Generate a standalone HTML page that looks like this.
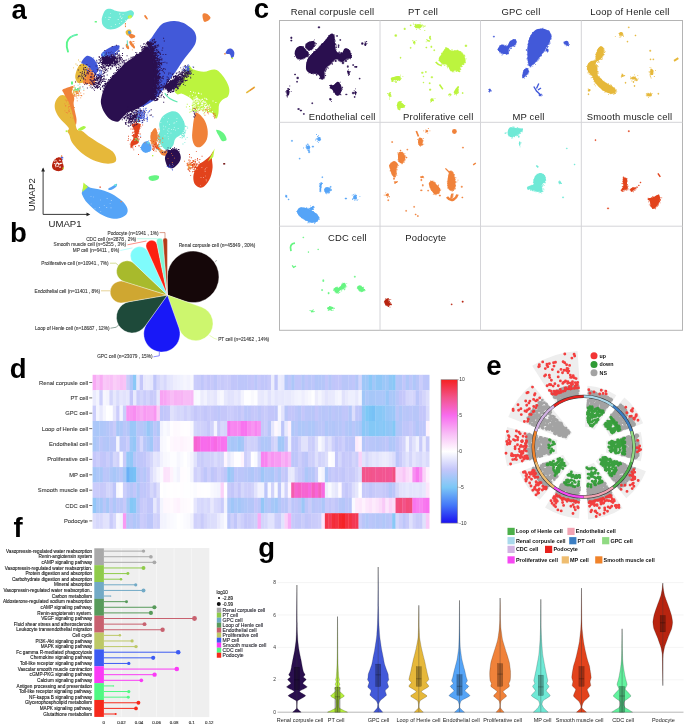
<!DOCTYPE html>
<html><head><meta charset="utf-8"><title>Figure</title>
<style>html,body{margin:0;padding:0;background:#fff}svg{display:block;font-family:"Liberation Sans",Arial,sans-serif}</style></head>
<body><svg width="685" height="728" viewBox="0 0 685 728">
<rect width="685" height="728" fill="#fff"/>
<g id="pa"><path d="M160.4,25.5C162.8,23.0 164.6,22.8 167.0,22.0C169.4,21.2 172.0,20.9 174.7,21.0C177.4,21.1 180.6,21.9 183.0,22.8C185.4,23.7 187.2,25.2 189.0,26.6C190.8,28.0 192.8,29.3 194.0,31.0C195.2,32.7 195.9,34.8 196.2,36.8C196.4,38.8 196.2,41.0 195.5,43.0C194.8,45.0 193.9,46.3 192.0,49.0C190.1,51.7 186.7,55.5 184.0,59.3C181.3,63.0 178.9,67.1 175.8,71.5C172.7,75.9 168.4,81.7 165.5,85.8C162.6,89.9 161.3,93.0 158.4,96.0C155.5,99.0 151.1,102.7 148.0,104.0C144.9,105.3 140.5,109.7 140.0,104.0C139.5,98.3 143.6,80.0 145.0,70.0C146.4,60.0 147.0,49.5 148.2,44.0C149.4,38.5 150.3,39.9 152.3,36.8C154.3,33.7 158.0,28.0 160.4,25.5Z" fill="#4259d9" />
<path d="M101.3,98.0C102.0,94.8 103.0,89.9 105.4,85.8C107.8,81.7 111.8,77.7 115.6,73.6C119.3,69.5 123.8,64.7 127.9,61.3C132.0,57.9 136.9,55.5 140.0,53.0C143.1,50.5 144.6,46.9 146.3,46.5C148.1,46.1 149.3,48.0 150.5,50.5C151.7,53.0 152.8,57.7 153.6,61.3C154.3,64.9 154.9,68.6 155.0,72.0C155.1,75.4 154.7,78.8 154.4,81.8C154.2,84.8 154.0,87.3 153.5,90.0C153.0,92.7 152.8,95.7 151.4,98.0C150.0,100.3 147.2,102.3 145.0,104.0C142.8,105.7 140.8,107.0 138.0,108.4C135.2,109.8 130.6,110.9 127.9,112.5C125.2,114.1 123.7,116.5 122.0,118.0C120.3,119.5 119.6,121.4 117.7,121.7C115.8,122.0 112.7,121.1 110.5,119.6C108.3,118.1 105.9,114.9 104.4,112.5C102.9,110.1 101.8,107.4 101.3,105.0C100.8,102.6 100.6,101.2 101.3,98.0Z" fill="#2a0f4f" />
<path d="M154.2,46.8h1.0v1.0h-1.0zM155.0,69.3h1.0v1.0h-1.0zM148.9,46.8h1.0v1.0h-1.0zM153.0,85.6h1.0v1.0h-1.0zM158.7,52.6h1.0v1.0h-1.0zM149.0,42.5h1.0v1.0h-1.0zM152.7,53.4h1.0v1.0h-1.0zM155.3,66.5h1.0v1.0h-1.0zM152.7,53.5h1.0v1.0h-1.0zM154.6,90.1h1.0v1.0h-1.0zM155.5,100.0h1.0v1.0h-1.0zM157.1,83.1h1.0v1.0h-1.0zM155.5,90.4h1.0v1.0h-1.0zM156.3,93.5h1.0v1.0h-1.0zM147.9,43.3h1.0v1.0h-1.0zM152.4,50.3h1.0v1.0h-1.0zM154.2,62.6h1.0v1.0h-1.0zM155.1,71.2h1.0v1.0h-1.0zM150.6,43.0h1.0v1.0h-1.0zM153.0,63.8h1.0v1.0h-1.0zM155.5,85.9h1.0v1.0h-1.0zM161.5,70.1h1.0v1.0h-1.0zM153.9,56.2h1.0v1.0h-1.0zM158.1,86.7h1.0v1.0h-1.0zM154.7,88.5h1.0v1.0h-1.0zM152.3,42.6h1.0v1.0h-1.0zM155.4,70.4h1.0v1.0h-1.0zM156.3,71.9h1.0v1.0h-1.0zM147.7,43.7h1.0v1.0h-1.0zM156.5,91.6h1.0v1.0h-1.0zM156.3,54.7h1.0v1.0h-1.0zM146.7,42.8h1.0v1.0h-1.0zM151.3,46.8h1.0v1.0h-1.0zM152.3,50.2h1.0v1.0h-1.0zM155.1,82.9h1.0v1.0h-1.0zM147.8,42.9h1.0v1.0h-1.0zM154.2,45.2h1.0v1.0h-1.0zM158.6,76.6h1.0v1.0h-1.0zM153.3,48.8h1.0v1.0h-1.0zM156.0,81.4h1.0v1.0h-1.0zM155.2,88.1h1.0v1.0h-1.0zM155.4,64.1h1.0v1.0h-1.0zM149.2,44.7h1.0v1.0h-1.0zM157.1,58.3h1.0v1.0h-1.0zM154.9,84.5h1.0v1.0h-1.0zM152.5,91.4h1.0v1.0h-1.0zM155.2,73.6h1.0v1.0h-1.0zM155.3,82.3h1.0v1.0h-1.0zM153.6,52.5h1.0v1.0h-1.0zM151.4,46.7h1.0v1.0h-1.0zM157.9,58.6h1.0v1.0h-1.0zM152.4,52.6h1.0v1.0h-1.0zM153.2,60.1h1.0v1.0h-1.0zM152.7,95.1h1.0v1.0h-1.0zM164.8,68.8h1.0v1.0h-1.0zM149.1,46.3h1.0v1.0h-1.0zM155.9,85.2h1.0v1.0h-1.0zM154.0,60.3h1.0v1.0h-1.0zM156.6,98.1h1.0v1.0h-1.0zM149.6,47.8h1.0v1.0h-1.0zM157.6,87.6h1.0v1.0h-1.0zM154.3,86.6h1.0v1.0h-1.0zM149.4,45.8h1.0v1.0h-1.0zM152.8,95.6h1.0v1.0h-1.0zM152.8,89.0h1.0v1.0h-1.0zM154.5,45.7h1.0v1.0h-1.0zM151.9,98.7h1.0v1.0h-1.0zM155.4,54.7h1.0v1.0h-1.0zM162.6,62.1h1.0v1.0h-1.0zM153.6,55.7h1.0v1.0h-1.0zM147.5,44.2h1.0v1.0h-1.0zM155.7,75.9h1.0v1.0h-1.0zM160.5,96.4h1.0v1.0h-1.0zM153.9,53.0h1.0v1.0h-1.0zM156.5,81.7h1.0v1.0h-1.0zM153.3,58.9h1.0v1.0h-1.0zM151.7,98.0h1.0v1.0h-1.0zM152.3,96.1h1.0v1.0h-1.0zM157.5,58.1h1.0v1.0h-1.0zM154.4,59.8h1.0v1.0h-1.0zM151.6,55.5h1.0v1.0h-1.0zM154.6,73.3h1.0v1.0h-1.0zM155.6,57.0h1.0v1.0h-1.0zM152.0,49.6h1.0v1.0h-1.0zM151.6,95.3h1.0v1.0h-1.0zM154.2,89.3h1.0v1.0h-1.0zM152.5,94.5h1.0v1.0h-1.0zM151.4,94.5h1.0v1.0h-1.0zM159.6,87.9h1.0v1.0h-1.0zM154.1,81.3h1.0v1.0h-1.0zM156.5,83.0h1.0v1.0h-1.0zM154.6,97.9h1.0v1.0h-1.0zM153.8,91.1h1.0v1.0h-1.0zM151.6,55.8h1.0v1.0h-1.0zM154.2,74.3h1.0v1.0h-1.0zM150.4,48.1h1.0v1.0h-1.0zM155.8,64.1h1.0v1.0h-1.0zM155.6,71.4h1.0v1.0h-1.0zM157.2,81.6h1.0v1.0h-1.0zM154.1,69.0h1.0v1.0h-1.0zM157.8,95.8h1.0v1.0h-1.0zM147.1,44.5h1.0v1.0h-1.0zM154.2,49.4h1.0v1.0h-1.0zM158.3,82.0h1.0v1.0h-1.0zM156.3,83.6h1.0v1.0h-1.0zM153.1,97.4h1.0v1.0h-1.0zM153.3,53.2h1.0v1.0h-1.0zM156.8,81.2h1.0v1.0h-1.0zM154.5,50.2h1.0v1.0h-1.0zM155.6,89.4h1.0v1.0h-1.0zM151.3,96.2h1.0v1.0h-1.0zM156.3,79.9h1.0v1.0h-1.0zM152.0,97.3h1.0v1.0h-1.0zM151.8,51.0h1.0v1.0h-1.0zM150.9,96.5h1.0v1.0h-1.0zM150.2,48.4h1.0v1.0h-1.0zM146.8,42.1h1.0v1.0h-1.0zM156.5,77.5h1.0v1.0h-1.0zM154.0,57.5h1.0v1.0h-1.0zM154.7,54.5h1.0v1.0h-1.0zM152.0,98.0h1.0v1.0h-1.0zM155.4,86.1h1.0v1.0h-1.0zM153.3,46.2h1.0v1.0h-1.0zM162.8,71.3h1.0v1.0h-1.0zM151.2,48.4h1.0v1.0h-1.0zM155.0,70.2h1.0v1.0h-1.0zM155.0,66.9h1.0v1.0h-1.0zM155.9,86.9h1.0v1.0h-1.0zM154.1,62.9h1.0v1.0h-1.0zM159.8,75.9h1.0v1.0h-1.0zM152.1,98.3h1.0v1.0h-1.0zM164.8,85.4h1.0v1.0h-1.0zM156.0,77.2h1.0v1.0h-1.0zM154.3,63.8h1.0v1.0h-1.0zM158.0,75.0h1.0v1.0h-1.0zM157.1,69.0h1.0v1.0h-1.0zM155.1,77.4h1.0v1.0h-1.0zM155.3,96.0h1.0v1.0h-1.0zM155.3,89.3h1.0v1.0h-1.0zM158.8,82.6h1.0v1.0h-1.0zM154.4,89.9h1.0v1.0h-1.0zM157.2,70.5h1.0v1.0h-1.0zM153.2,79.2h1.0v1.0h-1.0zM154.9,80.9h1.0v1.0h-1.0zM151.8,53.0h1.0v1.0h-1.0zM152.0,44.0h1.0v1.0h-1.0zM157.5,70.9h1.0v1.0h-1.0zM157.9,83.3h1.0v1.0h-1.0zM153.7,54.6h1.0v1.0h-1.0zM153.4,92.4h1.0v1.0h-1.0zM159.1,82.6h1.0v1.0h-1.0zM154.6,77.5h1.0v1.0h-1.0zM153.7,86.7h1.0v1.0h-1.0zM152.5,97.5h1.0v1.0h-1.0zM154.7,76.3h1.0v1.0h-1.0zM152.5,48.3h1.0v1.0h-1.0zM154.6,54.1h1.0v1.0h-1.0zM150.1,47.1h1.0v1.0h-1.0zM150.3,51.7h1.0v1.0h-1.0zM151.1,53.2h1.0v1.0h-1.0zM152.8,98.0h1.0v1.0h-1.0zM152.3,47.1h1.0v1.0h-1.0zM155.1,69.9h1.0v1.0h-1.0zM154.4,89.0h1.0v1.0h-1.0zM154.1,82.3h1.0v1.0h-1.0zM150.6,98.1h1.0v1.0h-1.0zM153.2,59.0h1.0v1.0h-1.0zM158.9,63.6h1.0v1.0h-1.0zM151.9,94.4h1.0v1.0h-1.0zM149.1,44.8h1.0v1.0h-1.0zM158.7,91.5h1.0v1.0h-1.0zM152.8,90.1h1.0v1.0h-1.0zM148.4,46.5h1.0v1.0h-1.0zM158.4,81.1h1.0v1.0h-1.0zM162.9,78.2h1.0v1.0h-1.0zM153.9,42.0h1.0v1.0h-1.0zM156.1,76.4h1.0v1.0h-1.0zM154.6,61.8h1.0v1.0h-1.0zM156.2,64.9h1.0v1.0h-1.0zM157.2,84.1h1.0v1.0h-1.0zM156.4,46.7h1.0v1.0h-1.0zM148.0,44.5h1.0v1.0h-1.0zM164.4,61.7h1.0v1.0h-1.0zM153.5,67.0h1.0v1.0h-1.0zM152.0,92.2h1.0v1.0h-1.0zM153.7,87.7h1.0v1.0h-1.0zM154.9,84.1h1.0v1.0h-1.0zM158.0,89.6h1.0v1.0h-1.0zM153.5,55.1h1.0v1.0h-1.0zM161.3,87.2h1.0v1.0h-1.0zM155.9,79.1h1.0v1.0h-1.0zM155.2,90.2h1.0v1.0h-1.0zM153.8,89.8h1.0v1.0h-1.0zM154.0,71.6h1.0v1.0h-1.0zM151.1,42.3h1.0v1.0h-1.0zM153.2,58.6h1.0v1.0h-1.0zM156.2,70.5h1.0v1.0h-1.0zM154.4,60.1h1.0v1.0h-1.0zM160.8,68.1h1.0v1.0h-1.0zM160.1,90.0h1.0v1.0h-1.0zM150.7,47.9h1.0v1.0h-1.0zM156.4,86.6h1.0v1.0h-1.0zM153.4,96.5h1.0v1.0h-1.0zM152.5,98.4h1.0v1.0h-1.0zM156.0,81.1h1.0v1.0h-1.0zM156.9,64.7h1.0v1.0h-1.0zM155.0,72.8h1.0v1.0h-1.0zM156.0,78.0h1.0v1.0h-1.0zM155.4,91.7h1.0v1.0h-1.0zM148.1,42.4h1.0v1.0h-1.0zM157.2,55.8h1.0v1.0h-1.0zM153.1,92.9h1.0v1.0h-1.0zM155.0,96.3h1.0v1.0h-1.0zM151.1,99.5h1.0v1.0h-1.0zM154.9,86.1h1.0v1.0h-1.0zM155.9,93.3h1.0v1.0h-1.0zM154.1,91.1h1.0v1.0h-1.0zM153.9,81.4h1.0v1.0h-1.0zM155.8,93.4h1.0v1.0h-1.0zM155.9,74.1h1.0v1.0h-1.0zM160.4,91.0h1.0v1.0h-1.0zM152.9,58.7h1.0v1.0h-1.0zM164.0,72.6h1.0v1.0h-1.0zM153.4,99.4h1.0v1.0h-1.0zM160.9,63.5h1.0v1.0h-1.0zM158.4,94.7h1.0v1.0h-1.0zM157.4,68.0h1.0v1.0h-1.0zM154.7,69.0h1.0v1.0h-1.0zM154.6,61.3h1.0v1.0h-1.0zM156.5,54.9h1.0v1.0h-1.0zM150.5,99.0h1.0v1.0h-1.0zM155.2,81.0h1.0v1.0h-1.0zM155.8,82.7h1.0v1.0h-1.0zM149.2,46.7h1.0v1.0h-1.0zM146.9,43.3h1.0v1.0h-1.0zM156.8,63.8h1.0v1.0h-1.0zM167.9,77.6h1.0v1.0h-1.0zM160.5,59.3h1.0v1.0h-1.0zM155.4,72.9h1.0v1.0h-1.0zM152.1,56.4h1.0v1.0h-1.0zM156.2,91.8h1.0v1.0h-1.0zM156.1,63.7h1.0v1.0h-1.0zM152.1,93.5h1.0v1.0h-1.0zM159.5,63.3h1.0v1.0h-1.0zM159.4,64.7h1.0v1.0h-1.0zM159.4,69.1h1.0v1.0h-1.0zM154.4,85.3h1.0v1.0h-1.0zM153.8,98.7h1.0v1.0h-1.0zM153.3,56.4h1.0v1.0h-1.0zM153.2,90.6h1.0v1.0h-1.0zM153.9,65.2h1.0v1.0h-1.0zM162.1,76.4h1.0v1.0h-1.0zM151.3,49.8h1.0v1.0h-1.0zM152.2,56.7h1.0v1.0h-1.0zM155.5,60.7h1.0v1.0h-1.0zM155.9,81.7h1.0v1.0h-1.0zM156.6,80.8h1.0v1.0h-1.0zM154.2,59.1h1.0v1.0h-1.0zM150.9,49.4h1.0v1.0h-1.0zM155.7,81.9h1.0v1.0h-1.0zM153.2,52.0h1.0v1.0h-1.0zM146.2,42.7h1.0v1.0h-1.0zM148.7,45.5h1.0v1.0h-1.0zM155.2,60.3h1.0v1.0h-1.0zM153.1,60.6h1.0v1.0h-1.0zM154.3,80.9h1.0v1.0h-1.0zM149.8,47.2h1.0v1.0h-1.0zM146.8,44.0h1.0v1.0h-1.0zM154.6,78.0h1.0v1.0h-1.0zM155.2,70.8h1.0v1.0h-1.0zM156.1,87.7h1.0v1.0h-1.0zM153.3,91.5h1.0v1.0h-1.0zM155.8,71.5h1.0v1.0h-1.0zM154.2,93.8h1.0v1.0h-1.0zM154.4,70.9h1.0v1.0h-1.0zM154.7,73.1h1.0v1.0h-1.0zM155.3,68.6h1.0v1.0h-1.0zM155.4,79.1h1.0v1.0h-1.0zM156.8,83.4h1.0v1.0h-1.0zM154.3,80.7h1.0v1.0h-1.0zM153.0,91.7h1.0v1.0h-1.0zM158.7,59.6h1.0v1.0h-1.0zM155.1,63.3h1.0v1.0h-1.0zM154.8,55.7h1.0v1.0h-1.0zM153.9,38.8h1.0v1.0h-1.0zM155.7,62.6h1.0v1.0h-1.0zM155.1,86.9h1.0v1.0h-1.0zM156.1,64.6h1.0v1.0h-1.0zM150.1,42.7h1.0v1.0h-1.0zM149.2,47.8h1.0v1.0h-1.0zM162.6,54.0h1.0v1.0h-1.0zM157.7,88.6h1.0v1.0h-1.0zM153.4,54.7h1.0v1.0h-1.0zM159.5,87.3h1.0v1.0h-1.0zM156.2,60.5h1.0v1.0h-1.0zM148.8,44.6h1.0v1.0h-1.0zM154.4,88.5h1.0v1.0h-1.0zM153.8,70.6h1.0v1.0h-1.0zM152.8,50.6h1.0v1.0h-1.0zM163.8,83.2h1.0v1.0h-1.0zM158.2,63.3h1.0v1.0h-1.0zM150.2,46.8h1.0v1.0h-1.0zM154.6,86.9h1.0v1.0h-1.0zM156.8,86.6h1.0v1.0h-1.0zM156.7,72.1h1.0v1.0h-1.0zM151.3,49.5h1.0v1.0h-1.0zM148.7,45.4h1.0v1.0h-1.0zM154.6,88.2h1.0v1.0h-1.0zM160.6,91.1h1.0v1.0h-1.0zM157.7,77.9h1.0v1.0h-1.0zM153.6,62.9h1.0v1.0h-1.0zM154.2,94.6h1.0v1.0h-1.0zM160.6,86.7h1.0v1.0h-1.0zM155.6,75.4h1.0v1.0h-1.0zM154.3,95.7h1.0v1.0h-1.0zM155.9,79.7h1.0v1.0h-1.0zM151.5,47.4h1.0v1.0h-1.0zM155.9,78.4h1.0v1.0h-1.0zM153.7,39.4h1.0v1.0h-1.0zM156.3,64.9h1.0v1.0h-1.0zM154.2,59.2h1.0v1.0h-1.0zM153.7,65.4h1.0v1.0h-1.0zM155.1,51.9h1.0v1.0h-1.0zM159.0,73.2h1.0v1.0h-1.0zM154.7,83.8h1.0v1.0h-1.0zM153.7,61.1h1.0v1.0h-1.0zM150.5,49.2h1.0v1.0h-1.0zM154.0,72.5h1.0v1.0h-1.0zM156.1,74.6h1.0v1.0h-1.0zM154.2,77.3h1.0v1.0h-1.0zM154.6,84.2h1.0v1.0h-1.0zM151.6,48.1h1.0v1.0h-1.0zM153.7,62.3h1.0v1.0h-1.0zM157.8,61.1h1.0v1.0h-1.0zM155.4,61.0h1.0v1.0h-1.0zM152.5,53.4h1.0v1.0h-1.0zM156.6,75.4h1.0v1.0h-1.0zM151.6,43.6h1.0v1.0h-1.0zM153.8,97.5h1.0v1.0h-1.0zM154.8,78.3h1.0v1.0h-1.0zM154.8,45.2h1.0v1.0h-1.0zM160.3,63.1h1.0v1.0h-1.0zM151.8,56.1h1.0v1.0h-1.0zM154.2,85.6h1.0v1.0h-1.0zM154.1,55.4h1.0v1.0h-1.0zM159.3,69.8h1.0v1.0h-1.0zM154.8,65.7h1.0v1.0h-1.0zM151.5,48.0h1.0v1.0h-1.0zM154.8,52.4h1.0v1.0h-1.0zM151.8,93.7h1.0v1.0h-1.0zM155.4,65.3h1.0v1.0h-1.0zM152.4,51.8h1.0v1.0h-1.0zM159.0,60.5h1.0v1.0h-1.0zM152.9,42.9h1.0v1.0h-1.0zM151.2,51.2h1.0v1.0h-1.0zM149.5,43.6h1.0v1.0h-1.0zM166.4,62.5h1.0v1.0h-1.0zM155.5,78.5h1.0v1.0h-1.0zM153.5,95.6h1.0v1.0h-1.0zM155.7,65.8h1.0v1.0h-1.0zM159.0,76.2h1.0v1.0h-1.0zM156.2,87.7h1.0v1.0h-1.0zM155.8,87.5h1.0v1.0h-1.0zM151.9,40.4h1.0v1.0h-1.0zM156.4,72.7h1.0v1.0h-1.0zM158.5,78.4h1.0v1.0h-1.0zM153.3,88.4h1.0v1.0h-1.0zM156.9,52.3h1.0v1.0h-1.0zM154.8,58.1h1.0v1.0h-1.0zM155.0,91.2h1.0v1.0h-1.0zM158.4,78.8h1.0v1.0h-1.0zM156.2,72.8h1.0v1.0h-1.0zM157.4,49.5h1.0v1.0h-1.0zM155.3,56.9h1.0v1.0h-1.0zM153.6,56.5h1.0v1.0h-1.0zM161.6,94.2h1.0v1.0h-1.0zM159.2,57.6h1.0v1.0h-1.0zM154.7,66.5h1.0v1.0h-1.0zM156.1,58.5h1.0v1.0h-1.0zM157.2,75.2h1.0v1.0h-1.0zM151.3,97.6h1.0v1.0h-1.0zM154.5,75.3h1.0v1.0h-1.0zM154.9,41.9h1.0v1.0h-1.0zM154.3,83.2h1.0v1.0h-1.0zM150.6,98.3h1.0v1.0h-1.0zM150.3,41.2h1.0v1.0h-1.0zM149.0,43.3h1.0v1.0h-1.0zM154.6,69.7h1.0v1.0h-1.0zM151.2,52.2h1.0v1.0h-1.0zM152.6,95.5h1.0v1.0h-1.0zM146.7,42.8h1.0v1.0h-1.0zM152.3,96.3h1.0v1.0h-1.0zM149.3,44.9h1.0v1.0h-1.0zM155.1,97.3h1.0v1.0h-1.0zM155.3,69.7h1.0v1.0h-1.0zM153.4,91.3h1.0v1.0h-1.0zM155.2,80.3h1.0v1.0h-1.0zM154.7,76.8h1.0v1.0h-1.0zM149.0,43.7h1.0v1.0h-1.0zM157.1,66.4h1.0v1.0h-1.0zM154.9,77.7h1.0v1.0h-1.0zM157.5,60.8h1.0v1.0h-1.0zM154.7,84.3h1.0v1.0h-1.0zM158.3,75.4h1.0v1.0h-1.0zM149.1,46.3h1.0v1.0h-1.0zM152.7,47.4h1.0v1.0h-1.0zM159.6,52.4h1.0v1.0h-1.0zM154.9,85.7h1.0v1.0h-1.0zM153.3,57.8h1.0v1.0h-1.0zM152.7,92.1h1.0v1.0h-1.0zM156.4,76.4h1.0v1.0h-1.0zM154.5,64.6h1.0v1.0h-1.0zM159.4,84.8h1.0v1.0h-1.0zM154.1,58.4h1.0v1.0h-1.0zM155.6,62.1h1.0v1.0h-1.0zM154.7,58.8h1.0v1.0h-1.0zM155.1,72.9h1.0v1.0h-1.0zM149.5,45.9h1.0v1.0h-1.0zM157.3,84.8h1.0v1.0h-1.0zM154.2,62.8h1.0v1.0h-1.0zM155.0,70.3h1.0v1.0h-1.0zM148.5,45.9h1.0v1.0h-1.0zM153.0,90.6h1.0v1.0h-1.0zM153.0,60.4h1.0v1.0h-1.0zM151.6,52.5h1.0v1.0h-1.0zM152.1,54.4h1.0v1.0h-1.0zM155.5,73.5h1.0v1.0h-1.0zM146.8,42.3h1.0v1.0h-1.0zM151.8,53.7h1.0v1.0h-1.0zM159.1,88.2h1.0v1.0h-1.0zM150.2,50.2h1.0v1.0h-1.0zM155.8,75.0h1.0v1.0h-1.0zM149.9,48.0h1.0v1.0h-1.0zM155.2,97.6h1.0v1.0h-1.0zM153.0,55.5h1.0v1.0h-1.0zM152.0,55.9h1.0v1.0h-1.0zM154.4,92.1h1.0v1.0h-1.0zM154.8,63.9h1.0v1.0h-1.0zM158.1,93.5h1.0v1.0h-1.0zM152.1,43.8h1.0v1.0h-1.0zM158.1,96.0h1.0v1.0h-1.0zM154.5,67.6h1.0v1.0h-1.0zM147.2,43.2h1.0v1.0h-1.0zM155.5,92.8h1.0v1.0h-1.0zM154.7,77.7h1.0v1.0h-1.0zM154.3,54.7h1.0v1.0h-1.0zM153.3,58.5h1.0v1.0h-1.0zM156.1,95.3h1.0v1.0h-1.0zM153.1,51.5h1.0v1.0h-1.0zM152.2,52.0h1.0v1.0h-1.0zM157.2,92.5h1.0v1.0h-1.0zM155.4,80.3h1.0v1.0h-1.0zM147.2,43.0h1.0v1.0h-1.0zM151.9,53.0h1.0v1.0h-1.0zM155.2,64.5h1.0v1.0h-1.0zM153.8,81.7h1.0v1.0h-1.0zM159.1,62.1h1.0v1.0h-1.0zM154.6,58.5h1.0v1.0h-1.0zM153.1,94.2h1.0v1.0h-1.0zM155.6,74.7h1.0v1.0h-1.0zM153.9,66.6h1.0v1.0h-1.0zM150.4,49.1h1.0v1.0h-1.0zM148.2,43.9h1.0v1.0h-1.0zM152.4,91.3h1.0v1.0h-1.0zM155.3,60.0h1.0v1.0h-1.0zM150.3,98.4h1.0v1.0h-1.0zM147.1,44.3h1.0v1.0h-1.0zM149.8,49.6h1.0v1.0h-1.0zM168.5,72.5h1.0v1.0h-1.0zM155.7,74.3h1.0v1.0h-1.0zM150.4,44.1h1.0v1.0h-1.0zM151.4,51.9h1.0v1.0h-1.0zM151.8,55.6h1.0v1.0h-1.0zM155.1,57.7h1.0v1.0h-1.0zM151.7,95.3h1.0v1.0h-1.0zM156.0,73.5h1.0v1.0h-1.0zM153.4,59.7h1.0v1.0h-1.0zM159.2,73.8h1.0v1.0h-1.0zM161.7,92.3h1.0v1.0h-1.0zM155.3,54.8h1.0v1.0h-1.0zM157.7,73.7h1.0v1.0h-1.0zM156.3,73.7h1.0v1.0h-1.0zM157.8,73.8h1.0v1.0h-1.0zM150.7,43.1h1.0v1.0h-1.0zM156.5,81.4h1.0v1.0h-1.0zM154.7,85.5h1.0v1.0h-1.0zM159.8,91.2h1.0v1.0h-1.0zM152.4,50.9h1.0v1.0h-1.0zM152.1,91.7h1.0v1.0h-1.0zM163.2,101.8h1.0v1.0h-1.0zM151.6,99.3h1.0v1.0h-1.0zM154.7,76.9h1.0v1.0h-1.0zM155.9,67.8h1.0v1.0h-1.0zM153.2,96.8h1.0v1.0h-1.0zM150.4,50.2h1.0v1.0h-1.0zM156.0,62.4h1.0v1.0h-1.0zM157.4,66.4h1.0v1.0h-1.0zM150.9,43.7h1.0v1.0h-1.0zM153.5,66.9h1.0v1.0h-1.0zM148.0,43.7h1.0v1.0h-1.0zM159.7,62.9h1.0v1.0h-1.0zM154.7,75.4h1.0v1.0h-1.0zM153.6,87.5h1.0v1.0h-1.0zM154.1,90.7h1.0v1.0h-1.0zM149.4,44.1h1.0v1.0h-1.0zM154.0,70.4h1.0v1.0h-1.0zM155.2,93.5h1.0v1.0h-1.0zM158.2,45.5h1.0v1.0h-1.0zM153.2,88.5h1.0v1.0h-1.0zM149.4,47.5h1.0v1.0h-1.0zM154.3,62.7h1.0v1.0h-1.0zM155.3,69.0h1.0v1.0h-1.0zM155.2,74.6h1.0v1.0h-1.0zM154.9,69.4h1.0v1.0h-1.0zM155.3,71.5h1.0v1.0h-1.0zM156.7,73.1h1.0v1.0h-1.0zM155.5,75.6h1.0v1.0h-1.0zM154.6,72.4h1.0v1.0h-1.0zM155.0,75.0h1.0v1.0h-1.0zM154.7,85.2h1.0v1.0h-1.0zM155.3,61.2h1.0v1.0h-1.0zM158.2,87.4h1.0v1.0h-1.0zM156.4,63.7h1.0v1.0h-1.0zM159.7,63.0h1.0v1.0h-1.0zM158.1,86.9h1.0v1.0h-1.0zM155.3,76.4h1.0v1.0h-1.0zM158.1,66.1h1.0v1.0h-1.0zM152.1,48.8h1.0v1.0h-1.0zM153.5,85.1h1.0v1.0h-1.0zM157.8,78.2h1.0v1.0h-1.0zM151.6,53.1h1.0v1.0h-1.0zM150.9,97.1h1.0v1.0h-1.0zM150.8,48.2h1.0v1.0h-1.0zM152.8,59.5h1.0v1.0h-1.0zM152.4,54.4h1.0v1.0h-1.0zM150.2,45.9h1.0v1.0h-1.0zM153.8,61.7h1.0v1.0h-1.0zM148.8,44.7h1.0v1.0h-1.0zM154.2,82.9h1.0v1.0h-1.0zM153.9,81.4h1.0v1.0h-1.0zM157.6,87.7h1.0v1.0h-1.0zM153.5,63.3h1.0v1.0h-1.0zM156.6,71.1h1.0v1.0h-1.0zM154.4,62.2h1.0v1.0h-1.0zM155.3,62.3h1.0v1.0h-1.0zM151.3,54.7h1.0v1.0h-1.0zM156.7,77.2h1.0v1.0h-1.0zM152.6,88.9h1.0v1.0h-1.0zM158.4,64.3h1.0v1.0h-1.0zM155.4,94.6h1.0v1.0h-1.0zM156.2,67.1h1.0v1.0h-1.0zM157.7,60.6h1.0v1.0h-1.0zM154.1,66.4h1.0v1.0h-1.0zM153.9,57.4h1.0v1.0h-1.0zM163.1,88.3h1.0v1.0h-1.0zM153.9,76.0h1.0v1.0h-1.0zM153.4,96.4h1.0v1.0h-1.0zM153.0,94.5h1.0v1.0h-1.0zM153.2,66.1h1.0v1.0h-1.0zM154.0,62.8h1.0v1.0h-1.0zM151.9,46.9h1.0v1.0h-1.0zM152.1,94.5h1.0v1.0h-1.0zM156.2,74.3h1.0v1.0h-1.0zM154.8,75.5h1.0v1.0h-1.0zM165.3,54.0h1.0v1.0h-1.0zM155.7,68.8h1.0v1.0h-1.0zM155.1,82.1h1.0v1.0h-1.0zM156.7,70.0h1.0v1.0h-1.0zM156.1,64.6h1.0v1.0h-1.0zM155.1,77.8h1.0v1.0h-1.0zM156.3,98.7h1.0v1.0h-1.0zM156.4,90.8h1.0v1.0h-1.0zM163.8,40.6h1.0v1.0h-1.0zM157.3,66.4h1.0v1.0h-1.0zM157.7,44.2h1.0v1.0h-1.0zM154.2,77.2h1.0v1.0h-1.0zM159.9,54.1h1.0v1.0h-1.0zM151.5,46.4h1.0v1.0h-1.0zM160.2,81.7h1.0v1.0h-1.0zM156.2,71.5h1.0v1.0h-1.0zM148.3,45.0h1.0v1.0h-1.0zM156.4,58.0h1.0v1.0h-1.0zM152.2,91.7h1.0v1.0h-1.0zM155.2,74.0h1.0v1.0h-1.0zM156.4,55.0h1.0v1.0h-1.0zM148.9,42.5h1.0v1.0h-1.0zM158.0,66.5h1.0v1.0h-1.0zM149.6,42.5h1.0v1.0h-1.0zM153.2,91.2h1.0v1.0h-1.0zM154.4,100.2h1.0v1.0h-1.0zM158.4,62.0h1.0v1.0h-1.0zM155.0,55.3h1.0v1.0h-1.0zM152.2,46.1h1.0v1.0h-1.0zM147.2,41.3h1.0v1.0h-1.0zM156.1,99.8h1.0v1.0h-1.0zM153.4,62.7h1.0v1.0h-1.0zM152.9,91.0h1.0v1.0h-1.0zM154.7,93.4h1.0v1.0h-1.0zM149.3,46.9h1.0v1.0h-1.0zM155.2,60.8h1.0v1.0h-1.0zM155.2,66.2h1.0v1.0h-1.0zM161.6,78.1h1.0v1.0h-1.0zM154.5,57.3h1.0v1.0h-1.0zM154.1,56.9h1.0v1.0h-1.0zM152.9,46.4h1.0v1.0h-1.0zM160.8,87.1h1.0v1.0h-1.0zM160.2,79.6h1.0v1.0h-1.0zM154.4,84.5h1.0v1.0h-1.0zM150.6,97.2h1.0v1.0h-1.0zM161.9,86.4h1.0v1.0h-1.0zM151.5,54.4h1.0v1.0h-1.0zM151.1,45.2h1.0v1.0h-1.0zM155.3,76.6h1.0v1.0h-1.0zM148.1,44.4h1.0v1.0h-1.0zM159.1,77.3h1.0v1.0h-1.0zM159.4,78.3h1.0v1.0h-1.0zM152.8,98.7h1.0v1.0h-1.0zM154.7,99.9h1.0v1.0h-1.0zM148.3,41.2h1.0v1.0h-1.0zM150.9,49.8h1.0v1.0h-1.0zM150.8,52.6h1.0v1.0h-1.0zM154.6,91.9h1.0v1.0h-1.0zM151.3,53.9h1.0v1.0h-1.0zM154.7,82.3h1.0v1.0h-1.0zM157.9,70.5h1.0v1.0h-1.0zM148.2,45.5h1.0v1.0h-1.0zM154.4,73.3h1.0v1.0h-1.0zM154.6,72.6h1.0v1.0h-1.0zM160.3,77.0h1.0v1.0h-1.0zM152.7,57.8h1.0v1.0h-1.0zM151.0,97.8h1.0v1.0h-1.0zM153.2,58.4h1.0v1.0h-1.0zM156.5,50.7h1.0v1.0h-1.0zM154.0,79.9h1.0v1.0h-1.0zM153.3,53.3h1.0v1.0h-1.0zM147.0,42.4h1.0v1.0h-1.0zM151.6,94.0h1.0v1.0h-1.0zM147.2,42.5h1.0v1.0h-1.0zM153.8,92.2h1.0v1.0h-1.0zM151.7,51.6h1.0v1.0h-1.0zM151.3,53.3h1.0v1.0h-1.0zM152.8,53.2h1.0v1.0h-1.0zM158.9,75.8h1.0v1.0h-1.0zM153.8,81.3h1.0v1.0h-1.0zM152.2,57.3h1.0v1.0h-1.0zM157.3,98.2h1.0v1.0h-1.0zM152.4,51.8h1.0v1.0h-1.0zM150.6,46.2h1.0v1.0h-1.0zM152.2,92.1h1.0v1.0h-1.0zM149.2,43.2h1.0v1.0h-1.0zM155.4,88.6h1.0v1.0h-1.0zM153.5,97.9h1.0v1.0h-1.0zM154.2,60.2h1.0v1.0h-1.0zM155.4,88.9h1.0v1.0h-1.0zM152.6,95.9h1.0v1.0h-1.0zM156.1,63.0h1.0v1.0h-1.0zM158.6,76.4h1.0v1.0h-1.0zM154.4,74.5h1.0v1.0h-1.0zM158.1,77.6h1.0v1.0h-1.0zM159.4,70.1h1.0v1.0h-1.0zM158.0,75.4h1.0v1.0h-1.0zM153.3,49.7h1.0v1.0h-1.0zM155.3,69.3h1.0v1.0h-1.0zM152.6,57.9h1.0v1.0h-1.0zM154.5,79.4h1.0v1.0h-1.0zM155.9,62.1h1.0v1.0h-1.0zM154.5,88.0h1.0v1.0h-1.0zM156.3,73.6h1.0v1.0h-1.0zM146.7,43.4h1.0v1.0h-1.0zM157.6,77.2h1.0v1.0h-1.0zM159.7,53.3h1.0v1.0h-1.0zM153.4,82.5h1.0v1.0h-1.0zM150.8,98.8h1.0v1.0h-1.0zM148.0,41.4h1.0v1.0h-1.0zM153.8,89.7h1.0v1.0h-1.0zM152.3,97.3h1.0v1.0h-1.0zM154.7,82.7h1.0v1.0h-1.0zM159.9,59.2h1.0v1.0h-1.0zM153.4,85.0h1.0v1.0h-1.0zM155.5,70.5h1.0v1.0h-1.0zM153.8,99.6h1.0v1.0h-1.0zM158.7,82.5h1.0v1.0h-1.0zM155.5,61.1h1.0v1.0h-1.0zM151.2,54.1h1.0v1.0h-1.0zM153.1,92.0h1.0v1.0h-1.0zM151.7,55.6h1.0v1.0h-1.0zM151.4,49.7h1.0v1.0h-1.0zM156.8,72.7h1.0v1.0h-1.0zM149.1,43.9h1.0v1.0h-1.0zM154.9,75.3h1.0v1.0h-1.0zM152.9,95.9h1.0v1.0h-1.0zM154.2,66.8h1.0v1.0h-1.0zM155.0,83.7h1.0v1.0h-1.0zM155.3,41.1h1.0v1.0h-1.0zM162.8,75.8h1.0v1.0h-1.0zM153.1,48.2h1.0v1.0h-1.0zM158.4,51.6h1.0v1.0h-1.0zM154.7,94.5h1.0v1.0h-1.0zM152.6,90.7h1.0v1.0h-1.0zM154.0,82.1h1.0v1.0h-1.0zM155.9,48.9h1.0v1.0h-1.0zM159.1,65.1h1.0v1.0h-1.0zM150.7,44.6h1.0v1.0h-1.0zM155.7,73.3h1.0v1.0h-1.0zM147.6,42.7h1.0v1.0h-1.0zM155.5,72.4h1.0v1.0h-1.0zM153.3,56.3h1.0v1.0h-1.0zM154.6,54.8h1.0v1.0h-1.0zM149.6,41.9h1.0v1.0h-1.0zM158.9,86.1h1.0v1.0h-1.0zM155.8,66.1h1.0v1.0h-1.0zM155.7,92.9h1.0v1.0h-1.0zM151.0,43.0h1.0v1.0h-1.0zM155.3,78.4h1.0v1.0h-1.0zM150.8,98.4h1.0v1.0h-1.0zM157.7,76.2h1.0v1.0h-1.0zM153.6,40.9h1.0v1.0h-1.0zM158.8,77.3h1.0v1.0h-1.0zM156.1,83.3h1.0v1.0h-1.0zM157.1,81.3h1.0v1.0h-1.0zM154.0,65.2h1.0v1.0h-1.0zM157.0,99.6h1.0v1.0h-1.0zM155.9,69.6h1.0v1.0h-1.0zM154.6,63.2h1.0v1.0h-1.0zM153.8,83.9h1.0v1.0h-1.0zM152.8,56.9h1.0v1.0h-1.0zM158.5,80.9h1.0v1.0h-1.0zM157.7,67.8h1.0v1.0h-1.0zM153.8,88.6h1.0v1.0h-1.0zM148.7,43.7h1.0v1.0h-1.0zM159.1,91.6h1.0v1.0h-1.0zM152.9,88.6h1.0v1.0h-1.0zM152.9,91.2h1.0v1.0h-1.0zM157.9,70.3h1.0v1.0h-1.0zM159.2,92.5h1.0v1.0h-1.0zM148.7,42.0h1.0v1.0h-1.0zM152.3,91.9h1.0v1.0h-1.0zM158.7,96.8h1.0v1.0h-1.0zM157.1,44.9h1.0v1.0h-1.0zM155.7,86.0h1.0v1.0h-1.0zM156.7,62.2h1.0v1.0h-1.0zM154.3,80.6h1.0v1.0h-1.0zM157.6,52.0h1.0v1.0h-1.0zM154.9,76.6h1.0v1.0h-1.0zM151.8,47.7h1.0v1.0h-1.0zM149.2,48.3h1.0v1.0h-1.0zM151.6,52.4h1.0v1.0h-1.0zM158.7,59.9h1.0v1.0h-1.0zM153.7,48.1h1.0v1.0h-1.0zM152.5,57.1h1.0v1.0h-1.0zM158.1,79.7h1.0v1.0h-1.0zM151.3,50.2h1.0v1.0h-1.0zM155.8,84.8h1.0v1.0h-1.0zM157.2,96.1h1.0v1.0h-1.0zM153.3,39.3h1.0v1.0h-1.0zM158.2,54.9h1.0v1.0h-1.0zM155.0,81.0h1.0v1.0h-1.0zM157.4,98.9h1.0v1.0h-1.0zM153.9,87.2h1.0v1.0h-1.0zM154.5,97.1h1.0v1.0h-1.0zM152.1,44.0h1.0v1.0h-1.0zM154.8,68.4h1.0v1.0h-1.0zM162.2,76.6h1.0v1.0h-1.0zM155.5,85.9h1.0v1.0h-1.0zM154.4,77.5h1.0v1.0h-1.0zM154.6,90.3h1.0v1.0h-1.0zM158.0,64.2h1.0v1.0h-1.0zM154.4,79.8h1.0v1.0h-1.0zM148.1,43.4h1.0v1.0h-1.0zM155.0,79.0h1.0v1.0h-1.0zM153.2,60.1h1.0v1.0h-1.0zM155.9,74.6h1.0v1.0h-1.0zM154.5,87.9h1.0v1.0h-1.0zM161.3,80.5h1.0v1.0h-1.0zM156.3,49.7h1.0v1.0h-1.0zM151.4,97.5h1.0v1.0h-1.0zM153.4,64.8h1.0v1.0h-1.0zM149.7,49.2h1.0v1.0h-1.0zM156.7,66.0h1.0v1.0h-1.0zM148.4,42.9h1.0v1.0h-1.0zM157.5,84.6h1.0v1.0h-1.0zM154.2,87.3h1.0v1.0h-1.0zM161.2,62.6h1.0v1.0h-1.0zM155.7,62.3h1.0v1.0h-1.0zM154.8,59.9h1.0v1.0h-1.0zM154.2,70.4h1.0v1.0h-1.0zM157.9,80.1h1.0v1.0h-1.0zM152.5,98.8h1.0v1.0h-1.0zM154.5,80.3h1.0v1.0h-1.0zM151.6,55.8h1.0v1.0h-1.0zM154.6,81.6h1.0v1.0h-1.0zM151.3,51.3h1.0v1.0h-1.0zM153.4,64.2h1.0v1.0h-1.0zM153.8,63.5h1.0v1.0h-1.0zM151.5,43.8h1.0v1.0h-1.0zM157.3,71.9h1.0v1.0h-1.0zM146.4,43.3h1.0v1.0h-1.0zM156.0,98.4h1.0v1.0h-1.0zM154.8,64.0h1.0v1.0h-1.0zM155.9,66.8h1.0v1.0h-1.0zM153.2,51.6h1.0v1.0h-1.0zM153.1,57.9h1.0v1.0h-1.0zM155.1,77.5h1.0v1.0h-1.0zM156.1,52.6h1.0v1.0h-1.0zM151.5,53.9h1.0v1.0h-1.0zM156.2,78.9h1.0v1.0h-1.0zM155.3,77.5h1.0v1.0h-1.0zM160.7,84.0h1.0v1.0h-1.0zM158.3,64.0h1.0v1.0h-1.0zM156.8,56.2h1.0v1.0h-1.0zM154.8,74.8h1.0v1.0h-1.0zM154.0,86.1h1.0v1.0h-1.0zM152.7,60.2h1.0v1.0h-1.0zM157.9,86.9h1.0v1.0h-1.0zM155.5,62.1h1.0v1.0h-1.0zM154.9,65.9h1.0v1.0h-1.0zM157.1,83.4h1.0v1.0h-1.0zM154.1,82.0h1.0v1.0h-1.0zM154.5,76.8h1.0v1.0h-1.0zM156.3,63.2h1.0v1.0h-1.0zM155.0,60.2h1.0v1.0h-1.0zM160.5,62.3h1.0v1.0h-1.0zM156.8,69.9h1.0v1.0h-1.0zM152.9,97.9h1.0v1.0h-1.0zM152.8,89.9h1.0v1.0h-1.0zM152.3,47.2h1.0v1.0h-1.0zM153.5,88.7h1.0v1.0h-1.0zM154.3,76.4h1.0v1.0h-1.0zM150.5,51.2h1.0v1.0h-1.0zM154.6,81.2h1.0v1.0h-1.0zM153.7,97.0h1.0v1.0h-1.0zM155.6,85.0h1.0v1.0h-1.0zM154.2,71.6h1.0v1.0h-1.0zM155.7,73.0h1.0v1.0h-1.0zM154.8,72.9h1.0v1.0h-1.0zM154.5,62.1h1.0v1.0h-1.0zM170.7,81.4h1.0v1.0h-1.0zM154.9,99.8h1.0v1.0h-1.0zM155.0,68.2h1.0v1.0h-1.0zM154.7,69.1h1.0v1.0h-1.0zM156.8,56.5h1.0v1.0h-1.0zM154.3,65.3h1.0v1.0h-1.0zM148.3,44.9h1.0v1.0h-1.0zM153.4,58.4h1.0v1.0h-1.0zM153.7,60.0h1.0v1.0h-1.0zM161.2,84.6h1.0v1.0h-1.0zM155.2,69.6h1.0v1.0h-1.0zM152.9,95.7h1.0v1.0h-1.0zM153.4,70.6h1.0v1.0h-1.0zM154.5,79.0h1.0v1.0h-1.0zM153.0,90.2h1.0v1.0h-1.0zM150.3,49.5h1.0v1.0h-1.0zM154.6,70.6h1.0v1.0h-1.0zM152.7,62.7h1.0v1.0h-1.0zM151.7,97.2h1.0v1.0h-1.0zM156.4,59.7h1.0v1.0h-1.0zM155.7,87.9h1.0v1.0h-1.0zM152.7,94.0h1.0v1.0h-1.0zM153.8,99.3h1.0v1.0h-1.0zM154.2,71.6h1.0v1.0h-1.0zM151.9,48.1h1.0v1.0h-1.0zM156.6,46.2h1.0v1.0h-1.0zM150.6,98.1h1.0v1.0h-1.0zM149.9,46.1h1.0v1.0h-1.0zM157.6,60.5h1.0v1.0h-1.0zM156.9,87.9h1.0v1.0h-1.0zM160.8,84.6h1.0v1.0h-1.0zM161.4,58.2h1.0v1.0h-1.0zM152.3,51.4h1.0v1.0h-1.0zM155.8,87.1h1.0v1.0h-1.0zM154.4,82.8h1.0v1.0h-1.0zM151.7,99.2h1.0v1.0h-1.0zM155.0,70.2h1.0v1.0h-1.0zM153.2,55.2h1.0v1.0h-1.0zM146.9,41.8h1.0v1.0h-1.0zM152.4,94.4h1.0v1.0h-1.0zM161.4,59.4h1.0v1.0h-1.0zM159.5,73.1h1.0v1.0h-1.0zM152.8,48.0h1.0v1.0h-1.0zM155.0,46.7h1.0v1.0h-1.0zM147.9,43.5h1.0v1.0h-1.0zM154.6,47.8h1.0v1.0h-1.0zM156.8,83.1h1.0v1.0h-1.0zM154.4,65.7h1.0v1.0h-1.0zM163.4,67.9h1.0v1.0h-1.0zM154.3,90.7h1.0v1.0h-1.0zM150.4,98.1h1.0v1.0h-1.0zM157.8,82.0h1.0v1.0h-1.0zM155.9,52.8h1.0v1.0h-1.0zM151.6,53.6h1.0v1.0h-1.0zM153.4,60.7h1.0v1.0h-1.0zM154.4,51.9h1.0v1.0h-1.0zM154.7,82.7h1.0v1.0h-1.0zM151.2,51.3h1.0v1.0h-1.0zM154.0,95.4h1.0v1.0h-1.0zM150.4,44.5h1.0v1.0h-1.0zM153.8,62.2h1.0v1.0h-1.0zM153.0,43.7h1.0v1.0h-1.0zM153.2,61.3h1.0v1.0h-1.0zM155.1,57.9h1.0v1.0h-1.0zM156.3,82.6h1.0v1.0h-1.0zM150.2,44.3h1.0v1.0h-1.0zM153.9,96.1h1.0v1.0h-1.0zM153.5,55.2h1.0v1.0h-1.0zM152.4,96.9h1.0v1.0h-1.0zM154.8,73.9h1.0v1.0h-1.0zM153.6,65.3h1.0v1.0h-1.0zM154.4,71.7h1.0v1.0h-1.0zM153.2,60.9h1.0v1.0h-1.0zM154.6,73.7h1.0v1.0h-1.0zM162.1,69.5h1.0v1.0h-1.0zM148.5,46.8h1.0v1.0h-1.0zM156.6,59.9h1.0v1.0h-1.0zM155.9,64.8h1.0v1.0h-1.0zM153.7,80.0h1.0v1.0h-1.0zM160.3,56.4h1.0v1.0h-1.0zM154.7,63.8h1.0v1.0h-1.0zM157.0,79.2h1.0v1.0h-1.0zM155.3,77.4h1.0v1.0h-1.0zM151.1,97.8h1.0v1.0h-1.0zM155.7,67.7h1.0v1.0h-1.0zM154.7,68.0h1.0v1.0h-1.0zM156.2,83.5h1.0v1.0h-1.0zM163.8,97.3h1.0v1.0h-1.0zM158.1,63.3h1.0v1.0h-1.0zM151.4,94.8h1.0v1.0h-1.0zM152.6,96.0h1.0v1.0h-1.0zM154.0,79.8h1.0v1.0h-1.0zM161.2,64.2h1.0v1.0h-1.0zM154.8,82.1h1.0v1.0h-1.0zM149.9,45.2h1.0v1.0h-1.0zM153.1,52.9h1.0v1.0h-1.0zM152.6,95.2h1.0v1.0h-1.0zM156.1,65.8h1.0v1.0h-1.0zM154.0,62.0h1.0v1.0h-1.0zM159.8,66.6h1.0v1.0h-1.0zM155.0,77.3h1.0v1.0h-1.0zM152.3,95.5h1.0v1.0h-1.0zM158.5,70.5h1.0v1.0h-1.0zM152.6,94.5h1.0v1.0h-1.0zM154.6,89.4h1.0v1.0h-1.0zM151.6,54.6h1.0v1.0h-1.0zM157.5,63.1h1.0v1.0h-1.0zM153.0,56.9h1.0v1.0h-1.0zM154.7,56.4h1.0v1.0h-1.0zM157.2,80.1h1.0v1.0h-1.0zM158.4,70.9h1.0v1.0h-1.0zM155.1,78.7h1.0v1.0h-1.0zM154.5,67.1h1.0v1.0h-1.0zM152.4,96.5h1.0v1.0h-1.0zM157.2,59.6h1.0v1.0h-1.0zM151.6,98.1h1.0v1.0h-1.0zM150.6,50.9h1.0v1.0h-1.0zM155.6,78.6h1.0v1.0h-1.0zM152.7,88.1h1.0v1.0h-1.0zM153.6,63.5h1.0v1.0h-1.0zM155.2,63.5h1.0v1.0h-1.0zM154.3,89.5h1.0v1.0h-1.0zM147.9,42.3h1.0v1.0h-1.0zM149.8,46.7h1.0v1.0h-1.0zM153.1,42.9h1.0v1.0h-1.0zM158.8,89.7h1.0v1.0h-1.0zM155.2,61.8h1.0v1.0h-1.0zM152.5,92.3h1.0v1.0h-1.0zM153.0,59.9h1.0v1.0h-1.0zM153.9,74.7h1.0v1.0h-1.0zM154.8,66.4h1.0v1.0h-1.0zM154.0,68.1h1.0v1.0h-1.0zM147.0,41.6h1.0v1.0h-1.0zM152.8,91.3h1.0v1.0h-1.0zM155.1,46.6h1.0v1.0h-1.0zM157.2,76.7h1.0v1.0h-1.0zM155.2,80.9h1.0v1.0h-1.0zM155.3,79.6h1.0v1.0h-1.0zM155.0,87.0h1.0v1.0h-1.0zM156.8,77.9h1.0v1.0h-1.0zM152.3,49.2h1.0v1.0h-1.0zM154.9,69.0h1.0v1.0h-1.0zM153.9,83.0h1.0v1.0h-1.0zM154.1,80.1h1.0v1.0h-1.0zM148.7,45.7h1.0v1.0h-1.0zM163.1,37.7h1.0v1.0h-1.0zM155.3,78.9h1.0v1.0h-1.0zM154.0,65.0h1.0v1.0h-1.0zM154.5,70.2h1.0v1.0h-1.0zM153.3,48.1h1.0v1.0h-1.0zM151.1,45.1h1.0v1.0h-1.0zM155.0,70.4h1.0v1.0h-1.0zM157.8,79.7h1.0v1.0h-1.0zM162.2,47.5h1.0v1.0h-1.0zM150.4,50.2h1.0v1.0h-1.0zM152.8,95.4h1.0v1.0h-1.0zM154.9,46.2h1.0v1.0h-1.0zM153.6,85.6h1.0v1.0h-1.0zM155.6,44.8h1.0v1.0h-1.0zM155.0,78.3h1.0v1.0h-1.0zM156.9,62.3h1.0v1.0h-1.0zM154.8,47.3h1.0v1.0h-1.0zM152.6,58.1h1.0v1.0h-1.0zM154.5,78.2h1.0v1.0h-1.0zM150.7,97.3h1.0v1.0h-1.0zM154.2,62.3h1.0v1.0h-1.0zM153.1,95.4h1.0v1.0h-1.0zM152.6,47.5h1.0v1.0h-1.0zM154.3,68.9h1.0v1.0h-1.0zM147.6,45.8h1.0v1.0h-1.0zM158.3,66.5h1.0v1.0h-1.0zM156.6,77.2h1.0v1.0h-1.0zM152.5,93.7h1.0v1.0h-1.0zM157.9,84.0h1.0v1.0h-1.0zM157.5,58.6h1.0v1.0h-1.0zM161.6,49.8h1.0v1.0h-1.0zM156.5,57.4h1.0v1.0h-1.0zM163.0,96.3h1.0v1.0h-1.0zM155.2,75.3h1.0v1.0h-1.0zM153.6,92.3h1.0v1.0h-1.0zM157.7,85.2h1.0v1.0h-1.0zM160.7,95.1h1.0v1.0h-1.0zM152.2,55.3h1.0v1.0h-1.0zM166.7,76.5h1.0v1.0h-1.0zM158.4,72.3h1.0v1.0h-1.0zM156.9,82.8h1.0v1.0h-1.0zM152.2,92.0h1.0v1.0h-1.0zM151.2,96.2h1.0v1.0h-1.0zM153.8,56.5h1.0v1.0h-1.0zM159.3,66.9h1.0v1.0h-1.0zM155.3,70.8h1.0v1.0h-1.0zM149.4,47.9h1.0v1.0h-1.0zM153.9,84.0h1.0v1.0h-1.0zM154.7,74.1h1.0v1.0h-1.0zM152.5,58.9h1.0v1.0h-1.0zM153.8,94.2h1.0v1.0h-1.0zM147.8,44.1h1.0v1.0h-1.0zM155.9,68.0h1.0v1.0h-1.0zM147.9,43.3h1.0v1.0h-1.0zM150.3,98.1h1.0v1.0h-1.0zM153.9,83.9h1.0v1.0h-1.0zM150.3,96.8h1.0v1.0h-1.0zM155.9,70.9h1.0v1.0h-1.0zM154.5,86.9h1.0v1.0h-1.0zM151.1,97.8h1.0v1.0h-1.0zM161.2,94.6h1.0v1.0h-1.0zM155.1,61.8h1.0v1.0h-1.0zM155.4,82.1h1.0v1.0h-1.0zM157.5,84.0h1.0v1.0h-1.0zM153.9,62.6h1.0v1.0h-1.0zM158.1,58.5h1.0v1.0h-1.0zM150.9,48.0h1.0v1.0h-1.0zM155.5,65.5h1.0v1.0h-1.0zM154.4,88.1h1.0v1.0h-1.0zM155.9,78.3h1.0v1.0h-1.0zM155.0,53.4h1.0v1.0h-1.0zM150.5,98.9h1.0v1.0h-1.0zM154.5,55.9h1.0v1.0h-1.0zM149.0,45.7h1.0v1.0h-1.0zM147.9,44.1h1.0v1.0h-1.0zM152.7,53.2h1.0v1.0h-1.0zM153.9,59.3h1.0v1.0h-1.0zM151.7,94.6h1.0v1.0h-1.0zM150.4,44.3h1.0v1.0h-1.0zM153.9,69.4h1.0v1.0h-1.0zM155.4,74.7h1.0v1.0h-1.0zM159.1,65.3h1.0v1.0h-1.0zM153.4,84.9h1.0v1.0h-1.0zM154.6,52.5h1.0v1.0h-1.0zM152.6,55.9h1.0v1.0h-1.0zM152.6,93.6h1.0v1.0h-1.0zM148.6,44.7h1.0v1.0h-1.0zM151.8,39.6h1.0v1.0h-1.0zM150.0,49.1h1.0v1.0h-1.0zM152.7,56.9h1.0v1.0h-1.0zM158.0,51.0h1.0v1.0h-1.0zM155.1,80.3h1.0v1.0h-1.0zM154.6,42.5h1.0v1.0h-1.0zM150.0,46.7h1.0v1.0h-1.0zM158.9,58.9h1.0v1.0h-1.0zM153.5,92.8h1.0v1.0h-1.0zM157.6,75.9h1.0v1.0h-1.0zM158.6,73.8h1.0v1.0h-1.0zM155.3,47.2h1.0v1.0h-1.0zM154.4,84.1h1.0v1.0h-1.0zM161.5,77.7h1.0v1.0h-1.0zM151.3,47.4h1.0v1.0h-1.0zM155.0,63.3h1.0v1.0h-1.0zM156.8,67.1h1.0v1.0h-1.0zM156.1,77.5h1.0v1.0h-1.0zM153.2,91.2h1.0v1.0h-1.0zM150.7,97.5h1.0v1.0h-1.0zM153.8,79.4h1.0v1.0h-1.0zM156.3,65.4h1.0v1.0h-1.0zM158.7,64.0h1.0v1.0h-1.0zM156.4,53.8h1.0v1.0h-1.0zM153.6,59.4h1.0v1.0h-1.0zM150.4,49.5h1.0v1.0h-1.0zM153.1,93.2h1.0v1.0h-1.0zM162.9,68.4h1.0v1.0h-1.0zM153.3,66.0h1.0v1.0h-1.0zM157.8,62.1h1.0v1.0h-1.0zM158.6,86.4h1.0v1.0h-1.0zM156.9,89.6h1.0v1.0h-1.0z" fill="#2a0f4f"/>
<path d="M108.4,79.5h0.9v0.9h-0.9zM118.4,67.8h0.9v0.9h-0.9zM135.3,52.1h0.9v0.9h-0.9zM122.2,65.7h0.9v0.9h-0.9zM120.0,69.2h0.9v0.9h-0.9zM117.3,71.3h0.9v0.9h-0.9zM111.0,77.8h0.9v0.9h-0.9zM136.6,54.7h0.9v0.9h-0.9zM140.3,45.5h0.9v0.9h-0.9zM132.3,57.5h0.9v0.9h-0.9zM140.5,52.0h0.9v0.9h-0.9zM111.6,77.5h0.9v0.9h-0.9zM139.2,51.9h0.9v0.9h-0.9zM138.5,53.6h0.9v0.9h-0.9zM141.2,46.9h0.9v0.9h-0.9zM102.9,84.8h0.9v0.9h-0.9zM130.5,56.9h0.9v0.9h-0.9zM118.0,70.6h0.9v0.9h-0.9zM114.6,73.7h0.9v0.9h-0.9zM131.3,57.4h0.9v0.9h-0.9zM144.1,47.3h0.9v0.9h-0.9zM112.3,76.6h0.9v0.9h-0.9zM122.0,66.3h0.9v0.9h-0.9zM135.6,55.5h0.9v0.9h-0.9zM143.0,48.1h0.9v0.9h-0.9zM124.8,63.7h0.9v0.9h-0.9zM144.5,46.0h0.9v0.9h-0.9zM104.6,85.3h0.9v0.9h-0.9zM117.7,71.2h0.9v0.9h-0.9zM135.8,54.5h0.9v0.9h-0.9zM124.7,63.7h0.9v0.9h-0.9zM136.8,54.0h0.9v0.9h-0.9zM122.7,64.8h0.9v0.9h-0.9zM114.2,74.8h0.9v0.9h-0.9zM119.5,69.1h0.9v0.9h-0.9zM114.3,74.1h0.9v0.9h-0.9zM140.4,52.8h0.9v0.9h-0.9zM123.5,65.5h0.9v0.9h-0.9zM106.9,82.8h0.9v0.9h-0.9zM126.6,55.3h0.9v0.9h-0.9zM119.9,68.4h0.9v0.9h-0.9zM132.7,57.8h0.9v0.9h-0.9zM110.1,78.9h0.9v0.9h-0.9zM128.4,58.5h0.9v0.9h-0.9zM108.6,80.9h0.9v0.9h-0.9zM117.3,71.1h0.9v0.9h-0.9zM124.5,62.6h0.9v0.9h-0.9zM114.6,74.3h0.9v0.9h-0.9zM118.3,70.7h0.9v0.9h-0.9zM121.6,67.1h0.9v0.9h-0.9zM119.6,68.6h0.9v0.9h-0.9zM125.4,62.5h0.9v0.9h-0.9zM145.3,44.2h0.9v0.9h-0.9zM123.0,64.5h0.9v0.9h-0.9zM141.6,49.0h0.9v0.9h-0.9zM144.5,46.7h0.9v0.9h-0.9zM120.3,68.6h0.9v0.9h-0.9zM135.1,56.0h0.9v0.9h-0.9zM145.4,45.6h0.9v0.9h-0.9zM130.3,58.4h0.9v0.9h-0.9zM135.1,55.0h0.9v0.9h-0.9zM120.3,66.6h0.9v0.9h-0.9zM146.9,43.3h0.9v0.9h-0.9zM117.0,69.1h0.9v0.9h-0.9zM120.0,66.0h0.9v0.9h-0.9zM135.4,55.0h0.9v0.9h-0.9zM118.3,69.6h0.9v0.9h-0.9zM123.6,65.0h0.9v0.9h-0.9zM124.0,61.6h0.9v0.9h-0.9zM122.6,65.8h0.9v0.9h-0.9zM142.7,46.5h0.9v0.9h-0.9zM113.1,75.0h0.9v0.9h-0.9zM126.2,62.6h0.9v0.9h-0.9zM139.2,53.6h0.9v0.9h-0.9zM126.2,59.5h0.9v0.9h-0.9zM104.7,83.8h0.9v0.9h-0.9zM132.4,56.5h0.9v0.9h-0.9zM125.6,63.3h0.9v0.9h-0.9zM136.0,53.7h0.9v0.9h-0.9zM139.6,53.3h0.9v0.9h-0.9zM132.9,56.3h0.9v0.9h-0.9zM143.8,43.3h0.9v0.9h-0.9zM134.3,56.0h0.9v0.9h-0.9zM145.8,42.7h0.9v0.9h-0.9zM116.8,70.6h0.9v0.9h-0.9zM122.0,66.4h0.9v0.9h-0.9zM105.5,83.0h0.9v0.9h-0.9zM115.4,72.0h0.9v0.9h-0.9zM141.3,47.4h0.9v0.9h-0.9zM131.1,59.2h0.9v0.9h-0.9zM110.2,78.7h0.9v0.9h-0.9zM108.2,79.1h0.9v0.9h-0.9zM129.3,60.3h0.9v0.9h-0.9zM145.8,45.4h0.9v0.9h-0.9zM113.1,73.3h0.9v0.9h-0.9zM142.4,48.9h0.9v0.9h-0.9zM118.1,67.2h0.9v0.9h-0.9zM141.7,50.6h0.9v0.9h-0.9zM127.4,61.3h0.9v0.9h-0.9zM124.1,64.2h0.9v0.9h-0.9zM126.8,61.8h0.9v0.9h-0.9zM109.1,79.4h0.9v0.9h-0.9zM146.2,42.7h0.9v0.9h-0.9zM142.1,46.5h0.9v0.9h-0.9zM107.3,82.4h0.9v0.9h-0.9zM118.1,69.9h0.9v0.9h-0.9zM104.9,84.3h0.9v0.9h-0.9zM143.6,46.2h0.9v0.9h-0.9zM105.5,82.4h0.9v0.9h-0.9zM116.1,69.9h0.9v0.9h-0.9zM103.7,85.4h0.9v0.9h-0.9zM103.7,86.3h0.9v0.9h-0.9zM112.3,75.2h0.9v0.9h-0.9zM142.4,48.2h0.9v0.9h-0.9zM110.0,77.0h0.9v0.9h-0.9zM106.0,83.5h0.9v0.9h-0.9zM144.1,46.1h0.9v0.9h-0.9zM143.1,43.5h0.9v0.9h-0.9zM143.9,47.6h0.9v0.9h-0.9zM118.2,69.6h0.9v0.9h-0.9zM113.7,75.4h0.9v0.9h-0.9zM113.8,72.5h0.9v0.9h-0.9zM143.9,46.0h0.9v0.9h-0.9zM117.8,69.0h0.9v0.9h-0.9zM111.5,76.3h0.9v0.9h-0.9zM112.7,75.1h0.9v0.9h-0.9zM136.4,52.6h0.9v0.9h-0.9zM107.4,81.8h0.9v0.9h-0.9zM112.1,75.5h0.9v0.9h-0.9zM141.2,49.5h0.9v0.9h-0.9zM107.6,80.4h0.9v0.9h-0.9zM139.9,52.4h0.9v0.9h-0.9zM120.8,66.5h0.9v0.9h-0.9zM141.6,49.8h0.9v0.9h-0.9zM125.0,64.1h0.9v0.9h-0.9zM120.5,67.9h0.9v0.9h-0.9zM113.0,75.8h0.9v0.9h-0.9zM141.8,48.7h0.9v0.9h-0.9zM128.5,59.9h0.9v0.9h-0.9zM116.4,71.9h0.9v0.9h-0.9zM104.8,83.0h0.9v0.9h-0.9zM132.7,57.9h0.9v0.9h-0.9zM124.2,64.0h0.9v0.9h-0.9zM120.3,66.4h0.9v0.9h-0.9zM119.7,68.4h0.9v0.9h-0.9zM130.6,56.8h0.9v0.9h-0.9zM119.9,68.1h0.9v0.9h-0.9zM135.8,54.1h0.9v0.9h-0.9zM123.8,65.2h0.9v0.9h-0.9zM142.0,46.2h0.9v0.9h-0.9zM137.6,54.1h0.9v0.9h-0.9zM106.3,83.3h0.9v0.9h-0.9zM123.7,63.1h0.9v0.9h-0.9zM110.1,79.3h0.9v0.9h-0.9zM111.3,78.2h0.9v0.9h-0.9zM115.4,73.2h0.9v0.9h-0.9zM139.4,52.2h0.9v0.9h-0.9zM112.9,76.3h0.9v0.9h-0.9zM117.2,71.0h0.9v0.9h-0.9zM120.8,68.7h0.9v0.9h-0.9z" fill="#2a0f4f"/>
<path d="M188.5,65.9C190.2,64.9 191.0,68.6 193.6,69.6C196.2,70.6 200.3,71.8 203.8,71.8C207.3,71.8 211.8,69.2 214.7,69.6C217.6,70.0 219.4,72.0 221.3,74.0C223.2,76.0 225.1,78.8 226.4,81.3C227.7,83.8 229.1,86.8 229.3,89.3C229.6,91.8 229.0,94.9 227.9,96.6C226.8,98.3 224.3,98.2 222.8,99.5C221.3,100.8 219.8,102.3 219.1,104.6C218.4,106.9 218.9,111.1 218.4,113.4C217.9,115.7 217.2,118.5 216.2,118.5C215.2,118.5 213.9,114.5 212.6,113.4C211.3,112.3 209.7,112.2 208.2,111.9C206.7,111.7 205.3,112.4 203.8,111.9C202.3,111.4 200.9,110.5 199.4,109.0C197.9,107.5 196.7,105.2 195.0,103.2C193.3,101.2 191.4,98.9 189.2,97.3C187.0,95.7 183.8,94.2 181.9,93.7C180.0,93.2 178.7,94.9 177.5,94.4C176.3,93.9 174.6,92.5 174.6,90.8C174.6,89.1 176.0,86.8 177.5,84.2C179.0,81.6 181.6,78.5 183.4,75.4C185.2,72.4 186.8,66.9 188.5,65.9Z" fill="#bcf43e" />
<path d="M198.9,112.2h1.0v1.0h-1.0zM193.9,102.7h1.0v1.0h-1.0zM205.5,108.3h1.0v1.0h-1.0zM202.9,106.0h1.0v1.0h-1.0zM195.9,101.8h1.0v1.0h-1.0zM200.4,104.2h1.0v1.0h-1.0zM193.9,114.1h1.0v1.0h-1.0zM194.1,100.4h1.0v1.0h-1.0zM186.2,108.6h1.0v1.0h-1.0zM205.3,108.3h1.0v1.0h-1.0zM196.2,103.3h1.0v1.0h-1.0zM195.4,104.1h1.0v1.0h-1.0zM195.3,100.6h1.0v1.0h-1.0zM206.9,104.8h1.0v1.0h-1.0zM205.1,101.5h1.0v1.0h-1.0zM196.4,109.3h1.0v1.0h-1.0zM193.8,106.3h1.0v1.0h-1.0zM205.5,114.4h1.0v1.0h-1.0zM212.0,111.3h1.0v1.0h-1.0zM199.2,106.6h1.0v1.0h-1.0zM188.4,99.5h1.0v1.0h-1.0zM195.6,97.9h1.0v1.0h-1.0zM200.1,106.1h1.0v1.0h-1.0zM205.4,107.0h1.0v1.0h-1.0zM192.8,102.3h1.0v1.0h-1.0zM193.3,103.4h1.0v1.0h-1.0zM201.1,109.0h1.0v1.0h-1.0zM198.2,106.9h1.0v1.0h-1.0zM190.7,102.6h1.0v1.0h-1.0zM208.3,106.5h1.0v1.0h-1.0zM202.2,102.9h1.0v1.0h-1.0zM198.1,102.3h1.0v1.0h-1.0zM195.4,106.7h1.0v1.0h-1.0zM190.1,91.0h1.0v1.0h-1.0zM201.9,107.8h1.0v1.0h-1.0zM190.2,100.9h1.0v1.0h-1.0zM202.4,104.2h1.0v1.0h-1.0zM210.7,113.2h1.0v1.0h-1.0zM201.4,110.2h1.0v1.0h-1.0zM197.6,106.9h1.0v1.0h-1.0zM199.9,99.7h1.0v1.0h-1.0zM194.1,105.1h1.0v1.0h-1.0zM210.1,106.8h1.0v1.0h-1.0zM206.6,113.5h1.0v1.0h-1.0zM199.4,108.5h1.0v1.0h-1.0zM191.6,100.8h1.0v1.0h-1.0zM197.0,102.9h1.0v1.0h-1.0zM208.0,110.0h1.0v1.0h-1.0zM193.0,91.7h1.0v1.0h-1.0zM205.8,109.5h1.0v1.0h-1.0zM191.0,102.5h1.0v1.0h-1.0zM199.5,104.1h1.0v1.0h-1.0zM199.8,99.9h1.0v1.0h-1.0zM197.6,102.4h1.0v1.0h-1.0zM204.2,110.4h1.0v1.0h-1.0zM191.9,109.1h1.0v1.0h-1.0zM206.1,108.5h1.0v1.0h-1.0zM203.3,106.0h1.0v1.0h-1.0zM194.6,105.8h1.0v1.0h-1.0zM197.6,105.1h1.0v1.0h-1.0zM192.4,103.2h1.0v1.0h-1.0zM204.2,107.7h1.0v1.0h-1.0zM192.5,114.0h1.0v1.0h-1.0zM200.0,103.7h1.0v1.0h-1.0zM196.7,107.8h1.0v1.0h-1.0zM201.6,102.5h1.0v1.0h-1.0zM207.8,107.2h1.0v1.0h-1.0zM209.1,104.4h1.0v1.0h-1.0zM198.8,99.1h1.0v1.0h-1.0zM202.7,105.7h1.0v1.0h-1.0zM194.8,99.3h1.0v1.0h-1.0zM194.5,108.4h1.0v1.0h-1.0zM196.6,110.9h1.0v1.0h-1.0zM200.8,112.9h1.0v1.0h-1.0zM194.8,92.4h1.0v1.0h-1.0zM196.5,97.2h1.0v1.0h-1.0zM194.7,96.5h1.0v1.0h-1.0zM198.0,92.5h1.0v1.0h-1.0zM208.2,105.4h1.0v1.0h-1.0zM200.6,106.8h1.0v1.0h-1.0zM206.4,99.1h1.0v1.0h-1.0zM198.4,113.8h1.0v1.0h-1.0zM204.2,108.8h1.0v1.0h-1.0zM194.0,112.9h1.0v1.0h-1.0zM201.2,109.8h1.0v1.0h-1.0zM205.5,103.6h1.0v1.0h-1.0zM205.1,104.1h1.0v1.0h-1.0zM201.5,109.3h1.0v1.0h-1.0zM197.2,99.4h1.0v1.0h-1.0zM205.6,109.3h1.0v1.0h-1.0zM191.4,102.7h1.0v1.0h-1.0zM194.1,105.0h1.0v1.0h-1.0zM195.3,107.5h1.0v1.0h-1.0zM204.3,107.4h1.0v1.0h-1.0zM203.9,103.9h1.0v1.0h-1.0zM186.3,101.5h1.0v1.0h-1.0zM199.4,100.9h1.0v1.0h-1.0zM201.9,116.0h1.0v1.0h-1.0zM191.8,108.3h1.0v1.0h-1.0zM204.2,105.2h1.0v1.0h-1.0zM196.9,105.2h1.0v1.0h-1.0zM200.3,103.1h1.0v1.0h-1.0zM198.7,103.7h1.0v1.0h-1.0zM201.1,113.0h1.0v1.0h-1.0zM198.2,105.9h1.0v1.0h-1.0zM200.3,108.7h1.0v1.0h-1.0zM202.6,107.1h1.0v1.0h-1.0zM199.5,108.3h1.0v1.0h-1.0zM194.5,105.1h1.0v1.0h-1.0zM195.8,99.6h1.0v1.0h-1.0zM193.4,97.4h1.0v1.0h-1.0zM198.5,103.7h1.0v1.0h-1.0zM200.9,112.3h1.0v1.0h-1.0zM195.7,102.4h1.0v1.0h-1.0zM206.5,105.9h1.0v1.0h-1.0zM193.5,100.2h1.0v1.0h-1.0zM207.8,106.8h1.0v1.0h-1.0zM201.9,99.0h1.0v1.0h-1.0zM194.7,99.9h1.0v1.0h-1.0zM191.9,94.7h1.0v1.0h-1.0zM197.3,102.8h1.0v1.0h-1.0zM192.2,109.0h1.0v1.0h-1.0zM197.6,107.6h1.0v1.0h-1.0zM199.0,112.9h1.0v1.0h-1.0zM204.3,97.7h1.0v1.0h-1.0zM196.0,95.7h1.0v1.0h-1.0zM196.4,110.7h1.0v1.0h-1.0zM191.0,100.1h1.0v1.0h-1.0zM202.2,105.5h1.0v1.0h-1.0zM206.7,108.7h1.0v1.0h-1.0zM201.3,110.4h1.0v1.0h-1.0zM198.4,93.0h1.0v1.0h-1.0zM204.7,101.9h1.0v1.0h-1.0zM201.3,102.7h1.0v1.0h-1.0zM202.4,105.4h1.0v1.0h-1.0zM198.1,103.1h1.0v1.0h-1.0zM201.2,104.7h1.0v1.0h-1.0zM206.1,102.8h1.0v1.0h-1.0zM195.0,101.7h1.0v1.0h-1.0zM198.8,99.0h1.0v1.0h-1.0zM197.8,100.7h1.0v1.0h-1.0zM200.3,110.8h1.0v1.0h-1.0zM199.5,102.3h1.0v1.0h-1.0zM203.4,100.9h1.0v1.0h-1.0zM200.9,106.3h1.0v1.0h-1.0zM189.3,95.5h1.0v1.0h-1.0zM207.2,113.7h1.0v1.0h-1.0zM197.7,98.9h1.0v1.0h-1.0zM191.9,101.8h1.0v1.0h-1.0zM200.0,105.6h1.0v1.0h-1.0zM196.9,105.3h1.0v1.0h-1.0zM201.3,107.9h1.0v1.0h-1.0zM194.5,98.9h1.0v1.0h-1.0zM198.2,111.8h1.0v1.0h-1.0zM205.4,107.3h1.0v1.0h-1.0zM189.3,106.8h1.0v1.0h-1.0zM205.5,106.2h1.0v1.0h-1.0zM204.1,114.8h1.0v1.0h-1.0zM196.3,102.4h1.0v1.0h-1.0zM201.5,105.5h1.0v1.0h-1.0zM190.7,110.0h1.0v1.0h-1.0zM196.4,98.5h1.0v1.0h-1.0zM193.3,99.5h1.0v1.0h-1.0zM195.5,99.9h1.0v1.0h-1.0zM201.9,101.3h1.0v1.0h-1.0zM203.3,101.7h1.0v1.0h-1.0zM196.5,100.9h1.0v1.0h-1.0zM193.2,110.9h1.0v1.0h-1.0zM212.5,100.5h1.0v1.0h-1.0zM207.9,113.3h1.0v1.0h-1.0zM200.5,100.1h1.0v1.0h-1.0zM209.3,108.7h1.0v1.0h-1.0zM201.9,98.7h1.0v1.0h-1.0zM197.9,93.0h1.0v1.0h-1.0zM195.5,99.9h1.0v1.0h-1.0zM196.2,109.6h1.0v1.0h-1.0zM204.2,112.0h1.0v1.0h-1.0zM195.1,110.3h1.0v1.0h-1.0zM201.7,102.1h1.0v1.0h-1.0zM204.5,106.2h1.0v1.0h-1.0zM203.3,118.2h1.0v1.0h-1.0zM194.5,106.7h1.0v1.0h-1.0zM203.2,111.3h1.0v1.0h-1.0zM204.7,108.1h1.0v1.0h-1.0zM191.9,104.3h1.0v1.0h-1.0zM203.3,100.7h1.0v1.0h-1.0zM200.4,103.2h1.0v1.0h-1.0zM215.4,101.9h1.0v1.0h-1.0zM205.8,110.5h1.0v1.0h-1.0zM203.3,109.8h1.0v1.0h-1.0zM190.0,106.8h1.0v1.0h-1.0zM190.9,107.8h1.0v1.0h-1.0zM200.8,93.6h1.0v1.0h-1.0zM201.3,99.3h1.0v1.0h-1.0zM198.2,107.8h1.0v1.0h-1.0zM189.6,104.4h1.0v1.0h-1.0zM199.9,101.5h1.0v1.0h-1.0zM199.9,112.2h1.0v1.0h-1.0zM203.0,100.6h1.0v1.0h-1.0zM203.9,111.5h1.0v1.0h-1.0zM194.6,99.2h1.0v1.0h-1.0zM196.4,109.4h1.0v1.0h-1.0zM192.0,102.3h1.0v1.0h-1.0zM205.0,118.1h1.0v1.0h-1.0zM191.9,107.6h1.0v1.0h-1.0zM195.2,105.0h1.0v1.0h-1.0zM202.0,110.3h1.0v1.0h-1.0zM202.9,113.4h1.0v1.0h-1.0zM202.9,107.5h1.0v1.0h-1.0zM194.9,101.8h1.0v1.0h-1.0zM205.4,110.3h1.0v1.0h-1.0zM199.1,100.4h1.0v1.0h-1.0zM192.4,103.1h1.0v1.0h-1.0zM192.7,102.6h1.0v1.0h-1.0zM194.7,110.6h1.0v1.0h-1.0zM203.6,101.5h1.0v1.0h-1.0zM200.8,107.4h1.0v1.0h-1.0zM196.3,104.9h1.0v1.0h-1.0zM193.2,111.2h1.0v1.0h-1.0zM201.7,109.4h1.0v1.0h-1.0zM190.8,104.3h1.0v1.0h-1.0zM208.3,108.0h1.0v1.0h-1.0zM197.3,97.9h1.0v1.0h-1.0zM194.7,104.5h1.0v1.0h-1.0zM198.9,100.3h1.0v1.0h-1.0zM206.2,110.7h1.0v1.0h-1.0zM197.3,103.4h1.0v1.0h-1.0zM196.4,104.6h1.0v1.0h-1.0zM205.8,98.3h1.0v1.0h-1.0zM205.2,107.6h1.0v1.0h-1.0z" fill="#ffffff"/>
<path d="M192.4,107.9h0.9v0.9h-0.9zM199.5,106.4h0.9v0.9h-0.9zM196.8,102.3h0.9v0.9h-0.9zM189.5,108.8h0.9v0.9h-0.9zM197.3,107.9h0.9v0.9h-0.9zM193.5,107.9h0.9v0.9h-0.9zM205.7,102.6h0.9v0.9h-0.9zM191.7,105.0h0.9v0.9h-0.9zM203.5,113.3h0.9v0.9h-0.9zM194.2,110.5h0.9v0.9h-0.9zM195.1,105.6h0.9v0.9h-0.9zM192.4,105.6h0.9v0.9h-0.9zM185.9,106.6h0.9v0.9h-0.9zM195.5,100.4h0.9v0.9h-0.9zM196.1,102.8h0.9v0.9h-0.9zM194.5,102.4h0.9v0.9h-0.9zM199.0,100.8h0.9v0.9h-0.9zM192.8,107.3h0.9v0.9h-0.9zM198.9,104.0h0.9v0.9h-0.9zM194.2,108.0h0.9v0.9h-0.9zM203.7,103.9h0.9v0.9h-0.9zM198.1,107.0h0.9v0.9h-0.9zM193.7,110.0h0.9v0.9h-0.9zM200.9,106.0h0.9v0.9h-0.9zM191.9,108.7h0.9v0.9h-0.9zM196.5,109.9h0.9v0.9h-0.9zM186.8,103.8h0.9v0.9h-0.9zM192.3,107.6h0.9v0.9h-0.9zM196.5,105.9h0.9v0.9h-0.9zM199.4,102.7h0.9v0.9h-0.9zM192.5,104.9h0.9v0.9h-0.9zM198.4,99.5h0.9v0.9h-0.9zM200.2,102.7h0.9v0.9h-0.9zM196.9,109.4h0.9v0.9h-0.9zM198.5,109.8h0.9v0.9h-0.9zM195.4,103.3h0.9v0.9h-0.9zM199.9,103.8h0.9v0.9h-0.9zM196.6,102.1h0.9v0.9h-0.9zM202.4,101.7h0.9v0.9h-0.9zM194.0,104.2h0.9v0.9h-0.9zM203.7,108.7h0.9v0.9h-0.9zM193.1,110.2h0.9v0.9h-0.9zM193.7,104.5h0.9v0.9h-0.9zM196.4,104.1h0.9v0.9h-0.9zM196.6,105.0h0.9v0.9h-0.9zM190.6,111.1h0.9v0.9h-0.9zM193.3,104.1h0.9v0.9h-0.9zM200.5,106.9h0.9v0.9h-0.9zM203.1,105.4h0.9v0.9h-0.9zM198.6,109.7h0.9v0.9h-0.9zM198.4,101.4h0.9v0.9h-0.9zM189.1,106.1h0.9v0.9h-0.9zM195.1,107.8h0.9v0.9h-0.9zM193.4,102.5h0.9v0.9h-0.9zM194.9,100.0h0.9v0.9h-0.9zM196.2,102.6h0.9v0.9h-0.9zM196.6,114.9h0.9v0.9h-0.9zM189.4,111.8h0.9v0.9h-0.9zM191.9,110.1h0.9v0.9h-0.9zM191.7,109.6h0.9v0.9h-0.9zM192.6,101.8h0.9v0.9h-0.9zM201.4,107.1h0.9v0.9h-0.9zM200.6,104.2h0.9v0.9h-0.9zM194.5,107.0h0.9v0.9h-0.9zM196.3,106.0h0.9v0.9h-0.9zM196.9,107.4h0.9v0.9h-0.9zM192.4,108.8h0.9v0.9h-0.9zM192.2,108.0h0.9v0.9h-0.9zM191.9,103.6h0.9v0.9h-0.9zM195.3,109.7h0.9v0.9h-0.9z" fill="#bcf43e"/>
<path d="M208.0,113.4h0.9v0.9h-0.9zM210.7,109.8h0.9v0.9h-0.9zM212.7,112.8h0.9v0.9h-0.9zM207.2,111.5h0.9v0.9h-0.9zM204.5,114.8h0.9v0.9h-0.9zM206.9,109.6h0.9v0.9h-0.9zM205.7,109.8h0.9v0.9h-0.9zM205.8,109.6h0.9v0.9h-0.9zM209.0,108.6h0.9v0.9h-0.9zM207.1,112.3h0.9v0.9h-0.9zM207.7,111.9h0.9v0.9h-0.9zM204.9,109.2h0.9v0.9h-0.9zM207.7,106.8h0.9v0.9h-0.9zM204.2,112.2h0.9v0.9h-0.9zM205.7,108.5h0.9v0.9h-0.9zM202.4,110.0h0.9v0.9h-0.9z" fill="#f0823a"/>
<path d="M214.4,113.5h0.9v0.9h-0.9zM214.4,116.4h0.9v0.9h-0.9zM214.7,115.0h0.9v0.9h-0.9zM214.2,117.6h0.9v0.9h-0.9zM212.9,115.7h0.9v0.9h-0.9zM213.1,113.5h0.9v0.9h-0.9z" fill="#e2431c"/>
<path d="M166.0,87.0C166.3,85.5 168.2,83.2 169.5,82.0C170.8,80.8 172.8,79.7 174.0,79.5C175.2,79.3 176.8,79.9 177.0,81.0C177.2,82.1 176.0,84.4 175.0,86.0C174.0,87.6 172.2,89.7 171.0,90.5C169.8,91.3 168.3,91.6 167.5,91.0C166.7,90.4 165.7,88.5 166.0,87.0Z" fill="#2a0f4f" />
<path d="M172.3,84.2h1.0v1.0h-1.0zM168.5,90.5h1.0v1.0h-1.0zM170.3,81.9h1.0v1.0h-1.0zM171.7,85.6h1.0v1.0h-1.0zM175.7,86.2h1.0v1.0h-1.0zM168.2,84.4h1.0v1.0h-1.0zM168.8,86.2h1.0v1.0h-1.0zM167.6,80.9h1.0v1.0h-1.0zM169.8,82.1h1.0v1.0h-1.0zM171.6,86.8h1.0v1.0h-1.0zM168.5,86.3h1.0v1.0h-1.0zM166.3,87.1h1.0v1.0h-1.0zM169.4,88.5h1.0v1.0h-1.0zM164.5,86.3h1.0v1.0h-1.0zM169.6,82.2h1.0v1.0h-1.0zM174.1,83.1h1.0v1.0h-1.0zM172.0,85.6h1.0v1.0h-1.0zM168.6,88.7h1.0v1.0h-1.0zM172.8,81.8h1.0v1.0h-1.0zM166.2,87.3h1.0v1.0h-1.0zM168.3,88.9h1.0v1.0h-1.0zM175.0,86.8h1.0v1.0h-1.0zM167.1,84.5h1.0v1.0h-1.0zM165.0,86.0h1.0v1.0h-1.0zM175.7,81.4h1.0v1.0h-1.0zM168.4,84.4h1.0v1.0h-1.0zM170.2,82.0h1.0v1.0h-1.0zM172.6,87.9h1.0v1.0h-1.0zM169.3,82.3h1.0v1.0h-1.0zM169.2,87.5h1.0v1.0h-1.0zM170.7,86.0h1.0v1.0h-1.0zM173.7,83.9h1.0v1.0h-1.0zM168.8,83.2h1.0v1.0h-1.0zM170.4,85.7h1.0v1.0h-1.0zM172.4,83.5h1.0v1.0h-1.0zM171.9,90.8h1.0v1.0h-1.0zM172.9,90.8h1.0v1.0h-1.0zM169.6,83.7h1.0v1.0h-1.0zM169.7,84.3h1.0v1.0h-1.0zM172.2,81.2h1.0v1.0h-1.0zM166.0,83.1h1.0v1.0h-1.0zM170.7,86.4h1.0v1.0h-1.0zM168.5,83.9h1.0v1.0h-1.0zM168.3,90.0h1.0v1.0h-1.0zM172.3,86.0h1.0v1.0h-1.0zM166.9,85.9h1.0v1.0h-1.0zM170.0,86.1h1.0v1.0h-1.0zM168.9,90.7h1.0v1.0h-1.0zM170.0,83.7h1.0v1.0h-1.0zM167.7,83.9h1.0v1.0h-1.0zM172.6,82.5h1.0v1.0h-1.0zM167.3,85.8h1.0v1.0h-1.0zM170.3,81.6h1.0v1.0h-1.0zM172.8,86.7h1.0v1.0h-1.0zM168.7,85.3h1.0v1.0h-1.0zM177.8,86.4h1.0v1.0h-1.0zM170.3,83.4h1.0v1.0h-1.0zM171.0,86.7h1.0v1.0h-1.0zM173.0,83.2h1.0v1.0h-1.0zM176.6,84.5h1.0v1.0h-1.0zM170.5,85.0h1.0v1.0h-1.0zM171.6,86.3h1.0v1.0h-1.0zM167.0,86.2h1.0v1.0h-1.0zM169.5,85.7h1.0v1.0h-1.0zM169.2,84.7h1.0v1.0h-1.0zM165.8,85.2h1.0v1.0h-1.0zM168.1,83.0h1.0v1.0h-1.0zM174.7,86.2h1.0v1.0h-1.0zM177.0,87.6h1.0v1.0h-1.0zM171.4,83.6h1.0v1.0h-1.0zM164.5,86.9h1.0v1.0h-1.0zM171.1,85.2h1.0v1.0h-1.0zM166.5,84.8h1.0v1.0h-1.0zM171.5,82.6h1.0v1.0h-1.0zM168.2,86.6h1.0v1.0h-1.0zM171.3,86.4h1.0v1.0h-1.0zM172.0,81.1h1.0v1.0h-1.0zM174.0,85.6h1.0v1.0h-1.0zM170.7,86.3h1.0v1.0h-1.0zM170.1,86.3h1.0v1.0h-1.0zM176.9,87.3h1.0v1.0h-1.0zM171.6,79.8h1.0v1.0h-1.0zM169.5,83.5h1.0v1.0h-1.0zM170.6,89.4h1.0v1.0h-1.0zM166.0,83.7h1.0v1.0h-1.0zM169.0,82.5h1.0v1.0h-1.0zM165.8,84.6h1.0v1.0h-1.0zM169.8,87.1h1.0v1.0h-1.0zM164.9,88.6h1.0v1.0h-1.0zM168.9,85.0h1.0v1.0h-1.0zM166.2,83.9h1.0v1.0h-1.0zM166.3,84.0h1.0v1.0h-1.0zM175.8,82.7h1.0v1.0h-1.0zM174.5,79.8h1.0v1.0h-1.0zM170.2,84.6h1.0v1.0h-1.0zM170.1,84.8h1.0v1.0h-1.0zM171.7,84.4h1.0v1.0h-1.0zM170.6,90.5h1.0v1.0h-1.0zM172.7,85.4h1.0v1.0h-1.0zM175.5,86.8h1.0v1.0h-1.0zM170.2,84.9h1.0v1.0h-1.0zM166.9,85.5h1.0v1.0h-1.0zM165.1,85.1h1.0v1.0h-1.0zM168.0,84.0h1.0v1.0h-1.0zM167.4,85.1h1.0v1.0h-1.0zM175.7,89.8h1.0v1.0h-1.0zM171.8,85.9h1.0v1.0h-1.0zM171.2,86.7h1.0v1.0h-1.0zM172.4,81.6h1.0v1.0h-1.0zM170.2,87.7h1.0v1.0h-1.0zM172.2,82.5h1.0v1.0h-1.0zM169.1,88.0h1.0v1.0h-1.0zM169.8,84.1h1.0v1.0h-1.0zM175.5,83.1h1.0v1.0h-1.0zM171.3,88.5h1.0v1.0h-1.0zM172.6,84.0h1.0v1.0h-1.0zM175.4,87.1h1.0v1.0h-1.0zM167.7,85.4h1.0v1.0h-1.0zM171.7,85.6h1.0v1.0h-1.0zM169.2,85.2h1.0v1.0h-1.0zM168.5,88.4h1.0v1.0h-1.0zM171.0,84.9h1.0v1.0h-1.0zM175.0,83.0h1.0v1.0h-1.0zM175.6,83.4h1.0v1.0h-1.0zM168.7,90.9h1.0v1.0h-1.0zM169.6,81.3h1.0v1.0h-1.0zM170.6,82.6h1.0v1.0h-1.0zM173.9,84.5h1.0v1.0h-1.0zM171.6,88.5h1.0v1.0h-1.0zM177.3,88.4h1.0v1.0h-1.0zM174.7,81.6h1.0v1.0h-1.0zM167.3,84.7h1.0v1.0h-1.0zM171.6,87.1h1.0v1.0h-1.0zM169.5,86.2h1.0v1.0h-1.0zM176.8,86.5h1.0v1.0h-1.0zM166.7,86.6h1.0v1.0h-1.0zM167.9,83.7h1.0v1.0h-1.0zM168.1,89.8h1.0v1.0h-1.0zM171.9,83.9h1.0v1.0h-1.0zM168.9,88.4h1.0v1.0h-1.0zM168.1,87.1h1.0v1.0h-1.0zM168.4,82.4h1.0v1.0h-1.0zM170.1,81.7h1.0v1.0h-1.0zM177.8,88.0h1.0v1.0h-1.0zM166.6,82.4h1.0v1.0h-1.0zM172.1,91.3h1.0v1.0h-1.0zM172.5,84.9h1.0v1.0h-1.0zM174.6,83.3h1.0v1.0h-1.0zM170.5,91.0h1.0v1.0h-1.0zM177.3,84.0h1.0v1.0h-1.0zM173.6,83.9h1.0v1.0h-1.0zM167.9,89.9h1.0v1.0h-1.0zM170.0,86.3h1.0v1.0h-1.0zM169.7,85.8h1.0v1.0h-1.0zM164.1,86.6h1.0v1.0h-1.0zM174.1,84.1h1.0v1.0h-1.0zM169.9,85.8h1.0v1.0h-1.0zM170.4,91.8h1.0v1.0h-1.0zM174.4,85.9h1.0v1.0h-1.0zM167.4,88.0h1.0v1.0h-1.0zM170.8,81.8h1.0v1.0h-1.0zM167.8,80.2h1.0v1.0h-1.0zM169.2,82.8h1.0v1.0h-1.0zM174.9,87.3h1.0v1.0h-1.0zM171.9,85.4h1.0v1.0h-1.0zM171.2,85.4h1.0v1.0h-1.0zM169.1,87.9h1.0v1.0h-1.0zM169.2,84.6h1.0v1.0h-1.0zM171.6,82.6h1.0v1.0h-1.0zM176.5,83.5h1.0v1.0h-1.0zM167.0,87.5h1.0v1.0h-1.0zM172.6,85.4h1.0v1.0h-1.0zM173.2,86.5h1.0v1.0h-1.0zM173.7,88.4h1.0v1.0h-1.0zM174.5,85.5h1.0v1.0h-1.0zM172.5,82.6h1.0v1.0h-1.0zM167.7,80.2h1.0v1.0h-1.0zM169.0,81.3h1.0v1.0h-1.0zM173.7,87.4h1.0v1.0h-1.0zM173.1,84.1h1.0v1.0h-1.0zM168.3,84.2h1.0v1.0h-1.0zM171.7,84.5h1.0v1.0h-1.0zM167.7,83.7h1.0v1.0h-1.0zM170.2,82.3h1.0v1.0h-1.0zM166.7,81.0h1.0v1.0h-1.0zM173.7,85.3h1.0v1.0h-1.0zM171.4,80.3h1.0v1.0h-1.0zM165.5,87.2h1.0v1.0h-1.0zM173.8,82.0h1.0v1.0h-1.0zM172.3,87.7h1.0v1.0h-1.0zM171.8,87.0h1.0v1.0h-1.0zM170.0,85.6h1.0v1.0h-1.0zM173.8,83.7h1.0v1.0h-1.0zM174.5,84.6h1.0v1.0h-1.0zM172.9,88.5h1.0v1.0h-1.0zM179.2,81.3h1.0v1.0h-1.0zM171.1,87.5h1.0v1.0h-1.0zM167.4,79.1h1.0v1.0h-1.0zM167.0,88.7h1.0v1.0h-1.0zM174.0,83.9h1.0v1.0h-1.0zM167.0,89.5h1.0v1.0h-1.0zM169.6,88.0h1.0v1.0h-1.0zM168.7,88.0h1.0v1.0h-1.0zM174.5,84.0h1.0v1.0h-1.0zM170.5,86.9h1.0v1.0h-1.0zM170.2,85.1h1.0v1.0h-1.0zM179.2,85.6h1.0v1.0h-1.0zM170.7,90.0h1.0v1.0h-1.0zM175.2,80.3h1.0v1.0h-1.0zM170.6,83.9h1.0v1.0h-1.0zM171.2,82.9h1.0v1.0h-1.0zM171.5,84.6h1.0v1.0h-1.0zM168.2,84.2h1.0v1.0h-1.0zM172.3,86.9h1.0v1.0h-1.0zM170.1,84.4h1.0v1.0h-1.0zM169.7,83.5h1.0v1.0h-1.0zM167.4,91.7h1.0v1.0h-1.0zM175.6,81.0h1.0v1.0h-1.0zM170.8,82.4h1.0v1.0h-1.0zM166.0,85.4h1.0v1.0h-1.0zM173.9,87.7h1.0v1.0h-1.0zM174.8,86.1h1.0v1.0h-1.0zM175.9,78.7h1.0v1.0h-1.0zM171.1,83.2h1.0v1.0h-1.0zM168.9,85.0h1.0v1.0h-1.0zM168.9,89.5h1.0v1.0h-1.0zM175.2,85.3h1.0v1.0h-1.0zM167.1,89.6h1.0v1.0h-1.0zM165.2,86.2h1.0v1.0h-1.0zM174.2,80.3h1.0v1.0h-1.0zM170.0,84.4h1.0v1.0h-1.0zM171.9,85.4h1.0v1.0h-1.0zM168.9,85.7h1.0v1.0h-1.0zM171.4,87.6h1.0v1.0h-1.0zM173.2,85.6h1.0v1.0h-1.0zM173.4,89.7h1.0v1.0h-1.0zM172.0,85.8h1.0v1.0h-1.0zM172.0,83.6h1.0v1.0h-1.0zM172.4,82.5h1.0v1.0h-1.0zM167.0,85.8h1.0v1.0h-1.0zM172.3,81.6h1.0v1.0h-1.0zM174.2,84.2h1.0v1.0h-1.0zM171.1,88.3h1.0v1.0h-1.0zM163.3,89.2h1.0v1.0h-1.0zM168.8,86.5h1.0v1.0h-1.0zM168.7,86.7h1.0v1.0h-1.0zM172.3,85.1h1.0v1.0h-1.0zM169.5,84.7h1.0v1.0h-1.0zM172.7,86.3h1.0v1.0h-1.0zM167.9,91.0h1.0v1.0h-1.0zM173.0,88.0h1.0v1.0h-1.0zM165.2,85.2h1.0v1.0h-1.0zM164.5,84.6h1.0v1.0h-1.0zM170.4,85.9h1.0v1.0h-1.0zM170.9,85.0h1.0v1.0h-1.0zM172.5,82.8h1.0v1.0h-1.0zM167.4,88.0h1.0v1.0h-1.0zM173.8,84.7h1.0v1.0h-1.0zM169.9,92.0h1.0v1.0h-1.0zM176.1,85.6h1.0v1.0h-1.0zM166.8,83.9h1.0v1.0h-1.0zM170.3,82.1h1.0v1.0h-1.0zM173.5,81.8h1.0v1.0h-1.0zM170.9,85.9h1.0v1.0h-1.0zM174.4,84.7h1.0v1.0h-1.0zM169.9,84.6h1.0v1.0h-1.0zM175.7,83.0h1.0v1.0h-1.0zM171.4,84.8h1.0v1.0h-1.0zM162.8,86.8h1.0v1.0h-1.0zM163.5,85.8h1.0v1.0h-1.0zM174.0,87.6h1.0v1.0h-1.0zM168.1,86.4h1.0v1.0h-1.0zM166.4,86.3h1.0v1.0h-1.0zM175.1,85.7h1.0v1.0h-1.0zM171.0,84.1h1.0v1.0h-1.0zM177.2,81.1h1.0v1.0h-1.0zM168.1,84.3h1.0v1.0h-1.0zM175.3,82.5h1.0v1.0h-1.0zM170.2,82.6h1.0v1.0h-1.0zM166.2,84.5h1.0v1.0h-1.0zM174.4,83.1h1.0v1.0h-1.0zM174.4,86.3h1.0v1.0h-1.0zM171.6,86.2h1.0v1.0h-1.0zM169.1,85.6h1.0v1.0h-1.0zM167.6,85.8h1.0v1.0h-1.0zM169.9,83.4h1.0v1.0h-1.0zM171.8,81.4h1.0v1.0h-1.0zM170.2,81.1h1.0v1.0h-1.0zM173.1,85.0h1.0v1.0h-1.0zM171.1,87.9h1.0v1.0h-1.0zM170.8,89.7h1.0v1.0h-1.0zM170.7,84.8h1.0v1.0h-1.0zM173.3,80.5h1.0v1.0h-1.0zM165.4,87.0h1.0v1.0h-1.0zM174.3,82.6h1.0v1.0h-1.0zM167.6,80.8h1.0v1.0h-1.0zM173.2,91.0h1.0v1.0h-1.0zM162.5,85.3h1.0v1.0h-1.0zM164.8,88.0h1.0v1.0h-1.0zM167.5,86.1h1.0v1.0h-1.0zM171.5,80.7h1.0v1.0h-1.0zM167.6,86.6h1.0v1.0h-1.0zM169.0,87.2h1.0v1.0h-1.0zM169.2,89.2h1.0v1.0h-1.0zM176.5,83.9h1.0v1.0h-1.0zM170.6,83.3h1.0v1.0h-1.0zM167.9,83.3h1.0v1.0h-1.0zM170.0,85.3h1.0v1.0h-1.0zM172.7,83.5h1.0v1.0h-1.0zM172.8,76.5h1.0v1.0h-1.0zM170.1,82.7h1.0v1.0h-1.0zM171.9,84.6h1.0v1.0h-1.0zM168.1,80.8h1.0v1.0h-1.0zM172.2,80.3h1.0v1.0h-1.0zM173.4,89.6h1.0v1.0h-1.0zM166.4,86.4h1.0v1.0h-1.0zM176.8,84.0h1.0v1.0h-1.0zM170.9,88.1h1.0v1.0h-1.0zM169.0,83.3h1.0v1.0h-1.0zM166.2,82.3h1.0v1.0h-1.0zM171.4,84.4h1.0v1.0h-1.0zM166.4,79.6h1.0v1.0h-1.0zM171.6,80.8h1.0v1.0h-1.0zM172.0,85.4h1.0v1.0h-1.0zM166.1,86.0h1.0v1.0h-1.0zM170.3,85.1h1.0v1.0h-1.0zM175.7,87.0h1.0v1.0h-1.0zM173.9,83.8h1.0v1.0h-1.0zM172.4,87.3h1.0v1.0h-1.0zM173.9,79.2h1.0v1.0h-1.0zM170.3,86.0h1.0v1.0h-1.0zM171.6,85.3h1.0v1.0h-1.0zM168.6,90.3h1.0v1.0h-1.0zM169.9,86.7h1.0v1.0h-1.0zM172.1,85.5h1.0v1.0h-1.0zM168.8,84.0h1.0v1.0h-1.0zM173.2,80.9h1.0v1.0h-1.0zM167.5,87.2h1.0v1.0h-1.0zM173.1,83.4h1.0v1.0h-1.0zM170.9,85.7h1.0v1.0h-1.0zM173.5,82.7h1.0v1.0h-1.0zM170.3,89.2h1.0v1.0h-1.0zM170.5,82.1h1.0v1.0h-1.0zM167.5,82.7h1.0v1.0h-1.0zM175.8,84.4h1.0v1.0h-1.0zM168.1,80.7h1.0v1.0h-1.0zM173.0,86.2h1.0v1.0h-1.0zM168.5,89.2h1.0v1.0h-1.0zM170.6,84.2h1.0v1.0h-1.0zM173.6,84.4h1.0v1.0h-1.0zM174.3,80.3h1.0v1.0h-1.0zM170.9,86.2h1.0v1.0h-1.0zM171.7,87.7h1.0v1.0h-1.0zM174.5,85.8h1.0v1.0h-1.0zM169.2,86.1h1.0v1.0h-1.0zM172.9,82.8h1.0v1.0h-1.0zM167.1,85.8h1.0v1.0h-1.0zM167.0,94.2h1.0v1.0h-1.0zM168.3,84.6h1.0v1.0h-1.0zM168.1,86.0h1.0v1.0h-1.0zM172.0,87.2h1.0v1.0h-1.0zM170.9,83.5h1.0v1.0h-1.0zM168.6,86.3h1.0v1.0h-1.0zM171.2,83.7h1.0v1.0h-1.0zM168.8,87.1h1.0v1.0h-1.0zM169.2,90.2h1.0v1.0h-1.0zM169.9,84.8h1.0v1.0h-1.0zM175.9,79.6h1.0v1.0h-1.0zM172.7,84.3h1.0v1.0h-1.0zM163.4,87.3h1.0v1.0h-1.0zM171.9,85.3h1.0v1.0h-1.0zM170.4,86.9h1.0v1.0h-1.0zM170.1,87.7h1.0v1.0h-1.0zM169.2,85.5h1.0v1.0h-1.0zM168.3,91.5h1.0v1.0h-1.0zM174.1,87.8h1.0v1.0h-1.0zM170.2,88.9h1.0v1.0h-1.0zM175.6,81.4h1.0v1.0h-1.0zM169.1,84.1h1.0v1.0h-1.0zM169.9,83.3h1.0v1.0h-1.0z" fill="#2a0f4f"/>
<path d="M179.2,76.8h0.9v0.9h-0.9zM177.5,78.3h0.9v0.9h-0.9zM177.3,77.8h0.9v0.9h-0.9zM177.0,78.7h0.9v0.9h-0.9zM174.1,78.7h0.9v0.9h-0.9zM174.0,82.8h0.9v0.9h-0.9zM181.5,81.7h0.9v0.9h-0.9zM177.5,80.1h0.9v0.9h-0.9zM184.6,72.3h0.9v0.9h-0.9zM182.1,76.8h0.9v0.9h-0.9zM175.9,78.8h0.9v0.9h-0.9zM176.0,79.1h0.9v0.9h-0.9zM178.5,79.3h0.9v0.9h-0.9zM168.1,79.5h0.9v0.9h-0.9zM176.6,82.2h0.9v0.9h-0.9zM178.1,80.8h0.9v0.9h-0.9zM178.5,83.7h0.9v0.9h-0.9zM175.0,79.1h0.9v0.9h-0.9zM173.3,85.2h0.9v0.9h-0.9zM185.1,80.2h0.9v0.9h-0.9zM175.3,77.0h0.9v0.9h-0.9zM181.8,72.6h0.9v0.9h-0.9zM182.0,80.5h0.9v0.9h-0.9zM175.0,85.3h0.9v0.9h-0.9zM182.2,78.3h0.9v0.9h-0.9zM183.7,75.9h0.9v0.9h-0.9zM181.1,81.1h0.9v0.9h-0.9zM173.0,76.6h0.9v0.9h-0.9zM176.4,82.0h0.9v0.9h-0.9zM181.4,71.6h0.9v0.9h-0.9zM175.1,86.1h0.9v0.9h-0.9zM179.3,76.4h0.9v0.9h-0.9zM178.1,78.5h0.9v0.9h-0.9zM177.3,80.0h0.9v0.9h-0.9zM171.7,81.5h0.9v0.9h-0.9zM174.5,77.5h0.9v0.9h-0.9zM180.0,77.8h0.9v0.9h-0.9zM181.5,74.5h0.9v0.9h-0.9zM177.6,79.5h0.9v0.9h-0.9zM171.4,82.4h0.9v0.9h-0.9zM180.8,81.2h0.9v0.9h-0.9zM173.5,82.5h0.9v0.9h-0.9zM171.3,80.7h0.9v0.9h-0.9zM182.1,74.4h0.9v0.9h-0.9zM175.1,77.2h0.9v0.9h-0.9zM178.1,84.1h0.9v0.9h-0.9zM179.9,80.2h0.9v0.9h-0.9zM171.2,78.2h0.9v0.9h-0.9zM180.7,79.5h0.9v0.9h-0.9zM180.4,78.2h0.9v0.9h-0.9zM178.8,77.7h0.9v0.9h-0.9zM174.9,75.1h0.9v0.9h-0.9zM179.6,81.2h0.9v0.9h-0.9zM182.4,79.1h0.9v0.9h-0.9zM178.8,79.8h0.9v0.9h-0.9zM176.0,80.3h0.9v0.9h-0.9zM182.4,77.1h0.9v0.9h-0.9zM189.6,72.6h0.9v0.9h-0.9zM173.4,81.2h0.9v0.9h-0.9zM175.2,81.9h0.9v0.9h-0.9zM176.3,79.5h0.9v0.9h-0.9zM173.0,76.0h0.9v0.9h-0.9zM172.9,83.1h0.9v0.9h-0.9zM175.4,75.7h0.9v0.9h-0.9zM180.8,82.8h0.9v0.9h-0.9zM180.1,83.9h0.9v0.9h-0.9zM179.1,82.4h0.9v0.9h-0.9zM173.8,82.4h0.9v0.9h-0.9zM179.3,78.8h0.9v0.9h-0.9zM179.2,76.1h0.9v0.9h-0.9zM182.0,75.0h0.9v0.9h-0.9zM177.0,83.4h0.9v0.9h-0.9zM168.1,73.7h0.9v0.9h-0.9zM179.5,71.9h0.9v0.9h-0.9zM183.0,74.8h0.9v0.9h-0.9zM175.8,80.8h0.9v0.9h-0.9zM178.6,76.4h0.9v0.9h-0.9zM175.6,83.8h0.9v0.9h-0.9zM179.5,79.4h0.9v0.9h-0.9zM175.4,77.2h0.9v0.9h-0.9zM174.1,76.0h0.9v0.9h-0.9zM180.6,76.4h0.9v0.9h-0.9zM181.0,78.7h0.9v0.9h-0.9zM179.5,77.2h0.9v0.9h-0.9zM175.7,76.8h0.9v0.9h-0.9zM176.2,73.3h0.9v0.9h-0.9zM174.1,82.3h0.9v0.9h-0.9zM178.2,80.4h0.9v0.9h-0.9zM180.6,78.4h0.9v0.9h-0.9zM182.9,84.1h0.9v0.9h-0.9zM184.5,75.5h0.9v0.9h-0.9zM188.2,74.5h0.9v0.9h-0.9zM175.5,78.1h0.9v0.9h-0.9zM172.3,79.5h0.9v0.9h-0.9zM177.9,77.2h0.9v0.9h-0.9zM181.0,73.5h0.9v0.9h-0.9zM178.7,77.7h0.9v0.9h-0.9zM181.6,73.4h0.9v0.9h-0.9zM183.1,80.4h0.9v0.9h-0.9zM175.2,77.4h0.9v0.9h-0.9zM175.7,78.3h0.9v0.9h-0.9zM181.2,79.5h0.9v0.9h-0.9zM178.2,76.9h0.9v0.9h-0.9zM180.3,81.3h0.9v0.9h-0.9zM170.1,80.0h0.9v0.9h-0.9zM175.1,79.4h0.9v0.9h-0.9zM178.4,83.7h0.9v0.9h-0.9zM182.3,71.4h0.9v0.9h-0.9zM175.1,80.1h0.9v0.9h-0.9zM178.1,76.8h0.9v0.9h-0.9zM179.1,76.3h0.9v0.9h-0.9zM178.8,79.0h0.9v0.9h-0.9zM176.1,82.0h0.9v0.9h-0.9zM173.2,75.7h0.9v0.9h-0.9zM173.5,86.6h0.9v0.9h-0.9zM180.8,76.5h0.9v0.9h-0.9zM179.1,79.3h0.9v0.9h-0.9zM179.5,81.2h0.9v0.9h-0.9zM180.5,76.7h0.9v0.9h-0.9zM185.9,80.0h0.9v0.9h-0.9zM172.9,80.1h0.9v0.9h-0.9zM177.3,75.7h0.9v0.9h-0.9zM176.2,75.4h0.9v0.9h-0.9zM178.5,78.9h0.9v0.9h-0.9zM177.7,78.6h0.9v0.9h-0.9zM176.7,76.5h0.9v0.9h-0.9zM178.5,78.0h0.9v0.9h-0.9zM185.6,75.2h0.9v0.9h-0.9zM182.6,81.3h0.9v0.9h-0.9zM181.7,80.5h0.9v0.9h-0.9zM181.4,80.6h0.9v0.9h-0.9zM175.1,76.6h0.9v0.9h-0.9zM178.5,76.1h0.9v0.9h-0.9zM173.2,81.6h0.9v0.9h-0.9zM180.7,74.2h0.9v0.9h-0.9zM181.7,76.5h0.9v0.9h-0.9zM180.8,76.9h0.9v0.9h-0.9zM179.3,75.8h0.9v0.9h-0.9zM174.4,86.5h0.9v0.9h-0.9zM176.7,78.3h0.9v0.9h-0.9zM182.2,75.0h0.9v0.9h-0.9zM179.7,72.7h0.9v0.9h-0.9zM179.8,77.4h0.9v0.9h-0.9zM178.7,78.7h0.9v0.9h-0.9zM177.9,79.1h0.9v0.9h-0.9zM177.1,77.8h0.9v0.9h-0.9zM177.1,76.6h0.9v0.9h-0.9zM177.0,80.0h0.9v0.9h-0.9zM178.1,79.0h0.9v0.9h-0.9zM177.0,79.2h0.9v0.9h-0.9zM181.5,78.6h0.9v0.9h-0.9zM181.1,75.4h0.9v0.9h-0.9zM175.0,80.0h0.9v0.9h-0.9zM178.7,78.5h0.9v0.9h-0.9zM168.5,84.9h0.9v0.9h-0.9zM175.3,79.0h0.9v0.9h-0.9zM176.5,87.4h0.9v0.9h-0.9zM183.4,82.4h0.9v0.9h-0.9zM174.9,84.2h0.9v0.9h-0.9zM177.0,79.8h0.9v0.9h-0.9zM184.2,78.7h0.9v0.9h-0.9zM173.0,79.4h0.9v0.9h-0.9zM182.1,72.7h0.9v0.9h-0.9zM174.9,87.1h0.9v0.9h-0.9zM174.0,82.5h0.9v0.9h-0.9zM183.1,79.4h0.9v0.9h-0.9zM178.7,79.8h0.9v0.9h-0.9zM176.7,79.8h0.9v0.9h-0.9zM183.7,70.2h0.9v0.9h-0.9zM176.9,77.7h0.9v0.9h-0.9zM175.2,81.6h0.9v0.9h-0.9zM179.9,73.3h0.9v0.9h-0.9zM179.7,84.6h0.9v0.9h-0.9zM180.6,79.6h0.9v0.9h-0.9zM180.5,77.4h0.9v0.9h-0.9zM177.2,78.2h0.9v0.9h-0.9zM179.7,84.2h0.9v0.9h-0.9zM186.3,77.1h0.9v0.9h-0.9zM182.0,81.9h0.9v0.9h-0.9zM177.4,82.6h0.9v0.9h-0.9zM178.4,82.9h0.9v0.9h-0.9zM175.6,82.3h0.9v0.9h-0.9zM176.4,80.1h0.9v0.9h-0.9zM175.3,79.6h0.9v0.9h-0.9zM175.5,81.9h0.9v0.9h-0.9zM181.2,78.3h0.9v0.9h-0.9zM177.5,79.0h0.9v0.9h-0.9zM184.8,80.7h0.9v0.9h-0.9zM177.5,79.8h0.9v0.9h-0.9zM174.7,76.1h0.9v0.9h-0.9zM177.0,79.2h0.9v0.9h-0.9zM178.7,78.4h0.9v0.9h-0.9zM174.4,78.6h0.9v0.9h-0.9zM178.1,75.0h0.9v0.9h-0.9zM174.3,83.9h0.9v0.9h-0.9zM183.7,77.0h0.9v0.9h-0.9zM179.7,75.5h0.9v0.9h-0.9zM174.9,81.8h0.9v0.9h-0.9zM176.3,83.7h0.9v0.9h-0.9zM172.3,81.2h0.9v0.9h-0.9zM176.4,79.0h0.9v0.9h-0.9zM176.1,75.9h0.9v0.9h-0.9zM185.6,79.9h0.9v0.9h-0.9zM182.1,81.6h0.9v0.9h-0.9zM177.8,84.2h0.9v0.9h-0.9zM176.4,79.0h0.9v0.9h-0.9zM172.9,80.2h0.9v0.9h-0.9zM171.1,85.2h0.9v0.9h-0.9zM183.0,76.1h0.9v0.9h-0.9zM182.1,78.0h0.9v0.9h-0.9zM184.4,79.9h0.9v0.9h-0.9zM177.7,81.9h0.9v0.9h-0.9zM181.9,80.4h0.9v0.9h-0.9zM181.5,81.2h0.9v0.9h-0.9zM176.4,79.9h0.9v0.9h-0.9zM179.6,79.2h0.9v0.9h-0.9zM183.2,76.2h0.9v0.9h-0.9zM173.4,82.2h0.9v0.9h-0.9zM171.4,81.1h0.9v0.9h-0.9zM171.0,76.8h0.9v0.9h-0.9zM173.1,77.6h0.9v0.9h-0.9zM176.3,79.8h0.9v0.9h-0.9zM175.4,80.2h0.9v0.9h-0.9zM175.7,83.5h0.9v0.9h-0.9zM180.8,79.5h0.9v0.9h-0.9zM176.2,73.3h0.9v0.9h-0.9zM176.9,77.6h0.9v0.9h-0.9zM176.6,85.6h0.9v0.9h-0.9zM178.6,74.1h0.9v0.9h-0.9zM181.0,71.8h0.9v0.9h-0.9zM175.7,72.6h0.9v0.9h-0.9zM174.4,85.8h0.9v0.9h-0.9zM182.3,79.6h0.9v0.9h-0.9zM174.0,79.3h0.9v0.9h-0.9zM180.1,82.6h0.9v0.9h-0.9zM174.0,82.2h0.9v0.9h-0.9zM175.9,76.3h0.9v0.9h-0.9zM173.3,83.6h0.9v0.9h-0.9zM179.3,73.4h0.9v0.9h-0.9zM178.2,73.9h0.9v0.9h-0.9zM180.1,76.9h0.9v0.9h-0.9zM180.0,79.0h0.9v0.9h-0.9zM176.8,78.4h0.9v0.9h-0.9zM185.6,75.5h0.9v0.9h-0.9zM176.8,79.5h0.9v0.9h-0.9zM174.6,81.9h0.9v0.9h-0.9zM181.8,76.5h0.9v0.9h-0.9zM179.9,83.3h0.9v0.9h-0.9zM172.7,84.4h0.9v0.9h-0.9zM178.8,83.2h0.9v0.9h-0.9zM178.8,71.1h0.9v0.9h-0.9zM184.7,85.2h0.9v0.9h-0.9zM187.2,75.4h0.9v0.9h-0.9zM176.0,77.6h0.9v0.9h-0.9zM177.6,77.7h0.9v0.9h-0.9zM177.1,77.7h0.9v0.9h-0.9zM177.7,81.0h0.9v0.9h-0.9zM172.6,73.3h0.9v0.9h-0.9zM190.2,76.7h0.9v0.9h-0.9zM180.0,79.9h0.9v0.9h-0.9zM177.0,79.0h0.9v0.9h-0.9zM178.2,85.5h0.9v0.9h-0.9zM177.2,82.2h0.9v0.9h-0.9zM172.5,79.9h0.9v0.9h-0.9zM176.1,76.4h0.9v0.9h-0.9zM175.4,78.1h0.9v0.9h-0.9zM177.8,78.5h0.9v0.9h-0.9zM176.3,80.3h0.9v0.9h-0.9zM184.1,74.8h0.9v0.9h-0.9zM181.2,82.6h0.9v0.9h-0.9zM182.3,74.8h0.9v0.9h-0.9zM170.2,72.7h0.9v0.9h-0.9zM169.2,78.8h0.9v0.9h-0.9zM176.2,86.2h0.9v0.9h-0.9zM168.5,85.3h0.9v0.9h-0.9zM179.9,79.9h0.9v0.9h-0.9zM178.9,84.2h0.9v0.9h-0.9zM173.8,75.8h0.9v0.9h-0.9zM179.6,81.4h0.9v0.9h-0.9zM178.8,84.7h0.9v0.9h-0.9zM182.1,81.0h0.9v0.9h-0.9zM176.6,80.7h0.9v0.9h-0.9zM177.2,81.9h0.9v0.9h-0.9zM180.3,81.2h0.9v0.9h-0.9zM171.9,74.0h0.9v0.9h-0.9zM180.3,76.2h0.9v0.9h-0.9zM177.6,72.3h0.9v0.9h-0.9zM178.0,82.5h0.9v0.9h-0.9zM173.3,77.7h0.9v0.9h-0.9zM174.5,78.1h0.9v0.9h-0.9zM177.0,78.6h0.9v0.9h-0.9zM176.9,80.3h0.9v0.9h-0.9zM182.6,70.9h0.9v0.9h-0.9zM180.2,79.4h0.9v0.9h-0.9zM180.7,79.5h0.9v0.9h-0.9zM175.1,87.0h0.9v0.9h-0.9zM181.9,80.5h0.9v0.9h-0.9zM182.5,75.7h0.9v0.9h-0.9zM176.4,77.4h0.9v0.9h-0.9zM176.6,79.7h0.9v0.9h-0.9z" fill="#2a0f4f"/>
<path d="M187.2,68.9h0.9v0.9h-0.9zM177.0,75.2h0.9v0.9h-0.9zM188.1,70.9h0.9v0.9h-0.9zM179.4,79.3h0.9v0.9h-0.9zM188.1,73.5h0.9v0.9h-0.9zM182.9,75.0h0.9v0.9h-0.9zM184.1,70.8h0.9v0.9h-0.9zM189.1,72.6h0.9v0.9h-0.9zM187.1,65.6h0.9v0.9h-0.9zM185.5,69.9h0.9v0.9h-0.9zM184.6,75.4h0.9v0.9h-0.9zM183.6,70.4h0.9v0.9h-0.9zM187.8,70.5h0.9v0.9h-0.9zM185.9,73.5h0.9v0.9h-0.9zM189.5,70.0h0.9v0.9h-0.9zM190.1,73.8h0.9v0.9h-0.9zM186.9,76.4h0.9v0.9h-0.9zM184.1,73.5h0.9v0.9h-0.9zM184.2,65.9h0.9v0.9h-0.9zM182.1,74.5h0.9v0.9h-0.9zM190.3,77.6h0.9v0.9h-0.9zM186.5,72.1h0.9v0.9h-0.9zM182.9,67.9h0.9v0.9h-0.9zM183.7,72.5h0.9v0.9h-0.9zM187.6,72.5h0.9v0.9h-0.9zM189.0,72.9h0.9v0.9h-0.9zM185.8,72.0h0.9v0.9h-0.9zM179.7,73.8h0.9v0.9h-0.9zM184.6,65.3h0.9v0.9h-0.9zM184.8,70.4h0.9v0.9h-0.9zM191.4,70.4h0.9v0.9h-0.9zM181.2,77.9h0.9v0.9h-0.9zM192.8,73.9h0.9v0.9h-0.9zM186.5,71.5h0.9v0.9h-0.9zM183.3,78.0h0.9v0.9h-0.9zM181.6,73.2h0.9v0.9h-0.9zM187.3,72.5h0.9v0.9h-0.9zM179.9,74.0h0.9v0.9h-0.9zM184.3,71.0h0.9v0.9h-0.9zM185.5,72.3h0.9v0.9h-0.9zM184.9,64.9h0.9v0.9h-0.9zM183.9,69.1h0.9v0.9h-0.9zM189.1,73.6h0.9v0.9h-0.9zM184.5,76.3h0.9v0.9h-0.9zM180.2,67.4h0.9v0.9h-0.9zM185.4,75.6h0.9v0.9h-0.9zM185.1,72.9h0.9v0.9h-0.9zM186.4,76.7h0.9v0.9h-0.9zM187.0,73.1h0.9v0.9h-0.9zM185.3,74.3h0.9v0.9h-0.9zM186.9,74.7h0.9v0.9h-0.9zM186.7,69.4h0.9v0.9h-0.9zM184.7,71.0h0.9v0.9h-0.9zM181.7,74.3h0.9v0.9h-0.9zM183.5,74.7h0.9v0.9h-0.9zM185.6,71.7h0.9v0.9h-0.9zM183.3,72.1h0.9v0.9h-0.9zM189.5,70.4h0.9v0.9h-0.9zM185.6,72.7h0.9v0.9h-0.9zM187.0,73.9h0.9v0.9h-0.9zM190.9,72.5h0.9v0.9h-0.9zM184.7,76.0h0.9v0.9h-0.9zM181.7,69.6h0.9v0.9h-0.9zM184.5,69.7h0.9v0.9h-0.9zM182.4,75.4h0.9v0.9h-0.9zM185.3,73.5h0.9v0.9h-0.9zM188.0,71.4h0.9v0.9h-0.9zM193.2,66.8h0.9v0.9h-0.9zM190.1,70.9h0.9v0.9h-0.9zM183.9,72.7h0.9v0.9h-0.9zM182.1,74.4h0.9v0.9h-0.9zM186.8,70.0h0.9v0.9h-0.9zM187.0,71.0h0.9v0.9h-0.9zM186.2,72.0h0.9v0.9h-0.9zM184.6,69.6h0.9v0.9h-0.9zM183.2,69.4h0.9v0.9h-0.9zM188.3,72.1h0.9v0.9h-0.9zM186.9,79.7h0.9v0.9h-0.9zM187.4,68.1h0.9v0.9h-0.9zM182.0,71.9h0.9v0.9h-0.9zM188.1,68.8h0.9v0.9h-0.9zM178.6,74.2h0.9v0.9h-0.9zM187.0,72.2h0.9v0.9h-0.9zM187.1,70.0h0.9v0.9h-0.9zM179.7,77.8h0.9v0.9h-0.9zM188.7,73.3h0.9v0.9h-0.9zM186.0,75.7h0.9v0.9h-0.9zM187.4,65.7h0.9v0.9h-0.9zM187.5,73.2h0.9v0.9h-0.9zM185.4,72.0h0.9v0.9h-0.9zM189.6,72.6h0.9v0.9h-0.9zM183.2,70.0h0.9v0.9h-0.9zM186.8,73.3h0.9v0.9h-0.9zM189.0,70.9h0.9v0.9h-0.9zM188.8,73.4h0.9v0.9h-0.9zM185.0,74.4h0.9v0.9h-0.9zM179.3,76.6h0.9v0.9h-0.9zM185.8,72.8h0.9v0.9h-0.9zM184.8,70.6h0.9v0.9h-0.9zM183.9,77.4h0.9v0.9h-0.9zM188.2,76.0h0.9v0.9h-0.9zM190.5,73.4h0.9v0.9h-0.9zM185.8,76.7h0.9v0.9h-0.9zM189.4,68.7h0.9v0.9h-0.9zM185.4,75.4h0.9v0.9h-0.9zM185.7,73.6h0.9v0.9h-0.9zM188.2,71.0h0.9v0.9h-0.9zM182.9,72.3h0.9v0.9h-0.9zM181.7,73.9h0.9v0.9h-0.9zM187.5,69.5h0.9v0.9h-0.9z" fill="#2a0f4f"/>
<path d="M185.2,67.3h0.9v0.9h-0.9zM188.2,66.8h0.9v0.9h-0.9zM187.8,67.2h0.9v0.9h-0.9zM187.7,69.5h0.9v0.9h-0.9zM186.2,66.1h0.9v0.9h-0.9zM185.1,66.1h0.9v0.9h-0.9zM187.6,69.5h0.9v0.9h-0.9zM188.7,65.5h0.9v0.9h-0.9zM183.5,69.7h0.9v0.9h-0.9zM185.3,68.7h0.9v0.9h-0.9zM188.1,68.6h0.9v0.9h-0.9zM187.4,68.3h0.9v0.9h-0.9zM187.1,67.9h0.9v0.9h-0.9zM187.7,64.2h0.9v0.9h-0.9zM187.2,70.4h0.9v0.9h-0.9zM186.4,66.9h0.9v0.9h-0.9zM187.2,67.6h0.9v0.9h-0.9zM187.2,65.5h0.9v0.9h-0.9zM186.7,67.1h0.9v0.9h-0.9zM182.3,69.5h0.9v0.9h-0.9zM185.5,70.8h0.9v0.9h-0.9zM187.3,67.4h0.9v0.9h-0.9zM186.3,69.9h0.9v0.9h-0.9zM188.3,70.0h0.9v0.9h-0.9zM187.4,69.4h0.9v0.9h-0.9zM185.0,66.8h0.9v0.9h-0.9zM186.7,69.4h0.9v0.9h-0.9zM182.8,66.6h0.9v0.9h-0.9zM187.8,67.3h0.9v0.9h-0.9zM184.6,67.6h0.9v0.9h-0.9zM192.5,66.4h0.9v0.9h-0.9zM186.4,69.7h0.9v0.9h-0.9zM187.1,69.1h0.9v0.9h-0.9zM189.6,72.8h0.9v0.9h-0.9zM185.7,67.6h0.9v0.9h-0.9zM187.2,69.0h0.9v0.9h-0.9zM186.8,67.3h0.9v0.9h-0.9zM188.1,65.5h0.9v0.9h-0.9zM188.1,69.0h0.9v0.9h-0.9zM188.8,68.1h0.9v0.9h-0.9z" fill="#4259d9"/>
<path d="M164.8,93.2 Q168,99 177.5,102" stroke="#5fe8b0" stroke-width="1.3" fill="none"/>
<path d="M202.5,15.0C202.7,13.6 204.0,13.3 205.0,13.3C206.0,13.3 207.6,14.2 208.5,15.0C209.4,15.8 210.7,17.0 210.5,18.0C210.3,19.0 208.6,20.4 207.5,21.0C206.4,21.6 204.8,22.5 204.0,21.5C203.2,20.5 202.3,16.4 202.5,15.0Z" fill="#f0823a" />
<path d="M144.2,15.6C144.3,15.2 145.0,14.7 145.6,15.2C146.2,15.7 147.6,17.9 147.8,18.6C148.0,19.3 147.3,19.7 146.8,19.5C146.3,19.3 145.4,18.2 145.0,17.6C144.6,17.0 144.1,16.0 144.2,15.6Z" fill="#f0823a" />
<path d="M225.5,53.0C225.7,52.2 227.0,49.7 228.0,49.0C229.0,48.3 230.5,48.3 231.5,48.8C232.5,49.3 233.8,50.7 234.2,52.0C234.6,53.3 234.2,55.5 233.8,56.5C233.4,57.5 232.1,58.3 231.5,58.0C230.9,57.7 230.8,55.2 230.0,54.5C229.2,53.8 227.8,54.2 227.0,54.0C226.2,53.8 225.3,53.8 225.5,53.0Z" fill="#4259d9" />
<rect x="224.3" y="53" width="1.3" height="1.6" fill="#f0823a"/><rect x="231.5" y="57.5" width="1.5" height="1.5" fill="#b9f23e"/>
<path d="M246.3,92.8 L254.8,87" stroke="#e6b83a" stroke-width="1.6"/><path d="M250,90.5 L254,87.6" stroke="#f0823a" stroke-width="1"/>
<path d="M102.3,16.4C102.9,14.7 103.9,11.5 105.3,10.2C106.7,8.9 108.4,8.5 110.4,8.7C112.5,8.9 115.2,10.7 117.6,11.2C120.0,11.7 122.5,12.0 124.7,11.8C126.9,11.6 129.4,10.0 130.9,10.2C132.4,10.4 133.7,11.7 133.9,12.8C134.2,13.9 133.4,15.9 132.4,16.9C131.4,17.9 129.0,18.0 127.8,18.9C126.6,19.8 126.5,20.8 125.3,22.0C124.1,23.2 122.5,24.9 120.7,26.1C118.9,27.3 116.7,28.6 114.5,29.1C112.3,29.6 109.4,29.8 107.4,29.1C105.5,28.4 103.7,26.4 102.8,25.0C101.9,23.6 101.9,21.8 101.8,20.4C101.7,19.0 101.7,18.1 102.3,16.4Z" fill="#6fe9d6" />
<path d="M128.0,16.0C128.3,15.5 129.8,15.2 130.5,15.2C131.2,15.2 131.9,15.5 132.0,16.0C132.1,16.5 131.6,17.8 131.0,18.2C130.4,18.6 129.0,18.8 128.5,18.4C128.0,18.0 127.7,16.5 128.0,16.0Z" fill="#bcf43e" />
<rect x="94.6" y="20.9" width="2.4" height="1.7" rx="0.7" fill="#66f582"/>
<path d="M125.4,23 L125.5,28" stroke="#f0823a" stroke-width="1" stroke-dasharray="1.6 0.9"/>
<path d="M129.6,16.7h0.7v0.7h-0.7zM125.3,20.0h0.7v0.7h-0.7zM121.4,21.2h0.7v0.7h-0.7zM120.4,15.7h0.7v0.7h-0.7zM107.9,19.1h0.7v0.7h-0.7zM119.7,29.6h0.7v0.7h-0.7zM110.3,17.3h0.7v0.7h-0.7zM108.9,19.4h0.7v0.7h-0.7zM115.2,24.0h0.7v0.7h-0.7zM105.3,17.4h0.7v0.7h-0.7zM119.8,16.7h0.7v0.7h-0.7zM108.6,16.8h0.7v0.7h-0.7zM108.9,17.4h0.7v0.7h-0.7zM117.8,19.0h0.7v0.7h-0.7zM122.7,14.1h0.7v0.7h-0.7zM100.8,8.8h0.7v0.7h-0.7zM110.8,26.0h0.7v0.7h-0.7zM110.2,12.9h0.7v0.7h-0.7zM121.0,18.0h0.7v0.7h-0.7zM119.5,13.2h0.7v0.7h-0.7zM121.8,17.6h0.7v0.7h-0.7zM119.0,23.0h0.7v0.7h-0.7zM119.4,13.9h0.7v0.7h-0.7zM114.5,9.7h0.7v0.7h-0.7zM117.8,19.2h0.7v0.7h-0.7z" fill="#ffffff"/>
<path d="M77,34.6 Q68.5,36.2 66.9,42.5 Q66.2,47 68,51.6" stroke="#58f58a" stroke-width="1.9" fill="none" stroke-linecap="round"/><path d="M71,36.8 Q73,35.3 76,34.8" stroke="#6fe9d6" stroke-width="1" fill="none"/>
<path d="M125.6,32.0C125.7,31.1 126.7,30.2 127.5,29.8C128.3,29.4 129.8,29.4 130.5,29.8C131.2,30.2 131.6,31.6 131.5,32.5C131.4,33.4 130.8,34.5 130.0,35.0C129.2,35.5 127.7,35.7 127.0,35.2C126.3,34.7 125.5,32.9 125.6,32.0Z" fill="#e6b83a" />
<path d="M128.0,31.5C128.2,31.0 129.7,31.0 130.2,31.3C130.7,31.6 131.2,33.0 131.0,33.5C130.8,34.0 129.5,34.8 129.0,34.5C128.5,34.2 127.8,32.0 128.0,31.5Z" fill="#4a9ae0" />
<path d="M128.5,35.0C128.8,34.5 129.9,33.7 131.0,33.8C132.1,33.9 134.4,34.9 135.0,35.5C135.6,36.1 135.2,37.1 134.6,37.6C134.0,38.1 132.3,38.5 131.5,38.4C130.7,38.3 130.0,37.6 129.5,37.0C129.0,36.4 128.2,35.5 128.5,35.0Z" fill="#f0823a" />
<path d="M129.5,41.5C129.7,41.0 130.4,40.6 131.0,41.0C131.6,41.4 132.3,43.0 133.0,44.0C133.7,45.0 134.8,46.2 135.0,47.0C135.2,47.8 134.6,48.8 134.0,48.6C133.4,48.4 132.2,46.8 131.5,46.0C130.8,45.2 130.1,44.8 129.8,44.0C129.5,43.2 129.3,42.0 129.5,41.5Z" fill="#f0823a" />
<path d="M125.8,44.5C126.0,43.9 126.9,43.4 127.5,44.0C128.1,44.6 129.1,47.1 129.2,48.0C129.3,48.9 128.5,49.3 128.0,49.2C127.5,49.1 126.6,48.3 126.2,47.5C125.8,46.7 125.6,45.1 125.8,44.5Z" fill="#f0823a" />
<path d="M127.3,40.4 L127.4,46" stroke="#4fd9c0" stroke-width="0.9"/>
<path d="M133.1,44.7h0.8v0.8h-0.8zM132.1,45.5h0.8v0.8h-0.8zM132.5,41.3h0.8v0.8h-0.8zM131.5,41.8h0.8v0.8h-0.8zM131.9,49.4h0.8v0.8h-0.8zM131.8,45.7h0.8v0.8h-0.8zM133.0,40.9h0.8v0.8h-0.8zM130.7,44.5h0.8v0.8h-0.8zM131.3,45.5h0.8v0.8h-0.8zM130.2,42.6h0.8v0.8h-0.8zM132.8,44.2h0.8v0.8h-0.8zM133.6,42.9h0.8v0.8h-0.8zM133.6,40.9h0.8v0.8h-0.8zM128.9,41.8h0.8v0.8h-0.8z" fill="#f0823a"/>
<path d="M101.1,54.3C101.7,52.9 104.4,51.0 106.4,49.6C108.5,48.2 111.3,46.8 113.4,46.1C115.5,45.4 118.3,45.0 119.2,45.5C120.1,46.0 119.6,47.6 118.6,49.0C117.6,50.4 115.2,52.3 113.4,53.7C111.6,55.1 109.3,56.5 107.6,57.2C105.8,57.9 104.0,58.3 102.9,57.8C101.8,57.3 100.5,55.7 101.1,54.3Z" fill="#4259d9" />
<path d="M101.8,57.0C102.3,56.3 103.6,56.1 105.0,56.0C106.4,55.9 108.5,56.7 110.0,56.5C111.5,56.3 113.0,54.8 114.0,55.0C115.0,55.2 116.2,56.8 116.0,58.0C115.8,59.2 114.3,60.9 113.0,62.0C111.7,63.1 109.5,64.3 108.0,64.5C106.5,64.7 105.0,63.8 104.0,63.0C103.0,62.2 102.4,61.0 102.0,60.0C101.6,59.0 101.3,57.7 101.8,57.0Z" fill="#2a0f4f" />
<path d="M105.8,53.5h1.0v1.0h-1.0zM109.6,58.5h1.0v1.0h-1.0zM100.4,70.1h1.0v1.0h-1.0zM109.0,55.8h1.0v1.0h-1.0zM108.8,62.8h1.0v1.0h-1.0zM98.7,59.4h1.0v1.0h-1.0zM110.6,59.4h1.0v1.0h-1.0zM104.1,63.6h1.0v1.0h-1.0zM98.1,62.9h1.0v1.0h-1.0zM108.2,52.3h1.0v1.0h-1.0zM99.9,60.2h1.0v1.0h-1.0zM115.0,53.8h1.0v1.0h-1.0zM117.3,61.7h1.0v1.0h-1.0zM103.2,55.4h1.0v1.0h-1.0zM104.5,59.3h1.0v1.0h-1.0zM108.4,60.8h1.0v1.0h-1.0zM96.0,68.5h1.0v1.0h-1.0zM119.7,55.6h1.0v1.0h-1.0zM112.3,57.1h1.0v1.0h-1.0zM102.2,68.0h1.0v1.0h-1.0zM105.9,59.9h1.0v1.0h-1.0zM112.7,59.5h1.0v1.0h-1.0zM110.4,54.3h1.0v1.0h-1.0zM115.6,54.0h1.0v1.0h-1.0zM110.8,55.7h1.0v1.0h-1.0zM107.1,57.9h1.0v1.0h-1.0zM116.5,59.7h1.0v1.0h-1.0zM115.9,44.7h1.0v1.0h-1.0zM105.0,70.1h1.0v1.0h-1.0zM114.8,57.2h1.0v1.0h-1.0zM103.4,66.1h1.0v1.0h-1.0zM119.4,58.6h1.0v1.0h-1.0zM101.9,58.9h1.0v1.0h-1.0zM112.4,54.0h1.0v1.0h-1.0zM108.5,62.8h1.0v1.0h-1.0zM113.7,56.8h1.0v1.0h-1.0zM105.1,58.1h1.0v1.0h-1.0zM118.4,66.8h1.0v1.0h-1.0zM107.9,65.5h1.0v1.0h-1.0zM118.5,50.0h1.0v1.0h-1.0zM112.6,59.8h1.0v1.0h-1.0zM102.9,64.8h1.0v1.0h-1.0zM112.0,62.2h1.0v1.0h-1.0zM100.6,67.1h1.0v1.0h-1.0zM108.9,65.0h1.0v1.0h-1.0zM116.3,58.9h1.0v1.0h-1.0zM113.5,60.6h1.0v1.0h-1.0zM102.4,69.5h1.0v1.0h-1.0zM106.7,59.0h1.0v1.0h-1.0zM110.1,62.8h1.0v1.0h-1.0zM106.1,57.3h1.0v1.0h-1.0zM100.3,59.3h1.0v1.0h-1.0zM108.9,65.0h1.0v1.0h-1.0zM110.5,55.9h1.0v1.0h-1.0zM112.1,58.3h1.0v1.0h-1.0zM98.9,65.0h1.0v1.0h-1.0zM114.7,58.1h1.0v1.0h-1.0zM105.2,57.4h1.0v1.0h-1.0zM110.5,57.9h1.0v1.0h-1.0zM110.9,55.3h1.0v1.0h-1.0zM110.2,55.3h1.0v1.0h-1.0zM107.9,61.6h1.0v1.0h-1.0zM114.9,63.3h1.0v1.0h-1.0zM110.9,61.8h1.0v1.0h-1.0zM104.9,54.3h1.0v1.0h-1.0zM111.7,63.0h1.0v1.0h-1.0zM105.7,57.7h1.0v1.0h-1.0zM106.0,60.1h1.0v1.0h-1.0zM98.7,55.9h1.0v1.0h-1.0zM109.1,56.7h1.0v1.0h-1.0zM112.2,66.3h1.0v1.0h-1.0zM109.9,58.3h1.0v1.0h-1.0zM112.5,57.9h1.0v1.0h-1.0zM101.5,66.5h1.0v1.0h-1.0zM110.9,56.1h1.0v1.0h-1.0zM113.8,56.0h1.0v1.0h-1.0zM112.6,59.7h1.0v1.0h-1.0zM112.6,57.5h1.0v1.0h-1.0zM105.3,68.3h1.0v1.0h-1.0zM94.5,62.1h1.0v1.0h-1.0zM109.3,57.4h1.0v1.0h-1.0zM100.8,66.2h1.0v1.0h-1.0zM104.3,50.1h1.0v1.0h-1.0zM113.4,58.5h1.0v1.0h-1.0zM108.9,62.0h1.0v1.0h-1.0zM111.3,57.1h1.0v1.0h-1.0zM105.5,62.4h1.0v1.0h-1.0zM119.0,56.6h1.0v1.0h-1.0zM110.6,55.0h1.0v1.0h-1.0zM102.2,65.2h1.0v1.0h-1.0zM104.8,63.8h1.0v1.0h-1.0zM111.0,58.5h1.0v1.0h-1.0zM113.2,53.6h1.0v1.0h-1.0zM107.4,62.0h1.0v1.0h-1.0zM111.8,52.4h1.0v1.0h-1.0zM107.0,64.5h1.0v1.0h-1.0zM96.6,66.8h1.0v1.0h-1.0zM100.1,57.9h1.0v1.0h-1.0zM112.3,60.7h1.0v1.0h-1.0zM108.6,59.4h1.0v1.0h-1.0zM117.7,55.6h1.0v1.0h-1.0zM113.4,55.2h1.0v1.0h-1.0zM105.7,69.1h1.0v1.0h-1.0zM112.8,59.8h1.0v1.0h-1.0zM104.2,56.5h1.0v1.0h-1.0zM98.5,62.7h1.0v1.0h-1.0zM111.6,65.7h1.0v1.0h-1.0zM118.6,59.7h1.0v1.0h-1.0zM114.1,56.4h1.0v1.0h-1.0zM111.2,54.3h1.0v1.0h-1.0zM114.0,61.6h1.0v1.0h-1.0zM111.1,62.7h1.0v1.0h-1.0zM99.5,62.2h1.0v1.0h-1.0zM115.3,60.9h1.0v1.0h-1.0zM103.7,66.8h1.0v1.0h-1.0zM111.7,46.1h1.0v1.0h-1.0zM109.5,58.8h1.0v1.0h-1.0zM108.2,59.3h1.0v1.0h-1.0zM113.5,56.5h1.0v1.0h-1.0zM115.4,58.2h1.0v1.0h-1.0zM106.2,56.6h1.0v1.0h-1.0zM102.0,63.2h1.0v1.0h-1.0zM103.1,67.0h1.0v1.0h-1.0zM109.7,61.5h1.0v1.0h-1.0zM116.9,53.4h1.0v1.0h-1.0zM108.1,66.3h1.0v1.0h-1.0zM117.2,58.1h1.0v1.0h-1.0zM108.4,63.0h1.0v1.0h-1.0zM105.9,62.9h1.0v1.0h-1.0zM109.1,60.4h1.0v1.0h-1.0zM112.0,62.9h1.0v1.0h-1.0zM108.9,64.3h1.0v1.0h-1.0zM101.8,63.9h1.0v1.0h-1.0zM108.8,59.3h1.0v1.0h-1.0zM98.3,68.3h1.0v1.0h-1.0zM101.6,67.1h1.0v1.0h-1.0zM111.7,62.8h1.0v1.0h-1.0zM98.2,69.4h1.0v1.0h-1.0zM100.8,57.3h1.0v1.0h-1.0zM100.9,61.9h1.0v1.0h-1.0zM113.0,58.5h1.0v1.0h-1.0zM107.2,56.6h1.0v1.0h-1.0zM118.0,57.4h1.0v1.0h-1.0zM117.1,58.6h1.0v1.0h-1.0zM121.6,59.3h1.0v1.0h-1.0zM110.1,61.4h1.0v1.0h-1.0zM113.7,60.7h1.0v1.0h-1.0zM110.3,64.6h1.0v1.0h-1.0zM108.0,60.1h1.0v1.0h-1.0zM108.0,56.9h1.0v1.0h-1.0zM116.8,60.6h1.0v1.0h-1.0zM110.3,67.6h1.0v1.0h-1.0zM113.4,55.2h1.0v1.0h-1.0zM101.2,62.4h1.0v1.0h-1.0zM114.3,64.2h1.0v1.0h-1.0zM114.4,62.4h1.0v1.0h-1.0zM122.0,53.1h1.0v1.0h-1.0zM119.9,58.3h1.0v1.0h-1.0zM110.2,68.5h1.0v1.0h-1.0zM111.8,57.4h1.0v1.0h-1.0zM103.9,67.5h1.0v1.0h-1.0zM103.8,69.2h1.0v1.0h-1.0zM106.2,65.6h1.0v1.0h-1.0zM117.4,61.2h1.0v1.0h-1.0zM115.5,62.3h1.0v1.0h-1.0zM112.0,58.6h1.0v1.0h-1.0zM113.2,63.3h1.0v1.0h-1.0zM118.7,57.6h1.0v1.0h-1.0zM114.7,60.9h1.0v1.0h-1.0zM114.5,59.8h1.0v1.0h-1.0zM104.3,67.3h1.0v1.0h-1.0zM106.1,60.0h1.0v1.0h-1.0zM104.3,62.1h1.0v1.0h-1.0zM99.8,61.2h1.0v1.0h-1.0zM106.3,69.3h1.0v1.0h-1.0zM105.1,56.3h1.0v1.0h-1.0zM118.6,59.2h1.0v1.0h-1.0zM98.8,57.0h1.0v1.0h-1.0zM115.1,64.1h1.0v1.0h-1.0zM113.8,55.9h1.0v1.0h-1.0zM110.0,59.4h1.0v1.0h-1.0zM109.8,52.4h1.0v1.0h-1.0zM116.9,52.5h1.0v1.0h-1.0zM116.7,60.1h1.0v1.0h-1.0zM121.9,55.1h1.0v1.0h-1.0zM98.4,62.6h1.0v1.0h-1.0zM104.7,60.1h1.0v1.0h-1.0zM116.2,52.4h1.0v1.0h-1.0zM112.7,58.6h1.0v1.0h-1.0zM118.2,64.3h1.0v1.0h-1.0zM113.9,60.5h1.0v1.0h-1.0zM102.6,57.6h1.0v1.0h-1.0zM108.5,65.8h1.0v1.0h-1.0zM109.9,60.9h1.0v1.0h-1.0zM111.4,63.4h1.0v1.0h-1.0zM110.2,61.8h1.0v1.0h-1.0zM115.2,57.1h1.0v1.0h-1.0zM95.8,66.9h1.0v1.0h-1.0zM118.8,62.6h1.0v1.0h-1.0zM100.3,65.9h1.0v1.0h-1.0zM104.4,56.7h1.0v1.0h-1.0zM101.1,59.8h1.0v1.0h-1.0zM101.6,67.7h1.0v1.0h-1.0zM115.0,53.0h1.0v1.0h-1.0zM106.0,65.0h1.0v1.0h-1.0zM114.0,57.7h1.0v1.0h-1.0zM113.9,59.9h1.0v1.0h-1.0zM120.3,56.9h1.0v1.0h-1.0zM111.1,57.2h1.0v1.0h-1.0zM106.1,58.4h1.0v1.0h-1.0zM107.5,58.4h1.0v1.0h-1.0zM116.3,56.4h1.0v1.0h-1.0zM116.5,57.8h1.0v1.0h-1.0zM108.4,65.0h1.0v1.0h-1.0zM102.6,57.1h1.0v1.0h-1.0zM109.0,63.2h1.0v1.0h-1.0zM109.9,64.7h1.0v1.0h-1.0zM106.9,63.3h1.0v1.0h-1.0zM110.5,55.9h1.0v1.0h-1.0zM108.5,65.6h1.0v1.0h-1.0zM104.6,60.6h1.0v1.0h-1.0zM106.7,60.0h1.0v1.0h-1.0zM95.8,66.6h1.0v1.0h-1.0zM117.6,54.4h1.0v1.0h-1.0zM105.7,65.6h1.0v1.0h-1.0zM101.9,60.9h1.0v1.0h-1.0zM96.2,60.3h1.0v1.0h-1.0zM97.1,67.2h1.0v1.0h-1.0zM107.7,68.0h1.0v1.0h-1.0zM105.0,61.6h1.0v1.0h-1.0zM117.4,50.8h1.0v1.0h-1.0zM106.5,65.5h1.0v1.0h-1.0zM105.6,61.5h1.0v1.0h-1.0zM113.6,53.9h1.0v1.0h-1.0zM107.2,55.0h1.0v1.0h-1.0zM109.8,60.7h1.0v1.0h-1.0zM105.8,59.4h1.0v1.0h-1.0zM104.6,63.1h1.0v1.0h-1.0zM110.4,56.1h1.0v1.0h-1.0zM111.8,61.5h1.0v1.0h-1.0zM104.4,64.7h1.0v1.0h-1.0zM106.1,61.3h1.0v1.0h-1.0zM108.0,60.1h1.0v1.0h-1.0zM98.7,66.9h1.0v1.0h-1.0zM105.8,60.8h1.0v1.0h-1.0zM114.8,57.6h1.0v1.0h-1.0zM109.4,56.5h1.0v1.0h-1.0zM105.4,69.5h1.0v1.0h-1.0zM102.7,65.4h1.0v1.0h-1.0zM103.0,63.2h1.0v1.0h-1.0zM101.3,64.0h1.0v1.0h-1.0zM106.3,60.4h1.0v1.0h-1.0zM107.3,64.9h1.0v1.0h-1.0zM105.2,57.9h1.0v1.0h-1.0zM107.8,61.6h1.0v1.0h-1.0zM116.1,61.4h1.0v1.0h-1.0zM112.6,58.6h1.0v1.0h-1.0zM98.6,59.1h1.0v1.0h-1.0zM113.2,55.9h1.0v1.0h-1.0zM106.3,57.3h1.0v1.0h-1.0zM103.2,62.0h1.0v1.0h-1.0zM116.3,60.5h1.0v1.0h-1.0zM108.6,60.7h1.0v1.0h-1.0zM114.0,64.8h1.0v1.0h-1.0zM116.4,59.1h1.0v1.0h-1.0zM108.0,62.2h1.0v1.0h-1.0zM105.8,59.8h1.0v1.0h-1.0zM116.3,66.7h1.0v1.0h-1.0zM102.6,62.2h1.0v1.0h-1.0zM103.7,63.0h1.0v1.0h-1.0zM111.9,58.9h1.0v1.0h-1.0zM112.0,61.4h1.0v1.0h-1.0zM107.2,70.6h1.0v1.0h-1.0zM111.0,55.4h1.0v1.0h-1.0zM115.9,61.4h1.0v1.0h-1.0zM109.9,63.7h1.0v1.0h-1.0zM111.8,62.6h1.0v1.0h-1.0zM113.4,57.7h1.0v1.0h-1.0zM109.1,60.9h1.0v1.0h-1.0zM106.3,65.2h1.0v1.0h-1.0zM107.2,54.9h1.0v1.0h-1.0zM116.0,69.7h1.0v1.0h-1.0zM101.8,61.5h1.0v1.0h-1.0zM113.5,62.4h1.0v1.0h-1.0zM105.2,60.9h1.0v1.0h-1.0zM113.9,62.9h1.0v1.0h-1.0zM108.0,65.2h1.0v1.0h-1.0zM105.8,54.3h1.0v1.0h-1.0zM115.6,64.7h1.0v1.0h-1.0zM110.9,51.1h1.0v1.0h-1.0zM112.7,64.4h1.0v1.0h-1.0zM112.2,65.5h1.0v1.0h-1.0zM96.5,61.8h1.0v1.0h-1.0zM103.5,59.6h1.0v1.0h-1.0zM111.1,54.3h1.0v1.0h-1.0zM104.9,66.5h1.0v1.0h-1.0zM104.4,54.9h1.0v1.0h-1.0zM111.5,57.5h1.0v1.0h-1.0zM107.3,62.5h1.0v1.0h-1.0zM111.0,58.0h1.0v1.0h-1.0zM101.8,62.5h1.0v1.0h-1.0zM106.4,59.0h1.0v1.0h-1.0zM109.9,61.2h1.0v1.0h-1.0zM108.7,61.5h1.0v1.0h-1.0zM111.8,60.4h1.0v1.0h-1.0zM112.4,52.4h1.0v1.0h-1.0zM105.6,64.3h1.0v1.0h-1.0zM122.6,47.7h1.0v1.0h-1.0zM110.8,57.4h1.0v1.0h-1.0zM113.5,63.2h1.0v1.0h-1.0zM110.1,63.8h1.0v1.0h-1.0zM115.6,58.1h1.0v1.0h-1.0zM111.1,58.6h1.0v1.0h-1.0zM106.0,52.3h1.0v1.0h-1.0zM110.6,56.9h1.0v1.0h-1.0zM108.8,60.0h1.0v1.0h-1.0zM107.7,57.4h1.0v1.0h-1.0zM107.1,58.0h1.0v1.0h-1.0zM105.0,62.6h1.0v1.0h-1.0zM116.3,62.6h1.0v1.0h-1.0zM109.8,63.9h1.0v1.0h-1.0zM118.8,54.8h1.0v1.0h-1.0zM108.0,61.7h1.0v1.0h-1.0zM102.8,61.7h1.0v1.0h-1.0zM111.8,58.7h1.0v1.0h-1.0zM110.8,61.3h1.0v1.0h-1.0zM102.2,58.1h1.0v1.0h-1.0zM105.9,59.8h1.0v1.0h-1.0zM117.0,56.5h1.0v1.0h-1.0zM108.2,61.3h1.0v1.0h-1.0z" fill="#2a0f4f"/>
<path d="M111.9,59.8h0.9v0.9h-0.9zM120.2,62.8h0.9v0.9h-0.9zM106.1,64.9h0.9v0.9h-0.9zM120.1,59.6h0.9v0.9h-0.9zM127.2,62.1h0.9v0.9h-0.9zM113.3,62.5h0.9v0.9h-0.9zM113.7,60.7h0.9v0.9h-0.9zM119.8,58.7h0.9v0.9h-0.9zM121.6,58.6h0.9v0.9h-0.9zM120.5,64.7h0.9v0.9h-0.9zM112.3,63.3h0.9v0.9h-0.9zM121.9,60.9h0.9v0.9h-0.9zM121.6,63.4h0.9v0.9h-0.9zM113.8,62.4h0.9v0.9h-0.9zM114.8,62.1h0.9v0.9h-0.9zM109.9,64.7h0.9v0.9h-0.9zM119.0,53.7h0.9v0.9h-0.9zM115.3,57.8h0.9v0.9h-0.9zM115.9,62.7h0.9v0.9h-0.9zM123.0,60.0h0.9v0.9h-0.9zM116.8,63.8h0.9v0.9h-0.9zM123.3,61.3h0.9v0.9h-0.9zM116.2,59.5h0.9v0.9h-0.9zM118.5,61.1h0.9v0.9h-0.9zM111.7,62.5h0.9v0.9h-0.9zM124.8,59.7h0.9v0.9h-0.9zM119.3,58.2h0.9v0.9h-0.9zM117.2,62.2h0.9v0.9h-0.9zM118.8,65.3h0.9v0.9h-0.9zM111.9,64.9h0.9v0.9h-0.9zM113.2,58.4h0.9v0.9h-0.9zM110.8,65.3h0.9v0.9h-0.9zM113.0,56.8h0.9v0.9h-0.9zM120.6,57.4h0.9v0.9h-0.9zM119.2,60.7h0.9v0.9h-0.9zM118.9,60.8h0.9v0.9h-0.9zM118.3,63.9h0.9v0.9h-0.9zM116.6,61.5h0.9v0.9h-0.9zM114.7,65.5h0.9v0.9h-0.9zM111.7,60.1h0.9v0.9h-0.9zM116.9,60.6h0.9v0.9h-0.9zM114.6,60.1h0.9v0.9h-0.9zM120.1,62.9h0.9v0.9h-0.9zM124.3,60.0h0.9v0.9h-0.9zM116.7,62.5h0.9v0.9h-0.9zM119.1,60.4h0.9v0.9h-0.9zM116.7,62.2h0.9v0.9h-0.9zM121.2,60.6h0.9v0.9h-0.9zM115.1,61.6h0.9v0.9h-0.9zM121.1,57.1h0.9v0.9h-0.9zM117.9,63.8h0.9v0.9h-0.9zM122.0,58.5h0.9v0.9h-0.9zM115.9,67.0h0.9v0.9h-0.9zM114.1,63.2h0.9v0.9h-0.9zM122.5,61.9h0.9v0.9h-0.9zM111.8,61.9h0.9v0.9h-0.9zM110.5,61.5h0.9v0.9h-0.9zM118.9,57.3h0.9v0.9h-0.9zM121.8,61.9h0.9v0.9h-0.9zM116.0,67.6h0.9v0.9h-0.9z" fill="#2a0f4f"/>
<path d="M118.0,51.0h0.9v0.9h-0.9zM114.9,54.7h0.9v0.9h-0.9zM106.5,52.6h0.9v0.9h-0.9zM117.6,48.9h0.9v0.9h-0.9zM117.0,51.4h0.9v0.9h-0.9zM118.6,48.4h0.9v0.9h-0.9zM110.3,54.4h0.9v0.9h-0.9zM115.2,46.7h0.9v0.9h-0.9zM113.3,53.5h0.9v0.9h-0.9zM114.2,51.6h0.9v0.9h-0.9zM114.3,53.1h0.9v0.9h-0.9zM114.0,51.9h0.9v0.9h-0.9zM119.0,50.9h0.9v0.9h-0.9zM111.4,52.6h0.9v0.9h-0.9zM112.3,53.0h0.9v0.9h-0.9zM106.1,51.3h0.9v0.9h-0.9zM112.5,52.8h0.9v0.9h-0.9zM112.6,53.3h0.9v0.9h-0.9zM115.8,51.7h0.9v0.9h-0.9zM114.9,50.6h0.9v0.9h-0.9zM112.7,55.4h0.9v0.9h-0.9zM113.9,47.5h0.9v0.9h-0.9zM111.8,50.1h0.9v0.9h-0.9zM109.8,53.1h0.9v0.9h-0.9zM111.2,50.9h0.9v0.9h-0.9zM117.7,50.5h0.9v0.9h-0.9zM110.2,51.4h0.9v0.9h-0.9zM110.5,51.4h0.9v0.9h-0.9zM113.7,53.3h0.9v0.9h-0.9zM114.1,53.8h0.9v0.9h-0.9zM114.5,55.3h0.9v0.9h-0.9zM117.2,52.5h0.9v0.9h-0.9zM112.5,52.4h0.9v0.9h-0.9zM114.0,50.9h0.9v0.9h-0.9zM107.6,51.6h0.9v0.9h-0.9zM116.0,53.3h0.9v0.9h-0.9zM110.4,57.1h0.9v0.9h-0.9zM112.6,51.5h0.9v0.9h-0.9zM109.6,55.6h0.9v0.9h-0.9zM114.3,53.8h0.9v0.9h-0.9z" fill="#4259d9"/>
<path d="M103.6,53.5h0.9v0.9h-0.9zM106.7,53.8h0.9v0.9h-0.9zM102.8,55.4h0.9v0.9h-0.9zM103.1,53.9h0.9v0.9h-0.9zM102.6,54.0h0.9v0.9h-0.9zM104.2,55.9h0.9v0.9h-0.9zM103.4,55.4h0.9v0.9h-0.9zM102.9,53.9h0.9v0.9h-0.9zM102.6,52.8h0.9v0.9h-0.9zM102.4,53.0h0.9v0.9h-0.9zM103.2,55.2h0.9v0.9h-0.9zM103.4,54.6h0.9v0.9h-0.9zM105.2,54.6h0.9v0.9h-0.9zM103.6,50.9h0.9v0.9h-0.9z" fill="#55a4f7"/>
<path d="M75.4,74.7C75.8,72.5 77.2,68.3 78.4,66.5C79.6,64.7 80.9,63.6 82.4,63.6C84.0,63.6 87.0,64.8 87.7,66.5C88.4,68.2 87.1,71.0 86.5,73.5C85.9,76.0 85.5,80.1 84.2,81.7C82.9,83.3 79.8,83.3 78.4,82.9C77.0,82.5 76.3,80.8 75.8,79.4C75.3,78.0 75.0,76.9 75.4,74.7Z" fill="#e6b83a" />
<path d="M81.3,62.4C81.7,61.0 84.7,56.8 86.5,56.0C88.3,55.2 90.7,56.6 92.4,57.8C94.1,59.0 95.5,61.0 96.5,63.0C97.5,65.0 98.5,68.2 98.2,70.0C97.9,71.8 96.1,73.9 94.7,73.5C93.3,73.1 91.8,69.2 90.0,67.7C88.2,66.2 85.7,65.1 84.2,64.2C82.8,63.3 80.9,63.8 81.3,62.4Z" fill="#4259d9" />
<path d="M86.5,70.0C87.3,68.6 88.8,67.1 90.0,67.7C91.2,68.3 92.6,71.4 93.5,73.5C94.4,75.6 95.2,78.5 95.3,80.5C95.4,82.5 95.2,84.6 94.1,85.2C93.0,85.8 90.8,84.4 88.9,84.0C87.1,83.6 83.6,84.2 83.0,82.9C82.4,81.6 84.8,78.1 85.4,75.9C86.0,73.8 85.7,71.4 86.5,70.0Z" fill="#f0823a" />
<path d="M79.6,61.3h0.9v0.9h-0.9zM89.0,71.4h0.9v0.9h-0.9zM78.1,59.6h0.9v0.9h-0.9zM85.7,75.1h0.9v0.9h-0.9zM83.3,73.2h0.9v0.9h-0.9zM83.3,76.0h0.9v0.9h-0.9zM83.7,69.8h0.9v0.9h-0.9zM79.7,75.6h0.9v0.9h-0.9zM78.7,70.5h0.9v0.9h-0.9zM85.2,64.9h0.9v0.9h-0.9zM85.4,69.1h0.9v0.9h-0.9zM86.5,68.7h0.9v0.9h-0.9zM82.1,66.8h0.9v0.9h-0.9zM79.1,69.9h0.9v0.9h-0.9zM77.7,79.8h0.9v0.9h-0.9zM84.8,75.2h0.9v0.9h-0.9zM86.2,77.4h0.9v0.9h-0.9zM82.8,66.8h0.9v0.9h-0.9zM80.0,72.8h0.9v0.9h-0.9zM83.4,67.9h0.9v0.9h-0.9zM81.9,67.3h0.9v0.9h-0.9zM81.2,71.9h0.9v0.9h-0.9zM80.7,71.7h0.9v0.9h-0.9zM76.8,64.8h0.9v0.9h-0.9zM85.7,72.5h0.9v0.9h-0.9zM79.7,80.1h0.9v0.9h-0.9zM83.3,69.8h0.9v0.9h-0.9zM80.8,75.1h0.9v0.9h-0.9zM84.7,72.8h0.9v0.9h-0.9zM82.7,71.6h0.9v0.9h-0.9zM86.8,71.6h0.9v0.9h-0.9zM77.7,74.1h0.9v0.9h-0.9zM80.9,75.8h0.9v0.9h-0.9zM86.0,78.2h0.9v0.9h-0.9zM87.4,69.7h0.9v0.9h-0.9zM77.8,69.7h0.9v0.9h-0.9zM83.9,69.0h0.9v0.9h-0.9zM80.8,69.7h0.9v0.9h-0.9zM82.9,71.9h0.9v0.9h-0.9zM82.2,71.2h0.9v0.9h-0.9zM73.0,67.4h0.9v0.9h-0.9zM85.1,77.3h0.9v0.9h-0.9zM86.0,71.7h0.9v0.9h-0.9zM79.6,73.1h0.9v0.9h-0.9zM81.2,73.9h0.9v0.9h-0.9zM77.9,75.2h0.9v0.9h-0.9zM81.2,72.5h0.9v0.9h-0.9zM75.5,63.5h0.9v0.9h-0.9zM84.8,67.9h0.9v0.9h-0.9zM83.6,72.1h0.9v0.9h-0.9zM74.9,80.7h0.9v0.9h-0.9zM81.2,68.3h0.9v0.9h-0.9zM79.2,73.8h0.9v0.9h-0.9zM78.8,73.8h0.9v0.9h-0.9zM85.7,75.2h0.9v0.9h-0.9zM81.2,75.7h0.9v0.9h-0.9zM86.4,74.8h0.9v0.9h-0.9zM85.9,76.2h0.9v0.9h-0.9zM81.4,66.3h0.9v0.9h-0.9zM82.4,64.0h0.9v0.9h-0.9z" fill="#e6b83a"/>
<path d="M91.3,64.0h0.9v0.9h-0.9zM95.9,59.7h0.9v0.9h-0.9zM90.4,65.9h0.9v0.9h-0.9zM93.2,57.4h0.9v0.9h-0.9zM87.4,64.4h0.9v0.9h-0.9zM94.0,68.0h0.9v0.9h-0.9zM91.7,69.0h0.9v0.9h-0.9zM92.8,67.5h0.9v0.9h-0.9zM99.3,62.3h0.9v0.9h-0.9zM95.3,73.3h0.9v0.9h-0.9zM91.7,68.4h0.9v0.9h-0.9zM95.0,64.0h0.9v0.9h-0.9zM90.9,67.0h0.9v0.9h-0.9zM89.3,69.3h0.9v0.9h-0.9zM90.0,66.3h0.9v0.9h-0.9zM88.0,66.7h0.9v0.9h-0.9zM89.8,67.8h0.9v0.9h-0.9zM91.7,64.3h0.9v0.9h-0.9zM96.5,62.5h0.9v0.9h-0.9zM93.0,63.3h0.9v0.9h-0.9zM90.6,70.9h0.9v0.9h-0.9zM90.2,64.6h0.9v0.9h-0.9zM91.8,71.2h0.9v0.9h-0.9zM89.3,66.3h0.9v0.9h-0.9zM87.4,64.5h0.9v0.9h-0.9zM89.4,68.1h0.9v0.9h-0.9zM91.1,64.1h0.9v0.9h-0.9zM87.1,70.3h0.9v0.9h-0.9zM91.2,67.0h0.9v0.9h-0.9zM90.8,68.9h0.9v0.9h-0.9zM92.1,68.4h0.9v0.9h-0.9zM88.5,64.0h0.9v0.9h-0.9zM92.5,70.8h0.9v0.9h-0.9zM87.9,69.9h0.9v0.9h-0.9zM88.4,66.1h0.9v0.9h-0.9zM92.9,64.3h0.9v0.9h-0.9zM86.6,67.6h0.9v0.9h-0.9zM91.3,63.8h0.9v0.9h-0.9zM86.7,69.9h0.9v0.9h-0.9zM89.5,65.4h0.9v0.9h-0.9zM86.8,69.6h0.9v0.9h-0.9zM91.2,67.2h0.9v0.9h-0.9zM95.5,67.0h0.9v0.9h-0.9zM87.7,62.0h0.9v0.9h-0.9zM92.0,61.1h0.9v0.9h-0.9zM97.0,65.0h0.9v0.9h-0.9zM89.4,71.2h0.9v0.9h-0.9zM90.8,70.7h0.9v0.9h-0.9zM88.3,64.2h0.9v0.9h-0.9zM97.3,67.4h0.9v0.9h-0.9z" fill="#4259d9"/>
<path d="M94.9,76.9h0.9v0.9h-0.9zM88.8,79.0h0.9v0.9h-0.9zM89.4,75.4h0.9v0.9h-0.9zM92.8,74.0h0.9v0.9h-0.9zM87.7,75.0h0.9v0.9h-0.9zM79.2,81.3h0.9v0.9h-0.9zM89.0,74.5h0.9v0.9h-0.9zM92.3,80.6h0.9v0.9h-0.9zM93.6,76.1h0.9v0.9h-0.9zM89.3,71.7h0.9v0.9h-0.9zM95.7,74.9h0.9v0.9h-0.9zM88.4,78.2h0.9v0.9h-0.9zM88.3,78.4h0.9v0.9h-0.9zM91.8,77.3h0.9v0.9h-0.9zM91.2,84.0h0.9v0.9h-0.9zM89.3,73.9h0.9v0.9h-0.9zM84.3,78.7h0.9v0.9h-0.9zM85.8,72.9h0.9v0.9h-0.9zM88.6,75.9h0.9v0.9h-0.9zM84.9,75.2h0.9v0.9h-0.9zM85.2,83.7h0.9v0.9h-0.9zM87.9,80.2h0.9v0.9h-0.9zM90.2,79.2h0.9v0.9h-0.9zM84.8,76.3h0.9v0.9h-0.9zM91.0,80.7h0.9v0.9h-0.9zM92.3,72.9h0.9v0.9h-0.9zM86.0,78.9h0.9v0.9h-0.9zM84.6,76.5h0.9v0.9h-0.9zM86.4,72.8h0.9v0.9h-0.9zM92.2,77.0h0.9v0.9h-0.9zM90.3,77.5h0.9v0.9h-0.9zM86.2,76.8h0.9v0.9h-0.9zM91.6,81.0h0.9v0.9h-0.9zM86.4,79.7h0.9v0.9h-0.9zM91.8,79.2h0.9v0.9h-0.9zM89.3,79.1h0.9v0.9h-0.9zM87.3,75.7h0.9v0.9h-0.9zM85.7,77.4h0.9v0.9h-0.9zM89.9,77.7h0.9v0.9h-0.9zM95.3,80.1h0.9v0.9h-0.9zM89.6,71.0h0.9v0.9h-0.9zM88.1,73.3h0.9v0.9h-0.9zM85.6,81.3h0.9v0.9h-0.9zM87.0,81.2h0.9v0.9h-0.9zM85.0,82.9h0.9v0.9h-0.9zM93.7,83.1h0.9v0.9h-0.9zM89.5,76.7h0.9v0.9h-0.9zM89.7,78.3h0.9v0.9h-0.9zM95.7,83.3h0.9v0.9h-0.9zM83.3,82.1h0.9v0.9h-0.9zM86.9,76.6h0.9v0.9h-0.9zM86.7,77.6h0.9v0.9h-0.9zM92.5,77.8h0.9v0.9h-0.9zM88.5,78.2h0.9v0.9h-0.9zM89.7,71.8h0.9v0.9h-0.9zM90.4,83.3h0.9v0.9h-0.9zM90.8,75.6h0.9v0.9h-0.9zM88.8,85.0h0.9v0.9h-0.9zM84.2,69.2h0.9v0.9h-0.9zM88.7,76.6h0.9v0.9h-0.9z" fill="#f0823a"/>
<path d="M91.4,77.3h1.0v1.0h-1.0zM100.8,82.5h1.0v1.0h-1.0zM101.3,78.8h1.0v1.0h-1.0zM102.4,79.3h1.0v1.0h-1.0zM102.4,80.8h1.0v1.0h-1.0zM97.3,77.4h1.0v1.0h-1.0zM94.0,79.1h1.0v1.0h-1.0zM100.5,77.6h1.0v1.0h-1.0zM91.3,75.8h1.0v1.0h-1.0zM98.2,82.4h1.0v1.0h-1.0zM103.6,75.7h1.0v1.0h-1.0zM100.0,89.0h1.0v1.0h-1.0zM90.8,73.5h1.0v1.0h-1.0zM97.2,85.0h1.0v1.0h-1.0zM94.5,81.9h1.0v1.0h-1.0zM91.3,80.6h1.0v1.0h-1.0zM96.0,78.1h1.0v1.0h-1.0zM105.4,71.7h1.0v1.0h-1.0zM99.7,76.7h1.0v1.0h-1.0zM96.0,85.5h1.0v1.0h-1.0zM99.8,79.7h1.0v1.0h-1.0zM98.3,81.7h1.0v1.0h-1.0zM93.4,84.8h1.0v1.0h-1.0zM92.4,70.7h1.0v1.0h-1.0zM97.1,79.4h1.0v1.0h-1.0zM96.2,77.5h1.0v1.0h-1.0zM96.3,79.3h1.0v1.0h-1.0zM99.6,78.3h1.0v1.0h-1.0zM99.4,76.5h1.0v1.0h-1.0zM103.3,73.0h1.0v1.0h-1.0zM100.0,84.6h1.0v1.0h-1.0zM98.6,76.9h1.0v1.0h-1.0zM99.6,74.8h1.0v1.0h-1.0zM101.1,74.4h1.0v1.0h-1.0zM96.0,79.7h1.0v1.0h-1.0zM97.2,80.1h1.0v1.0h-1.0zM94.7,83.9h1.0v1.0h-1.0zM96.4,83.0h1.0v1.0h-1.0zM98.2,83.4h1.0v1.0h-1.0zM101.2,76.4h1.0v1.0h-1.0zM98.9,80.7h1.0v1.0h-1.0zM104.0,72.3h1.0v1.0h-1.0zM102.5,73.6h1.0v1.0h-1.0zM98.6,74.9h1.0v1.0h-1.0zM96.8,87.8h1.0v1.0h-1.0zM99.6,84.0h1.0v1.0h-1.0zM97.9,82.6h1.0v1.0h-1.0zM104.2,79.3h1.0v1.0h-1.0zM94.7,87.2h1.0v1.0h-1.0zM97.3,74.1h1.0v1.0h-1.0zM100.2,79.9h1.0v1.0h-1.0zM90.4,84.0h1.0v1.0h-1.0zM99.8,78.8h1.0v1.0h-1.0zM103.2,71.2h1.0v1.0h-1.0zM106.9,81.8h1.0v1.0h-1.0zM96.3,82.7h1.0v1.0h-1.0zM102.9,79.2h1.0v1.0h-1.0zM97.0,74.5h1.0v1.0h-1.0zM94.4,73.8h1.0v1.0h-1.0zM92.7,83.0h1.0v1.0h-1.0zM95.0,74.1h1.0v1.0h-1.0zM105.6,78.7h1.0v1.0h-1.0zM104.3,83.2h1.0v1.0h-1.0zM92.6,84.3h1.0v1.0h-1.0zM100.9,82.1h1.0v1.0h-1.0zM100.9,76.0h1.0v1.0h-1.0zM94.1,75.0h1.0v1.0h-1.0zM93.6,76.0h1.0v1.0h-1.0zM98.1,74.5h1.0v1.0h-1.0zM100.6,77.9h1.0v1.0h-1.0zM94.4,74.7h1.0v1.0h-1.0zM98.8,80.4h1.0v1.0h-1.0zM94.2,83.8h1.0v1.0h-1.0zM93.6,76.0h1.0v1.0h-1.0zM103.7,77.8h1.0v1.0h-1.0zM102.4,80.4h1.0v1.0h-1.0zM91.7,80.4h1.0v1.0h-1.0zM97.0,70.6h1.0v1.0h-1.0zM98.1,81.4h1.0v1.0h-1.0zM91.8,73.5h1.0v1.0h-1.0zM90.9,80.8h1.0v1.0h-1.0zM100.3,80.8h1.0v1.0h-1.0zM98.4,76.5h1.0v1.0h-1.0zM103.7,71.3h1.0v1.0h-1.0zM97.5,74.3h1.0v1.0h-1.0zM95.0,73.2h1.0v1.0h-1.0zM100.0,75.2h1.0v1.0h-1.0zM100.1,78.7h1.0v1.0h-1.0zM95.5,82.1h1.0v1.0h-1.0zM94.5,77.8h1.0v1.0h-1.0zM105.0,84.0h1.0v1.0h-1.0zM98.3,78.4h1.0v1.0h-1.0zM97.3,74.2h1.0v1.0h-1.0zM92.2,81.8h1.0v1.0h-1.0zM97.4,79.8h1.0v1.0h-1.0zM96.0,75.7h1.0v1.0h-1.0zM103.7,81.0h1.0v1.0h-1.0zM89.6,79.0h1.0v1.0h-1.0zM92.7,81.8h1.0v1.0h-1.0zM97.7,76.7h1.0v1.0h-1.0zM96.9,78.2h1.0v1.0h-1.0zM106.7,74.6h1.0v1.0h-1.0zM102.0,80.9h1.0v1.0h-1.0zM100.9,77.1h1.0v1.0h-1.0zM94.2,75.1h1.0v1.0h-1.0zM101.7,76.1h1.0v1.0h-1.0zM97.4,76.7h1.0v1.0h-1.0zM99.0,80.9h1.0v1.0h-1.0zM91.7,82.6h1.0v1.0h-1.0zM96.2,76.5h1.0v1.0h-1.0zM100.5,78.6h1.0v1.0h-1.0zM97.0,87.1h1.0v1.0h-1.0zM99.1,78.6h1.0v1.0h-1.0zM98.0,77.9h1.0v1.0h-1.0zM103.5,75.8h1.0v1.0h-1.0zM96.7,78.8h1.0v1.0h-1.0zM103.5,75.1h1.0v1.0h-1.0zM95.1,80.0h1.0v1.0h-1.0zM98.2,84.3h1.0v1.0h-1.0zM99.9,88.2h1.0v1.0h-1.0zM94.3,72.4h1.0v1.0h-1.0zM102.2,85.3h1.0v1.0h-1.0zM100.4,76.4h1.0v1.0h-1.0zM103.1,87.7h1.0v1.0h-1.0zM92.7,80.2h1.0v1.0h-1.0zM103.5,76.0h1.0v1.0h-1.0zM102.1,79.2h1.0v1.0h-1.0zM104.8,80.9h1.0v1.0h-1.0zM96.7,83.1h1.0v1.0h-1.0zM93.7,79.1h1.0v1.0h-1.0zM107.1,82.7h1.0v1.0h-1.0zM100.6,78.4h1.0v1.0h-1.0zM107.1,82.0h1.0v1.0h-1.0zM93.7,84.0h1.0v1.0h-1.0zM98.7,82.0h1.0v1.0h-1.0zM98.1,75.3h1.0v1.0h-1.0zM90.6,79.5h1.0v1.0h-1.0zM94.9,79.0h1.0v1.0h-1.0zM100.1,75.2h1.0v1.0h-1.0zM97.8,82.9h1.0v1.0h-1.0zM96.9,78.4h1.0v1.0h-1.0zM99.3,82.6h1.0v1.0h-1.0zM100.7,80.3h1.0v1.0h-1.0zM93.9,79.3h1.0v1.0h-1.0zM95.9,75.7h1.0v1.0h-1.0zM94.3,84.0h1.0v1.0h-1.0zM98.9,83.8h1.0v1.0h-1.0zM102.0,85.9h1.0v1.0h-1.0zM93.5,80.1h1.0v1.0h-1.0zM99.6,78.5h1.0v1.0h-1.0zM97.8,78.1h1.0v1.0h-1.0zM99.0,81.1h1.0v1.0h-1.0zM96.2,77.7h1.0v1.0h-1.0zM97.5,77.0h1.0v1.0h-1.0zM93.4,83.2h1.0v1.0h-1.0zM89.4,82.5h1.0v1.0h-1.0zM101.9,76.0h1.0v1.0h-1.0zM93.6,77.7h1.0v1.0h-1.0zM95.6,65.4h1.0v1.0h-1.0zM99.3,76.0h1.0v1.0h-1.0zM100.4,74.7h1.0v1.0h-1.0zM101.4,70.6h1.0v1.0h-1.0zM103.2,78.0h1.0v1.0h-1.0zM100.3,81.3h1.0v1.0h-1.0zM99.3,82.6h1.0v1.0h-1.0zM94.0,75.8h1.0v1.0h-1.0zM95.5,84.4h1.0v1.0h-1.0zM96.8,69.1h1.0v1.0h-1.0zM96.3,78.7h1.0v1.0h-1.0zM96.7,81.6h1.0v1.0h-1.0z" fill="#2a0f4f"/>
<path d="M75.0,81.6h0.9v0.9h-0.9zM79.0,75.5h0.9v0.9h-0.9zM80.5,75.8h0.9v0.9h-0.9zM79.7,64.9h0.9v0.9h-0.9zM85.2,69.4h0.9v0.9h-0.9zM86.8,72.5h0.9v0.9h-0.9zM90.8,76.5h0.9v0.9h-0.9zM90.1,76.2h0.9v0.9h-0.9zM81.9,70.9h0.9v0.9h-0.9zM87.4,71.3h0.9v0.9h-0.9zM82.3,72.9h0.9v0.9h-0.9zM81.3,72.7h0.9v0.9h-0.9zM85.7,69.3h0.9v0.9h-0.9zM86.0,83.5h0.9v0.9h-0.9zM84.8,76.1h0.9v0.9h-0.9zM84.1,83.9h0.9v0.9h-0.9zM87.4,71.5h0.9v0.9h-0.9zM82.1,76.2h0.9v0.9h-0.9zM81.2,74.6h0.9v0.9h-0.9zM83.1,77.7h0.9v0.9h-0.9zM78.3,75.5h0.9v0.9h-0.9zM85.0,82.5h0.9v0.9h-0.9zM86.1,72.7h0.9v0.9h-0.9zM89.0,71.1h0.9v0.9h-0.9zM85.1,67.0h0.9v0.9h-0.9zM78.3,76.2h0.9v0.9h-0.9zM84.1,71.6h0.9v0.9h-0.9zM84.7,67.1h0.9v0.9h-0.9zM85.8,74.7h0.9v0.9h-0.9zM85.0,79.4h0.9v0.9h-0.9zM83.0,68.8h0.9v0.9h-0.9zM84.6,75.6h0.9v0.9h-0.9zM81.9,72.6h0.9v0.9h-0.9zM80.1,79.8h0.9v0.9h-0.9zM83.8,69.5h0.9v0.9h-0.9zM87.7,73.5h0.9v0.9h-0.9zM87.5,72.0h0.9v0.9h-0.9zM87.1,83.3h0.9v0.9h-0.9zM98.0,74.8h0.9v0.9h-0.9zM82.7,74.7h0.9v0.9h-0.9zM89.3,66.3h0.9v0.9h-0.9zM83.3,78.0h0.9v0.9h-0.9zM88.0,69.9h0.9v0.9h-0.9zM83.3,78.9h0.9v0.9h-0.9zM86.9,87.5h0.9v0.9h-0.9zM83.0,64.5h0.9v0.9h-0.9zM85.0,74.8h0.9v0.9h-0.9zM82.8,77.3h0.9v0.9h-0.9zM83.3,67.6h0.9v0.9h-0.9zM89.9,76.8h0.9v0.9h-0.9zM87.8,72.6h0.9v0.9h-0.9zM89.8,79.9h0.9v0.9h-0.9zM77.8,69.5h0.9v0.9h-0.9zM86.4,64.1h0.9v0.9h-0.9zM81.3,77.5h0.9v0.9h-0.9zM84.1,72.6h0.9v0.9h-0.9zM77.6,77.4h0.9v0.9h-0.9zM82.4,86.4h0.9v0.9h-0.9zM83.9,74.1h0.9v0.9h-0.9zM79.8,72.0h0.9v0.9h-0.9z" fill="#2a0f4f"/>
<path d="M94.1,89.9h0.9v0.9h-0.9zM91.4,87.5h0.9v0.9h-0.9zM94.4,82.9h0.9v0.9h-0.9zM102.2,90.6h0.9v0.9h-0.9zM97.0,86.2h0.9v0.9h-0.9zM90.6,85.6h0.9v0.9h-0.9zM97.3,84.6h0.9v0.9h-0.9zM93.3,84.1h0.9v0.9h-0.9zM89.8,86.7h0.9v0.9h-0.9zM98.5,86.0h0.9v0.9h-0.9zM96.0,86.8h0.9v0.9h-0.9zM95.6,83.4h0.9v0.9h-0.9zM93.4,88.5h0.9v0.9h-0.9zM99.7,87.2h0.9v0.9h-0.9zM95.7,85.9h0.9v0.9h-0.9zM95.0,87.0h0.9v0.9h-0.9zM101.7,86.7h0.9v0.9h-0.9zM91.6,87.7h0.9v0.9h-0.9zM99.0,86.1h0.9v0.9h-0.9zM96.4,86.2h0.9v0.9h-0.9zM98.3,82.4h0.9v0.9h-0.9zM93.6,85.8h0.9v0.9h-0.9zM97.1,87.4h0.9v0.9h-0.9zM92.1,86.9h0.9v0.9h-0.9zM98.1,82.6h0.9v0.9h-0.9zM94.3,86.0h0.9v0.9h-0.9zM96.8,85.3h0.9v0.9h-0.9zM95.8,86.8h0.9v0.9h-0.9zM98.0,87.1h0.9v0.9h-0.9zM103.9,85.1h0.9v0.9h-0.9z" fill="#2a0f4f"/>
<path d="M98.8,72.8h0.9v0.9h-0.9zM99.8,68.9h0.9v0.9h-0.9zM99.5,74.1h0.9v0.9h-0.9zM95.3,71.6h0.9v0.9h-0.9zM100.5,71.8h0.9v0.9h-0.9zM100.4,76.0h0.9v0.9h-0.9zM99.8,74.5h0.9v0.9h-0.9zM95.9,72.4h0.9v0.9h-0.9zM99.0,70.0h0.9v0.9h-0.9zM98.8,74.7h0.9v0.9h-0.9zM101.1,70.4h0.9v0.9h-0.9zM98.9,73.2h0.9v0.9h-0.9zM99.3,71.3h0.9v0.9h-0.9zM99.5,70.9h0.9v0.9h-0.9zM97.3,74.4h0.9v0.9h-0.9zM102.0,74.2h0.9v0.9h-0.9zM100.9,72.8h0.9v0.9h-0.9zM99.9,73.4h0.9v0.9h-0.9zM95.7,73.8h0.9v0.9h-0.9zM96.6,74.3h0.9v0.9h-0.9zM97.3,75.5h0.9v0.9h-0.9zM100.9,71.5h0.9v0.9h-0.9zM97.7,75.7h0.9v0.9h-0.9zM97.1,74.7h0.9v0.9h-0.9zM99.9,73.4h0.9v0.9h-0.9z" fill="#4259d9"/>
<path d="M60.2,95.5C58.6,96.5 56.4,99.2 55.5,101.4C54.6,103.6 54.5,106.1 54.9,108.4C55.3,110.7 56.5,113.3 57.8,115.4C59.1,117.5 60.9,119.5 62.5,121.2C64.1,123.0 66.1,124.6 67.2,125.9C68.3,127.2 68.9,127.9 68.9,128.8C69.0,129.7 67.4,130.4 67.5,131.5C67.6,132.6 68.8,133.4 69.5,135.2C70.2,137.0 70.3,139.7 71.9,142.2C73.5,144.7 76.2,147.9 78.9,150.4C81.6,152.9 84.9,155.5 88.2,157.4C91.5,159.3 95.4,161.0 98.7,162.1C102.0,163.2 105.4,163.8 108.1,163.8C110.8,163.8 113.8,163.2 115.1,162.1C116.4,161.0 116.4,159.2 116.0,157.4C115.6,155.7 114.4,153.3 112.7,151.6C111.0,149.8 108.2,148.5 105.7,146.9C103.2,145.3 100.1,143.8 97.6,142.2C95.1,140.6 92.7,139.1 90.5,137.6C88.3,136.1 86.2,134.1 84.7,132.9C83.2,131.7 82.4,131.0 81.2,130.5C80.0,130.0 78.6,130.8 77.7,130.0C76.8,129.2 76.2,127.8 75.9,125.9C75.6,124.1 75.9,121.2 75.6,118.9C75.3,116.6 74.8,114.2 74.2,111.9C73.6,109.6 72.9,107.1 71.9,104.9C70.9,102.8 69.6,100.6 68.4,99.0C67.2,97.4 66.3,96.1 64.9,95.5C63.5,94.9 61.8,94.5 60.2,95.5Z" fill="#e6b83a" />
<path d="M62.5,89.7C63.4,88.9 66.7,87.9 68.4,87.3C70.2,86.7 72.4,85.4 73.0,86.2C73.6,87.0 71.7,90.1 71.9,92.0C72.1,93.9 73.9,95.8 74.2,97.8C74.5,99.8 73.5,101.5 73.6,103.7C73.7,105.9 74.3,108.2 74.8,110.7C75.3,113.2 76.3,116.6 76.5,118.9C76.7,121.2 76.3,124.5 75.9,124.7C75.5,124.9 74.8,122.0 74.2,120.0C73.6,118.0 73.1,115.3 72.4,113.0C71.7,110.7 70.9,108.1 70.1,106.0C69.3,103.9 68.7,102.0 67.8,100.2C66.9,98.5 65.7,96.9 64.9,95.5C64.1,94.1 63.5,93.0 63.1,92.0C62.7,91.0 61.6,90.5 62.5,89.7Z" fill="#f0823a" />
<path d="M71.8,88.9h0.9v0.9h-0.9zM83.4,93.4h0.9v0.9h-0.9zM76.9,90.8h0.9v0.9h-0.9zM74.5,88.8h0.9v0.9h-0.9zM72.9,95.6h0.9v0.9h-0.9zM75.3,81.9h0.9v0.9h-0.9zM77.3,92.5h0.9v0.9h-0.9zM75.6,91.9h0.9v0.9h-0.9zM76.2,93.1h0.9v0.9h-0.9zM79.5,88.1h0.9v0.9h-0.9zM76.9,90.8h0.9v0.9h-0.9zM76.2,91.7h0.9v0.9h-0.9zM76.1,96.4h0.9v0.9h-0.9zM79.3,83.6h0.9v0.9h-0.9zM70.4,91.0h0.9v0.9h-0.9zM74.6,95.6h0.9v0.9h-0.9zM80.3,92.6h0.9v0.9h-0.9zM72.5,94.6h0.9v0.9h-0.9zM77.7,90.2h0.9v0.9h-0.9zM78.2,95.3h0.9v0.9h-0.9zM81.3,95.3h0.9v0.9h-0.9zM76.6,92.6h0.9v0.9h-0.9zM74.7,91.2h0.9v0.9h-0.9zM78.9,89.8h0.9v0.9h-0.9zM74.8,88.6h0.9v0.9h-0.9zM78.3,95.1h0.9v0.9h-0.9zM73.5,90.7h0.9v0.9h-0.9zM76.4,88.9h0.9v0.9h-0.9zM75.5,93.8h0.9v0.9h-0.9zM75.3,91.3h0.9v0.9h-0.9zM74.7,88.2h0.9v0.9h-0.9zM77.0,88.9h0.9v0.9h-0.9zM75.8,94.8h0.9v0.9h-0.9zM76.6,97.7h0.9v0.9h-0.9zM78.1,93.2h0.9v0.9h-0.9zM75.2,89.3h0.9v0.9h-0.9zM78.3,87.8h0.9v0.9h-0.9zM78.1,93.6h0.9v0.9h-0.9zM73.4,92.7h0.9v0.9h-0.9zM78.2,88.8h0.9v0.9h-0.9zM75.8,91.1h0.9v0.9h-0.9zM79.8,94.9h0.9v0.9h-0.9zM75.1,89.0h0.9v0.9h-0.9zM76.8,91.2h0.9v0.9h-0.9zM73.4,91.8h0.9v0.9h-0.9zM78.1,91.5h0.9v0.9h-0.9zM78.4,93.7h0.9v0.9h-0.9zM73.7,84.9h0.9v0.9h-0.9zM73.5,86.3h0.9v0.9h-0.9zM79.1,91.4h0.9v0.9h-0.9zM70.6,88.2h0.9v0.9h-0.9zM79.5,86.8h0.9v0.9h-0.9zM77.1,93.0h0.9v0.9h-0.9zM73.7,95.4h0.9v0.9h-0.9zM69.8,90.6h0.9v0.9h-0.9zM71.5,93.2h0.9v0.9h-0.9zM76.7,90.6h0.9v0.9h-0.9zM71.9,93.5h0.9v0.9h-0.9zM79.1,90.8h0.9v0.9h-0.9zM76.5,89.3h0.9v0.9h-0.9zM74.5,96.2h0.9v0.9h-0.9zM76.4,91.4h0.9v0.9h-0.9zM74.1,94.1h0.9v0.9h-0.9zM70.6,94.5h0.9v0.9h-0.9zM73.7,94.8h0.9v0.9h-0.9zM81.0,95.1h0.9v0.9h-0.9zM76.8,100.4h0.9v0.9h-0.9zM76.0,93.2h0.9v0.9h-0.9zM83.4,90.2h0.9v0.9h-0.9zM80.3,97.4h0.9v0.9h-0.9z" fill="#f0823a"/>
<path d="M70.7,108.0h0.8v0.8h-0.8zM68.9,106.2h0.8v0.8h-0.8zM69.4,105.9h0.8v0.8h-0.8zM68.0,111.5h0.8v0.8h-0.8zM66.2,101.4h0.8v0.8h-0.8zM71.8,105.3h0.8v0.8h-0.8zM70.0,113.2h0.8v0.8h-0.8zM65.0,105.6h0.8v0.8h-0.8zM67.8,103.8h0.8v0.8h-0.8zM67.9,107.3h0.8v0.8h-0.8zM68.2,106.0h0.8v0.8h-0.8zM74.2,107.1h0.8v0.8h-0.8zM72.5,117.8h0.8v0.8h-0.8zM65.3,104.9h0.8v0.8h-0.8zM65.8,112.2h0.8v0.8h-0.8zM69.2,111.3h0.8v0.8h-0.8zM64.5,110.5h0.8v0.8h-0.8zM70.2,103.3h0.8v0.8h-0.8zM68.8,109.0h0.8v0.8h-0.8zM72.9,112.6h0.8v0.8h-0.8zM64.4,103.4h0.8v0.8h-0.8zM70.2,104.5h0.8v0.8h-0.8zM66.7,100.1h0.8v0.8h-0.8zM68.0,110.2h0.8v0.8h-0.8zM68.9,110.6h0.8v0.8h-0.8zM66.6,99.8h0.8v0.8h-0.8zM67.1,112.6h0.8v0.8h-0.8zM66.4,100.3h0.8v0.8h-0.8zM72.3,113.5h0.8v0.8h-0.8zM71.0,107.2h0.8v0.8h-0.8zM64.9,99.6h0.8v0.8h-0.8zM70.2,116.9h0.8v0.8h-0.8zM67.9,107.8h0.8v0.8h-0.8zM66.1,111.9h0.8v0.8h-0.8zM65.5,105.4h0.8v0.8h-0.8z" fill="#f0823a"/>
<path d="M77.0,94.9h0.9v0.9h-0.9zM73.5,90.3h0.9v0.9h-0.9zM76.7,90.4h0.9v0.9h-0.9zM73.6,89.5h0.9v0.9h-0.9zM74.9,91.2h0.9v0.9h-0.9zM73.8,93.7h0.9v0.9h-0.9zM72.9,91.7h0.9v0.9h-0.9zM75.2,89.6h0.9v0.9h-0.9zM71.4,92.5h0.9v0.9h-0.9zM73.2,93.4h0.9v0.9h-0.9zM75.5,91.5h0.9v0.9h-0.9zM73.4,87.0h0.9v0.9h-0.9zM73.5,92.4h0.9v0.9h-0.9zM73.8,90.4h0.9v0.9h-0.9zM77.1,92.2h0.9v0.9h-0.9zM73.8,94.3h0.9v0.9h-0.9zM77.2,90.5h0.9v0.9h-0.9zM72.1,89.4h0.9v0.9h-0.9zM77.9,90.3h0.9v0.9h-0.9zM72.9,90.5h0.9v0.9h-0.9z" fill="#e6b83a"/>
<path d="M76.2,89.5h0.9v0.9h-0.9zM76.3,89.1h0.9v0.9h-0.9zM76.7,88.8h0.9v0.9h-0.9zM77.0,88.1h0.9v0.9h-0.9zM77.6,89.4h0.9v0.9h-0.9zM74.6,89.0h0.9v0.9h-0.9zM76.5,88.9h0.9v0.9h-0.9zM77.8,88.4h0.9v0.9h-0.9zM73.7,90.1h0.9v0.9h-0.9zM75.3,89.6h0.9v0.9h-0.9zM79.0,88.6h0.9v0.9h-0.9zM75.0,87.5h0.9v0.9h-0.9z" fill="#58f58a"/>
<rect x="71" y="81.5" width="2" height="3" fill="#66f582"/>
<path d="M74.5,87.3h0.9v0.9h-0.9zM78.7,87.9h0.9v0.9h-0.9zM78.2,90.3h0.9v0.9h-0.9zM80.0,86.6h0.9v0.9h-0.9zM79.2,88.2h0.9v0.9h-0.9zM80.4,89.4h0.9v0.9h-0.9zM79.0,86.7h0.9v0.9h-0.9zM83.4,88.5h0.9v0.9h-0.9zM77.6,84.8h0.9v0.9h-0.9zM77.2,89.7h0.9v0.9h-0.9z" fill="#6fe9d6"/>
<path d="M78.3,128.8C79.1,128.0 82.2,126.1 83.5,125.9C84.8,125.7 86.1,126.9 85.9,127.6C85.7,128.3 83.6,129.5 82.4,130.0C81.2,130.5 79.6,130.7 78.9,130.5C78.2,130.3 77.5,129.6 78.3,128.8Z" fill="#a8f548" />
<rect x="65.7" y="130.3" width="1.8" height="1.8" fill="#b9f23e"/>
<path d="M52.0,165.6C52.1,163.9 53.3,161.1 54.3,159.7C55.3,158.3 56.6,157.7 57.8,157.4C59.0,157.1 60.6,157.2 61.4,158.0C62.2,158.8 62.1,160.6 62.5,162.1C62.9,163.6 63.7,165.5 63.7,166.8C63.7,168.1 63.5,169.3 62.5,170.0C61.5,170.7 59.5,171.3 58.0,171.2C56.5,171.1 54.5,170.5 53.5,169.6C52.5,168.7 51.9,167.2 52.0,165.6Z" fill="#b8240f" />
<path d="M59.9,163.3h0.9v0.9h-0.9zM59.8,162.9h0.9v0.9h-0.9zM56.7,156.5h0.9v0.9h-0.9zM58.6,163.3h0.9v0.9h-0.9zM55.0,163.4h0.9v0.9h-0.9zM55.4,160.3h0.9v0.9h-0.9zM57.0,162.8h0.9v0.9h-0.9zM56.1,163.5h0.9v0.9h-0.9zM59.8,162.9h0.9v0.9h-0.9zM57.6,162.8h0.9v0.9h-0.9zM59.1,163.7h0.9v0.9h-0.9zM57.7,163.1h0.9v0.9h-0.9zM60.1,166.5h0.9v0.9h-0.9zM62.6,162.8h0.9v0.9h-0.9zM58.3,165.7h0.9v0.9h-0.9zM58.9,159.7h0.9v0.9h-0.9zM53.5,158.4h0.9v0.9h-0.9zM56.2,162.7h0.9v0.9h-0.9zM55.2,165.1h0.9v0.9h-0.9zM56.6,166.2h0.9v0.9h-0.9zM54.9,158.3h0.9v0.9h-0.9zM57.4,165.7h0.9v0.9h-0.9zM58.0,164.4h0.9v0.9h-0.9zM53.9,163.0h0.9v0.9h-0.9zM59.3,166.8h0.9v0.9h-0.9zM56.9,171.0h0.9v0.9h-0.9zM60.6,162.6h0.9v0.9h-0.9zM57.3,162.5h0.9v0.9h-0.9zM55.3,164.8h0.9v0.9h-0.9zM56.7,161.7h0.9v0.9h-0.9zM55.3,166.3h0.9v0.9h-0.9zM56.9,162.8h0.9v0.9h-0.9zM59.7,160.1h0.9v0.9h-0.9zM58.3,163.1h0.9v0.9h-0.9zM55.8,160.4h0.9v0.9h-0.9zM60.2,163.2h0.9v0.9h-0.9zM54.8,164.4h0.9v0.9h-0.9zM58.3,164.2h0.9v0.9h-0.9zM61.0,163.2h0.9v0.9h-0.9zM54.1,160.6h0.9v0.9h-0.9z" fill="#ffffff"/>
<path d="M61.8,157.2h0.9v0.9h-0.9zM62.3,158.4h0.9v0.9h-0.9zM62.1,156.7h0.9v0.9h-0.9zM60.8,156.5h0.9v0.9h-0.9zM62.1,158.9h0.9v0.9h-0.9zM61.3,157.7h0.9v0.9h-0.9zM62.4,156.9h0.9v0.9h-0.9zM61.1,157.0h0.9v0.9h-0.9z" fill="#4259d9"/>
<rect x="61" y="155.3" width="1.2" height="1.5" fill="#f0823a"/><rect x="62.6" y="167.5" width="1.3" height="1.8" fill="#b9f23e"/>
<path d="M124.6,116.7h1.0v1.0h-1.0zM133.3,112.3h1.0v1.0h-1.0zM135.9,116.4h1.0v1.0h-1.0zM130.2,113.9h1.0v1.0h-1.0zM140.6,110.7h1.0v1.0h-1.0zM133.7,115.1h1.0v1.0h-1.0zM136.1,117.8h1.0v1.0h-1.0zM132.2,116.4h1.0v1.0h-1.0zM135.4,110.0h1.0v1.0h-1.0zM129.5,116.4h1.0v1.0h-1.0zM133.1,118.2h1.0v1.0h-1.0zM136.7,119.4h1.0v1.0h-1.0zM132.7,117.4h1.0v1.0h-1.0zM135.7,111.6h1.0v1.0h-1.0zM138.1,125.0h1.0v1.0h-1.0zM129.2,109.7h1.0v1.0h-1.0zM131.2,121.0h1.0v1.0h-1.0zM137.5,107.5h1.0v1.0h-1.0zM128.4,125.7h1.0v1.0h-1.0zM132.1,118.3h1.0v1.0h-1.0zM138.3,116.8h1.0v1.0h-1.0zM133.1,116.0h1.0v1.0h-1.0zM134.8,114.2h1.0v1.0h-1.0zM129.5,116.2h1.0v1.0h-1.0zM138.4,108.1h1.0v1.0h-1.0zM132.7,109.8h1.0v1.0h-1.0zM134.9,119.1h1.0v1.0h-1.0zM132.1,117.6h1.0v1.0h-1.0zM136.1,121.2h1.0v1.0h-1.0zM136.9,116.5h1.0v1.0h-1.0zM129.7,116.3h1.0v1.0h-1.0zM130.4,113.7h1.0v1.0h-1.0zM129.3,120.5h1.0v1.0h-1.0zM125.1,123.1h1.0v1.0h-1.0zM131.5,117.2h1.0v1.0h-1.0zM127.3,116.9h1.0v1.0h-1.0zM132.2,119.5h1.0v1.0h-1.0zM134.0,115.3h1.0v1.0h-1.0zM135.1,116.7h1.0v1.0h-1.0zM131.0,121.7h1.0v1.0h-1.0zM134.7,120.5h1.0v1.0h-1.0zM134.2,114.0h1.0v1.0h-1.0zM123.3,114.5h1.0v1.0h-1.0zM135.7,114.4h1.0v1.0h-1.0zM135.4,124.1h1.0v1.0h-1.0zM141.3,110.2h1.0v1.0h-1.0zM139.6,111.4h1.0v1.0h-1.0zM140.2,115.7h1.0v1.0h-1.0zM132.5,119.4h1.0v1.0h-1.0zM134.7,112.6h1.0v1.0h-1.0zM131.0,110.4h1.0v1.0h-1.0zM142.8,114.8h1.0v1.0h-1.0zM140.7,110.6h1.0v1.0h-1.0zM139.4,116.9h1.0v1.0h-1.0zM134.4,116.3h1.0v1.0h-1.0zM150.9,114.6h1.0v1.0h-1.0zM127.5,114.9h1.0v1.0h-1.0zM140.2,109.6h1.0v1.0h-1.0zM132.5,115.0h1.0v1.0h-1.0zM127.7,125.2h1.0v1.0h-1.0zM131.0,118.6h1.0v1.0h-1.0zM130.0,124.7h1.0v1.0h-1.0zM140.4,114.8h1.0v1.0h-1.0zM138.5,117.9h1.0v1.0h-1.0zM127.0,112.9h1.0v1.0h-1.0zM134.1,115.2h1.0v1.0h-1.0zM135.7,118.5h1.0v1.0h-1.0zM133.1,109.5h1.0v1.0h-1.0zM135.4,117.3h1.0v1.0h-1.0zM133.6,113.4h1.0v1.0h-1.0zM130.3,114.5h1.0v1.0h-1.0zM124.9,122.1h1.0v1.0h-1.0zM127.8,116.5h1.0v1.0h-1.0zM130.2,121.4h1.0v1.0h-1.0zM143.7,119.7h1.0v1.0h-1.0zM129.2,118.1h1.0v1.0h-1.0zM129.4,119.3h1.0v1.0h-1.0zM135.2,115.0h1.0v1.0h-1.0zM134.5,110.6h1.0v1.0h-1.0zM139.5,113.1h1.0v1.0h-1.0zM130.1,113.4h1.0v1.0h-1.0zM128.9,118.0h1.0v1.0h-1.0zM127.2,118.3h1.0v1.0h-1.0zM135.4,114.9h1.0v1.0h-1.0zM140.1,110.6h1.0v1.0h-1.0zM130.6,123.6h1.0v1.0h-1.0zM142.0,120.0h1.0v1.0h-1.0zM128.4,111.8h1.0v1.0h-1.0zM136.8,111.1h1.0v1.0h-1.0zM128.0,120.5h1.0v1.0h-1.0zM143.4,111.7h1.0v1.0h-1.0zM126.5,114.9h1.0v1.0h-1.0zM131.1,111.3h1.0v1.0h-1.0zM130.9,110.4h1.0v1.0h-1.0zM128.1,117.8h1.0v1.0h-1.0zM131.2,113.4h1.0v1.0h-1.0zM138.2,115.2h1.0v1.0h-1.0zM128.0,114.7h1.0v1.0h-1.0zM130.3,121.1h1.0v1.0h-1.0zM140.7,118.1h1.0v1.0h-1.0zM131.0,117.4h1.0v1.0h-1.0zM128.8,118.1h1.0v1.0h-1.0zM138.4,111.8h1.0v1.0h-1.0zM134.9,114.6h1.0v1.0h-1.0zM150.7,109.2h1.0v1.0h-1.0zM131.7,111.7h1.0v1.0h-1.0zM129.6,118.7h1.0v1.0h-1.0zM130.2,115.0h1.0v1.0h-1.0zM130.6,110.1h1.0v1.0h-1.0zM138.6,115.5h1.0v1.0h-1.0zM137.9,119.4h1.0v1.0h-1.0zM138.8,115.2h1.0v1.0h-1.0zM130.3,117.9h1.0v1.0h-1.0zM133.5,114.7h1.0v1.0h-1.0zM142.1,112.4h1.0v1.0h-1.0zM136.7,113.0h1.0v1.0h-1.0zM132.8,112.4h1.0v1.0h-1.0zM133.5,117.4h1.0v1.0h-1.0zM134.1,120.7h1.0v1.0h-1.0zM130.1,116.1h1.0v1.0h-1.0zM127.4,117.4h1.0v1.0h-1.0zM132.0,118.7h1.0v1.0h-1.0zM137.5,116.7h1.0v1.0h-1.0zM130.0,117.0h1.0v1.0h-1.0zM134.3,112.3h1.0v1.0h-1.0zM140.6,117.7h1.0v1.0h-1.0zM136.4,112.3h1.0v1.0h-1.0zM142.8,106.1h1.0v1.0h-1.0zM130.2,118.8h1.0v1.0h-1.0zM136.0,116.9h1.0v1.0h-1.0zM131.2,120.7h1.0v1.0h-1.0zM139.8,112.8h1.0v1.0h-1.0zM131.8,120.0h1.0v1.0h-1.0zM138.8,113.9h1.0v1.0h-1.0zM131.8,114.6h1.0v1.0h-1.0zM128.6,114.0h1.0v1.0h-1.0zM134.9,121.0h1.0v1.0h-1.0zM136.1,113.4h1.0v1.0h-1.0zM130.7,118.7h1.0v1.0h-1.0zM124.0,117.0h1.0v1.0h-1.0zM135.8,110.1h1.0v1.0h-1.0zM132.0,115.1h1.0v1.0h-1.0zM143.9,110.8h1.0v1.0h-1.0zM127.1,113.4h1.0v1.0h-1.0zM126.6,116.3h1.0v1.0h-1.0zM134.4,116.4h1.0v1.0h-1.0zM141.2,116.5h1.0v1.0h-1.0zM126.3,121.8h1.0v1.0h-1.0zM135.6,115.9h1.0v1.0h-1.0zM134.6,117.5h1.0v1.0h-1.0zM130.0,117.6h1.0v1.0h-1.0zM136.5,114.7h1.0v1.0h-1.0zM138.8,119.4h1.0v1.0h-1.0zM128.7,122.1h1.0v1.0h-1.0zM134.6,115.7h1.0v1.0h-1.0zM135.7,114.9h1.0v1.0h-1.0zM133.7,109.0h1.0v1.0h-1.0zM135.9,122.6h1.0v1.0h-1.0zM138.8,118.5h1.0v1.0h-1.0zM149.7,114.7h1.0v1.0h-1.0zM130.5,119.0h1.0v1.0h-1.0zM135.4,119.4h1.0v1.0h-1.0zM134.5,116.1h1.0v1.0h-1.0zM136.4,116.3h1.0v1.0h-1.0zM132.2,115.7h1.0v1.0h-1.0zM137.7,111.1h1.0v1.0h-1.0zM132.3,109.8h1.0v1.0h-1.0zM133.8,116.2h1.0v1.0h-1.0zM137.0,114.8h1.0v1.0h-1.0zM136.6,116.6h1.0v1.0h-1.0zM136.5,118.0h1.0v1.0h-1.0zM137.4,116.7h1.0v1.0h-1.0zM137.9,118.4h1.0v1.0h-1.0zM137.0,116.4h1.0v1.0h-1.0zM124.2,114.2h1.0v1.0h-1.0zM134.6,116.2h1.0v1.0h-1.0zM135.0,115.8h1.0v1.0h-1.0zM142.7,114.7h1.0v1.0h-1.0zM129.7,118.7h1.0v1.0h-1.0zM123.9,117.5h1.0v1.0h-1.0zM135.9,120.4h1.0v1.0h-1.0zM125.7,117.4h1.0v1.0h-1.0zM124.0,118.3h1.0v1.0h-1.0zM132.3,111.0h1.0v1.0h-1.0zM128.6,119.1h1.0v1.0h-1.0zM134.9,112.4h1.0v1.0h-1.0zM131.2,110.9h1.0v1.0h-1.0zM125.9,114.2h1.0v1.0h-1.0zM130.0,116.9h1.0v1.0h-1.0zM133.4,116.3h1.0v1.0h-1.0zM138.1,114.7h1.0v1.0h-1.0zM127.1,117.5h1.0v1.0h-1.0zM129.1,115.3h1.0v1.0h-1.0zM132.9,115.8h1.0v1.0h-1.0zM127.9,106.5h1.0v1.0h-1.0zM134.3,119.9h1.0v1.0h-1.0zM134.1,117.2h1.0v1.0h-1.0zM133.2,118.4h1.0v1.0h-1.0zM130.3,109.1h1.0v1.0h-1.0zM135.3,116.9h1.0v1.0h-1.0zM143.1,119.2h1.0v1.0h-1.0zM140.5,117.3h1.0v1.0h-1.0zM129.5,117.5h1.0v1.0h-1.0zM133.6,111.9h1.0v1.0h-1.0zM122.6,116.9h1.0v1.0h-1.0zM129.7,113.0h1.0v1.0h-1.0zM124.8,115.7h1.0v1.0h-1.0zM135.3,118.8h1.0v1.0h-1.0zM132.9,116.9h1.0v1.0h-1.0zM121.4,113.0h1.0v1.0h-1.0zM140.4,111.6h1.0v1.0h-1.0zM138.7,119.9h1.0v1.0h-1.0zM125.4,116.0h1.0v1.0h-1.0zM126.2,109.4h1.0v1.0h-1.0zM129.5,113.4h1.0v1.0h-1.0zM139.1,112.5h1.0v1.0h-1.0zM137.4,115.2h1.0v1.0h-1.0zM129.1,119.4h1.0v1.0h-1.0zM130.4,117.8h1.0v1.0h-1.0zM122.6,117.5h1.0v1.0h-1.0zM134.1,117.0h1.0v1.0h-1.0zM125.8,119.5h1.0v1.0h-1.0zM129.3,115.9h1.0v1.0h-1.0zM130.8,113.1h1.0v1.0h-1.0zM135.4,116.1h1.0v1.0h-1.0zM125.7,123.7h1.0v1.0h-1.0zM127.1,114.7h1.0v1.0h-1.0zM125.2,123.8h1.0v1.0h-1.0zM136.0,113.8h1.0v1.0h-1.0zM137.0,116.6h1.0v1.0h-1.0zM126.0,112.1h1.0v1.0h-1.0zM136.1,111.5h1.0v1.0h-1.0zM134.3,118.9h1.0v1.0h-1.0zM135.9,121.9h1.0v1.0h-1.0zM130.3,114.4h1.0v1.0h-1.0zM121.8,119.2h1.0v1.0h-1.0zM138.2,117.4h1.0v1.0h-1.0zM130.0,114.0h1.0v1.0h-1.0zM132.8,117.1h1.0v1.0h-1.0zM127.6,116.7h1.0v1.0h-1.0zM130.9,116.0h1.0v1.0h-1.0zM133.1,115.8h1.0v1.0h-1.0zM136.6,109.8h1.0v1.0h-1.0zM133.9,117.5h1.0v1.0h-1.0zM128.3,121.2h1.0v1.0h-1.0zM130.9,118.9h1.0v1.0h-1.0zM136.1,120.3h1.0v1.0h-1.0zM139.3,109.7h1.0v1.0h-1.0zM137.3,113.0h1.0v1.0h-1.0zM137.2,113.9h1.0v1.0h-1.0zM137.7,115.1h1.0v1.0h-1.0zM125.8,120.0h1.0v1.0h-1.0zM124.8,113.5h1.0v1.0h-1.0zM135.6,116.5h1.0v1.0h-1.0zM140.7,113.6h1.0v1.0h-1.0zM137.5,112.8h1.0v1.0h-1.0zM144.1,112.8h1.0v1.0h-1.0zM139.7,114.7h1.0v1.0h-1.0zM140.2,115.3h1.0v1.0h-1.0zM128.1,114.2h1.0v1.0h-1.0z" fill="#2a0f4f"/>
<path d="M142.3,111.9h1.0v1.0h-1.0zM146.8,119.2h1.0v1.0h-1.0zM144.6,118.3h1.0v1.0h-1.0zM140.1,113.1h1.0v1.0h-1.0zM140.9,115.4h1.0v1.0h-1.0zM135.3,120.0h1.0v1.0h-1.0zM142.5,114.2h1.0v1.0h-1.0zM136.5,116.5h1.0v1.0h-1.0zM146.9,117.3h1.0v1.0h-1.0zM137.4,121.0h1.0v1.0h-1.0zM140.9,112.3h1.0v1.0h-1.0zM140.2,117.0h1.0v1.0h-1.0zM137.9,116.6h1.0v1.0h-1.0zM142.4,114.6h1.0v1.0h-1.0zM135.1,118.7h1.0v1.0h-1.0zM144.1,114.3h1.0v1.0h-1.0zM146.4,114.4h1.0v1.0h-1.0zM137.5,123.7h1.0v1.0h-1.0zM145.7,110.1h1.0v1.0h-1.0zM142.2,112.8h1.0v1.0h-1.0zM141.6,122.3h1.0v1.0h-1.0zM147.6,112.3h1.0v1.0h-1.0zM141.0,114.1h1.0v1.0h-1.0zM139.8,120.5h1.0v1.0h-1.0zM136.4,124.3h1.0v1.0h-1.0zM137.3,112.5h1.0v1.0h-1.0zM146.0,118.3h1.0v1.0h-1.0zM146.7,120.8h1.0v1.0h-1.0zM146.7,116.4h1.0v1.0h-1.0zM140.7,111.6h1.0v1.0h-1.0zM138.5,109.6h1.0v1.0h-1.0zM138.4,116.1h1.0v1.0h-1.0zM145.6,107.8h1.0v1.0h-1.0zM140.0,116.7h1.0v1.0h-1.0zM152.4,116.3h1.0v1.0h-1.0zM144.8,108.5h1.0v1.0h-1.0zM142.4,115.4h1.0v1.0h-1.0zM141.5,120.1h1.0v1.0h-1.0zM138.6,124.6h1.0v1.0h-1.0zM144.0,115.6h1.0v1.0h-1.0zM139.2,111.9h1.0v1.0h-1.0zM138.4,114.9h1.0v1.0h-1.0zM138.9,111.6h1.0v1.0h-1.0zM137.7,116.4h1.0v1.0h-1.0zM140.4,113.3h1.0v1.0h-1.0zM139.2,115.5h1.0v1.0h-1.0zM142.9,108.4h1.0v1.0h-1.0zM140.1,113.2h1.0v1.0h-1.0zM143.9,113.6h1.0v1.0h-1.0zM146.9,118.4h1.0v1.0h-1.0zM143.3,113.3h1.0v1.0h-1.0zM143.3,110.1h1.0v1.0h-1.0zM140.0,118.1h1.0v1.0h-1.0zM138.0,120.0h1.0v1.0h-1.0zM143.2,117.7h1.0v1.0h-1.0zM138.9,119.2h1.0v1.0h-1.0zM142.5,110.9h1.0v1.0h-1.0zM137.9,110.4h1.0v1.0h-1.0zM137.8,112.2h1.0v1.0h-1.0zM139.1,118.9h1.0v1.0h-1.0zM138.3,115.0h1.0v1.0h-1.0zM141.1,114.7h1.0v1.0h-1.0zM138.7,111.6h1.0v1.0h-1.0zM136.5,118.1h1.0v1.0h-1.0zM140.9,117.4h1.0v1.0h-1.0zM138.5,113.6h1.0v1.0h-1.0zM143.5,117.8h1.0v1.0h-1.0zM142.3,115.9h1.0v1.0h-1.0zM142.8,110.3h1.0v1.0h-1.0zM143.9,116.6h1.0v1.0h-1.0zM142.5,115.5h1.0v1.0h-1.0zM142.0,112.1h1.0v1.0h-1.0zM134.1,111.7h1.0v1.0h-1.0zM142.4,117.4h1.0v1.0h-1.0zM142.1,114.2h1.0v1.0h-1.0zM139.8,108.3h1.0v1.0h-1.0zM142.3,121.6h1.0v1.0h-1.0zM149.2,110.2h1.0v1.0h-1.0zM141.4,118.2h1.0v1.0h-1.0zM137.5,115.1h1.0v1.0h-1.0zM140.2,110.6h1.0v1.0h-1.0zM130.7,115.5h1.0v1.0h-1.0zM145.0,111.7h1.0v1.0h-1.0zM143.1,116.7h1.0v1.0h-1.0zM138.9,118.0h1.0v1.0h-1.0zM139.4,116.4h1.0v1.0h-1.0zM139.0,119.4h1.0v1.0h-1.0zM141.3,116.9h1.0v1.0h-1.0zM141.2,117.4h1.0v1.0h-1.0zM148.6,111.1h1.0v1.0h-1.0z" fill="#4259d9"/>
<path d="M138.1,114.7h0.9v0.9h-0.9zM136.7,121.2h0.9v0.9h-0.9zM136.4,120.7h0.9v0.9h-0.9zM139.0,118.7h0.9v0.9h-0.9zM136.6,119.8h0.9v0.9h-0.9zM138.2,122.2h0.9v0.9h-0.9zM138.7,118.6h0.9v0.9h-0.9zM139.1,120.5h0.9v0.9h-0.9zM139.0,120.1h0.9v0.9h-0.9zM136.9,117.8h0.9v0.9h-0.9z" fill="#6fe9d6"/>
<path d="M131.6,124.8C131.7,123.6 133.8,123.5 135.2,123.4C136.6,123.3 139.6,123.1 140.3,124.1C141.0,125.1 140.1,127.1 139.6,129.2C139.1,131.3 137.5,134.3 137.4,136.5C137.3,138.7 139.5,140.8 138.9,142.3C138.3,143.8 135.2,144.3 133.8,145.3C132.5,146.3 131.3,148.7 130.8,148.2C130.3,147.7 130.3,144.0 130.8,142.3C131.3,140.6 133.2,139.9 133.8,138.0C134.4,136.1 134.9,132.9 134.5,130.7C134.1,128.5 131.5,126.0 131.6,124.8Z" fill="#e2431c" />
<path d="M135.4,133.5h0.9v0.9h-0.9zM135.9,125.6h0.9v0.9h-0.9zM130.5,128.5h0.9v0.9h-0.9zM132.9,127.2h0.9v0.9h-0.9zM134.6,134.5h0.9v0.9h-0.9zM135.6,123.0h0.9v0.9h-0.9zM137.0,131.6h0.9v0.9h-0.9zM133.2,136.3h0.9v0.9h-0.9zM135.3,135.3h0.9v0.9h-0.9zM132.8,135.1h0.9v0.9h-0.9zM134.2,134.3h0.9v0.9h-0.9zM131.8,135.0h0.9v0.9h-0.9zM132.6,136.0h0.9v0.9h-0.9zM134.7,122.2h0.9v0.9h-0.9zM133.3,144.1h0.9v0.9h-0.9zM137.0,138.2h0.9v0.9h-0.9zM132.5,146.4h0.9v0.9h-0.9zM138.6,138.6h0.9v0.9h-0.9zM134.8,126.4h0.9v0.9h-0.9zM132.0,146.7h0.9v0.9h-0.9zM128.1,135.8h0.9v0.9h-0.9zM134.4,136.3h0.9v0.9h-0.9zM135.3,132.6h0.9v0.9h-0.9zM136.7,129.3h0.9v0.9h-0.9zM140.2,137.1h0.9v0.9h-0.9zM134.5,126.7h0.9v0.9h-0.9zM133.4,137.3h0.9v0.9h-0.9zM133.5,133.9h0.9v0.9h-0.9zM132.4,128.5h0.9v0.9h-0.9zM136.1,133.4h0.9v0.9h-0.9zM133.2,127.6h0.9v0.9h-0.9zM134.5,129.4h0.9v0.9h-0.9zM135.9,137.7h0.9v0.9h-0.9zM136.9,142.6h0.9v0.9h-0.9zM136.6,134.7h0.9v0.9h-0.9zM135.8,133.8h0.9v0.9h-0.9zM135.2,135.9h0.9v0.9h-0.9zM130.3,139.4h0.9v0.9h-0.9zM138.2,129.1h0.9v0.9h-0.9zM134.1,126.1h0.9v0.9h-0.9zM132.6,129.1h0.9v0.9h-0.9zM140.5,126.4h0.9v0.9h-0.9zM136.8,128.8h0.9v0.9h-0.9zM135.7,124.3h0.9v0.9h-0.9zM139.8,124.1h0.9v0.9h-0.9zM137.6,137.6h0.9v0.9h-0.9zM137.2,127.8h0.9v0.9h-0.9zM135.7,138.2h0.9v0.9h-0.9zM136.3,119.6h0.9v0.9h-0.9zM132.4,131.8h0.9v0.9h-0.9zM136.6,129.5h0.9v0.9h-0.9zM138.2,126.7h0.9v0.9h-0.9zM138.5,133.4h0.9v0.9h-0.9zM132.6,120.7h0.9v0.9h-0.9zM138.4,131.3h0.9v0.9h-0.9zM135.5,143.9h0.9v0.9h-0.9zM133.3,149.4h0.9v0.9h-0.9zM136.9,123.1h0.9v0.9h-0.9zM134.3,132.4h0.9v0.9h-0.9zM136.7,132.9h0.9v0.9h-0.9zM138.5,144.9h0.9v0.9h-0.9zM133.7,126.5h0.9v0.9h-0.9zM135.1,129.6h0.9v0.9h-0.9zM138.5,131.4h0.9v0.9h-0.9zM129.7,143.7h0.9v0.9h-0.9zM138.4,139.3h0.9v0.9h-0.9zM132.3,124.6h0.9v0.9h-0.9zM132.9,131.7h0.9v0.9h-0.9zM134.5,141.8h0.9v0.9h-0.9zM135.2,126.0h0.9v0.9h-0.9zM135.1,146.1h0.9v0.9h-0.9zM132.5,147.7h0.9v0.9h-0.9zM131.9,132.7h0.9v0.9h-0.9zM135.0,137.4h0.9v0.9h-0.9zM138.2,136.0h0.9v0.9h-0.9zM137.6,127.9h0.9v0.9h-0.9zM136.1,130.6h0.9v0.9h-0.9zM138.1,132.8h0.9v0.9h-0.9zM133.4,138.5h0.9v0.9h-0.9zM134.4,134.2h0.9v0.9h-0.9zM127.6,140.0h0.9v0.9h-0.9zM136.0,123.4h0.9v0.9h-0.9zM139.1,120.0h0.9v0.9h-0.9zM135.6,121.1h0.9v0.9h-0.9zM138.4,124.2h0.9v0.9h-0.9zM128.1,138.3h0.9v0.9h-0.9zM137.5,130.9h0.9v0.9h-0.9zM136.4,131.2h0.9v0.9h-0.9zM136.0,136.0h0.9v0.9h-0.9zM136.8,134.5h0.9v0.9h-0.9zM135.0,130.9h0.9v0.9h-0.9zM139.3,125.5h0.9v0.9h-0.9zM135.5,135.3h0.9v0.9h-0.9zM131.7,124.7h0.9v0.9h-0.9zM133.1,134.0h0.9v0.9h-0.9zM139.5,127.9h0.9v0.9h-0.9zM133.7,135.1h0.9v0.9h-0.9zM135.2,123.9h0.9v0.9h-0.9zM138.0,154.1h0.9v0.9h-0.9zM133.0,138.8h0.9v0.9h-0.9zM139.8,133.6h0.9v0.9h-0.9zM136.9,135.6h0.9v0.9h-0.9zM142.2,124.5h0.9v0.9h-0.9zM137.3,134.9h0.9v0.9h-0.9zM134.2,131.0h0.9v0.9h-0.9zM133.9,132.4h0.9v0.9h-0.9zM138.6,145.6h0.9v0.9h-0.9zM134.9,130.2h0.9v0.9h-0.9zM137.4,131.8h0.9v0.9h-0.9zM134.4,144.4h0.9v0.9h-0.9z" fill="#e2431c"/>
<path d="M135.8,138.2h0.9v0.9h-0.9zM134.5,140.1h0.9v0.9h-0.9zM135.5,138.9h0.9v0.9h-0.9zM135.0,138.2h0.9v0.9h-0.9zM137.9,140.6h0.9v0.9h-0.9zM137.4,140.0h0.9v0.9h-0.9zM136.8,138.8h0.9v0.9h-0.9zM134.7,138.2h0.9v0.9h-0.9z" fill="#66f582"/>
<path d="M135.1,119.4h0.9v0.9h-0.9zM132.7,125.9h0.9v0.9h-0.9zM133.3,121.9h0.9v0.9h-0.9zM133.9,122.2h0.9v0.9h-0.9zM129.8,122.7h0.9v0.9h-0.9zM132.4,121.2h0.9v0.9h-0.9zM141.9,122.2h0.9v0.9h-0.9zM135.4,124.6h0.9v0.9h-0.9zM129.8,122.2h0.9v0.9h-0.9zM132.0,123.4h0.9v0.9h-0.9zM138.7,121.2h0.9v0.9h-0.9zM135.9,123.9h0.9v0.9h-0.9zM139.1,120.7h0.9v0.9h-0.9zM129.6,122.6h0.9v0.9h-0.9zM136.7,123.5h0.9v0.9h-0.9zM133.6,121.7h0.9v0.9h-0.9zM133.9,123.7h0.9v0.9h-0.9zM133.2,121.4h0.9v0.9h-0.9zM131.7,122.8h0.9v0.9h-0.9zM128.2,122.6h0.9v0.9h-0.9zM133.8,125.3h0.9v0.9h-0.9zM132.0,120.4h0.9v0.9h-0.9zM127.8,122.3h0.9v0.9h-0.9zM137.5,121.0h0.9v0.9h-0.9zM129.4,120.3h0.9v0.9h-0.9z" fill="#2a0f4f"/>
<path d="M141.1,146.7C141.5,145.3 142.8,143.2 144.0,142.3C145.2,141.5 147.2,140.9 148.4,141.6C149.6,142.3 151.0,145.1 151.3,146.7C151.7,148.3 151.5,150.1 150.5,151.1C149.5,152.1 146.8,152.7 145.4,152.6C144.0,152.5 142.5,151.4 141.8,150.4C141.1,149.4 140.7,148.0 141.1,146.7Z" fill="#55a4f7" />
<path d="M152.5,144.2h0.9v0.9h-0.9zM148.7,146.9h0.9v0.9h-0.9zM143.8,144.4h0.9v0.9h-0.9zM147.4,146.9h0.9v0.9h-0.9zM140.1,147.0h0.9v0.9h-0.9zM148.7,147.6h0.9v0.9h-0.9zM140.2,135.8h0.9v0.9h-0.9zM145.3,141.9h0.9v0.9h-0.9zM146.3,150.4h0.9v0.9h-0.9zM150.0,145.6h0.9v0.9h-0.9zM144.8,144.0h0.9v0.9h-0.9zM145.0,147.6h0.9v0.9h-0.9zM143.5,143.3h0.9v0.9h-0.9zM146.6,151.7h0.9v0.9h-0.9zM145.6,147.4h0.9v0.9h-0.9zM147.6,145.0h0.9v0.9h-0.9zM141.9,146.5h0.9v0.9h-0.9zM148.2,143.4h0.9v0.9h-0.9zM144.9,145.5h0.9v0.9h-0.9zM143.1,145.8h0.9v0.9h-0.9zM147.7,146.4h0.9v0.9h-0.9zM144.6,147.7h0.9v0.9h-0.9zM142.7,148.0h0.9v0.9h-0.9zM149.1,147.1h0.9v0.9h-0.9zM145.4,150.1h0.9v0.9h-0.9zM147.7,149.7h0.9v0.9h-0.9zM148.0,141.9h0.9v0.9h-0.9zM149.9,146.6h0.9v0.9h-0.9zM153.7,140.1h0.9v0.9h-0.9zM148.0,140.4h0.9v0.9h-0.9zM140.6,148.7h0.9v0.9h-0.9zM147.5,149.2h0.9v0.9h-0.9zM147.2,141.2h0.9v0.9h-0.9zM148.4,149.0h0.9v0.9h-0.9zM146.6,148.8h0.9v0.9h-0.9zM150.5,144.7h0.9v0.9h-0.9zM145.3,152.0h0.9v0.9h-0.9zM149.1,148.3h0.9v0.9h-0.9zM148.3,145.5h0.9v0.9h-0.9zM142.6,149.2h0.9v0.9h-0.9z" fill="#55a4f7"/>
<path d="M148.4,142.6h0.9v0.9h-0.9zM147.8,142.4h0.9v0.9h-0.9zM147.5,141.9h0.9v0.9h-0.9zM147.3,142.3h0.9v0.9h-0.9zM147.3,142.5h0.9v0.9h-0.9zM147.6,142.5h0.9v0.9h-0.9zM148.7,142.3h0.9v0.9h-0.9zM148.7,142.3h0.9v0.9h-0.9z" fill="#6fe9d6"/>
<path d="M159.3,123.4C159.8,121.0 161.2,118.0 163.0,116.1C164.8,114.1 167.9,112.3 170.3,111.7C172.7,111.1 175.5,111.2 177.6,112.4C179.7,113.6 181.5,116.7 182.7,119.0C183.9,121.3 185.0,123.9 184.9,126.3C184.8,128.7 183.5,131.5 181.9,133.6C180.3,135.7 176.9,136.8 175.4,138.7C173.9,140.6 174.3,143.5 173.2,145.3C172.1,147.1 170.4,149.1 168.8,149.6C167.2,150.1 165.2,149.4 163.7,148.2C162.2,147.0 161.0,144.2 160.0,142.3C159.0,140.4 157.8,138.4 157.8,136.5C157.8,134.6 159.8,132.9 160.0,130.7C160.2,128.5 158.8,125.8 159.3,123.4Z" fill="#6fe9d6" />
<path d="M182.5,124.1h0.9v0.9h-0.9zM183.5,134.1h0.9v0.9h-0.9zM184.2,132.1h0.9v0.9h-0.9zM185.0,126.1h0.9v0.9h-0.9zM183.5,133.4h0.9v0.9h-0.9zM185.3,129.8h0.9v0.9h-0.9zM184.8,125.6h0.9v0.9h-0.9zM184.6,132.5h0.9v0.9h-0.9zM187.2,127.5h0.9v0.9h-0.9zM182.2,131.4h0.9v0.9h-0.9zM183.5,135.0h0.9v0.9h-0.9zM181.5,128.8h0.9v0.9h-0.9zM183.5,127.5h0.9v0.9h-0.9zM183.1,121.0h0.9v0.9h-0.9zM183.2,123.1h0.9v0.9h-0.9zM181.4,134.5h0.9v0.9h-0.9zM181.3,132.2h0.9v0.9h-0.9zM182.5,143.5h0.9v0.9h-0.9zM183.0,131.1h0.9v0.9h-0.9zM181.6,135.1h0.9v0.9h-0.9zM180.6,128.7h0.9v0.9h-0.9zM183.1,136.1h0.9v0.9h-0.9zM183.6,131.7h0.9v0.9h-0.9zM179.6,127.9h0.9v0.9h-0.9zM177.9,134.3h0.9v0.9h-0.9zM180.2,130.2h0.9v0.9h-0.9zM181.8,129.1h0.9v0.9h-0.9zM182.2,133.1h0.9v0.9h-0.9zM178.9,133.9h0.9v0.9h-0.9zM178.8,129.4h0.9v0.9h-0.9zM182.0,127.6h0.9v0.9h-0.9zM182.2,135.1h0.9v0.9h-0.9zM178.2,124.9h0.9v0.9h-0.9zM182.4,128.4h0.9v0.9h-0.9zM182.7,133.1h0.9v0.9h-0.9zM180.9,133.2h0.9v0.9h-0.9zM186.4,125.9h0.9v0.9h-0.9zM180.8,122.5h0.9v0.9h-0.9zM186.7,137.2h0.9v0.9h-0.9zM184.4,142.2h0.9v0.9h-0.9zM184.1,128.7h0.9v0.9h-0.9zM183.7,136.6h0.9v0.9h-0.9zM182.0,136.7h0.9v0.9h-0.9zM183.6,129.7h0.9v0.9h-0.9zM178.0,134.2h0.9v0.9h-0.9zM179.8,133.0h0.9v0.9h-0.9zM176.1,126.8h0.9v0.9h-0.9zM181.1,130.7h0.9v0.9h-0.9zM181.9,129.4h0.9v0.9h-0.9zM183.5,130.7h0.9v0.9h-0.9zM181.6,136.4h0.9v0.9h-0.9zM184.0,135.3h0.9v0.9h-0.9zM179.7,137.1h0.9v0.9h-0.9zM181.6,137.6h0.9v0.9h-0.9zM185.2,138.7h0.9v0.9h-0.9zM181.0,133.5h0.9v0.9h-0.9zM183.8,132.3h0.9v0.9h-0.9zM183.0,133.0h0.9v0.9h-0.9zM185.1,131.4h0.9v0.9h-0.9zM175.9,134.5h0.9v0.9h-0.9z" fill="#6fe9d6"/>
<path d="M175.2,129.7h0.7v0.7h-0.7zM168.5,130.9h0.7v0.7h-0.7zM176.4,121.3h0.7v0.7h-0.7zM167.4,133.0h0.7v0.7h-0.7zM167.5,129.7h0.7v0.7h-0.7zM168.6,128.0h0.7v0.7h-0.7zM170.6,132.7h0.7v0.7h-0.7zM169.1,124.3h0.7v0.7h-0.7zM173.9,127.1h0.7v0.7h-0.7zM171.2,129.1h0.7v0.7h-0.7zM174.5,122.5h0.7v0.7h-0.7zM168.0,138.5h0.7v0.7h-0.7zM163.5,128.8h0.7v0.7h-0.7zM168.0,118.4h0.7v0.7h-0.7zM163.3,117.4h0.7v0.7h-0.7zM163.2,125.7h0.7v0.7h-0.7zM173.4,129.2h0.7v0.7h-0.7zM165.4,126.6h0.7v0.7h-0.7zM177.8,128.3h0.7v0.7h-0.7zM160.5,122.2h0.7v0.7h-0.7zM173.5,122.8h0.7v0.7h-0.7zM167.8,136.4h0.7v0.7h-0.7zM164.6,135.6h0.7v0.7h-0.7zM167.3,121.6h0.7v0.7h-0.7zM176.6,118.0h0.7v0.7h-0.7z" fill="#ffffff"/>
<path d="M158.6,143.9h0.9v0.9h-0.9zM162.3,142.6h0.9v0.9h-0.9zM159.3,134.6h0.9v0.9h-0.9zM159.2,140.3h0.9v0.9h-0.9zM159.9,136.4h0.9v0.9h-0.9zM158.3,143.9h0.9v0.9h-0.9zM162.5,138.1h0.9v0.9h-0.9zM160.9,142.1h0.9v0.9h-0.9zM159.1,135.9h0.9v0.9h-0.9zM157.2,138.5h0.9v0.9h-0.9zM159.6,141.7h0.9v0.9h-0.9zM158.5,142.1h0.9v0.9h-0.9zM156.7,137.1h0.9v0.9h-0.9zM159.0,138.8h0.9v0.9h-0.9zM158.7,144.9h0.9v0.9h-0.9zM160.4,141.5h0.9v0.9h-0.9zM159.2,137.5h0.9v0.9h-0.9zM158.4,141.9h0.9v0.9h-0.9zM157.8,139.6h0.9v0.9h-0.9zM160.0,137.0h0.9v0.9h-0.9zM160.7,137.2h0.9v0.9h-0.9zM160.8,135.1h0.9v0.9h-0.9zM157.4,139.9h0.9v0.9h-0.9zM161.8,138.0h0.9v0.9h-0.9zM159.1,135.3h0.9v0.9h-0.9zM164.5,134.3h0.9v0.9h-0.9zM160.2,133.9h0.9v0.9h-0.9zM158.7,142.0h0.9v0.9h-0.9zM164.3,139.4h0.9v0.9h-0.9zM162.0,136.8h0.9v0.9h-0.9z" fill="#6fe9d6"/>
<path d="M150.5,135.0C151.0,132.7 153.2,129.5 154.2,128.5C155.2,127.5 155.8,127.9 156.4,129.2C157.0,130.5 157.8,134.3 157.8,136.5C157.8,138.7 156.3,140.6 156.4,142.3C156.5,144.0 157.5,145.3 158.6,146.7C159.7,148.0 161.6,149.7 163.0,150.4C164.4,151.1 166.8,150.2 167.3,151.1C167.8,151.9 166.9,154.9 165.9,155.5C164.9,156.1 162.8,155.7 161.5,154.7C160.2,153.7 159.0,151.2 157.8,149.6C156.6,148.0 155.3,146.5 154.2,145.3C153.1,144.1 151.9,144.0 151.3,142.3C150.7,140.6 150.0,137.3 150.5,135.0Z" fill="#f0823a" />
<path d="M157.0,140.6h0.9v0.9h-0.9zM156.2,137.3h0.9v0.9h-0.9zM162.4,138.3h0.9v0.9h-0.9zM159.4,139.9h0.9v0.9h-0.9zM155.5,138.1h0.9v0.9h-0.9zM152.3,134.1h0.9v0.9h-0.9zM154.8,139.7h0.9v0.9h-0.9zM160.0,149.8h0.9v0.9h-0.9zM152.5,133.0h0.9v0.9h-0.9zM162.2,142.2h0.9v0.9h-0.9zM151.1,144.4h0.9v0.9h-0.9zM149.5,144.7h0.9v0.9h-0.9zM150.7,142.6h0.9v0.9h-0.9zM157.4,145.5h0.9v0.9h-0.9zM155.5,140.7h0.9v0.9h-0.9zM153.5,131.9h0.9v0.9h-0.9zM157.3,140.4h0.9v0.9h-0.9zM152.3,134.5h0.9v0.9h-0.9zM155.3,130.1h0.9v0.9h-0.9zM158.7,145.9h0.9v0.9h-0.9zM154.8,138.6h0.9v0.9h-0.9zM157.3,145.1h0.9v0.9h-0.9zM156.4,139.9h0.9v0.9h-0.9zM162.2,137.5h0.9v0.9h-0.9zM158.4,143.2h0.9v0.9h-0.9zM157.9,144.3h0.9v0.9h-0.9zM152.4,146.6h0.9v0.9h-0.9zM157.0,144.9h0.9v0.9h-0.9zM158.2,138.4h0.9v0.9h-0.9zM160.7,146.0h0.9v0.9h-0.9zM158.2,136.3h0.9v0.9h-0.9zM159.7,140.9h0.9v0.9h-0.9zM156.1,137.2h0.9v0.9h-0.9zM155.0,137.4h0.9v0.9h-0.9zM158.5,138.8h0.9v0.9h-0.9zM151.2,141.3h0.9v0.9h-0.9zM149.8,140.1h0.9v0.9h-0.9zM153.2,148.1h0.9v0.9h-0.9zM156.3,132.9h0.9v0.9h-0.9zM156.6,146.4h0.9v0.9h-0.9zM158.3,147.1h0.9v0.9h-0.9zM150.4,140.6h0.9v0.9h-0.9zM156.0,150.7h0.9v0.9h-0.9zM154.9,141.0h0.9v0.9h-0.9zM150.6,132.7h0.9v0.9h-0.9zM152.0,149.0h0.9v0.9h-0.9zM158.2,134.4h0.9v0.9h-0.9zM157.1,137.8h0.9v0.9h-0.9zM154.9,146.0h0.9v0.9h-0.9zM154.3,146.3h0.9v0.9h-0.9zM157.9,139.0h0.9v0.9h-0.9zM158.5,135.7h0.9v0.9h-0.9zM155.0,143.4h0.9v0.9h-0.9zM155.6,147.0h0.9v0.9h-0.9zM144.5,142.3h0.9v0.9h-0.9zM159.2,136.6h0.9v0.9h-0.9zM154.6,150.6h0.9v0.9h-0.9zM158.5,128.7h0.9v0.9h-0.9zM151.3,132.1h0.9v0.9h-0.9zM152.2,144.5h0.9v0.9h-0.9zM154.7,139.0h0.9v0.9h-0.9zM149.8,140.1h0.9v0.9h-0.9zM151.5,137.6h0.9v0.9h-0.9zM158.0,145.7h0.9v0.9h-0.9zM152.9,143.7h0.9v0.9h-0.9zM158.6,140.9h0.9v0.9h-0.9zM159.8,139.6h0.9v0.9h-0.9zM158.9,142.2h0.9v0.9h-0.9zM158.4,143.7h0.9v0.9h-0.9zM160.1,142.7h0.9v0.9h-0.9zM152.6,134.4h0.9v0.9h-0.9zM156.5,132.0h0.9v0.9h-0.9zM155.7,140.2h0.9v0.9h-0.9zM157.6,135.2h0.9v0.9h-0.9zM151.5,143.0h0.9v0.9h-0.9zM155.8,143.3h0.9v0.9h-0.9zM160.2,139.4h0.9v0.9h-0.9zM153.8,139.6h0.9v0.9h-0.9zM156.7,146.5h0.9v0.9h-0.9zM153.1,141.9h0.9v0.9h-0.9z" fill="#f0823a"/>
<path d="M156.3,146.8h0.9v0.9h-0.9zM155.3,145.8h0.9v0.9h-0.9zM153.0,150.1h0.9v0.9h-0.9zM152.3,148.3h0.9v0.9h-0.9zM155.0,145.9h0.9v0.9h-0.9zM157.4,144.6h0.9v0.9h-0.9zM155.4,146.8h0.9v0.9h-0.9zM155.9,143.4h0.9v0.9h-0.9zM153.3,145.8h0.9v0.9h-0.9zM156.3,147.0h0.9v0.9h-0.9zM153.0,141.2h0.9v0.9h-0.9zM155.2,143.8h0.9v0.9h-0.9zM157.1,145.7h0.9v0.9h-0.9zM157.9,146.8h0.9v0.9h-0.9zM155.4,142.7h0.9v0.9h-0.9zM157.3,147.8h0.9v0.9h-0.9zM153.1,146.5h0.9v0.9h-0.9zM153.1,145.2h0.9v0.9h-0.9zM154.3,148.5h0.9v0.9h-0.9zM153.1,145.8h0.9v0.9h-0.9zM151.9,145.6h0.9v0.9h-0.9zM153.3,149.2h0.9v0.9h-0.9zM154.0,145.4h0.9v0.9h-0.9zM155.0,146.0h0.9v0.9h-0.9zM155.8,147.7h0.9v0.9h-0.9zM155.7,141.9h0.9v0.9h-0.9zM157.6,148.8h0.9v0.9h-0.9zM156.1,148.4h0.9v0.9h-0.9zM153.9,147.3h0.9v0.9h-0.9zM153.9,144.0h0.9v0.9h-0.9z" fill="#e2431c"/>
<path d="M159.4,146.3h0.9v0.9h-0.9zM160.8,145.7h0.9v0.9h-0.9zM162.8,150.9h0.9v0.9h-0.9zM160.0,148.3h0.9v0.9h-0.9zM160.9,143.4h0.9v0.9h-0.9zM160.9,143.4h0.9v0.9h-0.9zM158.3,145.8h0.9v0.9h-0.9zM158.9,146.4h0.9v0.9h-0.9zM157.0,149.1h0.9v0.9h-0.9zM159.4,150.1h0.9v0.9h-0.9zM158.9,144.0h0.9v0.9h-0.9zM159.5,144.1h0.9v0.9h-0.9zM159.4,144.1h0.9v0.9h-0.9zM160.9,145.6h0.9v0.9h-0.9z" fill="#6fe9d6"/>
<path d="M165.1,156.9C165.6,154.9 167.2,152.4 168.8,151.1C170.4,149.8 172.9,148.8 174.6,148.9C176.3,149.0 178.0,150.3 179.0,151.8C180.0,153.3 180.9,155.8 180.8,157.7C180.7,159.6 179.6,161.8 178.3,163.5C177.0,165.2 174.9,167.3 173.2,167.9C171.5,168.5 169.3,168.0 168.1,167.2C166.9,166.3 166.4,164.5 165.9,162.8C165.4,161.1 164.6,158.9 165.1,156.9Z" fill="#2a0f4f" />
<path d="M170.8,150.8h0.9v0.9h-0.9zM176.3,149.8h0.9v0.9h-0.9zM176.6,150.2h0.9v0.9h-0.9zM173.0,148.6h0.9v0.9h-0.9zM178.7,150.8h0.9v0.9h-0.9zM167.5,150.1h0.9v0.9h-0.9zM178.5,149.1h0.9v0.9h-0.9zM170.6,152.4h0.9v0.9h-0.9zM171.0,149.1h0.9v0.9h-0.9zM170.8,153.0h0.9v0.9h-0.9zM172.9,151.6h0.9v0.9h-0.9zM171.4,153.6h0.9v0.9h-0.9zM171.9,151.5h0.9v0.9h-0.9zM169.0,151.0h0.9v0.9h-0.9zM172.3,150.2h0.9v0.9h-0.9zM175.6,148.6h0.9v0.9h-0.9zM174.6,153.0h0.9v0.9h-0.9zM174.2,148.2h0.9v0.9h-0.9zM171.9,152.9h0.9v0.9h-0.9zM167.6,149.9h0.9v0.9h-0.9zM165.7,149.5h0.9v0.9h-0.9zM172.8,150.0h0.9v0.9h-0.9zM164.3,151.8h0.9v0.9h-0.9zM167.6,147.4h0.9v0.9h-0.9zM170.1,147.8h0.9v0.9h-0.9zM177.8,149.1h0.9v0.9h-0.9zM175.2,151.9h0.9v0.9h-0.9zM168.2,152.2h0.9v0.9h-0.9zM171.1,150.9h0.9v0.9h-0.9zM167.0,149.6h0.9v0.9h-0.9zM165.8,150.2h0.9v0.9h-0.9zM170.8,151.6h0.9v0.9h-0.9zM173.2,154.8h0.9v0.9h-0.9zM168.9,151.9h0.9v0.9h-0.9zM171.1,151.4h0.9v0.9h-0.9zM170.1,152.1h0.9v0.9h-0.9zM173.2,152.6h0.9v0.9h-0.9zM168.9,154.3h0.9v0.9h-0.9zM167.5,151.7h0.9v0.9h-0.9zM167.6,149.5h0.9v0.9h-0.9zM169.6,150.5h0.9v0.9h-0.9zM168.1,150.0h0.9v0.9h-0.9zM161.9,152.0h0.9v0.9h-0.9zM171.5,150.5h0.9v0.9h-0.9zM167.9,151.0h0.9v0.9h-0.9zM171.8,149.5h0.9v0.9h-0.9zM172.2,148.1h0.9v0.9h-0.9zM168.7,150.6h0.9v0.9h-0.9zM176.6,150.7h0.9v0.9h-0.9zM174.0,152.7h0.9v0.9h-0.9zM173.0,150.5h0.9v0.9h-0.9zM165.0,151.6h0.9v0.9h-0.9zM168.6,152.8h0.9v0.9h-0.9zM169.0,153.0h0.9v0.9h-0.9zM169.0,149.9h0.9v0.9h-0.9zM178.0,154.6h0.9v0.9h-0.9zM174.1,147.2h0.9v0.9h-0.9zM176.2,148.4h0.9v0.9h-0.9zM169.8,152.4h0.9v0.9h-0.9zM170.8,151.7h0.9v0.9h-0.9zM169.8,151.0h0.9v0.9h-0.9zM174.5,151.6h0.9v0.9h-0.9zM168.7,152.0h0.9v0.9h-0.9zM173.9,151.4h0.9v0.9h-0.9zM168.1,151.7h0.9v0.9h-0.9zM166.8,150.9h0.9v0.9h-0.9zM173.1,151.8h0.9v0.9h-0.9zM174.9,152.0h0.9v0.9h-0.9zM171.7,149.7h0.9v0.9h-0.9zM172.1,150.2h0.9v0.9h-0.9z" fill="#2a0f4f"/>
<path d="M171.9,162.1h0.8v0.8h-0.8zM171.0,153.2h0.8v0.8h-0.8zM172.0,163.9h0.8v0.8h-0.8zM167.6,158.3h0.8v0.8h-0.8zM172.3,155.3h0.8v0.8h-0.8zM174.0,157.7h0.8v0.8h-0.8z" fill="#f0823a"/>
<path d="M169.5,165.2h0.8v0.8h-0.8zM169.5,166.0h0.8v0.8h-0.8zM168.9,167.1h0.8v0.8h-0.8zM168.9,164.7h0.8v0.8h-0.8zM172.1,169.6h0.8v0.8h-0.8zM169.2,164.5h0.8v0.8h-0.8zM167.5,166.1h0.8v0.8h-0.8zM173.1,165.0h0.8v0.8h-0.8zM172.0,163.7h0.8v0.8h-0.8zM166.7,165.9h0.8v0.8h-0.8zM170.6,167.0h0.8v0.8h-0.8zM171.7,168.7h0.8v0.8h-0.8zM171.6,166.3h0.8v0.8h-0.8zM169.5,166.9h0.8v0.8h-0.8z" fill="#4259d9"/>
<rect x="152" y="155" width="1.3" height="1.3" fill="#b9f23e"/>
<path d="M196.5,112.4C198.1,112.7 202.0,116.2 203.8,119.0C205.6,121.8 207.0,125.8 207.5,129.2C208.0,132.6 207.9,136.5 206.8,139.4C205.7,142.3 202.9,145.6 200.9,146.7C198.9,147.8 196.6,147.4 195.1,146.0C193.6,144.6 192.6,141.3 192.2,138.0C191.8,134.7 192.6,129.7 192.9,126.3C193.2,122.9 193.7,119.8 194.3,117.5C194.9,115.2 194.9,112.2 196.5,112.4Z" fill="#f0823a" />
<path d="M193.7,117.0h0.8v0.8h-0.8zM194.4,111.7h0.8v0.8h-0.8zM195.5,111.7h0.8v0.8h-0.8zM194.0,116.6h0.8v0.8h-0.8zM195.2,115.2h0.8v0.8h-0.8zM195.6,111.7h0.8v0.8h-0.8zM194.1,114.5h0.8v0.8h-0.8zM193.9,108.4h0.8v0.8h-0.8zM194.4,113.9h0.8v0.8h-0.8zM194.2,113.3h0.8v0.8h-0.8zM193.6,112.8h0.8v0.8h-0.8zM193.1,110.9h0.8v0.8h-0.8zM192.7,110.8h0.8v0.8h-0.8zM195.1,115.4h0.8v0.8h-0.8zM193.8,116.5h0.8v0.8h-0.8zM193.4,116.3h0.8v0.8h-0.8z" fill="#2a0f4f"/>
<path d="M198.8,110.3h0.8v0.8h-0.8zM195.3,109.2h0.8v0.8h-0.8zM195.1,108.3h0.8v0.8h-0.8zM196.3,107.3h0.8v0.8h-0.8zM193.5,108.1h0.8v0.8h-0.8zM196.5,106.8h0.8v0.8h-0.8zM196.6,111.0h0.8v0.8h-0.8zM195.1,109.0h0.8v0.8h-0.8z" fill="#e2431c"/>
<path d="M201.3,107.1h0.9v0.9h-0.9zM197.5,106.8h0.9v0.9h-0.9zM197.1,107.7h0.9v0.9h-0.9zM199.7,108.8h0.9v0.9h-0.9zM201.2,109.2h0.9v0.9h-0.9zM195.5,103.3h0.9v0.9h-0.9zM196.0,107.8h0.9v0.9h-0.9zM197.2,105.2h0.9v0.9h-0.9zM192.5,106.8h0.9v0.9h-0.9zM196.1,110.1h0.9v0.9h-0.9zM197.8,105.0h0.9v0.9h-0.9zM196.0,105.7h0.9v0.9h-0.9zM199.5,109.7h0.9v0.9h-0.9zM202.3,106.1h0.9v0.9h-0.9zM205.0,109.8h0.9v0.9h-0.9zM202.7,107.4h0.9v0.9h-0.9zM199.6,104.1h0.9v0.9h-0.9zM196.6,105.0h0.9v0.9h-0.9zM195.2,111.1h0.9v0.9h-0.9zM200.1,103.5h0.9v0.9h-0.9zM194.3,106.3h0.9v0.9h-0.9zM200.3,107.6h0.9v0.9h-0.9zM197.9,105.3h0.9v0.9h-0.9zM197.4,104.7h0.9v0.9h-0.9zM197.8,111.6h0.9v0.9h-0.9zM199.8,102.0h0.9v0.9h-0.9zM194.9,101.7h0.9v0.9h-0.9zM203.1,106.1h0.9v0.9h-0.9zM199.8,105.6h0.9v0.9h-0.9zM203.8,107.1h0.9v0.9h-0.9zM195.6,104.7h0.9v0.9h-0.9zM195.3,108.3h0.9v0.9h-0.9zM195.1,111.3h0.9v0.9h-0.9zM197.3,108.5h0.9v0.9h-0.9zM200.5,107.7h0.9v0.9h-0.9zM194.8,110.1h0.9v0.9h-0.9zM196.9,107.8h0.9v0.9h-0.9zM200.4,100.2h0.9v0.9h-0.9zM197.6,108.2h0.9v0.9h-0.9zM199.7,107.5h0.9v0.9h-0.9z" fill="#bcf43e"/>
<path d="M213.5,151.0C213.8,151.4 212.1,155.7 211.9,158.4C211.8,161.1 212.8,164.0 212.6,167.2C212.3,170.4 211.7,174.2 210.4,177.4C209.1,180.6 206.4,184.4 204.6,186.1C202.8,187.8 201.2,188.1 199.5,187.6C197.8,187.1 195.3,185.4 194.3,183.2C193.3,181.0 193.0,177.4 193.6,174.5C194.2,171.6 196.2,168.0 198.0,165.7C199.8,163.4 202.6,162.2 204.6,160.6C206.6,159.0 208.5,157.6 210.0,156.0C211.5,154.4 213.2,150.6 213.5,151.0Z" fill="#e2431c" />
<path d="M214.6,148.5 L213.2,157 L208,161.5 Z" fill="#bcf43e"/>
<path d="M196.4,163.2h0.9v0.9h-0.9zM195.9,151.2h0.9v0.9h-0.9zM201.6,155.8h0.9v0.9h-0.9zM194.9,167.1h0.9v0.9h-0.9zM190.9,162.1h0.9v0.9h-0.9zM194.9,160.7h0.9v0.9h-0.9zM192.8,164.1h0.9v0.9h-0.9zM188.0,169.2h0.9v0.9h-0.9zM198.6,168.5h0.9v0.9h-0.9zM203.9,166.4h0.9v0.9h-0.9zM191.2,162.7h0.9v0.9h-0.9zM192.3,166.1h0.9v0.9h-0.9zM188.7,163.5h0.9v0.9h-0.9zM200.3,167.3h0.9v0.9h-0.9zM197.1,158.1h0.9v0.9h-0.9zM189.4,171.1h0.9v0.9h-0.9zM194.6,166.3h0.9v0.9h-0.9zM194.0,163.8h0.9v0.9h-0.9zM197.9,168.6h0.9v0.9h-0.9zM195.4,167.1h0.9v0.9h-0.9zM198.5,169.4h0.9v0.9h-0.9zM190.3,163.8h0.9v0.9h-0.9zM189.3,168.2h0.9v0.9h-0.9zM189.2,166.9h0.9v0.9h-0.9zM199.7,164.4h0.9v0.9h-0.9zM196.2,164.8h0.9v0.9h-0.9zM193.7,163.2h0.9v0.9h-0.9zM198.8,162.4h0.9v0.9h-0.9zM197.8,164.3h0.9v0.9h-0.9zM194.8,159.2h0.9v0.9h-0.9zM191.5,164.9h0.9v0.9h-0.9zM193.7,167.6h0.9v0.9h-0.9zM193.1,161.0h0.9v0.9h-0.9zM195.9,163.7h0.9v0.9h-0.9zM197.2,168.8h0.9v0.9h-0.9zM193.4,169.0h0.9v0.9h-0.9zM201.2,174.4h0.9v0.9h-0.9zM192.1,171.3h0.9v0.9h-0.9zM198.3,167.6h0.9v0.9h-0.9zM192.9,163.2h0.9v0.9h-0.9zM188.6,159.6h0.9v0.9h-0.9zM196.7,163.4h0.9v0.9h-0.9zM194.9,162.2h0.9v0.9h-0.9zM193.7,160.8h0.9v0.9h-0.9zM191.8,168.4h0.9v0.9h-0.9zM200.3,166.3h0.9v0.9h-0.9zM199.5,166.4h0.9v0.9h-0.9zM196.2,167.3h0.9v0.9h-0.9zM197.1,167.5h0.9v0.9h-0.9zM189.2,156.5h0.9v0.9h-0.9zM187.4,165.4h0.9v0.9h-0.9zM199.8,163.4h0.9v0.9h-0.9zM190.1,163.3h0.9v0.9h-0.9zM199.9,163.2h0.9v0.9h-0.9zM194.4,169.9h0.9v0.9h-0.9zM196.9,159.6h0.9v0.9h-0.9zM193.7,166.9h0.9v0.9h-0.9zM197.2,159.5h0.9v0.9h-0.9zM188.5,166.3h0.9v0.9h-0.9zM192.4,161.4h0.9v0.9h-0.9zM188.4,167.5h0.9v0.9h-0.9zM196.6,163.5h0.9v0.9h-0.9zM198.6,161.5h0.9v0.9h-0.9zM201.9,171.7h0.9v0.9h-0.9zM191.7,165.1h0.9v0.9h-0.9zM191.4,167.0h0.9v0.9h-0.9zM194.1,167.0h0.9v0.9h-0.9zM196.2,168.2h0.9v0.9h-0.9zM190.5,168.2h0.9v0.9h-0.9zM201.8,164.6h0.9v0.9h-0.9zM187.7,168.3h0.9v0.9h-0.9zM203.4,162.2h0.9v0.9h-0.9zM195.8,163.9h0.9v0.9h-0.9zM193.4,165.6h0.9v0.9h-0.9zM192.4,164.0h0.9v0.9h-0.9zM194.3,168.5h0.9v0.9h-0.9zM193.9,164.4h0.9v0.9h-0.9zM196.8,163.4h0.9v0.9h-0.9zM193.3,160.2h0.9v0.9h-0.9zM195.8,166.7h0.9v0.9h-0.9zM195.0,161.0h0.9v0.9h-0.9zM197.2,167.7h0.9v0.9h-0.9zM199.4,159.0h0.9v0.9h-0.9zM190.0,160.4h0.9v0.9h-0.9zM192.5,165.2h0.9v0.9h-0.9zM188.9,161.4h0.9v0.9h-0.9zM200.1,163.4h0.9v0.9h-0.9zM186.7,162.9h0.9v0.9h-0.9zM192.1,166.8h0.9v0.9h-0.9zM186.7,165.2h0.9v0.9h-0.9zM190.4,165.0h0.9v0.9h-0.9zM194.4,164.6h0.9v0.9h-0.9zM189.0,154.1h0.9v0.9h-0.9zM192.6,160.1h0.9v0.9h-0.9zM190.9,157.3h0.9v0.9h-0.9zM192.8,171.2h0.9v0.9h-0.9zM189.9,167.6h0.9v0.9h-0.9zM190.2,174.9h0.9v0.9h-0.9zM187.3,164.0h0.9v0.9h-0.9zM195.0,166.0h0.9v0.9h-0.9zM188.8,170.2h0.9v0.9h-0.9zM193.7,163.4h0.9v0.9h-0.9zM199.2,166.5h0.9v0.9h-0.9zM192.1,162.0h0.9v0.9h-0.9zM194.0,171.1h0.9v0.9h-0.9zM187.7,164.2h0.9v0.9h-0.9zM191.9,163.9h0.9v0.9h-0.9zM188.6,169.8h0.9v0.9h-0.9zM191.9,164.5h0.9v0.9h-0.9zM194.7,163.3h0.9v0.9h-0.9z" fill="#e2431c"/>
<path d="M196.7,169.1h0.9v0.9h-0.9zM195.5,165.4h0.9v0.9h-0.9zM193.3,166.4h0.9v0.9h-0.9zM193.1,165.2h0.9v0.9h-0.9zM193.1,160.4h0.9v0.9h-0.9zM187.4,165.2h0.9v0.9h-0.9zM190.0,164.0h0.9v0.9h-0.9zM188.4,164.0h0.9v0.9h-0.9zM189.5,162.6h0.9v0.9h-0.9zM188.5,164.7h0.9v0.9h-0.9zM189.6,162.2h0.9v0.9h-0.9zM187.3,163.6h0.9v0.9h-0.9zM187.4,168.9h0.9v0.9h-0.9zM188.9,164.6h0.9v0.9h-0.9zM188.2,167.3h0.9v0.9h-0.9zM193.6,167.2h0.9v0.9h-0.9zM184.1,160.8h0.9v0.9h-0.9zM189.5,164.1h0.9v0.9h-0.9zM192.7,160.2h0.9v0.9h-0.9zM187.2,163.1h0.9v0.9h-0.9zM189.2,163.8h0.9v0.9h-0.9zM190.0,166.9h0.9v0.9h-0.9zM188.5,159.8h0.9v0.9h-0.9zM188.3,165.3h0.9v0.9h-0.9zM188.4,167.5h0.9v0.9h-0.9zM189.7,169.2h0.9v0.9h-0.9zM193.1,163.1h0.9v0.9h-0.9zM186.7,163.6h0.9v0.9h-0.9zM196.3,165.7h0.9v0.9h-0.9zM192.6,161.4h0.9v0.9h-0.9zM188.4,164.2h0.9v0.9h-0.9zM189.3,164.1h0.9v0.9h-0.9zM192.9,166.2h0.9v0.9h-0.9zM189.5,163.8h0.9v0.9h-0.9zM190.1,162.9h0.9v0.9h-0.9zM190.3,163.6h0.9v0.9h-0.9zM194.6,161.6h0.9v0.9h-0.9zM191.1,163.9h0.9v0.9h-0.9zM187.6,162.3h0.9v0.9h-0.9zM194.4,165.0h0.9v0.9h-0.9z" fill="#f0823a"/>
<path d="M189.4,167.6h0.9v0.9h-0.9zM188.9,165.4h0.9v0.9h-0.9zM188.3,166.2h0.9v0.9h-0.9zM189.5,167.6h0.9v0.9h-0.9zM187.9,167.5h0.9v0.9h-0.9zM190.3,165.3h0.9v0.9h-0.9z" fill="#e6b83a"/>
<path d="M205.3,175.7h0.6v0.6h-0.6zM203.4,177.3h0.6v0.6h-0.6zM201.6,167.1h0.6v0.6h-0.6zM205.8,179.4h0.6v0.6h-0.6zM200.7,177.1h0.6v0.6h-0.6zM206.6,167.5h0.6v0.6h-0.6zM207.3,182.9h0.6v0.6h-0.6zM204.7,169.6h0.6v0.6h-0.6zM204.8,171.3h0.6v0.6h-0.6zM205.0,168.0h0.6v0.6h-0.6zM200.1,185.5h0.6v0.6h-0.6zM205.9,180.6h0.6v0.6h-0.6z" fill="#ffffff"/>
<path d="M216.2,129.9C216.7,129.3 219.9,130.6 221.4,131.4C222.9,132.2 224.2,133.6 225.0,135.0C225.8,136.4 227.0,139.1 226.5,140.1C226.0,141.1 223.3,141.8 222.0,140.9C220.7,140.1 219.4,136.8 218.4,135.0C217.4,133.2 215.7,130.5 216.2,129.9Z" fill="#66f582" />
<path d="M149.1,176.6C149.9,175.9 152.6,175.3 154.2,175.2C155.8,175.1 158.3,175.2 158.9,175.9C159.5,176.6 158.8,178.8 157.8,179.6C156.8,180.4 154.1,181.0 152.7,181.0C151.2,181.0 149.7,180.3 149.1,179.6C148.5,178.9 148.2,177.3 149.1,176.6Z" fill="#66f582" />
<rect x="223.2" y="163" width="2" height="1.6" fill="#7a1f1f"/>
<path d="M82.3,190.9C82.8,189.2 84.0,185.2 85.4,184.7C86.8,184.2 87.8,186.9 90.5,187.8C93.2,188.7 98.1,188.9 101.7,189.9C105.3,190.9 108.6,192.0 112.0,193.9C115.4,195.8 119.7,198.7 122.2,201.1C124.8,203.5 126.6,206.0 127.3,208.2C128.0,210.4 127.8,212.7 126.3,214.4C124.8,216.1 121.2,218.0 118.1,218.5C115.0,219.0 111.3,218.4 107.9,217.4C104.5,216.4 101.1,214.7 97.7,212.3C94.3,209.9 90.0,206.0 87.4,203.1C84.8,200.2 83.2,197.0 82.3,195.0C81.4,193.0 81.8,192.6 82.3,190.9Z" fill="#55a4f7" />
<path d="M82.3,192 L83.5,182.5 L88,187 Z" fill="#bcf43e"/>
<path d="M108.0,189.0C108.2,188.4 110.5,187.4 112.0,186.5C113.5,185.6 116.1,183.6 116.8,183.7C117.5,183.8 117.0,186.0 116.0,187.0C115.0,188.0 112.3,189.6 111.0,189.9C109.7,190.2 107.8,189.6 108.0,189.0Z" fill="#55a4f7" />
<rect x="114.5" y="184" width="2" height="2" fill="#6fe9d6"/><rect x="99.5" y="186.5" width="1.3" height="1.3" fill="#e2431c"/><rect x="120.5" y="201" width="1.3" height="1.3" fill="#f0823a"/>
<path d="M100.4,199.7h0.6v0.6h-0.6zM110.7,207.6h0.6v0.6h-0.6zM99.2,207.1h0.6v0.6h-0.6zM109.8,203.5h0.6v0.6h-0.6zM90.7,196.4h0.6v0.6h-0.6zM103.9,204.9h0.6v0.6h-0.6zM106.5,207.1h0.6v0.6h-0.6zM100.5,211.4h0.6v0.6h-0.6zM93.0,196.7h0.6v0.6h-0.6zM83.1,202.3h0.6v0.6h-0.6zM110.9,200.3h0.6v0.6h-0.6zM106.8,198.3h0.6v0.6h-0.6zM90.8,203.7h0.6v0.6h-0.6zM94.7,208.6h0.6v0.6h-0.6z" fill="#ffffff"/>
<path d="M43.1,168.6V214.4H89" stroke="#222" stroke-width="0.9" fill="none"/><path d="M41.2,171.5L43.1,167.6L45,171.5Z M86.5,212.5L90.3,214.4L86.5,216.3Z" fill="#222"/>
<text x="48.5" y="227.1" font-size="9.6" fill="#222">UMAP1</text>
<text transform="translate(34.6,211.3) rotate(-90)" font-size="9.6" fill="#222">UMAP2</text></g>
<g id="pb"><path d="M167.4,295.1L167.40,276.86A25.75,25.75 0 1 1 184.60,301.15Z" fill="#150709" stroke="#fff" stroke-width="0.35"/>
<path d="M167.4,295.1L201.44,307.07A17.29,17.29 0 1 1 179.40,329.13Z" fill="#cdf66e" stroke="#fff" stroke-width="0.35"/>
<path d="M167.4,295.1L178.96,327.87A18.11,18.11 0 1 1 147.15,323.34Z" fill="#1818f7" stroke="#fff" stroke-width="0.35"/>
<path d="M167.4,295.1L145.00,326.34A15.76,15.76 0 1 1 129.52,301.63Z" fill="#1e4a3a" stroke="#fff" stroke-width="0.35"/>
<path d="M167.4,295.1L122.96,302.76A10.91,10.91 0 1 1 124.38,281.60Z" fill="#cfa731" stroke="#fff" stroke-width="0.35"/>
<path d="M167.4,295.1L123.95,281.47A10.56,10.56 0 1 1 134.38,263.74Z" fill="#a8ba2c" stroke="#fff" stroke-width="0.35"/>
<path d="M167.4,295.1L133.28,262.71A9.34,9.34 0 1 1 148.24,252.13Z" fill="#7ffcfc" stroke="#fff" stroke-width="0.35"/>
<path d="M167.4,295.1L146.49,248.20A5.64,5.64 0 1 1 157.17,244.78Z" fill="#fc2010" stroke="#fff" stroke-width="0.35"/>
<path d="M167.4,295.1L156.64,242.22A3.24,3.24 0 1 1 163.04,241.31Z" fill="#7df6d6" stroke="#fff" stroke-width="0.35"/>
<path d="M167.4,295.1L162.96,240.25A2.22,2.22 0 1 1 167.40,240.07Z" fill="#b43c18" stroke="#fff" stroke-width="0.35"/>
<text x="158.6" y="234.5" font-size="4.75" text-anchor="end" fill="#3c3c3c" stroke="#3c3c3c" stroke-width="0.12">Podocyte (n=1941 , 1%)</text>
<path d="M159.6,232.6L165,232.6L165,238" stroke="#b43c18" stroke-width="0.5" fill="none"/>
<text x="136.2" y="240.6" font-size="4.75" text-anchor="end" fill="#3c3c3c" stroke="#3c3c3c" stroke-width="0.12">CDC cell (n=2878 , 2%)</text>
<path d="M137.2,238.7L156,238.7L160,239.5" stroke="#7df6d6" stroke-width="0.5" fill="none"/>
<text x="126" y="246.3" font-size="4.75" text-anchor="end" fill="#3c3c3c" stroke="#3c3c3c" stroke-width="0.12">Smooth muscle cell (n=5255 , 3%)</text>
<path d="M127.5,244.8L146.5,241" stroke="#fc2010" stroke-width="0.5" fill="none"/>
<text x="119.3" y="252.0" font-size="4.75" text-anchor="end" fill="#3c3c3c" stroke="#3c3c3c" stroke-width="0.12">MP cell (n=9411 , 6%)</text>
<path d="M120.3,250.5L132.5,247.9" stroke="#7ffcfc" stroke-width="0.5" fill="none"/>
<text x="108.7" y="265.09999999999997" font-size="4.75" text-anchor="end" fill="#3c3c3c" stroke="#3c3c3c" stroke-width="0.12">Proliferative cell (n=10941 , 7%)</text>
<path d="M110,263.2L115.8,263.2L118.5,265.5" stroke="#a8ba2c" stroke-width="0.5" fill="none"/>
<text x="100" y="292.7" font-size="4.75" text-anchor="end" fill="#3c3c3c" stroke="#3c3c3c" stroke-width="0.12">Endothelial cell (n=11401 , 8%)</text>
<path d="M101,290.8L110,290.8" stroke="#cfa731" stroke-width="0.5" fill="none"/>
<text x="109.5" y="330.09999999999997" font-size="4.75" text-anchor="end" fill="#3c3c3c" stroke="#3c3c3c" stroke-width="0.12">Loop of Henle cell (n=18687 , 12%)</text>
<path d="M110.5,328.2L116.4,327.2L119.4,324" stroke="#1e4a3a" stroke-width="0.5" fill="none"/>
<text x="152.5" y="358.2" font-size="4.75" text-anchor="end" fill="#3c3c3c" stroke="#3c3c3c" stroke-width="0.12">GPC cell (n=23079 , 15%)</text>
<path d="M153.5,356.8L159.3,355.8L159.3,351.7" stroke="#1818f7" stroke-width="0.5" fill="none"/>
<text x="218.2" y="341.4" font-size="4.75" text-anchor="start" fill="#3c3c3c" stroke="#3c3c3c" stroke-width="0.12">PT cell (n=21462 , 14%)</text>
<path d="M217.2,339.3L214.5,338.5L209.5,335.4" stroke="#cdf66e" stroke-width="0.5" fill="none"/>
<text x="178.7" y="247.0" font-size="4.75" text-anchor="start" fill="#3c3c3c" stroke="#3c3c3c" stroke-width="0.12">Renal corpusle cell (n=45849 , 30%)</text>
<path d="M215.6,261.6L216.4,260.3" stroke="#150709" stroke-width="0.5" fill="none"/></g>
<g id="pc"><rect x="279.5" y="20.5" width="403.0" height="309.8" fill="#fff" stroke="#b4b4b4" stroke-width="1"/>
<path d="M380,20.5V330.3" stroke="#d4d4d8" stroke-width="1"/>
<path d="M480.5,20.5V330.3" stroke="#d4d4d8" stroke-width="1"/>
<path d="M581.3,20.5V330.3" stroke="#d4d4d8" stroke-width="1"/>
<path d="M279.5,122.3H682.5" stroke="#d4d4d8" stroke-width="1"/>
<path d="M279.5,226.2H682.5" stroke="#d4d4d8" stroke-width="1"/>
<text x="332.5" y="14.8" font-size="9.45" letter-spacing="0.21" text-anchor="middle" fill="#1a1a1a">Renal corpusle cell</text>
<text x="423" y="14.8" font-size="9.45" letter-spacing="0.21" text-anchor="middle" fill="#1a1a1a">PT cell</text>
<text x="521" y="14.8" font-size="9.45" letter-spacing="0.21" text-anchor="middle" fill="#1a1a1a">GPC cell</text>
<text x="630" y="14.8" font-size="9.45" letter-spacing="0.21" text-anchor="middle" fill="#1a1a1a">Loop of Henle cell</text>
<text x="375.5" y="120.3" font-size="9.45" letter-spacing="0.21" text-anchor="end" fill="#1a1a1a">Endothelial cell</text>
<text x="473.5" y="120.3" font-size="9.45" letter-spacing="0.21" text-anchor="end" fill="#1a1a1a">Proliferative cell</text>
<text x="528.5" y="120.3" font-size="9.45" letter-spacing="0.21" text-anchor="middle" fill="#1a1a1a">MP cell</text>
<text x="672.3" y="120.3" font-size="9.45" letter-spacing="0.21" text-anchor="end" fill="#1a1a1a">Smooth muscle cell</text>
<text x="366.8" y="241.2" font-size="9.45" letter-spacing="0.21" text-anchor="end" fill="#1a1a1a">CDC cell</text>
<text x="405.3" y="241.2" font-size="9.45" letter-spacing="0.21" text-anchor="start" fill="#1a1a1a">Podocyte</text>
<path d="M306.1,65.1C306.4,62.9 306.8,60.0 308.4,57.5C310.0,55.0 313.5,52.4 316.0,49.9C318.5,47.4 321.2,44.8 323.5,42.3C325.8,39.8 328.0,36.1 329.6,34.7C331.2,33.4 332.5,32.9 333.4,34.2C334.3,35.5 334.4,39.4 334.9,42.3C335.4,45.2 335.2,49.6 336.4,51.4C337.5,53.2 340.4,53.4 341.8,52.9C343.2,52.4 343.5,48.9 344.8,48.4C346.1,47.9 348.3,48.4 349.4,49.9C350.5,51.4 352.1,56.0 351.6,57.5C351.1,59.0 347.9,58.2 346.3,59.0C344.7,59.8 343.5,62.0 341.8,62.0C340.1,62.0 338.2,58.8 336.4,59.0C334.6,59.2 333.0,61.7 331.1,63.5C329.2,65.3 326.2,67.3 325.1,69.6C324.0,71.9 324.9,75.5 324.3,77.2C323.7,78.9 322.3,80.0 321.3,79.5C320.3,79.0 319.9,75.2 318.2,74.2C316.5,73.2 313.3,74.0 311.4,73.4C309.5,72.8 307.7,71.8 306.8,70.4C305.9,69.0 305.8,67.2 306.1,65.1Z" fill="#2a0f4f" /><path d="M327.5,37.3h0.75v0.75h-0.75zM342.5,61.7h0.75v0.75h-0.75zM330.3,34.9h0.75v0.75h-0.75zM321.9,78.7h0.75v0.75h-0.75zM339.9,61.6h0.75v0.75h-0.75zM335.6,58.9h0.75v0.75h-0.75zM333.8,36.8h0.75v0.75h-0.75zM330.5,63.9h0.75v0.75h-0.75zM335.9,51.2h0.75v0.75h-0.75zM319.0,74.8h0.75v0.75h-0.75zM306.7,70.1h0.75v0.75h-0.75zM349.2,51.1h0.75v0.75h-0.75zM347.0,58.7h0.75v0.75h-0.75zM319.0,78.3h0.75v0.75h-0.75zM319.5,77.5h0.75v0.75h-0.75zM330.9,63.2h0.75v0.75h-0.75zM333.7,33.9h0.75v0.75h-0.75zM312.0,53.5h0.75v0.75h-0.75zM334.0,35.8h0.75v0.75h-0.75zM342.9,60.5h0.75v0.75h-0.75zM316.3,75.1h0.75v0.75h-0.75zM333.8,38.3h0.75v0.75h-0.75zM323.9,41.8h0.75v0.75h-0.75zM307.3,59.5h0.75v0.75h-0.75zM315.9,73.9h0.75v0.75h-0.75zM339.0,60.5h0.75v0.75h-0.75zM309.5,72.5h0.75v0.75h-0.75zM328.3,37.1h0.75v0.75h-0.75zM350.7,57.0h0.75v0.75h-0.75zM306.9,62.1h0.75v0.75h-0.75zM341.5,61.5h0.75v0.75h-0.75zM331.9,63.2h0.75v0.75h-0.75zM335.8,61.0h0.75v0.75h-0.75zM345.7,59.3h0.75v0.75h-0.75zM335.6,47.4h0.75v0.75h-0.75zM324.3,70.0h0.75v0.75h-0.75zM334.0,38.2h0.75v0.75h-0.75zM322.9,42.9h0.75v0.75h-0.75zM334.5,39.9h0.75v0.75h-0.75zM320.4,78.1h0.75v0.75h-0.75zM318.1,74.2h0.75v0.75h-0.75zM350.5,53.5h0.75v0.75h-0.75zM322.8,43.1h0.75v0.75h-0.75zM324.5,75.5h0.75v0.75h-0.75zM324.3,73.7h0.75v0.75h-0.75zM339.8,52.4h0.75v0.75h-0.75zM306.2,63.6h0.75v0.75h-0.75zM341.3,52.4h0.75v0.75h-0.75zM327.6,67.1h0.75v0.75h-0.75zM333.4,35.3h0.75v0.75h-0.75zM346.5,58.7h0.75v0.75h-0.75zM315.7,73.7h0.75v0.75h-0.75zM316.3,73.9h0.75v0.75h-0.75zM321.2,44.4h0.75v0.75h-0.75zM338.8,51.2h0.75v0.75h-0.75zM328.3,35.1h0.75v0.75h-0.75zM334.5,44.5h0.75v0.75h-0.75zM321.5,44.2h0.75v0.75h-0.75zM323.1,77.0h0.75v0.75h-0.75zM308.5,58.3h0.75v0.75h-0.75zM340.1,52.5h0.75v0.75h-0.75zM309.0,57.5h0.75v0.75h-0.75zM306.5,69.1h0.75v0.75h-0.75zM333.9,39.6h0.75v0.75h-0.75zM346.8,58.9h0.75v0.75h-0.75zM316.1,49.6h0.75v0.75h-0.75zM311.3,55.0h0.75v0.75h-0.75zM324.8,71.4h0.75v0.75h-0.75zM340.9,53.0h0.75v0.75h-0.75zM339.6,52.3h0.75v0.75h-0.75zM351.2,55.0h0.75v0.75h-0.75zM341.0,52.0h0.75v0.75h-0.75zM316.0,74.5h0.75v0.75h-0.75zM315.5,49.1h0.75v0.75h-0.75zM324.7,72.9h0.75v0.75h-0.75zM314.0,52.0h0.75v0.75h-0.75zM324.8,70.6h0.75v0.75h-0.75zM319.3,74.6h0.75v0.75h-0.75zM315.3,49.3h0.75v0.75h-0.75zM308.4,71.3h0.75v0.75h-0.75zM325.1,69.3h0.75v0.75h-0.75zM327.9,68.1h0.75v0.75h-0.75zM350.2,58.4h0.75v0.75h-0.75zM328.9,35.3h0.75v0.75h-0.75zM335.3,47.2h0.75v0.75h-0.75zM312.1,54.2h0.75v0.75h-0.75zM326.9,66.7h0.75v0.75h-0.75zM335.0,59.7h0.75v0.75h-0.75zM316.6,74.0h0.75v0.75h-0.75zM312.8,73.7h0.75v0.75h-0.75zM323.0,43.6h0.75v0.75h-0.75zM333.8,38.4h0.75v0.75h-0.75zM333.4,36.5h0.75v0.75h-0.75zM347.0,58.6h0.75v0.75h-0.75zM346.3,49.3h0.75v0.75h-0.75zM335.3,40.8h0.75v0.75h-0.75zM345.7,49.0h0.75v0.75h-0.75zM323.4,77.5h0.75v0.75h-0.75zM320.3,76.9h0.75v0.75h-0.75zM344.9,49.3h0.75v0.75h-0.75zM336.0,60.4h0.75v0.75h-0.75zM323.5,43.3h0.75v0.75h-0.75zM319.7,78.4h0.75v0.75h-0.75zM334.1,38.7h0.75v0.75h-0.75zM312.4,53.2h0.75v0.75h-0.75zM348.0,58.7h0.75v0.75h-0.75zM342.1,53.1h0.75v0.75h-0.75zM308.0,71.0h0.75v0.75h-0.75zM332.7,34.7h0.75v0.75h-0.75zM314.7,73.3h0.75v0.75h-0.75zM325.1,70.7h0.75v0.75h-0.75zM337.8,60.6h0.75v0.75h-0.75zM307.1,70.7h0.75v0.75h-0.75zM348.1,49.3h0.75v0.75h-0.75zM349.4,57.4h0.75v0.75h-0.75zM321.6,43.4h0.75v0.75h-0.75zM310.9,73.3h0.75v0.75h-0.75zM345.1,59.3h0.75v0.75h-0.75zM334.4,38.9h0.75v0.75h-0.75zM326.5,67.8h0.75v0.75h-0.75zM331.0,34.6h0.75v0.75h-0.75zM349.3,50.1h0.75v0.75h-0.75zM334.1,41.6h0.75v0.75h-0.75zM335.8,44.8h0.75v0.75h-0.75zM313.8,52.1h0.75v0.75h-0.75zM322.4,43.6h0.75v0.75h-0.75zM324.4,76.7h0.75v0.75h-0.75zM336.1,51.6h0.75v0.75h-0.75zM324.5,41.3h0.75v0.75h-0.75zM325.3,74.9h0.75v0.75h-0.75zM351.0,56.7h0.75v0.75h-0.75zM334.1,60.6h0.75v0.75h-0.75zM345.4,60.1h0.75v0.75h-0.75zM336.7,59.2h0.75v0.75h-0.75zM323.9,42.4h0.75v0.75h-0.75zM338.4,60.1h0.75v0.75h-0.75zM317.1,73.4h0.75v0.75h-0.75zM308.5,57.9h0.75v0.75h-0.75zM351.3,55.7h0.75v0.75h-0.75zM333.2,61.3h0.75v0.75h-0.75zM311.6,73.3h0.75v0.75h-0.75zM325.4,75.3h0.75v0.75h-0.75zM326.3,68.4h0.75v0.75h-0.75zM311.5,55.2h0.75v0.75h-0.75zM332.1,62.4h0.75v0.75h-0.75zM333.9,37.2h0.75v0.75h-0.75zM321.7,43.0h0.75v0.75h-0.75zM335.5,47.3h0.75v0.75h-0.75zM306.5,64.6h0.75v0.75h-0.75zM344.2,50.0h0.75v0.75h-0.75zM337.4,52.0h0.75v0.75h-0.75zM321.0,45.1h0.75v0.75h-0.75zM343.1,51.1h0.75v0.75h-0.75zM338.0,51.9h0.75v0.75h-0.75zM326.0,39.5h0.75v0.75h-0.75zM342.1,61.7h0.75v0.75h-0.75zM329.3,64.7h0.75v0.75h-0.75zM311.0,73.1h0.75v0.75h-0.75zM324.3,76.7h0.75v0.75h-0.75zM335.1,61.3h0.75v0.75h-0.75zM307.8,60.9h0.75v0.75h-0.75zM308.7,57.2h0.75v0.75h-0.75zM306.9,68.4h0.75v0.75h-0.75zM310.0,72.6h0.75v0.75h-0.75zM309.1,72.2h0.75v0.75h-0.75zM315.0,51.3h0.75v0.75h-0.75zM311.4,72.6h0.75v0.75h-0.75zM322.4,78.6h0.75v0.75h-0.75zM338.9,52.0h0.75v0.75h-0.75zM331.4,34.3h0.75v0.75h-0.75zM331.0,63.3h0.75v0.75h-0.75zM330.5,63.2h0.75v0.75h-0.75zM334.9,60.4h0.75v0.75h-0.75zM339.6,60.9h0.75v0.75h-0.75zM316.0,74.4h0.75v0.75h-0.75zM310.8,55.4h0.75v0.75h-0.75zM349.7,58.0h0.75v0.75h-0.75zM328.5,37.2h0.75v0.75h-0.75zM346.9,59.3h0.75v0.75h-0.75zM325.6,39.4h0.75v0.75h-0.75zM344.4,60.4h0.75v0.75h-0.75zM322.1,44.1h0.75v0.75h-0.75zM306.5,61.9h0.75v0.75h-0.75zM312.2,54.5h0.75v0.75h-0.75zM343.1,60.6h0.75v0.75h-0.75zM335.0,43.8h0.75v0.75h-0.75zM322.3,78.6h0.75v0.75h-0.75zM350.9,55.3h0.75v0.75h-0.75zM335.4,43.9h0.75v0.75h-0.75zM328.3,65.6h0.75v0.75h-0.75zM325.9,39.9h0.75v0.75h-0.75zM341.3,53.2h0.75v0.75h-0.75zM311.7,72.7h0.75v0.75h-0.75zM343.6,61.4h0.75v0.75h-0.75zM309.0,72.1h0.75v0.75h-0.75zM325.5,70.4h0.75v0.75h-0.75zM334.4,35.6h0.75v0.75h-0.75zM329.4,64.4h0.75v0.75h-0.75zM307.7,59.5h0.75v0.75h-0.75zM335.3,43.2h0.75v0.75h-0.75zM313.9,52.2h0.75v0.75h-0.75zM318.8,45.7h0.75v0.75h-0.75zM305.9,68.4h0.75v0.75h-0.75zM333.7,38.6h0.75v0.75h-0.75zM335.8,46.0h0.75v0.75h-0.75zM317.6,74.6h0.75v0.75h-0.75zM324.4,75.7h0.75v0.75h-0.75zM350.8,55.0h0.75v0.75h-0.75zM325.5,69.8h0.75v0.75h-0.75zM306.9,68.2h0.75v0.75h-0.75zM341.8,53.1h0.75v0.75h-0.75zM313.0,53.7h0.75v0.75h-0.75zM339.7,52.6h0.75v0.75h-0.75zM342.0,61.6h0.75v0.75h-0.75zM328.9,35.5h0.75v0.75h-0.75zM349.8,50.8h0.75v0.75h-0.75zM320.7,44.7h0.75v0.75h-0.75zM314.5,73.1h0.75v0.75h-0.75zM324.1,76.7h0.75v0.75h-0.75zM320.9,44.1h0.75v0.75h-0.75zM351.0,56.8h0.75v0.75h-0.75zM324.6,74.8h0.75v0.75h-0.75zM333.7,39.4h0.75v0.75h-0.75zM323.5,78.5h0.75v0.75h-0.75zM348.3,58.3h0.75v0.75h-0.75zM332.1,64.0h0.75v0.75h-0.75zM336.3,47.0h0.75v0.75h-0.75zM339.7,60.3h0.75v0.75h-0.75zM336.3,49.5h0.75v0.75h-0.75zM308.2,72.5h0.75v0.75h-0.75zM333.4,35.3h0.75v0.75h-0.75zM311.5,54.9h0.75v0.75h-0.75zM350.8,53.1h0.75v0.75h-0.75zM323.8,77.8h0.75v0.75h-0.75zM310.2,55.8h0.75v0.75h-0.75zM351.0,57.2h0.75v0.75h-0.75zM318.3,48.1h0.75v0.75h-0.75zM335.5,59.9h0.75v0.75h-0.75zM326.0,69.0h0.75v0.75h-0.75zM319.5,75.1h0.75v0.75h-0.75zM335.0,49.8h0.75v0.75h-0.75zM333.3,34.7h0.75v0.75h-0.75zM336.0,44.7h0.75v0.75h-0.75z" fill="#2a0f4f"/>
<path d="M294.7,52.9C294.7,51.1 295.9,48.7 297.0,47.6C298.1,46.5 300.0,45.7 301.5,46.1C303.0,46.5 304.9,48.4 306.1,49.9C307.3,51.4 309.1,53.5 308.5,55.0C307.9,56.5 304.2,58.5 302.3,59.0C300.4,59.5 298.3,59.2 297.0,58.2C295.7,57.2 294.7,54.7 294.7,52.9Z" fill="#2a0f4f" /><path d="M294.2,55.9h0.75v0.75h-0.75zM304.5,48.0h0.75v0.75h-0.75zM302.7,48.2h0.75v0.75h-0.75zM299.7,58.7h0.75v0.75h-0.75zM306.8,51.1h0.75v0.75h-0.75zM307.3,56.5h0.75v0.75h-0.75zM295.1,54.6h0.75v0.75h-0.75zM299.7,47.1h0.75v0.75h-0.75zM297.6,57.6h0.75v0.75h-0.75zM299.2,59.7h0.75v0.75h-0.75zM300.4,58.4h0.75v0.75h-0.75zM297.0,47.9h0.75v0.75h-0.75zM304.7,49.5h0.75v0.75h-0.75zM294.7,53.5h0.75v0.75h-0.75zM303.0,46.1h0.75v0.75h-0.75zM307.6,53.7h0.75v0.75h-0.75zM302.5,46.1h0.75v0.75h-0.75zM309.0,54.3h0.75v0.75h-0.75zM307.0,51.3h0.75v0.75h-0.75zM297.9,58.7h0.75v0.75h-0.75zM306.0,48.6h0.75v0.75h-0.75zM308.1,55.7h0.75v0.75h-0.75zM302.6,58.9h0.75v0.75h-0.75zM305.4,49.4h0.75v0.75h-0.75zM307.0,55.9h0.75v0.75h-0.75zM306.2,56.4h0.75v0.75h-0.75zM301.4,46.8h0.75v0.75h-0.75zM308.7,54.1h0.75v0.75h-0.75zM296.2,56.0h0.75v0.75h-0.75zM296.2,57.4h0.75v0.75h-0.75zM302.4,46.7h0.75v0.75h-0.75zM296.4,49.9h0.75v0.75h-0.75zM298.0,58.4h0.75v0.75h-0.75zM307.5,53.5h0.75v0.75h-0.75zM306.8,51.1h0.75v0.75h-0.75zM296.2,48.9h0.75v0.75h-0.75zM295.8,50.6h0.75v0.75h-0.75zM296.0,57.2h0.75v0.75h-0.75zM307.5,56.5h0.75v0.75h-0.75zM296.8,49.7h0.75v0.75h-0.75zM308.3,54.4h0.75v0.75h-0.75zM307.3,52.0h0.75v0.75h-0.75zM294.7,53.6h0.75v0.75h-0.75zM303.3,47.0h0.75v0.75h-0.75zM305.9,55.9h0.75v0.75h-0.75zM297.0,58.5h0.75v0.75h-0.75zM306.6,51.6h0.75v0.75h-0.75zM299.9,46.3h0.75v0.75h-0.75zM296.3,56.2h0.75v0.75h-0.75zM295.0,51.9h0.75v0.75h-0.75zM297.8,58.2h0.75v0.75h-0.75zM298.4,47.8h0.75v0.75h-0.75zM303.9,48.8h0.75v0.75h-0.75zM307.6,55.0h0.75v0.75h-0.75zM304.4,58.2h0.75v0.75h-0.75zM305.4,49.4h0.75v0.75h-0.75zM306.6,50.8h0.75v0.75h-0.75zM307.5,53.7h0.75v0.75h-0.75zM303.9,57.1h0.75v0.75h-0.75zM305.1,47.1h0.75v0.75h-0.75zM302.5,58.2h0.75v0.75h-0.75zM296.7,48.6h0.75v0.75h-0.75zM308.4,54.8h0.75v0.75h-0.75zM307.4,56.2h0.75v0.75h-0.75zM300.7,59.3h0.75v0.75h-0.75z" fill="#2a0f4f"/>
<path d="M305.3,46.8C304.9,45.5 305.7,44.0 306.8,43.0C307.9,42.0 310.9,41.2 312.2,41.1C313.5,41.0 314.6,41.2 314.8,42.3C315.1,43.4 314.6,46.2 313.7,47.6C312.8,49.0 310.5,50.7 309.1,50.6C307.7,50.5 305.7,48.1 305.3,46.8Z" fill="#2a0f4f" /><path d="M308.3,49.1h0.75v0.75h-0.75zM311.0,49.4h0.75v0.75h-0.75zM310.5,49.2h0.75v0.75h-0.75zM309.5,41.7h0.75v0.75h-0.75zM306.3,44.3h0.75v0.75h-0.75zM307.8,43.1h0.75v0.75h-0.75zM314.0,46.3h0.75v0.75h-0.75zM308.5,42.6h0.75v0.75h-0.75zM315.1,45.0h0.75v0.75h-0.75zM313.6,42.4h0.75v0.75h-0.75zM307.0,47.7h0.75v0.75h-0.75zM314.8,42.4h0.75v0.75h-0.75zM314.0,46.3h0.75v0.75h-0.75zM305.4,46.6h0.75v0.75h-0.75zM306.2,43.9h0.75v0.75h-0.75zM315.5,43.5h0.75v0.75h-0.75zM307.4,43.1h0.75v0.75h-0.75zM313.2,40.8h0.75v0.75h-0.75zM312.2,48.3h0.75v0.75h-0.75zM314.1,45.4h0.75v0.75h-0.75zM307.7,43.2h0.75v0.75h-0.75zM315.5,44.0h0.75v0.75h-0.75zM312.5,41.6h0.75v0.75h-0.75zM307.6,48.9h0.75v0.75h-0.75zM310.9,49.2h0.75v0.75h-0.75zM314.1,45.2h0.75v0.75h-0.75zM306.9,43.0h0.75v0.75h-0.75zM305.7,46.4h0.75v0.75h-0.75zM316.1,43.0h0.75v0.75h-0.75zM311.6,49.0h0.75v0.75h-0.75zM307.5,43.0h0.75v0.75h-0.75zM306.2,46.9h0.75v0.75h-0.75zM309.1,50.1h0.75v0.75h-0.75zM309.2,42.0h0.75v0.75h-0.75zM309.5,42.4h0.75v0.75h-0.75zM313.8,46.0h0.75v0.75h-0.75zM305.8,46.4h0.75v0.75h-0.75zM313.8,45.6h0.75v0.75h-0.75zM312.6,48.3h0.75v0.75h-0.75zM311.6,41.4h0.75v0.75h-0.75zM305.4,43.7h0.75v0.75h-0.75zM314.7,42.3h0.75v0.75h-0.75zM314.2,39.5h0.75v0.75h-0.75zM314.6,43.3h0.75v0.75h-0.75zM306.0,46.5h0.75v0.75h-0.75zM308.0,50.0h0.75v0.75h-0.75z" fill="#2a0f4f"/>
<path d="M334.2,84.8C335.6,83.9 336.7,81.3 338.0,81.8C339.3,82.3 341.4,85.8 341.8,87.8C342.2,89.8 341.1,92.6 340.2,93.9C339.3,95.2 337.5,95.9 336.4,95.4C335.3,94.9 334.5,92.3 333.4,90.9C332.3,89.5 329.5,88.1 329.6,87.1C329.7,86.1 332.8,85.7 334.2,84.8Z" fill="#2a0f4f" /><path d="M341.5,87.9h0.75v0.75h-0.75zM338.8,82.4h0.75v0.75h-0.75zM335.0,83.2h0.75v0.75h-0.75zM333.0,90.0h0.75v0.75h-0.75zM335.5,93.4h0.75v0.75h-0.75zM333.5,85.9h0.75v0.75h-0.75zM331.6,85.8h0.75v0.75h-0.75zM340.9,90.6h0.75v0.75h-0.75zM341.8,87.8h0.75v0.75h-0.75zM340.2,85.7h0.75v0.75h-0.75zM332.8,85.9h0.75v0.75h-0.75zM335.8,83.4h0.75v0.75h-0.75zM340.3,85.8h0.75v0.75h-0.75zM339.5,93.8h0.75v0.75h-0.75zM341.9,88.9h0.75v0.75h-0.75zM332.8,89.8h0.75v0.75h-0.75zM339.8,85.3h0.75v0.75h-0.75zM335.4,93.9h0.75v0.75h-0.75zM339.8,93.8h0.75v0.75h-0.75zM339.1,83.9h0.75v0.75h-0.75zM331.8,86.2h0.75v0.75h-0.75zM333.1,92.3h0.75v0.75h-0.75zM330.3,86.4h0.75v0.75h-0.75zM342.0,86.8h0.75v0.75h-0.75zM338.3,82.3h0.75v0.75h-0.75zM341.8,87.8h0.75v0.75h-0.75zM334.1,84.0h0.75v0.75h-0.75zM334.0,85.7h0.75v0.75h-0.75zM340.4,85.6h0.75v0.75h-0.75zM330.8,86.9h0.75v0.75h-0.75zM337.6,95.0h0.75v0.75h-0.75zM342.3,87.0h0.75v0.75h-0.75zM331.1,88.3h0.75v0.75h-0.75zM339.9,81.8h0.75v0.75h-0.75zM337.1,94.8h0.75v0.75h-0.75zM330.9,87.3h0.75v0.75h-0.75zM339.9,84.3h0.75v0.75h-0.75zM336.9,82.0h0.75v0.75h-0.75zM334.9,93.3h0.75v0.75h-0.75zM336.8,94.8h0.75v0.75h-0.75zM338.9,83.5h0.75v0.75h-0.75zM337.7,94.9h0.75v0.75h-0.75zM339.5,94.4h0.75v0.75h-0.75zM340.2,94.2h0.75v0.75h-0.75zM339.5,93.7h0.75v0.75h-0.75zM341.0,90.1h0.75v0.75h-0.75zM337.4,94.8h0.75v0.75h-0.75zM340.7,94.5h0.75v0.75h-0.75zM337.6,82.2h0.75v0.75h-0.75zM339.9,86.2h0.75v0.75h-0.75zM329.9,87.9h0.75v0.75h-0.75zM340.9,89.9h0.75v0.75h-0.75zM333.2,90.6h0.75v0.75h-0.75zM330.5,87.3h0.75v0.75h-0.75zM337.2,82.7h0.75v0.75h-0.75zM335.1,93.2h0.75v0.75h-0.75zM335.6,83.9h0.75v0.75h-0.75zM333.3,91.3h0.75v0.75h-0.75zM334.4,91.9h0.75v0.75h-0.75zM333.1,85.5h0.75v0.75h-0.75zM329.8,87.5h0.75v0.75h-0.75z" fill="#2a0f4f"/>
<path d="M318.2,26.8h1.5v1.1h-1.5zM290.8,37.0h1.1v1.5h-1.1zM290.8,40.0h1.1v1.1h-1.1zM361.6,42.8h1.5v1.5h-1.5zM339.8,39.5h0.9v0.9h-0.9zM338.2,44.8h0.9v0.9h-0.9zM347.3,65.8h1.0v1.5h-1.0zM352.7,64.6h0.9v0.9h-0.9zM359.2,78.2h0.9v0.9h-0.9zM296.9,77.2h1.5v1.5h-1.5zM296.6,81.3h0.9v0.9h-0.9zM294.6,74.0h0.9v0.9h-0.9zM311.8,102.8h0.9v0.9h-0.9zM297.8,108.6h1.5v0.9h-1.5zM300.1,110.1h1.5v0.9h-1.5zM303.4,113.5h0.9v0.9h-0.9zM345.6,94.2h1.5v0.5h-1.5zM352.4,92.3h1.5v1.5h-1.5zM354.2,96.5h0.9v0.9h-0.9zM336.6,35.5h0.9v0.9h-0.9zM338.1,46.5h0.9v0.9h-0.9zM342.2,62.2h1.5v1.5h-1.5zM345.2,60.5h1.5v1.0h-1.5zM306.8,52.2h1.5v1.5h-1.5z" fill="#2a0f4f" stroke="#2a0f4f" stroke-width="0.6" stroke-linejoin="round"/><ellipse cx="365.3" cy="44.6" rx="1.0" ry="1.5" fill="#2a0f4f"/><path d="M366.3,41.1h0.8v0.8h-0.8zM365.3,44.0h0.8v0.8h-0.8zM365.1,42.4h0.8v0.8h-0.8zM365.7,41.4h0.8v0.8h-0.8zM365.2,44.5h0.8v0.8h-0.8zM366.1,43.5h0.8v0.8h-0.8zM366.6,43.2h0.8v0.8h-0.8zM364.6,41.6h0.8v0.8h-0.8zM364.7,43.6h0.8v0.8h-0.8z" fill="#2a0f4f"/><ellipse cx="348.6" cy="72.7" rx="1.1" ry="2.0" fill="#2a0f4f"/><path d="M347.6,71.4h0.8v0.8h-0.8zM347.3,70.6h0.8v0.8h-0.8zM347.9,73.2h0.8v0.8h-0.8zM347.0,71.3h0.8v0.8h-0.8zM348.0,69.4h0.8v0.8h-0.8zM348.3,73.3h0.8v0.8h-0.8zM349.2,73.8h0.8v0.8h-0.8zM348.7,74.1h0.8v0.8h-0.8zM348.3,75.1h0.8v0.8h-0.8zM348.3,71.4h0.8v0.8h-0.8zM349.4,72.3h0.8v0.8h-0.8zM349.9,71.3h0.8v0.8h-0.8zM347.6,72.1h0.8v0.8h-0.8zM348.6,71.1h0.8v0.8h-0.8z" fill="#2a0f4f"/><ellipse cx="356.2" cy="66.9" rx="1.2" ry="0.8" fill="#2a0f4f"/><path d="M356.3,66.1h0.8v0.8h-0.8zM354.0,66.6h0.8v0.8h-0.8zM355.5,66.1h0.8v0.8h-0.8zM354.4,66.3h0.8v0.8h-0.8zM355.4,66.4h0.8v0.8h-0.8zM355.6,66.9h0.8v0.8h-0.8z" fill="#2a0f4f"/><ellipse cx="287.9" cy="92.4" rx="1.5" ry="3.0" fill="#2a0f4f"/><path d="M287.1,92.4h0.8v0.8h-0.8zM288.3,91.3h0.8v0.8h-0.8zM288.7,88.6h0.8v0.8h-0.8zM287.6,94.6h0.8v0.8h-0.8zM289.1,89.2h0.8v0.8h-0.8zM286.9,95.8h0.8v0.8h-0.8zM289.2,88.9h0.8v0.8h-0.8zM289.0,91.4h0.8v0.8h-0.8zM287.5,90.6h0.8v0.8h-0.8zM286.7,91.4h0.8v0.8h-0.8zM287.1,95.2h0.8v0.8h-0.8zM286.7,96.0h0.8v0.8h-0.8zM286.9,96.8h0.8v0.8h-0.8zM288.3,88.7h0.8v0.8h-0.8zM288.9,89.2h0.8v0.8h-0.8zM285.2,91.5h0.8v0.8h-0.8zM285.9,95.2h0.8v0.8h-0.8zM287.3,92.7h0.8v0.8h-0.8zM287.3,91.8h0.8v0.8h-0.8zM285.9,91.5h0.8v0.8h-0.8zM288.0,88.0h0.8v0.8h-0.8zM286.3,90.0h0.8v0.8h-0.8zM287.2,88.2h0.8v0.8h-0.8zM290.8,90.9h0.8v0.8h-0.8zM287.9,88.9h0.8v0.8h-0.8zM288.0,93.1h0.8v0.8h-0.8zM287.5,89.7h0.8v0.8h-0.8zM289.4,85.6h0.8v0.8h-0.8z" fill="#2a0f4f"/><ellipse cx="330.4" cy="99.2" rx="1.2" ry="1.0" fill="#2a0f4f"/><path d="M329.7,98.7h0.8v0.8h-0.8zM329.9,99.8h0.8v0.8h-0.8zM330.5,99.1h0.8v0.8h-0.8zM330.0,99.8h0.8v0.8h-0.8zM330.5,99.2h0.8v0.8h-0.8zM331.2,101.0h0.8v0.8h-0.8zM329.8,99.8h0.8v0.8h-0.8zM329.6,97.9h0.8v0.8h-0.8z" fill="#2a0f4f"/><ellipse cx="355.4" cy="92.4" rx="1.0" ry="1.5" fill="#2a0f4f"/><path d="M355.2,94.4h0.8v0.8h-0.8zM355.1,88.5h0.8v0.8h-0.8zM355.0,93.8h0.8v0.8h-0.8zM355.1,92.1h0.8v0.8h-0.8zM354.8,92.7h0.8v0.8h-0.8zM355.6,93.4h0.8v0.8h-0.8zM354.6,93.2h0.8v0.8h-0.8zM356.2,92.3h0.8v0.8h-0.8zM353.8,90.3h0.8v0.8h-0.8z" fill="#2a0f4f"/><ellipse cx="331.0" cy="85.5" rx="1.5" ry="0.8" fill="#2a0f4f"/><path d="M330.1,85.1h0.8v0.8h-0.8zM329.1,85.2h0.8v0.8h-0.8zM331.9,85.8h0.8v0.8h-0.8zM330.4,85.6h0.8v0.8h-0.8zM330.2,85.4h0.8v0.8h-0.8zM332.6,85.4h0.8v0.8h-0.8zM330.9,84.7h0.8v0.8h-0.8z" fill="#2a0f4f"/><ellipse cx="314.5" cy="52.0" rx="1.5" ry="0.8" fill="#2a0f4f"/><path d="M313.8,52.7h0.8v0.8h-0.8zM314.2,51.7h0.8v0.8h-0.8zM313.8,51.8h0.8v0.8h-0.8zM313.1,52.2h0.8v0.8h-0.8zM314.1,51.6h0.8v0.8h-0.8zM316.6,51.2h0.8v0.8h-0.8zM314.1,51.7h0.8v0.8h-0.8z" fill="#2a0f4f"/>
<path d="M438.7,59.0C438.7,57.4 440.5,55.6 441.8,53.7C443.1,51.8 444.8,48.1 446.3,47.6C447.8,47.1 448.9,50.1 450.9,50.6C452.9,51.1 456.4,49.8 458.5,50.6C460.6,51.4 462.7,53.3 463.8,55.2C464.9,57.1 465.8,60.1 465.3,62.0C464.8,63.9 461.7,64.9 460.7,66.6C459.7,68.2 460.1,71.3 459.2,71.9C458.3,72.5 456.8,70.5 455.4,70.4C454.0,70.3 452.3,72.0 450.9,71.1C449.5,70.2 448.6,66.4 447.1,65.1C445.6,63.8 443.2,64.5 441.8,63.5C440.4,62.5 438.7,60.6 438.7,59.0Z" fill="#bcf43e" /><path d="M444.7,49.2h0.75v0.75h-0.75zM454.4,51.4h0.75v0.75h-0.75zM463.4,56.2h0.75v0.75h-0.75zM457.0,50.3h0.75v0.75h-0.75zM455.7,50.7h0.75v0.75h-0.75zM460.9,66.4h0.75v0.75h-0.75zM448.8,50.1h0.75v0.75h-0.75zM460.5,51.2h0.75v0.75h-0.75zM459.0,71.4h0.75v0.75h-0.75zM464.8,62.3h0.75v0.75h-0.75zM450.6,70.0h0.75v0.75h-0.75zM464.7,59.7h0.75v0.75h-0.75zM452.2,50.7h0.75v0.75h-0.75zM439.2,59.8h0.75v0.75h-0.75zM464.2,57.9h0.75v0.75h-0.75zM449.4,68.4h0.75v0.75h-0.75zM464.6,60.0h0.75v0.75h-0.75zM454.7,50.4h0.75v0.75h-0.75zM447.2,65.3h0.75v0.75h-0.75zM462.6,64.1h0.75v0.75h-0.75zM439.3,58.8h0.75v0.75h-0.75zM447.6,66.3h0.75v0.75h-0.75zM459.5,69.3h0.75v0.75h-0.75zM439.0,59.2h0.75v0.75h-0.75zM446.8,65.3h0.75v0.75h-0.75zM464.6,55.7h0.75v0.75h-0.75zM447.3,66.4h0.75v0.75h-0.75zM440.0,60.6h0.75v0.75h-0.75zM447.4,48.0h0.75v0.75h-0.75zM462.4,52.9h0.75v0.75h-0.75zM448.1,66.3h0.75v0.75h-0.75zM464.3,55.2h0.75v0.75h-0.75zM441.7,63.9h0.75v0.75h-0.75zM452.6,71.3h0.75v0.75h-0.75zM460.0,68.1h0.75v0.75h-0.75zM459.6,71.1h0.75v0.75h-0.75zM465.8,58.5h0.75v0.75h-0.75zM446.5,65.8h0.75v0.75h-0.75zM447.1,67.5h0.75v0.75h-0.75zM448.7,49.5h0.75v0.75h-0.75zM461.9,65.9h0.75v0.75h-0.75zM443.6,64.4h0.75v0.75h-0.75zM463.8,56.0h0.75v0.75h-0.75zM439.2,60.4h0.75v0.75h-0.75zM448.0,48.0h0.75v0.75h-0.75zM448.8,49.2h0.75v0.75h-0.75zM460.6,65.8h0.75v0.75h-0.75zM439.1,59.6h0.75v0.75h-0.75zM459.4,71.3h0.75v0.75h-0.75zM449.8,69.6h0.75v0.75h-0.75zM459.6,68.4h0.75v0.75h-0.75zM441.1,63.7h0.75v0.75h-0.75zM461.6,53.6h0.75v0.75h-0.75zM452.1,71.5h0.75v0.75h-0.75zM439.1,58.2h0.75v0.75h-0.75zM463.7,54.5h0.75v0.75h-0.75zM449.5,68.0h0.75v0.75h-0.75zM441.2,53.2h0.75v0.75h-0.75zM450.4,70.6h0.75v0.75h-0.75zM460.9,65.6h0.75v0.75h-0.75zM461.4,66.0h0.75v0.75h-0.75zM438.4,60.1h0.75v0.75h-0.75zM450.0,49.9h0.75v0.75h-0.75zM451.7,70.7h0.75v0.75h-0.75zM444.3,65.0h0.75v0.75h-0.75zM463.5,55.0h0.75v0.75h-0.75zM462.5,64.4h0.75v0.75h-0.75zM463.5,57.3h0.75v0.75h-0.75zM464.8,61.5h0.75v0.75h-0.75zM454.3,50.3h0.75v0.75h-0.75zM460.3,68.9h0.75v0.75h-0.75zM446.4,47.6h0.75v0.75h-0.75zM450.5,70.2h0.75v0.75h-0.75zM463.1,64.3h0.75v0.75h-0.75zM463.7,55.4h0.75v0.75h-0.75zM464.5,58.0h0.75v0.75h-0.75zM453.6,71.8h0.75v0.75h-0.75zM441.2,62.0h0.75v0.75h-0.75zM444.5,64.9h0.75v0.75h-0.75zM443.3,51.7h0.75v0.75h-0.75zM442.6,52.7h0.75v0.75h-0.75zM451.1,49.5h0.75v0.75h-0.75zM464.5,59.2h0.75v0.75h-0.75zM442.8,51.3h0.75v0.75h-0.75zM441.7,62.8h0.75v0.75h-0.75zM439.8,56.4h0.75v0.75h-0.75zM460.5,69.1h0.75v0.75h-0.75zM461.4,53.6h0.75v0.75h-0.75zM448.3,49.2h0.75v0.75h-0.75zM463.6,64.1h0.75v0.75h-0.75zM457.1,70.2h0.75v0.75h-0.75zM461.7,52.2h0.75v0.75h-0.75zM464.6,62.7h0.75v0.75h-0.75zM464.6,62.4h0.75v0.75h-0.75zM443.5,64.1h0.75v0.75h-0.75zM456.3,70.8h0.75v0.75h-0.75zM445.1,47.3h0.75v0.75h-0.75zM460.4,66.5h0.75v0.75h-0.75zM439.5,59.7h0.75v0.75h-0.75zM455.6,69.9h0.75v0.75h-0.75zM441.0,52.8h0.75v0.75h-0.75zM464.2,58.9h0.75v0.75h-0.75zM455.6,71.0h0.75v0.75h-0.75zM460.9,52.6h0.75v0.75h-0.75zM453.5,71.2h0.75v0.75h-0.75zM441.7,54.0h0.75v0.75h-0.75zM464.4,59.1h0.75v0.75h-0.75zM441.9,63.8h0.75v0.75h-0.75zM440.7,61.6h0.75v0.75h-0.75zM456.3,70.9h0.75v0.75h-0.75zM460.0,51.2h0.75v0.75h-0.75zM459.8,69.6h0.75v0.75h-0.75zM459.0,70.8h0.75v0.75h-0.75zM448.6,48.9h0.75v0.75h-0.75zM452.2,49.6h0.75v0.75h-0.75zM461.2,65.6h0.75v0.75h-0.75zM448.4,65.5h0.75v0.75h-0.75zM445.0,50.4h0.75v0.75h-0.75zM443.4,53.1h0.75v0.75h-0.75zM451.0,50.9h0.75v0.75h-0.75zM463.4,54.3h0.75v0.75h-0.75zM447.4,65.4h0.75v0.75h-0.75zM456.9,49.8h0.75v0.75h-0.75zM458.4,50.7h0.75v0.75h-0.75zM458.7,51.7h0.75v0.75h-0.75zM444.1,50.0h0.75v0.75h-0.75zM465.2,61.7h0.75v0.75h-0.75z" fill="#bcf43e"/>
<path d="M435.7,62 Q438,65 441.8,65.8" stroke="#bcf43e" stroke-width="1.6" fill="none"/>
<path d="M390.9,78.0C391.4,77.3 393.6,77.1 395.0,76.8C396.4,76.5 398.0,75.8 399.0,76.0C400.0,76.2 400.8,77.2 400.8,78.0C400.8,78.8 400.0,80.2 399.0,80.5C398.0,80.8 396.2,79.9 395.0,80.0C393.8,80.1 392.7,81.3 392.0,81.0C391.3,80.7 390.4,78.7 390.9,78.0Z" fill="#bcf43e" /><path d="M391.8,81.0h0.75v0.75h-0.75zM395.3,76.5h0.75v0.75h-0.75zM399.0,80.2h0.75v0.75h-0.75zM400.2,74.7h0.75v0.75h-0.75zM392.5,77.1h0.75v0.75h-0.75zM394.4,81.1h0.75v0.75h-0.75zM391.7,80.7h0.75v0.75h-0.75zM402.5,76.0h0.75v0.75h-0.75zM395.7,79.5h0.75v0.75h-0.75zM400.2,78.8h0.75v0.75h-0.75zM392.5,80.5h0.75v0.75h-0.75zM399.9,79.4h0.75v0.75h-0.75zM398.6,76.4h0.75v0.75h-0.75zM398.2,76.0h0.75v0.75h-0.75zM393.7,77.3h0.75v0.75h-0.75zM399.2,79.8h0.75v0.75h-0.75zM391.5,80.5h0.75v0.75h-0.75zM399.0,80.3h0.75v0.75h-0.75zM393.7,77.6h0.75v0.75h-0.75zM397.7,76.4h0.75v0.75h-0.75zM391.6,78.0h0.75v0.75h-0.75zM394.5,76.7h0.75v0.75h-0.75zM397.3,76.2h0.75v0.75h-0.75zM396.4,76.6h0.75v0.75h-0.75zM397.3,79.9h0.75v0.75h-0.75zM396.3,77.0h0.75v0.75h-0.75zM391.3,80.9h0.75v0.75h-0.75zM391.0,79.1h0.75v0.75h-0.75zM399.7,79.1h0.75v0.75h-0.75zM396.3,76.1h0.75v0.75h-0.75zM400.5,78.4h0.75v0.75h-0.75zM392.2,81.3h0.75v0.75h-0.75zM394.9,80.0h0.75v0.75h-0.75zM400.8,78.1h0.75v0.75h-0.75zM396.6,76.2h0.75v0.75h-0.75zM393.2,80.7h0.75v0.75h-0.75zM392.8,77.4h0.75v0.75h-0.75zM397.2,80.2h0.75v0.75h-0.75zM399.9,76.6h0.75v0.75h-0.75z" fill="#bcf43e"/>
<path d="M398.0,102.0C398.5,101.2 399.2,101.0 400.0,101.2C400.8,101.5 401.7,102.7 402.5,103.5C403.3,104.3 404.9,105.2 405.0,106.0C405.1,106.8 403.8,107.7 403.0,108.0C402.2,108.3 400.8,107.7 400.0,108.0C399.2,108.3 399.0,110.1 398.5,109.8C398.0,109.5 397.1,107.3 397.0,106.0C396.9,104.7 397.5,102.8 398.0,102.0Z" fill="#bcf43e" /><path d="M403.9,107.0h0.75v0.75h-0.75zM399.1,108.3h0.75v0.75h-0.75zM399.1,101.6h0.75v0.75h-0.75zM403.2,104.0h0.75v0.75h-0.75zM403.4,104.9h0.75v0.75h-0.75zM403.8,105.6h0.75v0.75h-0.75zM399.8,102.1h0.75v0.75h-0.75zM397.8,103.3h0.75v0.75h-0.75zM401.2,101.0h0.75v0.75h-0.75zM399.6,109.5h0.75v0.75h-0.75zM399.4,109.4h0.75v0.75h-0.75zM402.0,103.2h0.75v0.75h-0.75zM396.6,105.0h0.75v0.75h-0.75zM398.6,109.1h0.75v0.75h-0.75zM397.3,104.6h0.75v0.75h-0.75zM399.6,108.1h0.75v0.75h-0.75zM396.9,105.3h0.75v0.75h-0.75zM399.5,108.6h0.75v0.75h-0.75zM398.9,101.8h0.75v0.75h-0.75zM400.0,101.2h0.75v0.75h-0.75zM399.9,108.6h0.75v0.75h-0.75zM397.7,102.0h0.75v0.75h-0.75zM403.9,105.2h0.75v0.75h-0.75zM404.6,104.9h0.75v0.75h-0.75zM397.1,108.4h0.75v0.75h-0.75zM397.1,103.9h0.75v0.75h-0.75zM397.8,103.5h0.75v0.75h-0.75zM397.4,107.2h0.75v0.75h-0.75zM399.0,109.5h0.75v0.75h-0.75zM400.4,101.5h0.75v0.75h-0.75zM397.4,104.7h0.75v0.75h-0.75zM397.9,103.1h0.75v0.75h-0.75zM398.3,108.9h0.75v0.75h-0.75zM399.1,101.9h0.75v0.75h-0.75zM399.8,108.1h0.75v0.75h-0.75zM404.3,105.6h0.75v0.75h-0.75zM400.4,101.9h0.75v0.75h-0.75zM399.3,108.9h0.75v0.75h-0.75zM397.4,104.2h0.75v0.75h-0.75zM398.0,108.3h0.75v0.75h-0.75z" fill="#bcf43e"/>
<path d="M453.9,92.0C454.1,91.2 455.3,89.5 456.0,88.5C456.7,87.5 457.6,86.0 458.0,86.3C458.4,86.5 458.7,88.7 458.5,90.0C458.3,91.3 457.7,93.3 457.0,93.9C456.3,94.5 455.0,93.8 454.5,93.5C454.0,93.2 453.6,92.8 453.9,92.0Z" fill="#bcf43e" /><path d="M457.4,93.1h0.75v0.75h-0.75zM457.8,89.7h0.75v0.75h-0.75zM458.0,92.0h0.75v0.75h-0.75zM454.5,93.0h0.75v0.75h-0.75zM457.5,93.2h0.75v0.75h-0.75zM457.0,88.8h0.75v0.75h-0.75zM456.2,88.3h0.75v0.75h-0.75zM457.9,86.0h0.75v0.75h-0.75zM455.2,92.9h0.75v0.75h-0.75zM458.0,86.5h0.75v0.75h-0.75zM453.8,91.8h0.75v0.75h-0.75zM454.8,91.6h0.75v0.75h-0.75zM455.5,88.8h0.75v0.75h-0.75zM455.2,93.5h0.75v0.75h-0.75zM458.3,86.9h0.75v0.75h-0.75zM458.2,89.5h0.75v0.75h-0.75zM454.8,90.8h0.75v0.75h-0.75zM454.7,92.3h0.75v0.75h-0.75zM457.6,87.3h0.75v0.75h-0.75zM456.1,93.7h0.75v0.75h-0.75zM456.1,94.7h0.75v0.75h-0.75zM454.4,92.8h0.75v0.75h-0.75zM458.1,91.3h0.75v0.75h-0.75zM456.8,92.2h0.75v0.75h-0.75zM454.0,94.0h0.75v0.75h-0.75zM454.5,92.3h0.75v0.75h-0.75zM457.0,92.4h0.75v0.75h-0.75zM456.4,93.0h0.75v0.75h-0.75zM458.1,92.2h0.75v0.75h-0.75zM455.6,93.8h0.75v0.75h-0.75z" fill="#bcf43e"/>
<path d="M439.5,84.5 L442.8,89.2" stroke="#bcf43e" stroke-width="1.5"/>
<path d="M404.0,28.2h1.3v1.3h-1.3zM410.2,24.9h0.9v0.9h-0.9zM394.9,34.8h1.7v1.5h-1.7zM410.2,47.4h0.9v0.9h-0.9zM425.9,47.1h0.9v0.9h-0.9zM430.9,46.0h0.9v1.5h-0.9zM433.8,49.8h0.9v0.9h-0.9zM400.1,57.3h0.9v0.9h-0.9zM465.2,45.0h1.5v1.5h-1.5zM421.6,72.2h1.5v1.1h-1.5zM425.4,71.5h0.9v0.9h-0.9zM423.1,76.1h0.7v0.7h-0.7zM431.1,76.7h1.5v1.1h-1.5zM423.1,82.2h0.7v0.7h-0.7zM429.1,82.8h1.1v0.9h-1.1zM429.5,89.0h1.3v1.3h-1.3zM462.2,92.6h0.9v0.9h-0.9zM395.5,81.5h1.0v1.0h-1.0z" fill="#bcf43e" stroke="#bcf43e" stroke-width="0.6" stroke-linejoin="round"/><ellipse cx="418.2" cy="26.3" rx="3.5" ry="2.0" fill="#bcf43e"/><path d="M420.5,25.1h0.8v0.8h-0.8zM417.1,25.3h0.8v0.8h-0.8zM423.4,25.2h0.8v0.8h-0.8zM416.8,24.2h0.8v0.8h-0.8zM415.5,23.7h0.8v0.8h-0.8zM419.7,25.7h0.8v0.8h-0.8zM424.8,25.6h0.8v0.8h-0.8zM417.5,27.1h0.8v0.8h-0.8zM418.6,27.7h0.8v0.8h-0.8zM417.9,25.1h0.8v0.8h-0.8zM418.3,26.0h0.8v0.8h-0.8zM421.2,25.0h0.8v0.8h-0.8zM419.3,27.6h0.8v0.8h-0.8zM422.7,26.8h0.8v0.8h-0.8zM422.2,24.4h0.8v0.8h-0.8zM417.1,25.9h0.8v0.8h-0.8zM418.3,27.2h0.8v0.8h-0.8zM419.1,24.3h0.8v0.8h-0.8zM418.9,24.4h0.8v0.8h-0.8zM420.4,26.3h0.8v0.8h-0.8zM417.1,24.9h0.8v0.8h-0.8zM423.1,26.4h0.8v0.8h-0.8zM415.7,27.4h0.8v0.8h-0.8zM420.0,24.6h0.8v0.8h-0.8zM413.4,24.2h0.8v0.8h-0.8zM419.8,22.5h0.8v0.8h-0.8zM419.7,29.1h0.8v0.8h-0.8zM420.8,24.5h0.8v0.8h-0.8zM414.7,25.5h0.8v0.8h-0.8zM417.9,24.2h0.8v0.8h-0.8zM415.4,26.5h0.8v0.8h-0.8zM412.9,22.8h0.8v0.8h-0.8zM423.9,26.2h0.8v0.8h-0.8zM414.2,26.0h0.8v0.8h-0.8zM414.7,23.9h0.8v0.8h-0.8zM415.4,24.5h0.8v0.8h-0.8zM415.4,27.3h0.8v0.8h-0.8zM419.4,25.9h0.8v0.8h-0.8zM415.5,25.2h0.8v0.8h-0.8zM418.1,26.8h0.8v0.8h-0.8zM424.4,30.1h0.8v0.8h-0.8zM416.2,29.2h0.8v0.8h-0.8zM422.1,25.5h0.8v0.8h-0.8zM419.0,26.1h0.8v0.8h-0.8z" fill="#bcf43e"/><ellipse cx="414.4" cy="42.3" rx="1.0" ry="1.5" fill="#bcf43e"/><path d="M414.6,43.4h0.8v0.8h-0.8zM414.1,43.6h0.8v0.8h-0.8zM413.1,41.9h0.8v0.8h-0.8zM412.3,40.3h0.8v0.8h-0.8zM413.8,42.0h0.8v0.8h-0.8zM415.7,40.2h0.8v0.8h-0.8zM412.7,40.4h0.8v0.8h-0.8zM412.7,40.6h0.8v0.8h-0.8zM413.2,42.8h0.8v0.8h-0.8z" fill="#bcf43e"/><ellipse cx="428.1" cy="40.8" rx="1.5" ry="0.8" fill="#bcf43e"/><path d="M429.0,40.8h0.8v0.8h-0.8zM428.6,40.6h0.8v0.8h-0.8zM428.7,41.1h0.8v0.8h-0.8zM427.0,39.6h0.8v0.8h-0.8zM425.8,41.4h0.8v0.8h-0.8zM429.4,40.5h0.8v0.8h-0.8zM426.2,39.3h0.8v0.8h-0.8z" fill="#bcf43e"/><ellipse cx="430.0" cy="37.7" rx="0.8" ry="1.5" fill="#bcf43e"/><path d="M429.1,36.4h0.8v0.8h-0.8zM430.1,36.3h0.8v0.8h-0.8zM429.8,38.8h0.8v0.8h-0.8zM429.8,35.8h0.8v0.8h-0.8zM430.3,37.9h0.8v0.8h-0.8zM430.4,39.3h0.8v0.8h-0.8zM429.4,37.4h0.8v0.8h-0.8z" fill="#bcf43e"/><ellipse cx="431.9" cy="99.7" rx="1.5" ry="1.5" fill="#bcf43e"/><path d="M430.9,99.1h0.8v0.8h-0.8zM430.9,100.5h0.8v0.8h-0.8zM433.1,100.4h0.8v0.8h-0.8zM431.1,101.1h0.8v0.8h-0.8zM432.1,99.8h0.8v0.8h-0.8zM432.7,98.6h0.8v0.8h-0.8zM430.3,101.5h0.8v0.8h-0.8zM433.0,99.9h0.8v0.8h-0.8zM434.6,98.2h0.8v0.8h-0.8zM431.7,98.8h0.8v0.8h-0.8zM430.3,99.8h0.8v0.8h-0.8zM432.3,99.3h0.8v0.8h-0.8zM431.2,98.8h0.8v0.8h-0.8zM430.1,101.7h0.8v0.8h-0.8z" fill="#bcf43e"/><ellipse cx="449.7" cy="94.4" rx="1.2" ry="0.8" fill="#bcf43e"/><path d="M449.4,95.7h0.8v0.8h-0.8zM448.0,94.6h0.8v0.8h-0.8zM449.8,93.5h0.8v0.8h-0.8zM450.5,94.0h0.8v0.8h-0.8zM450.8,94.4h0.8v0.8h-0.8zM450.2,95.3h0.8v0.8h-0.8z" fill="#bcf43e"/><ellipse cx="389.8" cy="94.7" rx="1.1" ry="2.0" fill="#bcf43e"/><path d="M387.3,93.1h0.8v0.8h-0.8zM389.4,96.2h0.8v0.8h-0.8zM390.7,96.2h0.8v0.8h-0.8zM387.9,93.3h0.8v0.8h-0.8zM388.5,95.1h0.8v0.8h-0.8zM387.9,93.9h0.8v0.8h-0.8zM389.6,92.0h0.8v0.8h-0.8zM389.2,92.7h0.8v0.8h-0.8zM389.2,98.7h0.8v0.8h-0.8zM389.3,97.5h0.8v0.8h-0.8zM390.1,96.3h0.8v0.8h-0.8zM390.6,94.9h0.8v0.8h-0.8zM390.3,92.3h0.8v0.8h-0.8zM390.3,94.3h0.8v0.8h-0.8z" fill="#bcf43e"/>
<path d="M529.6,37.7C530.6,35.6 532.2,32.4 534.2,30.9C536.2,29.4 539.4,28.6 541.8,28.6C544.2,28.6 547.0,29.6 548.6,30.9C550.2,32.2 551.3,33.8 551.2,36.2C551.1,38.6 549.4,42.3 547.8,45.3C546.2,48.3 543.8,51.6 541.8,54.4C539.8,57.2 537.7,60.0 535.7,62.0C533.7,64.0 530.9,66.3 529.6,66.3C528.3,66.3 528.5,64.5 528.1,62.0C527.7,59.5 527.3,54.4 527.3,51.4C527.3,48.4 527.7,46.1 528.1,43.8C528.5,41.5 528.6,39.9 529.6,37.7Z" fill="#4259d9" /><path d="M527.7,44.1h0.75v0.75h-0.75zM530.3,65.9h0.75v0.75h-0.75zM534.2,32.0h0.75v0.75h-0.75zM541.0,54.7h0.75v0.75h-0.75zM548.0,43.5h0.75v0.75h-0.75zM528.6,43.0h0.75v0.75h-0.75zM550.7,38.8h0.75v0.75h-0.75zM535.0,64.3h0.75v0.75h-0.75zM546.0,49.6h0.75v0.75h-0.75zM538.2,29.7h0.75v0.75h-0.75zM527.7,47.5h0.75v0.75h-0.75zM548.4,30.8h0.75v0.75h-0.75zM541.2,55.4h0.75v0.75h-0.75zM542.0,28.7h0.75v0.75h-0.75zM527.8,45.9h0.75v0.75h-0.75zM544.2,29.7h0.75v0.75h-0.75zM526.8,59.3h0.75v0.75h-0.75zM549.8,42.7h0.75v0.75h-0.75zM532.1,32.0h0.75v0.75h-0.75zM535.7,30.1h0.75v0.75h-0.75zM527.8,46.1h0.75v0.75h-0.75zM550.9,36.4h0.75v0.75h-0.75zM531.7,33.7h0.75v0.75h-0.75zM549.0,40.3h0.75v0.75h-0.75zM550.6,36.0h0.75v0.75h-0.75zM548.8,40.5h0.75v0.75h-0.75zM542.6,29.0h0.75v0.75h-0.75zM534.7,62.1h0.75v0.75h-0.75zM548.7,43.6h0.75v0.75h-0.75zM527.5,60.2h0.75v0.75h-0.75zM538.9,58.0h0.75v0.75h-0.75zM532.8,63.9h0.75v0.75h-0.75zM550.4,37.0h0.75v0.75h-0.75zM543.6,29.3h0.75v0.75h-0.75zM546.0,48.4h0.75v0.75h-0.75zM547.3,30.0h0.75v0.75h-0.75zM531.5,34.5h0.75v0.75h-0.75zM550.9,36.5h0.75v0.75h-0.75zM540.8,54.7h0.75v0.75h-0.75zM528.0,43.6h0.75v0.75h-0.75zM529.1,64.2h0.75v0.75h-0.75zM532.7,63.8h0.75v0.75h-0.75zM527.4,58.3h0.75v0.75h-0.75zM530.5,66.5h0.75v0.75h-0.75zM543.9,29.5h0.75v0.75h-0.75zM527.6,51.2h0.75v0.75h-0.75zM540.5,28.4h0.75v0.75h-0.75zM549.7,38.9h0.75v0.75h-0.75zM549.3,32.2h0.75v0.75h-0.75zM542.1,28.4h0.75v0.75h-0.75zM534.3,63.3h0.75v0.75h-0.75zM527.9,62.1h0.75v0.75h-0.75zM548.9,42.6h0.75v0.75h-0.75zM539.9,55.8h0.75v0.75h-0.75zM528.3,60.1h0.75v0.75h-0.75zM542.6,27.8h0.75v0.75h-0.75zM550.8,35.0h0.75v0.75h-0.75zM528.2,41.2h0.75v0.75h-0.75zM548.8,41.0h0.75v0.75h-0.75zM550.3,37.1h0.75v0.75h-0.75zM543.9,50.3h0.75v0.75h-0.75zM528.8,63.2h0.75v0.75h-0.75zM547.3,45.9h0.75v0.75h-0.75zM527.8,43.9h0.75v0.75h-0.75zM540.3,55.6h0.75v0.75h-0.75zM548.4,44.2h0.75v0.75h-0.75zM528.7,61.4h0.75v0.75h-0.75zM527.5,48.2h0.75v0.75h-0.75zM532.1,32.7h0.75v0.75h-0.75zM527.5,43.7h0.75v0.75h-0.75zM528.6,63.5h0.75v0.75h-0.75zM530.8,65.5h0.75v0.75h-0.75zM532.5,32.7h0.75v0.75h-0.75zM538.4,59.2h0.75v0.75h-0.75zM527.8,57.2h0.75v0.75h-0.75zM529.5,37.8h0.75v0.75h-0.75zM549.0,40.8h0.75v0.75h-0.75zM548.6,31.3h0.75v0.75h-0.75zM541.6,52.8h0.75v0.75h-0.75zM528.4,64.7h0.75v0.75h-0.75zM548.2,30.2h0.75v0.75h-0.75zM528.6,59.3h0.75v0.75h-0.75zM527.8,54.9h0.75v0.75h-0.75zM527.3,56.9h0.75v0.75h-0.75zM528.0,55.1h0.75v0.75h-0.75zM526.6,50.2h0.75v0.75h-0.75zM536.6,29.6h0.75v0.75h-0.75zM531.9,34.3h0.75v0.75h-0.75zM544.7,51.1h0.75v0.75h-0.75zM548.1,30.6h0.75v0.75h-0.75zM550.2,37.9h0.75v0.75h-0.75zM529.6,66.6h0.75v0.75h-0.75zM546.8,49.7h0.75v0.75h-0.75zM543.1,51.9h0.75v0.75h-0.75zM546.7,45.8h0.75v0.75h-0.75zM549.1,33.2h0.75v0.75h-0.75zM529.9,37.7h0.75v0.75h-0.75zM548.3,43.3h0.75v0.75h-0.75zM528.5,60.1h0.75v0.75h-0.75zM542.4,29.3h0.75v0.75h-0.75zM527.7,58.5h0.75v0.75h-0.75zM528.3,44.7h0.75v0.75h-0.75zM537.6,59.9h0.75v0.75h-0.75zM530.2,36.7h0.75v0.75h-0.75zM548.5,30.5h0.75v0.75h-0.75zM529.1,38.5h0.75v0.75h-0.75zM528.4,40.2h0.75v0.75h-0.75zM527.9,53.5h0.75v0.75h-0.75zM536.9,29.4h0.75v0.75h-0.75zM548.5,42.2h0.75v0.75h-0.75zM547.9,45.9h0.75v0.75h-0.75zM527.8,61.8h0.75v0.75h-0.75zM549.5,41.5h0.75v0.75h-0.75zM550.1,38.7h0.75v0.75h-0.75zM529.9,37.3h0.75v0.75h-0.75zM548.9,43.8h0.75v0.75h-0.75zM527.8,57.4h0.75v0.75h-0.75zM530.8,35.8h0.75v0.75h-0.75zM531.0,65.2h0.75v0.75h-0.75zM544.0,29.9h0.75v0.75h-0.75zM549.3,31.5h0.75v0.75h-0.75zM530.8,35.8h0.75v0.75h-0.75zM527.5,61.7h0.75v0.75h-0.75zM527.6,48.4h0.75v0.75h-0.75zM530.8,35.0h0.75v0.75h-0.75zM533.5,62.9h0.75v0.75h-0.75zM530.0,66.4h0.75v0.75h-0.75zM533.0,63.7h0.75v0.75h-0.75zM527.2,64.6h0.75v0.75h-0.75zM528.9,65.2h0.75v0.75h-0.75zM543.6,51.3h0.75v0.75h-0.75zM544.4,49.5h0.75v0.75h-0.75zM549.6,33.4h0.75v0.75h-0.75zM526.6,57.9h0.75v0.75h-0.75zM548.7,42.2h0.75v0.75h-0.75zM528.7,43.0h0.75v0.75h-0.75zM529.5,37.2h0.75v0.75h-0.75zM550.9,36.3h0.75v0.75h-0.75zM547.3,46.3h0.75v0.75h-0.75zM548.3,31.2h0.75v0.75h-0.75zM527.8,46.9h0.75v0.75h-0.75zM532.4,65.8h0.75v0.75h-0.75zM550.8,34.4h0.75v0.75h-0.75zM527.6,44.4h0.75v0.75h-0.75zM536.7,60.8h0.75v0.75h-0.75zM549.8,39.1h0.75v0.75h-0.75zM528.1,47.0h0.75v0.75h-0.75zM526.8,54.1h0.75v0.75h-0.75zM541.0,55.0h0.75v0.75h-0.75zM530.1,35.6h0.75v0.75h-0.75zM535.9,61.1h0.75v0.75h-0.75zM528.5,64.4h0.75v0.75h-0.75zM550.9,37.8h0.75v0.75h-0.75z" fill="#4259d9"/>
<path d="M523.5,70.4C524.3,68.8 526.5,67.8 527.3,68.1C528.1,68.3 528.8,70.5 528.4,71.9C528.0,73.3 526.1,75.4 525.1,76.4C524.1,77.4 522.6,79.0 522.3,78.0C522.0,77.0 522.7,72.1 523.5,70.4Z" fill="#4259d9" /><path d="M527.5,70.5h0.75v0.75h-0.75zM527.3,74.1h0.75v0.75h-0.75zM522.9,71.9h0.75v0.75h-0.75zM523.9,71.8h0.75v0.75h-0.75zM525.6,67.8h0.75v0.75h-0.75zM525.9,74.3h0.75v0.75h-0.75zM525.4,69.6h0.75v0.75h-0.75zM524.2,77.8h0.75v0.75h-0.75zM527.4,71.1h0.75v0.75h-0.75zM528.0,71.4h0.75v0.75h-0.75zM526.0,68.6h0.75v0.75h-0.75zM527.8,68.5h0.75v0.75h-0.75zM527.5,68.3h0.75v0.75h-0.75zM527.7,70.1h0.75v0.75h-0.75zM527.9,72.6h0.75v0.75h-0.75zM528.6,71.4h0.75v0.75h-0.75zM525.2,69.4h0.75v0.75h-0.75zM523.4,70.0h0.75v0.75h-0.75zM522.9,76.2h0.75v0.75h-0.75zM522.0,75.0h0.75v0.75h-0.75zM526.2,75.5h0.75v0.75h-0.75zM525.0,69.5h0.75v0.75h-0.75zM522.8,74.0h0.75v0.75h-0.75zM524.1,69.0h0.75v0.75h-0.75zM526.9,73.2h0.75v0.75h-0.75zM522.8,76.1h0.75v0.75h-0.75zM525.4,69.1h0.75v0.75h-0.75zM524.8,76.3h0.75v0.75h-0.75zM528.2,71.5h0.75v0.75h-0.75zM523.0,77.0h0.75v0.75h-0.75zM523.4,72.7h0.75v0.75h-0.75zM528.0,70.8h0.75v0.75h-0.75zM527.8,70.3h0.75v0.75h-0.75zM526.1,68.8h0.75v0.75h-0.75zM526.1,68.6h0.75v0.75h-0.75zM527.5,68.5h0.75v0.75h-0.75zM526.0,76.3h0.75v0.75h-0.75zM527.7,73.5h0.75v0.75h-0.75zM524.7,76.3h0.75v0.75h-0.75z" fill="#4259d9"/>
<path d="M497.7,49.1C498.1,48.0 500.0,45.1 501.5,44.6C503.0,44.1 505.3,46.7 506.8,46.1C508.3,45.5 509.3,41.9 510.6,40.8C511.9,39.7 513.8,39.0 514.8,39.3C515.8,39.5 516.9,41.2 516.7,42.3C516.5,43.4 515.0,45.1 513.7,46.1C512.4,47.1 510.0,47.1 509.1,48.4C508.2,49.7 509.4,52.8 508.4,53.7C507.4,54.6 504.5,54.1 503.0,53.7C501.5,53.3 500.2,52.2 499.3,51.4C498.4,50.6 497.3,50.2 497.7,49.1Z" fill="#4259d9" /><path d="M501.4,52.5h0.75v0.75h-0.75zM506.9,46.1h0.75v0.75h-0.75zM513.8,46.2h0.75v0.75h-0.75zM507.9,53.5h0.75v0.75h-0.75zM499.3,51.4h0.75v0.75h-0.75zM507.3,53.1h0.75v0.75h-0.75zM509.5,42.3h0.75v0.75h-0.75zM511.7,40.6h0.75v0.75h-0.75zM498.3,49.5h0.75v0.75h-0.75zM509.6,42.6h0.75v0.75h-0.75zM499.6,51.3h0.75v0.75h-0.75zM506.9,53.6h0.75v0.75h-0.75zM508.8,49.6h0.75v0.75h-0.75zM508.6,43.6h0.75v0.75h-0.75zM514.9,39.9h0.75v0.75h-0.75zM500.0,51.1h0.75v0.75h-0.75zM507.8,45.3h0.75v0.75h-0.75zM502.0,44.8h0.75v0.75h-0.75zM497.6,49.2h0.75v0.75h-0.75zM503.5,44.6h0.75v0.75h-0.75zM510.8,41.6h0.75v0.75h-0.75zM508.8,43.1h0.75v0.75h-0.75zM509.2,43.0h0.75v0.75h-0.75zM514.0,40.3h0.75v0.75h-0.75zM509.2,50.1h0.75v0.75h-0.75zM512.7,39.3h0.75v0.75h-0.75zM508.2,53.3h0.75v0.75h-0.75zM511.1,41.2h0.75v0.75h-0.75zM509.5,43.7h0.75v0.75h-0.75zM509.0,42.6h0.75v0.75h-0.75zM506.2,44.7h0.75v0.75h-0.75zM500.8,52.8h0.75v0.75h-0.75zM509.9,42.9h0.75v0.75h-0.75zM509.5,41.5h0.75v0.75h-0.75zM509.0,50.4h0.75v0.75h-0.75zM502.5,54.0h0.75v0.75h-0.75zM514.0,39.9h0.75v0.75h-0.75zM515.2,43.9h0.75v0.75h-0.75zM498.2,49.9h0.75v0.75h-0.75zM514.8,45.4h0.75v0.75h-0.75zM499.6,51.6h0.75v0.75h-0.75zM499.1,51.0h0.75v0.75h-0.75zM507.7,45.4h0.75v0.75h-0.75zM515.6,41.4h0.75v0.75h-0.75zM504.9,45.8h0.75v0.75h-0.75zM499.6,52.6h0.75v0.75h-0.75zM500.6,45.3h0.75v0.75h-0.75zM500.5,45.9h0.75v0.75h-0.75zM512.9,45.7h0.75v0.75h-0.75zM502.5,53.7h0.75v0.75h-0.75zM514.0,45.8h0.75v0.75h-0.75zM515.1,39.6h0.75v0.75h-0.75zM503.5,53.1h0.75v0.75h-0.75zM513.9,39.9h0.75v0.75h-0.75zM514.9,39.2h0.75v0.75h-0.75zM511.0,47.6h0.75v0.75h-0.75zM499.3,45.6h0.75v0.75h-0.75zM510.1,40.8h0.75v0.75h-0.75zM514.9,40.1h0.75v0.75h-0.75zM500.8,53.1h0.75v0.75h-0.75zM502.9,53.2h0.75v0.75h-0.75zM500.9,46.1h0.75v0.75h-0.75zM504.8,45.7h0.75v0.75h-0.75zM509.9,47.8h0.75v0.75h-0.75zM498.3,49.1h0.75v0.75h-0.75zM509.7,48.6h0.75v0.75h-0.75zM509.6,41.6h0.75v0.75h-0.75zM507.1,52.8h0.75v0.75h-0.75zM509.8,47.8h0.75v0.75h-0.75zM501.3,45.3h0.75v0.75h-0.75zM501.6,54.7h0.75v0.75h-0.75zM501.4,52.3h0.75v0.75h-0.75zM500.5,45.7h0.75v0.75h-0.75zM510.2,41.3h0.75v0.75h-0.75zM504.3,46.7h0.75v0.75h-0.75zM505.2,45.1h0.75v0.75h-0.75zM506.1,53.9h0.75v0.75h-0.75zM510.9,48.3h0.75v0.75h-0.75zM513.5,39.3h0.75v0.75h-0.75zM515.5,43.7h0.75v0.75h-0.75zM510.0,47.7h0.75v0.75h-0.75zM508.3,44.6h0.75v0.75h-0.75zM506.6,53.6h0.75v0.75h-0.75zM514.1,45.8h0.75v0.75h-0.75zM514.8,40.8h0.75v0.75h-0.75zM501.0,52.4h0.75v0.75h-0.75z" fill="#4259d9"/>
<path d="M533.8,86.5 L536.5,91 L540.5,94.8 M538.8,83.5 L536.5,88.5 M538,90 L541,88" stroke="#4259d9" stroke-width="1.4" fill="none"/>
<path d="M493.3,36.2h1.1v0.9h-1.1zM526.1,49.6h0.7v0.7h-0.7z" fill="#4259d9" stroke="#4259d9" stroke-width="0.6" stroke-linejoin="round"/><ellipse cx="547.1" cy="49.9" rx="1.5" ry="1.5" fill="#4259d9"/><path d="M547.2,47.1h0.8v0.8h-0.8zM546.1,49.3h0.8v0.8h-0.8zM544.6,49.9h0.8v0.8h-0.8zM544.9,48.4h0.8v0.8h-0.8zM546.7,50.3h0.8v0.8h-0.8zM546.0,50.0h0.8v0.8h-0.8zM547.9,50.8h0.8v0.8h-0.8zM546.4,49.4h0.8v0.8h-0.8zM546.8,49.0h0.8v0.8h-0.8zM546.2,48.5h0.8v0.8h-0.8zM547.1,50.9h0.8v0.8h-0.8zM547.0,51.8h0.8v0.8h-0.8zM546.7,49.2h0.8v0.8h-0.8zM546.5,49.4h0.8v0.8h-0.8z" fill="#4259d9"/><ellipse cx="489.8" cy="90.1" rx="1.0" ry="1.5" fill="#4259d9"/><path d="M488.3,91.3h0.8v0.8h-0.8zM491.1,90.4h0.8v0.8h-0.8zM489.3,91.0h0.8v0.8h-0.8zM488.5,89.1h0.8v0.8h-0.8zM490.3,90.2h0.8v0.8h-0.8zM490.6,90.6h0.8v0.8h-0.8zM489.5,89.3h0.8v0.8h-0.8zM489.6,90.5h0.8v0.8h-0.8zM489.2,91.8h0.8v0.8h-0.8z" fill="#4259d9"/><ellipse cx="540.0" cy="95.0" rx="1.5" ry="1.0" fill="#4259d9"/><path d="M541.1,93.7h0.8v0.8h-0.8zM542.1,94.8h0.8v0.8h-0.8zM539.2,95.4h0.8v0.8h-0.8zM540.3,94.4h0.8v0.8h-0.8zM540.6,95.6h0.8v0.8h-0.8zM540.2,94.9h0.8v0.8h-0.8zM539.7,94.4h0.8v0.8h-0.8zM540.8,94.5h0.8v0.8h-0.8zM539.9,94.6h0.8v0.8h-0.8z" fill="#4259d9"/>
<path d="M563.5,42.5C563.7,41.9 565.6,40.7 566.5,40.8C567.4,40.9 568.5,42.2 568.8,43.0C569.0,43.8 568.5,45.2 568.0,45.5C567.5,45.8 566.2,45.0 565.5,44.5C564.8,44.0 563.3,43.1 563.5,42.5Z" fill="#4259d9" /><path d="M564.2,42.7h0.75v0.75h-0.75zM563.7,42.8h0.75v0.75h-0.75zM564.1,42.9h0.75v0.75h-0.75zM565.5,41.5h0.75v0.75h-0.75zM565.1,41.7h0.75v0.75h-0.75zM567.4,41.3h0.75v0.75h-0.75zM564.9,43.6h0.75v0.75h-0.75zM564.9,41.9h0.75v0.75h-0.75zM568.0,44.5h0.75v0.75h-0.75zM564.6,44.0h0.75v0.75h-0.75zM566.0,44.5h0.75v0.75h-0.75zM566.8,44.7h0.75v0.75h-0.75zM563.7,41.4h0.75v0.75h-0.75zM565.9,45.5h0.75v0.75h-0.75zM568.0,45.4h0.75v0.75h-0.75zM566.4,41.4h0.75v0.75h-0.75zM563.9,42.9h0.75v0.75h-0.75zM567.1,44.8h0.75v0.75h-0.75zM567.9,45.0h0.75v0.75h-0.75zM564.7,44.6h0.75v0.75h-0.75zM567.6,44.9h0.75v0.75h-0.75zM569.2,44.1h0.75v0.75h-0.75zM568.3,45.3h0.75v0.75h-0.75z" fill="#4259d9"/>
<path d="M598.2,48.2C599.0,46.9 600.2,46.2 601.1,46.2C602.0,46.2 603.2,47.0 603.6,48.2C604.0,49.4 603.9,51.6 603.6,53.2C603.3,54.8 602.7,56.5 601.9,57.7C601.1,58.9 599.5,59.9 598.6,60.6C597.7,61.3 597.0,61.3 596.5,62.0C596.0,62.7 595.6,63.7 595.7,64.7C595.9,65.7 597.1,66.8 597.4,68.0C597.7,69.2 597.3,70.8 597.4,72.2C597.5,73.6 597.7,75.3 598.2,76.3C598.8,77.3 599.6,77.4 600.7,78.4C601.8,79.4 603.3,81.0 604.8,82.1C606.3,83.2 608.1,84.0 609.7,84.9C611.3,85.9 613.3,86.8 614.3,87.8C615.3,88.8 616.0,90.1 615.9,91.1C615.8,92.1 615.1,93.2 613.9,93.6C612.7,93.9 610.8,93.8 608.9,93.2C607.0,92.6 604.2,91.2 602.3,89.9C600.4,88.6 598.8,87.0 597.4,85.4C596.0,83.8 594.9,81.9 594.1,80.4C593.3,78.9 593.3,77.6 592.4,76.3C591.5,75.0 589.6,74.0 588.7,72.6C587.8,71.2 587.2,69.5 587.1,68.0C587.0,66.5 587.2,65.1 587.9,63.9C588.6,62.7 590.0,61.6 591.2,61.0C592.4,60.4 594.5,61.4 595.3,60.2C596.1,59.0 595.6,56.0 596.1,54.0C596.6,52.0 597.4,49.5 598.2,48.2Z" fill="#e6b83a" /><path d="M587.9,71.1h0.75v0.75h-0.75zM615.7,92.1h0.75v0.75h-0.75zM596.1,64.9h0.75v0.75h-0.75zM595.7,57.5h0.75v0.75h-0.75zM597.0,71.3h0.75v0.75h-0.75zM591.6,76.9h0.75v0.75h-0.75zM597.9,75.8h0.75v0.75h-0.75zM604.8,51.3h0.75v0.75h-0.75zM587.7,72.8h0.75v0.75h-0.75zM601.8,58.4h0.75v0.75h-0.75zM599.9,47.4h0.75v0.75h-0.75zM594.9,85.5h0.75v0.75h-0.75zM603.8,90.3h0.75v0.75h-0.75zM587.8,64.8h0.75v0.75h-0.75zM596.0,63.9h0.75v0.75h-0.75zM614.4,92.8h0.75v0.75h-0.75zM597.8,66.2h0.75v0.75h-0.75zM592.9,79.3h0.75v0.75h-0.75zM593.6,77.8h0.75v0.75h-0.75zM604.1,49.7h0.75v0.75h-0.75zM602.8,53.6h0.75v0.75h-0.75zM595.6,53.4h0.75v0.75h-0.75zM596.0,56.2h0.75v0.75h-0.75zM605.5,82.6h0.75v0.75h-0.75zM600.5,47.3h0.75v0.75h-0.75zM597.1,71.0h0.75v0.75h-0.75zM588.3,64.3h0.75v0.75h-0.75zM597.9,48.5h0.75v0.75h-0.75zM595.0,54.2h0.75v0.75h-0.75zM586.9,67.8h0.75v0.75h-0.75zM599.9,47.4h0.75v0.75h-0.75zM613.8,86.9h0.75v0.75h-0.75zM604.0,52.3h0.75v0.75h-0.75zM587.0,67.2h0.75v0.75h-0.75zM593.5,80.8h0.75v0.75h-0.75zM594.4,80.5h0.75v0.75h-0.75zM596.8,53.3h0.75v0.75h-0.75zM590.2,73.4h0.75v0.75h-0.75zM612.9,93.7h0.75v0.75h-0.75zM616.4,91.0h0.75v0.75h-0.75zM597.2,49.5h0.75v0.75h-0.75zM594.6,59.9h0.75v0.75h-0.75zM602.5,81.2h0.75v0.75h-0.75zM609.9,93.1h0.75v0.75h-0.75zM599.2,76.3h0.75v0.75h-0.75zM603.8,51.9h0.75v0.75h-0.75zM597.7,49.1h0.75v0.75h-0.75zM615.3,92.8h0.75v0.75h-0.75zM599.5,77.5h0.75v0.75h-0.75zM601.6,56.1h0.75v0.75h-0.75zM593.4,78.1h0.75v0.75h-0.75zM601.3,79.3h0.75v0.75h-0.75zM596.1,65.9h0.75v0.75h-0.75zM601.1,88.5h0.75v0.75h-0.75zM587.7,72.1h0.75v0.75h-0.75zM598.0,50.7h0.75v0.75h-0.75zM592.4,76.9h0.75v0.75h-0.75zM615.8,89.2h0.75v0.75h-0.75zM603.8,54.1h0.75v0.75h-0.75zM599.9,78.2h0.75v0.75h-0.75zM615.4,90.6h0.75v0.75h-0.75zM596.2,55.7h0.75v0.75h-0.75zM591.7,77.2h0.75v0.75h-0.75zM597.4,66.8h0.75v0.75h-0.75zM603.1,53.6h0.75v0.75h-0.75zM593.0,77.3h0.75v0.75h-0.75zM598.3,60.4h0.75v0.75h-0.75zM601.6,58.9h0.75v0.75h-0.75zM601.3,88.2h0.75v0.75h-0.75zM600.0,46.3h0.75v0.75h-0.75zM595.9,65.0h0.75v0.75h-0.75zM596.8,52.7h0.75v0.75h-0.75zM610.1,84.4h0.75v0.75h-0.75zM603.3,90.3h0.75v0.75h-0.75zM596.0,55.3h0.75v0.75h-0.75zM595.9,67.0h0.75v0.75h-0.75zM605.0,82.9h0.75v0.75h-0.75zM597.4,73.0h0.75v0.75h-0.75zM601.2,78.8h0.75v0.75h-0.75zM603.1,51.5h0.75v0.75h-0.75zM598.3,48.5h0.75v0.75h-0.75zM612.9,93.8h0.75v0.75h-0.75zM604.0,51.8h0.75v0.75h-0.75zM611.4,93.2h0.75v0.75h-0.75zM592.9,77.1h0.75v0.75h-0.75zM600.6,78.9h0.75v0.75h-0.75zM598.0,77.5h0.75v0.75h-0.75zM588.5,63.9h0.75v0.75h-0.75zM603.0,53.7h0.75v0.75h-0.75zM598.2,48.1h0.75v0.75h-0.75zM597.7,72.0h0.75v0.75h-0.75zM596.8,84.1h0.75v0.75h-0.75zM596.9,83.7h0.75v0.75h-0.75zM603.4,81.7h0.75v0.75h-0.75zM610.1,86.0h0.75v0.75h-0.75zM598.7,62.0h0.75v0.75h-0.75zM612.0,86.9h0.75v0.75h-0.75zM596.7,66.2h0.75v0.75h-0.75zM597.7,50.0h0.75v0.75h-0.75zM603.5,54.6h0.75v0.75h-0.75zM602.3,47.4h0.75v0.75h-0.75zM586.1,66.2h0.75v0.75h-0.75zM594.7,59.8h0.75v0.75h-0.75zM611.3,85.7h0.75v0.75h-0.75zM602.0,47.0h0.75v0.75h-0.75zM592.3,75.7h0.75v0.75h-0.75zM600.1,58.8h0.75v0.75h-0.75zM595.7,55.1h0.75v0.75h-0.75zM592.7,76.1h0.75v0.75h-0.75zM610.1,85.7h0.75v0.75h-0.75zM601.2,46.4h0.75v0.75h-0.75zM589.4,63.2h0.75v0.75h-0.75zM592.3,75.5h0.75v0.75h-0.75zM592.9,76.9h0.75v0.75h-0.75zM587.0,69.2h0.75v0.75h-0.75zM597.3,49.7h0.75v0.75h-0.75zM588.0,63.8h0.75v0.75h-0.75zM596.8,49.9h0.75v0.75h-0.75zM593.4,60.6h0.75v0.75h-0.75zM588.5,63.7h0.75v0.75h-0.75zM590.7,77.5h0.75v0.75h-0.75zM595.7,82.0h0.75v0.75h-0.75zM603.1,48.5h0.75v0.75h-0.75zM587.1,67.9h0.75v0.75h-0.75zM597.2,64.9h0.75v0.75h-0.75zM593.1,77.4h0.75v0.75h-0.75zM603.7,48.5h0.75v0.75h-0.75zM594.7,82.8h0.75v0.75h-0.75zM594.5,81.1h0.75v0.75h-0.75zM588.0,64.3h0.75v0.75h-0.75zM599.4,77.7h0.75v0.75h-0.75zM608.1,83.1h0.75v0.75h-0.75zM600.1,78.5h0.75v0.75h-0.75zM602.2,57.4h0.75v0.75h-0.75zM613.4,93.7h0.75v0.75h-0.75zM593.9,84.0h0.75v0.75h-0.75zM601.5,47.1h0.75v0.75h-0.75zM614.5,88.6h0.75v0.75h-0.75zM596.2,54.4h0.75v0.75h-0.75zM591.0,74.5h0.75v0.75h-0.75zM593.0,78.8h0.75v0.75h-0.75zM586.8,68.8h0.75v0.75h-0.75zM599.2,48.0h0.75v0.75h-0.75zM598.3,61.4h0.75v0.75h-0.75zM603.5,50.5h0.75v0.75h-0.75zM590.8,74.3h0.75v0.75h-0.75zM595.7,58.0h0.75v0.75h-0.75zM598.0,85.4h0.75v0.75h-0.75zM608.2,94.2h0.75v0.75h-0.75zM602.8,48.3h0.75v0.75h-0.75zM594.0,79.4h0.75v0.75h-0.75zM610.5,93.6h0.75v0.75h-0.75zM588.3,63.6h0.75v0.75h-0.75zM596.2,64.0h0.75v0.75h-0.75zM593.9,59.7h0.75v0.75h-0.75zM602.8,55.4h0.75v0.75h-0.75zM608.4,84.2h0.75v0.75h-0.75zM612.0,86.4h0.75v0.75h-0.75zM614.9,93.3h0.75v0.75h-0.75zM596.0,59.0h0.75v0.75h-0.75zM596.5,65.2h0.75v0.75h-0.75zM597.8,73.2h0.75v0.75h-0.75zM590.9,75.1h0.75v0.75h-0.75zM594.1,80.0h0.75v0.75h-0.75zM596.8,51.9h0.75v0.75h-0.75zM599.3,76.7h0.75v0.75h-0.75zM602.2,89.8h0.75v0.75h-0.75zM604.6,51.4h0.75v0.75h-0.75zM603.0,54.5h0.75v0.75h-0.75zM613.9,92.4h0.75v0.75h-0.75zM595.7,82.8h0.75v0.75h-0.75zM598.5,61.2h0.75v0.75h-0.75zM596.4,65.9h0.75v0.75h-0.75zM614.2,93.4h0.75v0.75h-0.75zM598.9,86.4h0.75v0.75h-0.75zM595.3,56.3h0.75v0.75h-0.75zM590.3,61.7h0.75v0.75h-0.75zM590.3,62.2h0.75v0.75h-0.75zM597.8,76.4h0.75v0.75h-0.75zM587.5,65.4h0.75v0.75h-0.75zM610.9,84.8h0.75v0.75h-0.75zM597.0,61.9h0.75v0.75h-0.75zM594.8,80.8h0.75v0.75h-0.75zM595.4,57.8h0.75v0.75h-0.75zM603.7,80.8h0.75v0.75h-0.75zM604.6,90.6h0.75v0.75h-0.75zM611.1,85.1h0.75v0.75h-0.75zM604.6,91.9h0.75v0.75h-0.75zM590.3,74.4h0.75v0.75h-0.75zM615.9,90.0h0.75v0.75h-0.75zM605.1,91.3h0.75v0.75h-0.75zM594.2,80.1h0.75v0.75h-0.75zM600.8,58.9h0.75v0.75h-0.75zM596.0,52.6h0.75v0.75h-0.75zM599.3,47.5h0.75v0.75h-0.75zM596.9,52.7h0.75v0.75h-0.75zM595.8,56.9h0.75v0.75h-0.75zM604.2,90.3h0.75v0.75h-0.75zM588.9,73.9h0.75v0.75h-0.75zM594.2,81.4h0.75v0.75h-0.75zM597.8,71.3h0.75v0.75h-0.75zM597.0,51.6h0.75v0.75h-0.75zM606.5,83.0h0.75v0.75h-0.75zM602.5,47.5h0.75v0.75h-0.75zM615.2,90.0h0.75v0.75h-0.75zM597.3,72.0h0.75v0.75h-0.75zM595.4,82.4h0.75v0.75h-0.75z" fill="#e6b83a"/>
<path d="M628.3,26.9h0.9v0.9h-0.9zM635.0,35.0h0.9v0.9h-0.9zM627.0,41.2h0.9v0.9h-0.9zM649.7,50.2h1.1v1.1h-1.1zM650.1,58.9h0.9v0.9h-0.9zM652.9,58.9h0.9v0.9h-0.9zM635.8,79.2h1.5v1.5h-1.5zM625.1,82.3h0.9v0.9h-0.9zM634.0,85.5h0.9v0.9h-0.9zM657.9,93.3h0.9v0.9h-0.9zM588.0,93.8h0.9v0.9h-0.9zM650.6,74.2h0.7v0.7h-0.7zM633.0,81.5h0.9v0.9h-0.9z" fill="#e6b83a" stroke="#e6b83a" stroke-width="0.6" stroke-linejoin="round"/><ellipse cx="621.0" cy="33.9" rx="2.0" ry="1.8" fill="#e6b83a"/><path d="M621.5,35.2h0.8v0.8h-0.8zM623.0,36.0h0.8v0.8h-0.8zM621.3,34.0h0.8v0.8h-0.8zM620.6,36.0h0.8v0.8h-0.8zM622.9,34.8h0.8v0.8h-0.8zM622.7,35.0h0.8v0.8h-0.8zM620.0,31.9h0.8v0.8h-0.8zM621.8,34.9h0.8v0.8h-0.8zM619.4,35.0h0.8v0.8h-0.8zM614.9,36.2h0.8v0.8h-0.8zM619.3,33.2h0.8v0.8h-0.8zM620.4,34.2h0.8v0.8h-0.8zM620.3,36.8h0.8v0.8h-0.8zM619.6,35.2h0.8v0.8h-0.8zM622.4,33.6h0.8v0.8h-0.8zM620.4,33.8h0.8v0.8h-0.8zM618.5,33.3h0.8v0.8h-0.8zM618.9,36.7h0.8v0.8h-0.8zM620.9,33.3h0.8v0.8h-0.8zM621.1,32.2h0.8v0.8h-0.8zM621.8,32.7h0.8v0.8h-0.8zM620.3,33.3h0.8v0.8h-0.8z" fill="#e6b83a"/><ellipse cx="651.7" cy="71.9" rx="1.5" ry="3.0" fill="#e6b83a"/><path d="M650.9,73.5h0.8v0.8h-0.8zM652.4,74.2h0.8v0.8h-0.8zM649.4,74.5h0.8v0.8h-0.8zM649.6,67.3h0.8v0.8h-0.8zM648.6,71.5h0.8v0.8h-0.8zM650.4,71.1h0.8v0.8h-0.8zM653.4,72.7h0.8v0.8h-0.8zM649.9,75.6h0.8v0.8h-0.8zM652.4,71.8h0.8v0.8h-0.8zM650.0,76.5h0.8v0.8h-0.8zM651.9,71.7h0.8v0.8h-0.8zM650.2,73.2h0.8v0.8h-0.8zM650.7,77.6h0.8v0.8h-0.8zM655.2,70.2h0.8v0.8h-0.8zM651.3,73.9h0.8v0.8h-0.8zM650.7,67.7h0.8v0.8h-0.8zM650.8,70.7h0.8v0.8h-0.8zM652.0,74.1h0.8v0.8h-0.8zM650.1,69.4h0.8v0.8h-0.8zM653.2,70.6h0.8v0.8h-0.8zM649.5,72.5h0.8v0.8h-0.8zM651.3,69.4h0.8v0.8h-0.8zM650.9,69.1h0.8v0.8h-0.8zM651.5,70.4h0.8v0.8h-0.8zM652.1,70.4h0.8v0.8h-0.8zM653.9,76.1h0.8v0.8h-0.8zM649.4,71.5h0.8v0.8h-0.8zM651.3,73.3h0.8v0.8h-0.8z" fill="#e6b83a"/><ellipse cx="622.5" cy="75.5" rx="1.2" ry="1.2" fill="#e6b83a"/><path d="M620.8,76.4h0.8v0.8h-0.8zM622.2,75.4h0.8v0.8h-0.8zM622.2,74.3h0.8v0.8h-0.8zM621.7,73.6h0.8v0.8h-0.8zM623.9,75.5h0.8v0.8h-0.8zM621.2,76.6h0.8v0.8h-0.8zM624.3,75.1h0.8v0.8h-0.8zM623.2,75.6h0.8v0.8h-0.8zM621.9,76.2h0.8v0.8h-0.8zM621.6,75.7h0.8v0.8h-0.8z" fill="#e6b83a"/><ellipse cx="633.5" cy="78.1" rx="2.5" ry="1.5" fill="#e6b83a"/><path d="M635.2,77.9h0.8v0.8h-0.8zM631.5,80.6h0.8v0.8h-0.8zM634.5,80.1h0.8v0.8h-0.8zM630.6,78.1h0.8v0.8h-0.8zM634.0,78.0h0.8v0.8h-0.8zM635.0,76.5h0.8v0.8h-0.8zM635.1,78.7h0.8v0.8h-0.8zM630.0,76.6h0.8v0.8h-0.8zM635.3,77.7h0.8v0.8h-0.8zM635.8,77.9h0.8v0.8h-0.8zM633.7,77.4h0.8v0.8h-0.8zM634.5,78.8h0.8v0.8h-0.8zM637.8,78.4h0.8v0.8h-0.8zM635.8,78.2h0.8v0.8h-0.8zM632.1,77.2h0.8v0.8h-0.8zM634.3,78.1h0.8v0.8h-0.8zM635.0,78.9h0.8v0.8h-0.8zM635.4,78.6h0.8v0.8h-0.8zM632.7,78.4h0.8v0.8h-0.8zM631.8,78.4h0.8v0.8h-0.8zM634.1,74.5h0.8v0.8h-0.8zM637.4,75.3h0.8v0.8h-0.8zM630.0,78.5h0.8v0.8h-0.8zM633.5,76.7h0.8v0.8h-0.8z" fill="#e6b83a"/><ellipse cx="649.5" cy="94.9" rx="2.5" ry="1.5" fill="#e6b83a"/><path d="M645.9,93.2h0.8v0.8h-0.8zM648.2,96.9h0.8v0.8h-0.8zM651.6,93.1h0.8v0.8h-0.8zM647.4,94.7h0.8v0.8h-0.8zM650.2,92.6h0.8v0.8h-0.8zM646.4,93.7h0.8v0.8h-0.8zM650.6,94.1h0.8v0.8h-0.8zM649.5,93.6h0.8v0.8h-0.8zM647.6,92.8h0.8v0.8h-0.8zM649.9,94.9h0.8v0.8h-0.8zM647.6,93.7h0.8v0.8h-0.8zM646.9,93.4h0.8v0.8h-0.8zM648.6,95.2h0.8v0.8h-0.8zM648.7,95.2h0.8v0.8h-0.8zM650.4,93.3h0.8v0.8h-0.8zM645.8,94.8h0.8v0.8h-0.8zM647.5,93.4h0.8v0.8h-0.8zM646.6,95.6h0.8v0.8h-0.8zM650.0,94.0h0.8v0.8h-0.8zM648.3,93.2h0.8v0.8h-0.8zM648.2,95.2h0.8v0.8h-0.8zM647.0,94.1h0.8v0.8h-0.8zM646.7,94.6h0.8v0.8h-0.8zM647.9,93.3h0.8v0.8h-0.8z" fill="#e6b83a"/><ellipse cx="589.2" cy="90.3" rx="1.2" ry="1.0" fill="#e6b83a"/><path d="M587.8,90.2h0.8v0.8h-0.8zM588.8,89.5h0.8v0.8h-0.8zM588.5,89.7h0.8v0.8h-0.8zM587.8,88.6h0.8v0.8h-0.8zM588.9,88.9h0.8v0.8h-0.8zM587.9,90.7h0.8v0.8h-0.8zM588.8,90.8h0.8v0.8h-0.8zM589.7,89.6h0.8v0.8h-0.8z" fill="#e6b83a"/>
<path d="M674,60.8 L678.3,58.2" stroke="#e6b83a" stroke-width="2"/>
<path d="M297.0,211.1C297.4,209.8 298.9,207.7 300.8,207.3C302.7,206.9 306.1,207.9 308.4,208.8C310.7,209.7 313.0,211.2 314.8,212.6C316.6,214.0 318.7,215.7 319.0,217.2C319.3,218.7 318.2,220.9 316.7,221.7C315.2,222.5 312.2,222.5 309.9,222.0C307.6,221.5 304.9,219.9 303.0,218.7C301.1,217.5 299.5,216.2 298.5,214.9C297.5,213.6 296.6,212.4 297.0,211.1Z" fill="#55a4f7" /><path d="M309.8,209.4h0.75v0.75h-0.75zM308.8,222.5h0.75v0.75h-0.75zM305.7,208.1h0.75v0.75h-0.75zM300.8,207.4h0.75v0.75h-0.75zM314.8,213.0h0.75v0.75h-0.75zM306.2,207.0h0.75v0.75h-0.75zM298.2,214.5h0.75v0.75h-0.75zM316.1,214.9h0.75v0.75h-0.75zM301.4,217.2h0.75v0.75h-0.75zM317.2,216.0h0.75v0.75h-0.75zM315.0,222.2h0.75v0.75h-0.75zM298.3,214.0h0.75v0.75h-0.75zM309.3,221.6h0.75v0.75h-0.75zM316.8,221.0h0.75v0.75h-0.75zM314.2,221.7h0.75v0.75h-0.75zM311.7,222.3h0.75v0.75h-0.75zM303.7,219.3h0.75v0.75h-0.75zM316.8,214.7h0.75v0.75h-0.75zM296.1,211.0h0.75v0.75h-0.75zM298.8,208.7h0.75v0.75h-0.75zM311.1,209.8h0.75v0.75h-0.75zM298.6,209.6h0.75v0.75h-0.75zM299.2,209.2h0.75v0.75h-0.75zM318.8,219.0h0.75v0.75h-0.75zM312.3,221.9h0.75v0.75h-0.75zM301.0,217.1h0.75v0.75h-0.75zM299.6,215.4h0.75v0.75h-0.75zM298.8,208.9h0.75v0.75h-0.75zM313.2,211.1h0.75v0.75h-0.75zM305.7,208.5h0.75v0.75h-0.75zM307.6,207.8h0.75v0.75h-0.75zM312.9,222.1h0.75v0.75h-0.75zM301.2,208.1h0.75v0.75h-0.75zM304.8,219.5h0.75v0.75h-0.75zM305.4,220.0h0.75v0.75h-0.75zM319.2,218.5h0.75v0.75h-0.75zM311.9,211.0h0.75v0.75h-0.75zM313.1,211.9h0.75v0.75h-0.75zM308.2,221.1h0.75v0.75h-0.75zM311.2,222.1h0.75v0.75h-0.75zM301.2,216.7h0.75v0.75h-0.75zM317.9,216.6h0.75v0.75h-0.75zM305.2,208.7h0.75v0.75h-0.75zM306.9,220.3h0.75v0.75h-0.75zM312.5,211.6h0.75v0.75h-0.75zM310.2,210.3h0.75v0.75h-0.75zM299.4,208.8h0.75v0.75h-0.75zM307.8,208.3h0.75v0.75h-0.75zM301.0,217.1h0.75v0.75h-0.75zM303.6,207.6h0.75v0.75h-0.75zM314.2,212.6h0.75v0.75h-0.75zM318.8,217.1h0.75v0.75h-0.75zM297.7,209.7h0.75v0.75h-0.75zM316.2,213.7h0.75v0.75h-0.75zM316.9,219.8h0.75v0.75h-0.75zM311.8,210.9h0.75v0.75h-0.75zM312.9,211.8h0.75v0.75h-0.75zM297.6,213.1h0.75v0.75h-0.75zM308.1,221.4h0.75v0.75h-0.75zM297.8,213.1h0.75v0.75h-0.75zM316.2,214.2h0.75v0.75h-0.75zM308.9,221.2h0.75v0.75h-0.75zM311.0,221.8h0.75v0.75h-0.75zM298.9,209.5h0.75v0.75h-0.75zM305.8,220.3h0.75v0.75h-0.75zM301.8,218.1h0.75v0.75h-0.75zM315.9,221.3h0.75v0.75h-0.75zM310.5,210.6h0.75v0.75h-0.75zM305.9,209.2h0.75v0.75h-0.75zM317.6,218.9h0.75v0.75h-0.75zM298.0,208.8h0.75v0.75h-0.75zM313.0,221.6h0.75v0.75h-0.75zM304.7,208.5h0.75v0.75h-0.75zM299.7,215.7h0.75v0.75h-0.75zM311.9,211.5h0.75v0.75h-0.75zM307.4,222.6h0.75v0.75h-0.75zM314.3,223.3h0.75v0.75h-0.75zM316.0,213.8h0.75v0.75h-0.75zM315.6,213.2h0.75v0.75h-0.75zM306.4,208.1h0.75v0.75h-0.75zM304.6,208.1h0.75v0.75h-0.75zM310.0,222.1h0.75v0.75h-0.75zM317.9,217.1h0.75v0.75h-0.75zM299.9,208.6h0.75v0.75h-0.75zM298.8,209.6h0.75v0.75h-0.75zM316.6,214.6h0.75v0.75h-0.75zM317.0,214.5h0.75v0.75h-0.75zM314.5,222.4h0.75v0.75h-0.75zM308.4,222.1h0.75v0.75h-0.75zM311.1,221.9h0.75v0.75h-0.75z" fill="#55a4f7"/>
<path d="M309.1,208.5C309.2,208.0 310.7,207.4 311.5,207.0C312.3,206.6 313.4,205.4 313.7,205.8C314.0,206.2 313.6,208.9 313.2,209.6C312.8,210.3 311.7,210.2 311.0,210.0C310.3,209.8 309.0,209.0 309.1,208.5Z" fill="#55a4f7" /><path d="M310.7,208.4h0.75v0.75h-0.75zM310.3,208.8h0.75v0.75h-0.75zM310.3,210.1h0.75v0.75h-0.75zM312.5,206.4h0.75v0.75h-0.75zM311.2,209.2h0.75v0.75h-0.75zM312.9,209.0h0.75v0.75h-0.75zM311.1,207.6h0.75v0.75h-0.75zM314.0,206.7h0.75v0.75h-0.75zM312.6,206.1h0.75v0.75h-0.75zM313.3,208.9h0.75v0.75h-0.75zM312.6,207.5h0.75v0.75h-0.75zM312.2,206.3h0.75v0.75h-0.75zM311.0,209.6h0.75v0.75h-0.75zM309.7,208.7h0.75v0.75h-0.75zM313.1,206.3h0.75v0.75h-0.75zM309.8,208.7h0.75v0.75h-0.75zM310.3,207.8h0.75v0.75h-0.75zM310.3,205.5h0.75v0.75h-0.75zM312.6,206.8h0.75v0.75h-0.75zM309.2,208.5h0.75v0.75h-0.75zM313.6,207.1h0.75v0.75h-0.75zM311.1,207.0h0.75v0.75h-0.75z" fill="#55a4f7"/>
<path d="M324.5,188.5C324.9,187.8 326.1,187.0 327.0,187.0C327.9,187.0 329.6,187.8 330.0,188.5C330.4,189.2 330.0,190.8 329.5,191.5C329.0,192.2 327.8,193.0 327.0,193.0C326.2,193.0 324.9,192.2 324.5,191.5C324.1,190.8 324.1,189.2 324.5,188.5Z" fill="#55a4f7" /><path d="M327.9,192.7h0.75v0.75h-0.75zM329.4,187.3h0.75v0.75h-0.75zM329.8,190.2h0.75v0.75h-0.75zM325.6,189.9h0.75v0.75h-0.75zM329.0,191.8h0.75v0.75h-0.75zM325.8,188.2h0.75v0.75h-0.75zM326.6,192.7h0.75v0.75h-0.75zM324.8,190.9h0.75v0.75h-0.75zM329.3,190.1h0.75v0.75h-0.75zM325.3,187.7h0.75v0.75h-0.75zM326.1,192.6h0.75v0.75h-0.75zM329.1,188.2h0.75v0.75h-0.75zM329.5,191.0h0.75v0.75h-0.75zM327.8,192.3h0.75v0.75h-0.75zM329.5,190.4h0.75v0.75h-0.75zM328.6,192.4h0.75v0.75h-0.75zM326.4,193.4h0.75v0.75h-0.75zM325.0,192.7h0.75v0.75h-0.75zM330.4,188.6h0.75v0.75h-0.75zM329.1,192.4h0.75v0.75h-0.75zM329.6,188.3h0.75v0.75h-0.75zM326.2,192.6h0.75v0.75h-0.75zM326.1,188.4h0.75v0.75h-0.75zM324.0,189.0h0.75v0.75h-0.75zM325.0,192.1h0.75v0.75h-0.75zM324.5,190.8h0.75v0.75h-0.75zM330.3,189.5h0.75v0.75h-0.75zM328.7,192.1h0.75v0.75h-0.75zM327.7,187.1h0.75v0.75h-0.75z" fill="#55a4f7"/>
<path d="M291.4,140.4h1.1v0.9h-1.1zM312.1,146.2h1.5v0.9h-1.5zM308.6,151.2h1.1v1.5h-1.1zM299.2,158.2h0.9v0.9h-0.9zM321.9,176.8h0.8v0.8h-0.8zM330.2,186.4h0.9v0.9h-0.9zM288.2,199.0h0.8v0.8h-0.8zM345.1,198.1h1.5v0.9h-1.5zM330.5,189.5h1.0v1.0h-1.0z" fill="#55a4f7" stroke="#55a4f7" stroke-width="0.6" stroke-linejoin="round"/><ellipse cx="319.0" cy="139.0" rx="1.8" ry="2.0" fill="#55a4f7"/><path d="M319.7,139.8h0.8v0.8h-0.8zM318.6,138.5h0.8v0.8h-0.8zM318.1,141.9h0.8v0.8h-0.8zM318.7,140.4h0.8v0.8h-0.8zM319.7,139.6h0.8v0.8h-0.8zM316.2,134.1h0.8v0.8h-0.8zM319.5,137.3h0.8v0.8h-0.8zM317.2,136.2h0.8v0.8h-0.8zM316.4,139.2h0.8v0.8h-0.8zM316.9,140.9h0.8v0.8h-0.8zM320.3,139.0h0.8v0.8h-0.8zM315.2,139.6h0.8v0.8h-0.8zM317.5,135.9h0.8v0.8h-0.8zM317.5,138.1h0.8v0.8h-0.8zM317.6,138.7h0.8v0.8h-0.8zM318.5,136.9h0.8v0.8h-0.8zM315.9,137.9h0.8v0.8h-0.8zM317.9,139.4h0.8v0.8h-0.8zM318.9,140.5h0.8v0.8h-0.8zM318.2,135.3h0.8v0.8h-0.8zM317.3,135.9h0.8v0.8h-0.8zM318.5,139.3h0.8v0.8h-0.8z" fill="#55a4f7"/><ellipse cx="308.1" cy="147.8" rx="2.0" ry="2.0" fill="#55a4f7"/><path d="M309.2,149.6h0.8v0.8h-0.8zM306.4,145.1h0.8v0.8h-0.8zM308.5,150.1h0.8v0.8h-0.8zM303.1,147.6h0.8v0.8h-0.8zM307.7,150.0h0.8v0.8h-0.8zM306.0,146.2h0.8v0.8h-0.8zM308.1,145.3h0.8v0.8h-0.8zM309.0,146.1h0.8v0.8h-0.8zM308.0,147.4h0.8v0.8h-0.8zM306.7,147.5h0.8v0.8h-0.8zM306.9,146.3h0.8v0.8h-0.8zM309.0,145.8h0.8v0.8h-0.8zM308.9,146.1h0.8v0.8h-0.8zM306.8,146.2h0.8v0.8h-0.8zM309.4,147.1h0.8v0.8h-0.8zM307.4,143.5h0.8v0.8h-0.8zM307.8,144.2h0.8v0.8h-0.8zM308.6,145.6h0.8v0.8h-0.8zM305.4,146.7h0.8v0.8h-0.8zM307.5,150.3h0.8v0.8h-0.8zM307.5,147.3h0.8v0.8h-0.8zM308.6,146.2h0.8v0.8h-0.8zM307.6,144.2h0.8v0.8h-0.8zM305.7,144.8h0.8v0.8h-0.8zM306.8,144.5h0.8v0.8h-0.8z" fill="#55a4f7"/><ellipse cx="320.5" cy="187.6" rx="0.8" ry="4.0" fill="#55a4f7"/><path d="M319.5,189.0h0.8v0.8h-0.8zM319.5,188.5h0.8v0.8h-0.8zM319.4,185.4h0.8v0.8h-0.8zM319.3,186.3h0.8v0.8h-0.8zM320.8,186.0h0.8v0.8h-0.8zM320.6,183.4h0.8v0.8h-0.8zM320.6,190.7h0.8v0.8h-0.8zM320.2,187.8h0.8v0.8h-0.8zM318.9,184.4h0.8v0.8h-0.8zM320.8,187.3h0.8v0.8h-0.8zM319.0,183.0h0.8v0.8h-0.8zM319.2,190.4h0.8v0.8h-0.8zM320.0,191.5h0.8v0.8h-0.8zM321.9,183.0h0.8v0.8h-0.8zM319.6,191.3h0.8v0.8h-0.8zM320.2,189.2h0.8v0.8h-0.8zM319.9,186.0h0.8v0.8h-0.8zM320.7,182.7h0.8v0.8h-0.8zM320.4,183.8h0.8v0.8h-0.8zM320.4,186.0h0.8v0.8h-0.8z" fill="#55a4f7"/><ellipse cx="321.3" cy="184.0" rx="0.7" ry="1.5" fill="#55a4f7"/><path d="M320.7,184.4h0.8v0.8h-0.8zM320.4,182.5h0.8v0.8h-0.8zM322.2,183.2h0.8v0.8h-0.8zM320.5,184.6h0.8v0.8h-0.8zM321.4,182.5h0.8v0.8h-0.8zM321.2,182.5h0.8v0.8h-0.8z" fill="#55a4f7"/><ellipse cx="286.3" cy="196.4" rx="0.8" ry="1.2" fill="#55a4f7"/><path d="M285.9,195.8h0.8v0.8h-0.8zM286.4,195.2h0.8v0.8h-0.8zM285.5,194.8h0.8v0.8h-0.8zM286.6,196.8h0.8v0.8h-0.8zM285.3,195.0h0.8v0.8h-0.8zM285.2,196.3h0.8v0.8h-0.8z" fill="#55a4f7"/><ellipse cx="355.0" cy="197.4" rx="1.8" ry="2.2" fill="#55a4f7"/><path d="M352.3,199.3h0.8v0.8h-0.8zM354.8,195.2h0.8v0.8h-0.8zM356.2,195.2h0.8v0.8h-0.8zM357.5,199.0h0.8v0.8h-0.8zM359.5,196.0h0.8v0.8h-0.8zM354.0,196.5h0.8v0.8h-0.8zM354.4,199.9h0.8v0.8h-0.8zM353.5,196.0h0.8v0.8h-0.8zM355.6,197.1h0.8v0.8h-0.8zM354.5,193.7h0.8v0.8h-0.8zM355.0,197.0h0.8v0.8h-0.8zM353.8,195.0h0.8v0.8h-0.8zM356.2,198.0h0.8v0.8h-0.8zM354.8,197.2h0.8v0.8h-0.8zM353.0,194.3h0.8v0.8h-0.8zM355.7,195.5h0.8v0.8h-0.8zM355.7,199.5h0.8v0.8h-0.8zM356.8,200.0h0.8v0.8h-0.8zM355.7,195.0h0.8v0.8h-0.8zM351.8,194.8h0.8v0.8h-0.8zM354.1,196.8h0.8v0.8h-0.8zM355.0,198.1h0.8v0.8h-0.8zM352.8,198.1h0.8v0.8h-0.8zM355.4,194.4h0.8v0.8h-0.8zM352.2,198.6h0.8v0.8h-0.8z" fill="#55a4f7"/>
<path d="M449.4,170.9C450.1,170.5 452.1,170.8 453.1,172.4C454.1,174.0 455.1,178.0 455.4,180.7C455.7,183.3 455.4,186.7 454.7,188.3C453.9,190.0 452.0,190.7 450.9,190.6C449.8,190.5 448.4,189.2 447.8,187.6C447.2,185.9 447.4,182.8 447.5,180.7C447.6,178.5 448.3,176.3 448.6,174.7C448.9,173.1 448.6,171.3 449.4,170.9Z" fill="#f0823a" /><path d="M447.6,184.9h0.75v0.75h-0.75zM453.4,189.4h0.75v0.75h-0.75zM455.2,184.8h0.75v0.75h-0.75zM453.8,189.1h0.75v0.75h-0.75zM454.2,188.0h0.75v0.75h-0.75zM457.6,179.8h0.75v0.75h-0.75zM449.6,189.7h0.75v0.75h-0.75zM452.7,190.1h0.75v0.75h-0.75zM453.2,172.4h0.75v0.75h-0.75zM453.7,174.4h0.75v0.75h-0.75zM455.3,185.4h0.75v0.75h-0.75zM454.9,187.5h0.75v0.75h-0.75zM451.7,172.4h0.75v0.75h-0.75zM455.3,181.4h0.75v0.75h-0.75zM447.9,183.4h0.75v0.75h-0.75zM447.3,187.8h0.75v0.75h-0.75zM454.4,177.2h0.75v0.75h-0.75zM449.1,175.3h0.75v0.75h-0.75zM451.6,172.1h0.75v0.75h-0.75zM447.9,180.1h0.75v0.75h-0.75zM454.3,188.1h0.75v0.75h-0.75zM447.8,178.4h0.75v0.75h-0.75zM454.9,179.0h0.75v0.75h-0.75zM455.6,177.5h0.75v0.75h-0.75zM448.6,188.5h0.75v0.75h-0.75zM453.3,189.1h0.75v0.75h-0.75zM448.0,184.3h0.75v0.75h-0.75zM448.0,176.3h0.75v0.75h-0.75zM455.5,181.9h0.75v0.75h-0.75zM449.8,189.0h0.75v0.75h-0.75zM447.2,184.9h0.75v0.75h-0.75zM450.0,189.5h0.75v0.75h-0.75zM454.4,188.0h0.75v0.75h-0.75zM452.4,190.1h0.75v0.75h-0.75zM447.9,177.2h0.75v0.75h-0.75zM453.1,189.4h0.75v0.75h-0.75zM447.5,181.4h0.75v0.75h-0.75zM447.5,183.0h0.75v0.75h-0.75zM446.8,181.4h0.75v0.75h-0.75zM455.1,181.3h0.75v0.75h-0.75zM447.9,174.9h0.75v0.75h-0.75zM455.1,177.6h0.75v0.75h-0.75zM454.5,188.4h0.75v0.75h-0.75zM448.3,174.5h0.75v0.75h-0.75zM450.8,190.1h0.75v0.75h-0.75zM451.6,171.9h0.75v0.75h-0.75zM451.9,189.9h0.75v0.75h-0.75zM454.3,186.4h0.75v0.75h-0.75zM453.6,175.3h0.75v0.75h-0.75zM451.8,191.3h0.75v0.75h-0.75zM454.9,184.7h0.75v0.75h-0.75zM453.1,190.3h0.75v0.75h-0.75zM454.8,181.8h0.75v0.75h-0.75zM456.5,181.5h0.75v0.75h-0.75zM448.8,188.7h0.75v0.75h-0.75zM454.2,188.0h0.75v0.75h-0.75zM448.7,176.0h0.75v0.75h-0.75zM453.3,174.5h0.75v0.75h-0.75zM454.0,174.1h0.75v0.75h-0.75zM448.7,187.4h0.75v0.75h-0.75zM447.8,180.0h0.75v0.75h-0.75zM455.1,185.9h0.75v0.75h-0.75zM450.8,190.3h0.75v0.75h-0.75zM455.1,188.6h0.75v0.75h-0.75zM447.7,186.9h0.75v0.75h-0.75zM448.3,177.0h0.75v0.75h-0.75zM448.8,177.9h0.75v0.75h-0.75zM452.1,189.9h0.75v0.75h-0.75zM447.3,183.3h0.75v0.75h-0.75zM454.2,187.6h0.75v0.75h-0.75zM450.8,170.5h0.75v0.75h-0.75zM455.2,181.9h0.75v0.75h-0.75zM451.9,170.9h0.75v0.75h-0.75z" fill="#f0823a"/>
<path d="M445.4,168.4 L449.5,172.5" stroke="#f0823a" stroke-width="1.3"/>
<path d="M447,197 Q450,201 453.5,199.5 Q456.5,198 457.5,194.5" stroke="#f0823a" stroke-width="2.6" fill="none"/>
<path d="M451.0,194.5C451.3,193.8 452.2,192.9 452.5,193.5C452.8,194.1 452.8,197.2 452.5,198.0C452.2,198.8 450.8,198.6 450.5,198.0C450.2,197.4 450.7,195.2 451.0,194.5Z" fill="#f0823a" /><path d="M450.3,197.4h0.75v0.75h-0.75zM450.8,196.6h0.75v0.75h-0.75zM451.7,194.5h0.75v0.75h-0.75zM453.0,193.7h0.75v0.75h-0.75zM452.2,196.8h0.75v0.75h-0.75zM450.7,197.5h0.75v0.75h-0.75zM450.4,198.6h0.75v0.75h-0.75zM452.1,194.0h0.75v0.75h-0.75zM451.5,194.6h0.75v0.75h-0.75zM452.7,193.4h0.75v0.75h-0.75zM452.8,195.6h0.75v0.75h-0.75zM451.9,194.5h0.75v0.75h-0.75zM452.1,198.8h0.75v0.75h-0.75zM452.3,195.0h0.75v0.75h-0.75zM450.9,195.2h0.75v0.75h-0.75zM451.1,195.9h0.75v0.75h-0.75zM452.4,193.9h0.75v0.75h-0.75zM452.4,196.2h0.75v0.75h-0.75z" fill="#f0823a"/>
<path d="M428.9,183.8C429.0,182.3 430.6,180.6 431.9,180.7C433.2,180.8 435.1,183.1 436.5,184.5C437.9,185.9 439.8,187.7 440.2,189.1C440.6,190.5 439.6,192.0 438.7,192.9C437.8,193.8 436.2,194.9 434.9,194.4C433.6,193.9 432.1,191.6 431.1,189.8C430.1,188.0 428.8,185.3 428.9,183.8Z" fill="#f0823a" /><path d="M440.4,189.4h0.75v0.75h-0.75zM434.2,181.9h0.75v0.75h-0.75zM429.6,185.6h0.75v0.75h-0.75zM437.9,187.2h0.75v0.75h-0.75zM429.5,183.8h0.75v0.75h-0.75zM429.8,185.3h0.75v0.75h-0.75zM429.9,186.4h0.75v0.75h-0.75zM439.3,191.8h0.75v0.75h-0.75zM429.3,182.6h0.75v0.75h-0.75zM435.5,194.2h0.75v0.75h-0.75zM439.4,190.6h0.75v0.75h-0.75zM436.6,185.5h0.75v0.75h-0.75zM438.3,184.6h0.75v0.75h-0.75zM431.7,189.9h0.75v0.75h-0.75zM438.0,186.4h0.75v0.75h-0.75zM439.3,191.6h0.75v0.75h-0.75zM433.2,191.2h0.75v0.75h-0.75zM438.7,192.2h0.75v0.75h-0.75zM437.6,193.0h0.75v0.75h-0.75zM429.6,186.9h0.75v0.75h-0.75zM430.5,186.3h0.75v0.75h-0.75zM430.9,182.0h0.75v0.75h-0.75zM437.6,193.5h0.75v0.75h-0.75zM435.6,194.6h0.75v0.75h-0.75zM432.9,194.0h0.75v0.75h-0.75zM431.5,181.8h0.75v0.75h-0.75zM433.6,182.7h0.75v0.75h-0.75zM434.2,193.7h0.75v0.75h-0.75zM438.2,185.2h0.75v0.75h-0.75zM437.7,193.2h0.75v0.75h-0.75zM436.8,185.8h0.75v0.75h-0.75zM439.4,187.9h0.75v0.75h-0.75zM430.1,187.6h0.75v0.75h-0.75zM434.5,192.9h0.75v0.75h-0.75zM433.3,192.6h0.75v0.75h-0.75zM438.5,193.1h0.75v0.75h-0.75zM430.2,182.7h0.75v0.75h-0.75zM430.2,180.6h0.75v0.75h-0.75zM429.5,183.5h0.75v0.75h-0.75zM430.7,188.0h0.75v0.75h-0.75zM432.0,180.7h0.75v0.75h-0.75zM430.5,189.0h0.75v0.75h-0.75zM433.9,181.7h0.75v0.75h-0.75zM435.2,183.2h0.75v0.75h-0.75zM430.4,186.8h0.75v0.75h-0.75zM439.9,189.9h0.75v0.75h-0.75zM428.7,183.6h0.75v0.75h-0.75zM433.4,180.8h0.75v0.75h-0.75zM430.3,183.1h0.75v0.75h-0.75zM434.9,182.2h0.75v0.75h-0.75zM431.0,189.9h0.75v0.75h-0.75zM438.0,186.7h0.75v0.75h-0.75zM435.1,183.8h0.75v0.75h-0.75zM438.6,192.6h0.75v0.75h-0.75zM435.4,183.7h0.75v0.75h-0.75zM429.6,186.7h0.75v0.75h-0.75zM438.6,192.7h0.75v0.75h-0.75zM430.5,181.7h0.75v0.75h-0.75z" fill="#f0823a"/>
<path d="M398.5,152.6C399.2,151.2 401.9,151.7 403.0,152.6C404.1,153.5 405.4,156.2 405.3,158.0C405.2,159.8 403.4,162.8 402.3,163.3C401.2,163.8 399.1,162.8 398.5,161.0C397.9,159.2 397.8,154.0 398.5,152.6Z" fill="#f0823a" /><path d="M404.3,156.2h0.75v0.75h-0.75zM404.4,156.5h0.75v0.75h-0.75zM402.5,162.1h0.75v0.75h-0.75zM397.9,155.6h0.75v0.75h-0.75zM404.3,160.5h0.75v0.75h-0.75zM401.6,163.6h0.75v0.75h-0.75zM398.2,159.5h0.75v0.75h-0.75zM398.9,154.4h0.75v0.75h-0.75zM399.7,161.6h0.75v0.75h-0.75zM397.5,159.6h0.75v0.75h-0.75zM398.8,160.6h0.75v0.75h-0.75zM398.6,158.7h0.75v0.75h-0.75zM403.4,155.2h0.75v0.75h-0.75zM398.2,154.5h0.75v0.75h-0.75zM401.0,152.9h0.75v0.75h-0.75zM404.4,159.4h0.75v0.75h-0.75zM403.5,162.0h0.75v0.75h-0.75zM401.3,152.9h0.75v0.75h-0.75zM405.1,159.6h0.75v0.75h-0.75zM398.7,161.1h0.75v0.75h-0.75zM402.2,163.1h0.75v0.75h-0.75zM404.5,153.2h0.75v0.75h-0.75zM404.4,155.7h0.75v0.75h-0.75zM404.3,156.2h0.75v0.75h-0.75zM398.9,159.5h0.75v0.75h-0.75zM404.5,157.2h0.75v0.75h-0.75zM402.4,152.5h0.75v0.75h-0.75zM398.2,161.3h0.75v0.75h-0.75zM398.7,158.6h0.75v0.75h-0.75zM398.2,156.7h0.75v0.75h-0.75zM399.4,153.1h0.75v0.75h-0.75zM398.4,154.2h0.75v0.75h-0.75zM397.9,153.9h0.75v0.75h-0.75zM401.1,162.2h0.75v0.75h-0.75zM398.3,158.2h0.75v0.75h-0.75zM397.2,152.6h0.75v0.75h-0.75zM401.0,152.7h0.75v0.75h-0.75zM404.0,157.0h0.75v0.75h-0.75zM403.9,161.8h0.75v0.75h-0.75zM397.6,153.8h0.75v0.75h-0.75zM405.1,155.6h0.75v0.75h-0.75zM404.8,156.6h0.75v0.75h-0.75zM398.7,158.4h0.75v0.75h-0.75zM401.2,162.6h0.75v0.75h-0.75zM399.1,156.6h0.75v0.75h-0.75zM401.8,151.8h0.75v0.75h-0.75z" fill="#f0823a"/>
<path d="M389.4,164.8C390.0,163.4 392.5,161.1 393.9,161.0C395.3,160.9 397.3,162.5 397.7,164.0C398.1,165.5 396.6,167.9 396.2,170.1C395.8,172.2 396.1,176.0 395.5,176.9C394.9,177.8 393.3,176.7 392.4,175.4C391.5,174.1 390.6,171.1 390.1,169.3C389.6,167.5 388.8,166.2 389.4,164.8Z" fill="#f0823a" /><path d="M397.4,164.1h0.75v0.75h-0.75zM390.0,170.1h0.75v0.75h-0.75zM390.9,172.4h0.75v0.75h-0.75zM389.9,164.4h0.75v0.75h-0.75zM394.3,176.3h0.75v0.75h-0.75zM391.7,174.0h0.75v0.75h-0.75zM389.8,166.3h0.75v0.75h-0.75zM389.9,165.0h0.75v0.75h-0.75zM389.8,167.7h0.75v0.75h-0.75zM396.3,168.8h0.75v0.75h-0.75zM390.5,170.7h0.75v0.75h-0.75zM396.4,169.1h0.75v0.75h-0.75zM396.0,173.1h0.75v0.75h-0.75zM389.6,166.3h0.75v0.75h-0.75zM391.2,162.9h0.75v0.75h-0.75zM390.4,162.8h0.75v0.75h-0.75zM389.7,170.6h0.75v0.75h-0.75zM389.9,165.5h0.75v0.75h-0.75zM392.3,174.5h0.75v0.75h-0.75zM391.7,162.7h0.75v0.75h-0.75zM397.0,164.8h0.75v0.75h-0.75zM393.1,175.8h0.75v0.75h-0.75zM395.5,174.6h0.75v0.75h-0.75zM394.6,162.2h0.75v0.75h-0.75zM398.1,165.0h0.75v0.75h-0.75zM394.8,176.5h0.75v0.75h-0.75zM392.3,163.2h0.75v0.75h-0.75zM396.3,173.7h0.75v0.75h-0.75zM395.8,173.7h0.75v0.75h-0.75zM396.5,166.6h0.75v0.75h-0.75zM389.8,165.8h0.75v0.75h-0.75zM395.3,162.7h0.75v0.75h-0.75zM394.7,162.0h0.75v0.75h-0.75zM391.2,163.2h0.75v0.75h-0.75zM397.4,166.7h0.75v0.75h-0.75zM389.1,164.9h0.75v0.75h-0.75zM395.9,173.1h0.75v0.75h-0.75zM394.9,176.1h0.75v0.75h-0.75zM396.3,169.3h0.75v0.75h-0.75zM389.8,166.8h0.75v0.75h-0.75zM391.9,174.6h0.75v0.75h-0.75zM390.9,163.7h0.75v0.75h-0.75zM393.2,161.9h0.75v0.75h-0.75zM393.9,162.1h0.75v0.75h-0.75zM391.9,162.6h0.75v0.75h-0.75zM390.8,169.4h0.75v0.75h-0.75zM396.7,169.4h0.75v0.75h-0.75zM391.6,173.0h0.75v0.75h-0.75zM389.7,165.9h0.75v0.75h-0.75zM396.0,172.0h0.75v0.75h-0.75zM394.3,175.8h0.75v0.75h-0.75zM396.5,174.9h0.75v0.75h-0.75zM397.0,163.8h0.75v0.75h-0.75zM394.7,176.5h0.75v0.75h-0.75zM393.6,162.2h0.75v0.75h-0.75zM396.3,170.1h0.75v0.75h-0.75zM396.0,171.1h0.75v0.75h-0.75zM391.9,173.4h0.75v0.75h-0.75zM395.4,172.6h0.75v0.75h-0.75zM393.7,175.9h0.75v0.75h-0.75zM396.6,168.8h0.75v0.75h-0.75z" fill="#f0823a"/>
<path d="M418.4,139.0C418.7,138.0 419.3,137.4 420.0,137.5C420.7,137.6 422.2,138.4 422.6,139.5C423.0,140.6 422.9,142.9 422.5,144.0C422.1,145.1 420.7,145.9 420.0,145.8C419.3,145.7 418.5,144.6 418.2,143.5C417.9,142.4 418.1,140.0 418.4,139.0Z" fill="#f0823a" /><path d="M420.9,144.7h0.75v0.75h-0.75zM421.1,145.0h0.75v0.75h-0.75zM422.5,140.0h0.75v0.75h-0.75zM422.1,143.9h0.75v0.75h-0.75zM418.6,139.9h0.75v0.75h-0.75zM422.3,140.3h0.75v0.75h-0.75zM422.5,140.0h0.75v0.75h-0.75zM420.8,144.7h0.75v0.75h-0.75zM417.0,139.2h0.75v0.75h-0.75zM419.5,138.1h0.75v0.75h-0.75zM419.3,144.6h0.75v0.75h-0.75zM421.2,138.9h0.75v0.75h-0.75zM421.6,138.1h0.75v0.75h-0.75zM420.8,138.8h0.75v0.75h-0.75zM419.4,144.9h0.75v0.75h-0.75zM419.9,145.8h0.75v0.75h-0.75zM422.5,141.2h0.75v0.75h-0.75zM418.4,142.3h0.75v0.75h-0.75zM421.9,144.3h0.75v0.75h-0.75zM418.5,139.7h0.75v0.75h-0.75zM418.0,141.7h0.75v0.75h-0.75zM419.4,138.2h0.75v0.75h-0.75zM422.4,143.9h0.75v0.75h-0.75zM422.7,140.1h0.75v0.75h-0.75zM419.3,145.1h0.75v0.75h-0.75zM422.1,144.7h0.75v0.75h-0.75zM418.4,144.1h0.75v0.75h-0.75zM420.2,145.8h0.75v0.75h-0.75zM419.2,144.4h0.75v0.75h-0.75zM423.4,143.7h0.75v0.75h-0.75zM420.5,144.7h0.75v0.75h-0.75zM423.2,137.9h0.75v0.75h-0.75z" fill="#f0823a"/>
<path d="M416.3,131 L418.5,136.5" stroke="#f0823a" stroke-width="1.7"/>
<path d="M462.4,147.2h1.1v0.9h-1.1zM391.7,141.6h0.9v0.9h-0.9zM406.9,149.2h0.9v0.9h-0.9zM400.0,150.2h1.0v0.7h-1.0zM406.1,157.1h0.9v0.9h-0.9zM393.5,177.8h1.0v1.5h-1.0zM387.8,199.8h0.9v0.9h-0.9zM405.7,210.4h0.9v0.9h-0.9zM413.7,206.4h0.9v0.9h-0.9zM415.2,214.0h0.9v0.9h-0.9zM417.4,215.6h0.9v0.9h-0.9zM420.9,179.2h0.9v1.5h-0.9zM422.4,184.6h0.8v1.5h-0.8zM420.6,189.9h1.5v0.8h-1.5zM427.7,190.2h0.9v0.9h-0.9zM439.3,195.0h1.1v1.1h-1.1zM461.2,186.2h1.1v1.1h-1.1zM461.9,197.0h0.9v0.9h-0.9z" fill="#f0823a" stroke="#f0823a" stroke-width="0.6" stroke-linejoin="round"/><ellipse cx="426.9" cy="131.1" rx="1.2" ry="1.2" fill="#f0823a"/><path d="M425.6,130.6h0.8v0.8h-0.8zM427.9,128.1h0.8v0.8h-0.8zM425.5,129.4h0.8v0.8h-0.8zM425.7,131.1h0.8v0.8h-0.8zM429.5,130.5h0.8v0.8h-0.8zM427.4,132.8h0.8v0.8h-0.8zM427.4,130.6h0.8v0.8h-0.8zM425.5,132.1h0.8v0.8h-0.8zM425.8,130.5h0.8v0.8h-0.8zM423.3,130.4h0.8v0.8h-0.8z" fill="#f0823a"/><ellipse cx="395.9" cy="182.2" rx="1.5" ry="0.9" fill="#f0823a"/><path d="M394.8,182.4h0.8v0.8h-0.8zM394.6,182.5h0.8v0.8h-0.8zM393.9,181.3h0.8v0.8h-0.8zM397.2,181.2h0.8v0.8h-0.8zM394.8,183.2h0.8v0.8h-0.8zM394.1,182.7h0.8v0.8h-0.8zM394.6,181.9h0.8v0.8h-0.8zM396.5,181.4h0.8v0.8h-0.8z" fill="#f0823a"/><ellipse cx="387.4" cy="195.1" rx="1.5" ry="1.3" fill="#f0823a"/><path d="M383.8,194.8h0.8v0.8h-0.8zM388.8,196.1h0.8v0.8h-0.8zM385.4,192.5h0.8v0.8h-0.8zM387.7,194.3h0.8v0.8h-0.8zM389.0,196.5h0.8v0.8h-0.8zM385.2,194.7h0.8v0.8h-0.8zM386.0,194.3h0.8v0.8h-0.8zM387.0,193.5h0.8v0.8h-0.8zM387.0,197.2h0.8v0.8h-0.8zM387.8,193.6h0.8v0.8h-0.8zM387.7,195.8h0.8v0.8h-0.8zM387.5,193.4h0.8v0.8h-0.8z" fill="#f0823a"/><ellipse cx="422.0" cy="177.2" rx="2.0" ry="0.7" fill="#f0823a"/><path d="M422.1,175.8h0.8v0.8h-0.8zM420.9,177.0h0.8v0.8h-0.8zM421.9,176.1h0.8v0.8h-0.8zM421.7,177.3h0.8v0.8h-0.8zM420.4,176.3h0.8v0.8h-0.8zM421.3,176.3h0.8v0.8h-0.8zM423.4,177.5h0.8v0.8h-0.8zM422.8,176.1h0.8v0.8h-0.8z" fill="#f0823a"/>
<circle cx="454.4" cy="131.5" r="2.4" fill="#f0823a"/><path d="M473.2,164.8 L475.8,163" stroke="#f0823a" stroke-width="1.5"/>
<path d="M507.6,132.1C507.9,130.8 508.5,128.3 509.9,127.6C511.3,126.9 513.9,127.7 516.0,127.9C518.1,128.1 521.9,128.2 522.8,128.8C523.7,129.5 522.3,130.7 521.3,131.8C520.3,132.9 518.4,134.3 516.7,135.2C515.1,136.1 512.8,137.0 511.4,137.0C510.0,137.0 509.0,136.0 508.4,135.2C507.8,134.4 507.4,133.4 507.6,132.1Z" fill="#6fe9d6" /><path d="M511.0,137.8h0.75v0.75h-0.75zM509.6,128.6h0.75v0.75h-0.75zM518.2,128.4h0.75v0.75h-0.75zM514.4,128.1h0.75v0.75h-0.75zM510.0,127.8h0.75v0.75h-0.75zM516.1,135.6h0.75v0.75h-0.75zM508.1,135.5h0.75v0.75h-0.75zM513.6,126.6h0.75v0.75h-0.75zM514.2,136.1h0.75v0.75h-0.75zM510.7,128.0h0.75v0.75h-0.75zM518.5,127.8h0.75v0.75h-0.75zM517.7,134.3h0.75v0.75h-0.75zM516.6,134.4h0.75v0.75h-0.75zM517.0,135.2h0.75v0.75h-0.75zM511.9,137.0h0.75v0.75h-0.75zM513.5,128.0h0.75v0.75h-0.75zM521.2,129.5h0.75v0.75h-0.75zM508.6,129.6h0.75v0.75h-0.75zM512.8,128.2h0.75v0.75h-0.75zM512.4,137.7h0.75v0.75h-0.75zM519.3,132.7h0.75v0.75h-0.75zM521.6,130.0h0.75v0.75h-0.75zM519.0,133.4h0.75v0.75h-0.75zM521.0,130.7h0.75v0.75h-0.75zM513.0,126.7h0.75v0.75h-0.75zM521.8,128.2h0.75v0.75h-0.75zM520.5,131.5h0.75v0.75h-0.75zM508.0,131.7h0.75v0.75h-0.75zM516.5,134.8h0.75v0.75h-0.75zM508.2,130.9h0.75v0.75h-0.75zM521.7,130.8h0.75v0.75h-0.75zM521.9,131.4h0.75v0.75h-0.75zM518.2,133.8h0.75v0.75h-0.75zM513.5,135.7h0.75v0.75h-0.75zM517.4,128.2h0.75v0.75h-0.75zM521.8,130.2h0.75v0.75h-0.75zM509.8,127.8h0.75v0.75h-0.75zM517.2,135.2h0.75v0.75h-0.75zM514.4,136.4h0.75v0.75h-0.75zM508.4,134.5h0.75v0.75h-0.75zM517.1,127.1h0.75v0.75h-0.75zM509.6,129.0h0.75v0.75h-0.75zM508.8,130.0h0.75v0.75h-0.75zM519.6,128.9h0.75v0.75h-0.75zM507.8,133.9h0.75v0.75h-0.75zM510.8,127.5h0.75v0.75h-0.75zM520.3,132.9h0.75v0.75h-0.75zM513.7,135.9h0.75v0.75h-0.75zM519.5,132.8h0.75v0.75h-0.75zM512.8,127.9h0.75v0.75h-0.75zM509.7,128.9h0.75v0.75h-0.75zM514.4,128.9h0.75v0.75h-0.75zM516.7,127.6h0.75v0.75h-0.75zM509.4,135.4h0.75v0.75h-0.75zM518.5,133.5h0.75v0.75h-0.75zM513.7,127.4h0.75v0.75h-0.75zM512.4,126.5h0.75v0.75h-0.75zM510.8,136.5h0.75v0.75h-0.75zM521.6,131.1h0.75v0.75h-0.75zM506.2,132.6h0.75v0.75h-0.75zM509.2,135.6h0.75v0.75h-0.75zM511.3,127.7h0.75v0.75h-0.75zM517.3,135.3h0.75v0.75h-0.75z" fill="#6fe9d6"/>
<path d="M533.4,180.7C533.8,179.2 534.6,176.7 535.7,175.4C536.8,174.1 538.7,173.1 540.2,173.1C541.7,173.1 543.9,174.1 544.8,175.4C545.7,176.7 546.1,179.0 545.6,180.7C545.1,182.3 542.3,183.5 541.8,185.3C541.3,187.1 543.3,190.4 542.5,191.4C541.7,192.4 539.1,191.7 537.2,191.4C535.3,191.1 532.8,190.3 531.1,189.8C529.4,189.3 527.3,188.9 526.9,188.3C526.5,187.7 527.8,186.6 528.9,186.0C530.0,185.4 532.6,185.4 533.4,184.5C534.1,183.6 533.0,182.2 533.4,180.7Z" fill="#6fe9d6" /><path d="M543.6,175.1h0.75v0.75h-0.75zM541.4,192.7h0.75v0.75h-0.75zM527.0,188.2h0.75v0.75h-0.75zM533.9,184.4h0.75v0.75h-0.75zM535.3,176.0h0.75v0.75h-0.75zM536.9,191.3h0.75v0.75h-0.75zM535.3,177.7h0.75v0.75h-0.75zM533.6,182.1h0.75v0.75h-0.75zM531.7,189.9h0.75v0.75h-0.75zM545.0,176.9h0.75v0.75h-0.75zM533.7,181.4h0.75v0.75h-0.75zM534.5,178.6h0.75v0.75h-0.75zM544.8,179.0h0.75v0.75h-0.75zM543.2,174.2h0.75v0.75h-0.75zM536.2,175.7h0.75v0.75h-0.75zM531.9,190.2h0.75v0.75h-0.75zM540.5,192.3h0.75v0.75h-0.75zM542.4,191.2h0.75v0.75h-0.75zM543.8,185.1h0.75v0.75h-0.75zM542.6,190.9h0.75v0.75h-0.75zM538.7,174.4h0.75v0.75h-0.75zM542.2,191.1h0.75v0.75h-0.75zM534.2,179.2h0.75v0.75h-0.75zM537.1,191.3h0.75v0.75h-0.75zM534.3,179.2h0.75v0.75h-0.75zM541.9,185.4h0.75v0.75h-0.75zM534.7,176.2h0.75v0.75h-0.75zM544.1,182.5h0.75v0.75h-0.75zM541.4,186.6h0.75v0.75h-0.75zM535.1,176.0h0.75v0.75h-0.75zM544.5,175.8h0.75v0.75h-0.75zM541.6,188.3h0.75v0.75h-0.75zM529.9,186.3h0.75v0.75h-0.75zM528.4,188.7h0.75v0.75h-0.75zM533.4,179.6h0.75v0.75h-0.75zM541.9,186.6h0.75v0.75h-0.75zM536.7,175.7h0.75v0.75h-0.75zM538.4,174.2h0.75v0.75h-0.75zM540.9,173.2h0.75v0.75h-0.75zM541.6,188.3h0.75v0.75h-0.75zM535.3,176.1h0.75v0.75h-0.75zM545.1,179.6h0.75v0.75h-0.75zM539.6,173.5h0.75v0.75h-0.75zM530.8,186.1h0.75v0.75h-0.75zM545.4,180.1h0.75v0.75h-0.75zM545.1,179.8h0.75v0.75h-0.75zM534.7,177.6h0.75v0.75h-0.75zM543.1,184.1h0.75v0.75h-0.75zM539.1,173.2h0.75v0.75h-0.75zM543.3,188.4h0.75v0.75h-0.75zM545.1,182.5h0.75v0.75h-0.75zM527.9,188.2h0.75v0.75h-0.75zM535.6,191.4h0.75v0.75h-0.75zM544.5,181.6h0.75v0.75h-0.75zM527.4,188.7h0.75v0.75h-0.75zM532.7,190.8h0.75v0.75h-0.75zM536.7,173.7h0.75v0.75h-0.75zM530.6,185.6h0.75v0.75h-0.75zM533.7,179.1h0.75v0.75h-0.75zM534.5,191.2h0.75v0.75h-0.75zM527.2,186.7h0.75v0.75h-0.75zM539.7,173.8h0.75v0.75h-0.75zM535.5,175.4h0.75v0.75h-0.75zM543.6,189.5h0.75v0.75h-0.75zM538.2,174.3h0.75v0.75h-0.75zM542.5,185.6h0.75v0.75h-0.75zM538.6,192.4h0.75v0.75h-0.75zM527.9,189.3h0.75v0.75h-0.75zM531.5,184.8h0.75v0.75h-0.75zM539.5,191.9h0.75v0.75h-0.75zM537.0,174.6h0.75v0.75h-0.75zM545.3,179.2h0.75v0.75h-0.75zM541.2,186.1h0.75v0.75h-0.75zM531.6,189.6h0.75v0.75h-0.75zM532.5,190.3h0.75v0.75h-0.75zM544.6,178.8h0.75v0.75h-0.75zM534.6,191.0h0.75v0.75h-0.75zM536.7,190.9h0.75v0.75h-0.75zM534.1,178.8h0.75v0.75h-0.75zM543.5,175.3h0.75v0.75h-0.75zM531.6,190.2h0.75v0.75h-0.75zM538.3,191.3h0.75v0.75h-0.75zM533.8,184.6h0.75v0.75h-0.75zM541.8,185.4h0.75v0.75h-0.75zM543.8,182.3h0.75v0.75h-0.75zM533.8,180.0h0.75v0.75h-0.75zM544.1,175.4h0.75v0.75h-0.75zM532.9,182.0h0.75v0.75h-0.75zM536.3,190.8h0.75v0.75h-0.75zM530.0,190.3h0.75v0.75h-0.75zM530.0,188.9h0.75v0.75h-0.75zM542.6,173.7h0.75v0.75h-0.75zM527.3,188.7h0.75v0.75h-0.75zM542.2,184.6h0.75v0.75h-0.75zM544.7,182.3h0.75v0.75h-0.75zM539.8,192.1h0.75v0.75h-0.75zM527.8,188.8h0.75v0.75h-0.75z" fill="#6fe9d6"/>
<path d="M504.9,132.8h0.7v0.7h-0.7zM518.3,135.8h0.9v1.5h-0.9zM566.4,148.0h0.8v0.8h-0.8zM574.2,164.1h0.8v0.8h-0.8zM562.5,196.9h1.1v0.9h-1.1z" fill="#6fe9d6" stroke="#6fe9d6" stroke-width="0.6" stroke-linejoin="round"/><ellipse cx="519.7" cy="143.5" rx="0.8" ry="2.2" fill="#6fe9d6"/><path d="M518.9,143.0h0.8v0.8h-0.8zM519.0,144.2h0.8v0.8h-0.8zM519.6,142.3h0.8v0.8h-0.8zM519.3,144.8h0.8v0.8h-0.8zM519.5,142.5h0.8v0.8h-0.8zM519.4,142.6h0.8v0.8h-0.8zM519.1,141.9h0.8v0.8h-0.8zM519.1,142.7h0.8v0.8h-0.8zM519.7,146.4h0.8v0.8h-0.8zM520.8,142.5h0.8v0.8h-0.8z" fill="#6fe9d6"/><ellipse cx="560.0" cy="182.5" rx="1.2" ry="1.2" fill="#6fe9d6"/><path d="M560.6,183.1h0.8v0.8h-0.8zM559.5,183.2h0.8v0.8h-0.8zM561.2,183.0h0.8v0.8h-0.8zM558.9,181.7h0.8v0.8h-0.8zM559.1,183.4h0.8v0.8h-0.8zM558.3,182.5h0.8v0.8h-0.8zM559.3,180.6h0.8v0.8h-0.8zM558.4,181.3h0.8v0.8h-0.8zM559.4,181.9h0.8v0.8h-0.8z" fill="#6fe9d6"/>
<path d="M536.3,165.5 L538.3,167.3" stroke="#6fe9d6" stroke-width="1.6"/>
<path d="M647.5,198.9C648.0,198.2 651.2,198.0 653.0,197.3C654.8,196.6 657.2,194.4 658.4,194.7C659.6,195.0 660.1,197.2 660.0,198.9C659.9,200.6 658.7,203.5 657.7,205.1C656.7,206.7 655.0,208.6 653.8,208.7C652.6,208.8 651.2,207.2 650.6,205.9C650.0,204.7 650.4,202.4 649.9,201.2C649.4,200.0 647.0,199.6 647.5,198.9Z" fill="#e2431c" /><path d="M658.6,194.7h0.75v0.75h-0.75zM656.9,206.0h0.75v0.75h-0.75zM651.6,206.6h0.75v0.75h-0.75zM652.3,208.2h0.75v0.75h-0.75zM660.1,200.2h0.75v0.75h-0.75zM660.1,198.8h0.75v0.75h-0.75zM649.8,202.7h0.75v0.75h-0.75zM650.1,202.1h0.75v0.75h-0.75zM658.0,194.6h0.75v0.75h-0.75zM648.9,204.6h0.75v0.75h-0.75zM652.2,197.6h0.75v0.75h-0.75zM652.0,207.4h0.75v0.75h-0.75zM650.7,206.2h0.75v0.75h-0.75zM652.2,208.0h0.75v0.75h-0.75zM652.4,197.4h0.75v0.75h-0.75zM658.3,195.5h0.75v0.75h-0.75zM649.1,198.5h0.75v0.75h-0.75zM660.4,196.9h0.75v0.75h-0.75zM651.0,204.9h0.75v0.75h-0.75zM658.8,196.5h0.75v0.75h-0.75zM656.9,195.0h0.75v0.75h-0.75zM654.5,207.7h0.75v0.75h-0.75zM659.7,202.5h0.75v0.75h-0.75zM658.9,199.8h0.75v0.75h-0.75zM659.4,200.8h0.75v0.75h-0.75zM653.3,197.2h0.75v0.75h-0.75zM652.0,196.0h0.75v0.75h-0.75zM661.4,197.4h0.75v0.75h-0.75zM657.7,203.4h0.75v0.75h-0.75zM658.4,194.7h0.75v0.75h-0.75zM659.3,200.4h0.75v0.75h-0.75zM648.4,199.6h0.75v0.75h-0.75zM659.2,197.3h0.75v0.75h-0.75zM651.2,197.0h0.75v0.75h-0.75zM655.5,207.3h0.75v0.75h-0.75zM654.9,196.2h0.75v0.75h-0.75zM657.0,195.7h0.75v0.75h-0.75zM655.3,208.5h0.75v0.75h-0.75zM657.9,204.6h0.75v0.75h-0.75zM649.6,201.3h0.75v0.75h-0.75zM658.3,203.5h0.75v0.75h-0.75zM658.5,195.1h0.75v0.75h-0.75zM656.4,205.4h0.75v0.75h-0.75zM650.5,206.2h0.75v0.75h-0.75zM647.7,197.7h0.75v0.75h-0.75zM659.0,200.9h0.75v0.75h-0.75zM653.2,196.4h0.75v0.75h-0.75zM650.7,205.0h0.75v0.75h-0.75zM647.9,198.0h0.75v0.75h-0.75zM653.4,208.1h0.75v0.75h-0.75zM656.8,195.5h0.75v0.75h-0.75zM653.2,197.9h0.75v0.75h-0.75zM654.7,208.1h0.75v0.75h-0.75zM657.4,205.1h0.75v0.75h-0.75zM648.6,199.3h0.75v0.75h-0.75zM659.1,201.6h0.75v0.75h-0.75zM650.2,205.3h0.75v0.75h-0.75zM659.3,198.1h0.75v0.75h-0.75zM659.7,199.1h0.75v0.75h-0.75zM648.5,198.6h0.75v0.75h-0.75zM659.9,199.3h0.75v0.75h-0.75zM649.3,198.2h0.75v0.75h-0.75zM657.7,204.9h0.75v0.75h-0.75zM648.1,201.4h0.75v0.75h-0.75z" fill="#e2431c"/>
<path d="M623.0,178.5C623.6,177.2 626.1,177.1 626.8,178.3C627.5,179.6 626.9,184.2 627.0,186.0C627.1,187.8 628.0,188.3 627.5,189.0C627.0,189.7 625.0,189.7 624.0,190.0C623.0,190.3 621.9,191.2 621.5,191.0C621.1,190.8 621.5,189.3 621.8,188.5C622.1,187.7 623.1,187.7 623.3,186.0C623.5,184.3 622.4,179.8 623.0,178.5Z" fill="#e2431c" /><path d="M626.9,189.6h0.75v0.75h-0.75zM623.4,178.8h0.75v0.75h-0.75zM626.3,181.3h0.75v0.75h-0.75zM626.2,180.9h0.75v0.75h-0.75zM623.3,190.8h0.75v0.75h-0.75zM623.6,178.9h0.75v0.75h-0.75zM622.2,182.7h0.75v0.75h-0.75zM627.2,187.3h0.75v0.75h-0.75zM621.9,190.0h0.75v0.75h-0.75zM623.7,186.6h0.75v0.75h-0.75zM623.3,180.8h0.75v0.75h-0.75zM626.2,189.8h0.75v0.75h-0.75zM626.4,179.0h0.75v0.75h-0.75zM621.7,190.9h0.75v0.75h-0.75zM623.1,178.9h0.75v0.75h-0.75zM622.0,189.7h0.75v0.75h-0.75zM621.9,186.0h0.75v0.75h-0.75zM626.1,180.5h0.75v0.75h-0.75zM626.8,180.8h0.75v0.75h-0.75zM622.3,181.1h0.75v0.75h-0.75zM623.7,190.3h0.75v0.75h-0.75zM621.3,190.4h0.75v0.75h-0.75zM625.3,178.2h0.75v0.75h-0.75zM623.3,178.9h0.75v0.75h-0.75zM626.4,181.3h0.75v0.75h-0.75zM627.0,186.6h0.75v0.75h-0.75zM626.5,186.1h0.75v0.75h-0.75zM625.0,178.4h0.75v0.75h-0.75zM623.4,182.7h0.75v0.75h-0.75zM624.0,179.6h0.75v0.75h-0.75zM626.7,185.8h0.75v0.75h-0.75zM627.0,184.0h0.75v0.75h-0.75zM620.9,188.9h0.75v0.75h-0.75zM623.8,190.6h0.75v0.75h-0.75zM623.0,185.7h0.75v0.75h-0.75zM621.1,189.9h0.75v0.75h-0.75zM627.6,188.2h0.75v0.75h-0.75zM627.1,186.6h0.75v0.75h-0.75zM622.7,183.4h0.75v0.75h-0.75zM627.8,185.8h0.75v0.75h-0.75zM625.6,189.6h0.75v0.75h-0.75zM622.9,180.0h0.75v0.75h-0.75zM626.8,184.8h0.75v0.75h-0.75zM626.4,179.6h0.75v0.75h-0.75zM626.7,177.9h0.75v0.75h-0.75zM622.5,188.1h0.75v0.75h-0.75zM622.6,178.8h0.75v0.75h-0.75zM627.5,188.4h0.75v0.75h-0.75zM622.4,190.9h0.75v0.75h-0.75zM624.7,189.5h0.75v0.75h-0.75zM621.5,182.9h0.75v0.75h-0.75zM620.7,190.0h0.75v0.75h-0.75zM622.6,186.3h0.75v0.75h-0.75zM626.5,180.2h0.75v0.75h-0.75z" fill="#e2431c"/>
<path d="M630.3,189.0C630.7,188.4 632.1,187.7 633.0,187.5C633.9,187.3 635.6,187.4 635.8,187.8C636.0,188.2 634.6,189.4 634.0,190.0C633.4,190.6 632.5,191.1 632.0,191.3C631.5,191.5 631.1,191.4 630.8,191.0C630.5,190.6 629.9,189.6 630.3,189.0Z" fill="#e2431c" /><path d="M631.8,191.1h0.75v0.75h-0.75zM630.7,189.9h0.75v0.75h-0.75zM630.3,189.8h0.75v0.75h-0.75zM635.3,188.3h0.75v0.75h-0.75zM634.4,187.4h0.75v0.75h-0.75zM630.9,188.6h0.75v0.75h-0.75zM633.2,187.1h0.75v0.75h-0.75zM635.9,188.4h0.75v0.75h-0.75zM630.8,191.1h0.75v0.75h-0.75zM631.0,189.4h0.75v0.75h-0.75zM631.1,190.9h0.75v0.75h-0.75zM634.7,188.9h0.75v0.75h-0.75zM635.7,188.5h0.75v0.75h-0.75zM634.6,189.9h0.75v0.75h-0.75zM630.3,188.9h0.75v0.75h-0.75zM632.2,187.2h0.75v0.75h-0.75zM633.2,191.6h0.75v0.75h-0.75zM634.3,188.7h0.75v0.75h-0.75zM628.7,189.5h0.75v0.75h-0.75zM634.8,188.2h0.75v0.75h-0.75zM632.7,190.5h0.75v0.75h-0.75zM635.1,187.2h0.75v0.75h-0.75zM634.3,190.1h0.75v0.75h-0.75z" fill="#e2431c"/>
<path d="M657.9,173.3 L660.3,176.8" stroke="#e2431c" stroke-width="1.5"/>
<path d="M636.6,186.8h0.8v0.8h-0.8zM638.5,185.0h0.7v0.7h-0.7zM640.1,182.1h0.8v0.8h-0.8zM628.3,130.7h1.0v1.0h-1.0zM595.0,139.7h0.9v0.9h-0.9zM607.4,207.9h1.3v0.9h-1.3zM623.1,176.9h0.9v0.9h-0.9z" fill="#e2431c" stroke="#e2431c" stroke-width="0.6" stroke-linejoin="round"/>
<path d="M295,243.2 Q290.8,243.5 290.5,247.5 L291,251.2" stroke="#66f582" stroke-width="1.7" fill="none"/>
<path d="M292.2,265.3 L293.6,267.3 L296,266" stroke="#66f582" stroke-width="1.3" fill="none"/>
<path d="M334.0,289.0C334.2,288.2 335.2,287.2 336.0,287.0C336.8,286.8 338.0,288.5 339.0,288.0C340.0,287.5 341.1,284.9 342.0,284.0C342.9,283.1 343.9,282.4 344.5,282.7C345.1,283.0 346.1,284.9 345.9,286.0C345.7,287.1 344.5,288.2 343.5,289.0C342.5,289.8 341.0,289.8 340.0,290.5C339.0,291.2 338.3,292.9 337.5,293.1C336.7,293.4 335.6,292.7 335.0,292.0C334.4,291.3 333.8,289.8 334.0,289.0Z" fill="#66f582" /><path d="M337.9,292.5h0.75v0.75h-0.75zM344.1,289.4h0.75v0.75h-0.75zM339.2,286.7h0.75v0.75h-0.75zM344.8,286.9h0.75v0.75h-0.75zM334.1,288.0h0.75v0.75h-0.75zM337.5,287.1h0.75v0.75h-0.75zM345.3,284.8h0.75v0.75h-0.75zM336.7,286.4h0.75v0.75h-0.75zM333.4,289.5h0.75v0.75h-0.75zM343.4,288.4h0.75v0.75h-0.75zM338.2,291.5h0.75v0.75h-0.75zM337.5,287.7h0.75v0.75h-0.75zM336.2,287.4h0.75v0.75h-0.75zM339.0,292.0h0.75v0.75h-0.75zM335.1,291.2h0.75v0.75h-0.75zM333.0,289.7h0.75v0.75h-0.75zM346.4,286.6h0.75v0.75h-0.75zM340.9,290.6h0.75v0.75h-0.75zM345.5,284.9h0.75v0.75h-0.75zM334.2,288.9h0.75v0.75h-0.75zM340.3,286.6h0.75v0.75h-0.75zM333.5,288.5h0.75v0.75h-0.75zM337.7,288.2h0.75v0.75h-0.75zM336.5,287.4h0.75v0.75h-0.75zM340.0,286.4h0.75v0.75h-0.75zM335.8,292.7h0.75v0.75h-0.75zM346.4,283.2h0.75v0.75h-0.75zM337.3,292.7h0.75v0.75h-0.75zM342.0,282.8h0.75v0.75h-0.75zM345.4,286.2h0.75v0.75h-0.75zM344.7,283.4h0.75v0.75h-0.75zM341.4,290.6h0.75v0.75h-0.75zM343.3,284.2h0.75v0.75h-0.75zM334.4,289.2h0.75v0.75h-0.75zM338.6,288.2h0.75v0.75h-0.75zM341.6,285.2h0.75v0.75h-0.75zM339.5,291.7h0.75v0.75h-0.75zM344.8,287.8h0.75v0.75h-0.75zM343.5,288.7h0.75v0.75h-0.75zM343.7,288.1h0.75v0.75h-0.75zM338.8,287.5h0.75v0.75h-0.75zM338.0,292.9h0.75v0.75h-0.75zM341.0,283.8h0.75v0.75h-0.75zM342.7,284.0h0.75v0.75h-0.75zM339.0,287.8h0.75v0.75h-0.75zM343.4,288.5h0.75v0.75h-0.75zM335.0,289.7h0.75v0.75h-0.75zM334.6,291.5h0.75v0.75h-0.75zM344.5,288.9h0.75v0.75h-0.75zM334.2,288.9h0.75v0.75h-0.75zM338.6,288.6h0.75v0.75h-0.75zM333.1,290.0h0.75v0.75h-0.75zM345.3,285.2h0.75v0.75h-0.75zM339.3,287.3h0.75v0.75h-0.75zM343.3,283.0h0.75v0.75h-0.75z" fill="#66f582"/>
<path d="M357.2,287.0C357.3,286.2 358.6,285.6 359.5,285.6C360.4,285.6 361.7,286.3 362.5,287.0C363.3,287.7 364.5,289.2 364.4,290.0C364.3,290.8 362.9,291.8 362.0,291.9C361.1,292.0 359.8,291.3 359.0,290.5C358.2,289.7 357.1,287.8 357.2,287.0Z" fill="#66f582" /><path d="M364.4,289.6h0.75v0.75h-0.75zM361.7,287.0h0.75v0.75h-0.75zM359.5,290.8h0.75v0.75h-0.75zM364.0,290.5h0.75v0.75h-0.75zM364.7,290.3h0.75v0.75h-0.75zM362.9,290.4h0.75v0.75h-0.75zM359.1,290.5h0.75v0.75h-0.75zM364.3,289.0h0.75v0.75h-0.75zM360.6,285.5h0.75v0.75h-0.75zM357.7,287.0h0.75v0.75h-0.75zM360.8,286.0h0.75v0.75h-0.75zM357.4,288.3h0.75v0.75h-0.75zM363.0,286.8h0.75v0.75h-0.75zM356.8,287.7h0.75v0.75h-0.75zM363.4,287.5h0.75v0.75h-0.75zM362.4,290.6h0.75v0.75h-0.75zM360.6,285.7h0.75v0.75h-0.75zM363.0,289.0h0.75v0.75h-0.75zM359.4,285.4h0.75v0.75h-0.75zM358.8,286.1h0.75v0.75h-0.75zM360.8,291.6h0.75v0.75h-0.75zM357.3,286.9h0.75v0.75h-0.75zM359.6,290.3h0.75v0.75h-0.75zM363.8,289.0h0.75v0.75h-0.75zM358.3,286.5h0.75v0.75h-0.75zM358.4,289.7h0.75v0.75h-0.75zM362.5,287.0h0.75v0.75h-0.75zM359.6,286.3h0.75v0.75h-0.75zM363.8,289.2h0.75v0.75h-0.75zM357.5,288.4h0.75v0.75h-0.75zM358.3,286.9h0.75v0.75h-0.75z" fill="#66f582"/>
<path d="M327.1,308.0C327.4,307.4 329.0,306.6 330.0,306.5C331.0,306.4 332.9,306.9 333.1,307.5C333.4,308.1 332.3,309.4 331.5,309.8C330.7,310.2 329.2,310.1 328.5,309.8C327.8,309.5 326.9,308.6 327.1,308.0Z" fill="#66f582" /><path d="M332.6,307.8h0.75v0.75h-0.75zM331.8,307.6h0.75v0.75h-0.75zM327.0,307.7h0.75v0.75h-0.75zM334.0,308.3h0.75v0.75h-0.75zM329.0,306.3h0.75v0.75h-0.75zM331.0,310.1h0.75v0.75h-0.75zM328.7,310.0h0.75v0.75h-0.75zM331.8,306.9h0.75v0.75h-0.75zM331.6,310.1h0.75v0.75h-0.75zM328.4,309.8h0.75v0.75h-0.75zM329.4,306.0h0.75v0.75h-0.75zM333.6,307.5h0.75v0.75h-0.75zM332.5,307.7h0.75v0.75h-0.75zM332.7,310.1h0.75v0.75h-0.75zM327.8,310.1h0.75v0.75h-0.75zM329.9,306.3h0.75v0.75h-0.75zM332.5,307.6h0.75v0.75h-0.75zM331.5,307.3h0.75v0.75h-0.75zM333.1,308.5h0.75v0.75h-0.75zM328.2,307.6h0.75v0.75h-0.75zM328.1,307.4h0.75v0.75h-0.75zM330.2,309.8h0.75v0.75h-0.75zM328.6,307.9h0.75v0.75h-0.75z" fill="#66f582"/>
<path d="M302.9,237.0h0.8v0.8h-0.8zM308.0,251.7h0.7v0.7h-0.7zM317.8,249.0h0.7v0.7h-0.7zM354.3,276.2h1.0v1.0h-1.0zM322.8,279.8h1.0v1.7h-1.0zM321.6,289.6h1.0v1.0h-1.0zM328.1,292.4h1.0v1.5h-1.0z" fill="#66f582" stroke="#66f582" stroke-width="0.6" stroke-linejoin="round"/><ellipse cx="312.2" cy="311.3" rx="1.5" ry="1.0" fill="#66f582"/><path d="M313.1,311.5h0.8v0.8h-0.8zM309.5,310.0h0.8v0.8h-0.8zM311.4,311.8h0.8v0.8h-0.8zM312.4,311.0h0.8v0.8h-0.8zM312.8,309.2h0.8v0.8h-0.8zM314.1,311.2h0.8v0.8h-0.8zM312.1,310.7h0.8v0.8h-0.8zM312.3,310.5h0.8v0.8h-0.8zM309.9,310.2h0.8v0.8h-0.8z" fill="#66f582"/>
<path d="M384.5,301.0C384.8,300.0 386.2,299.0 387.0,298.6C387.8,298.2 388.8,298.0 389.0,298.4C389.2,298.8 388.2,300.2 388.5,301.0C388.8,301.8 390.1,302.6 390.5,303.2C390.9,303.8 391.6,304.4 391.2,304.8C390.8,305.2 389.0,305.9 388.0,305.9C387.0,305.9 385.9,305.6 385.3,304.8C384.7,304.0 384.2,302.0 384.5,301.0Z" fill="#b8240f" /><path d="M384.9,299.6h0.75v0.75h-0.75zM385.4,303.6h0.75v0.75h-0.75zM385.1,303.2h0.75v0.75h-0.75zM388.2,300.4h0.75v0.75h-0.75zM387.8,306.0h0.75v0.75h-0.75zM388.6,305.5h0.75v0.75h-0.75zM388.2,306.3h0.75v0.75h-0.75zM390.3,302.0h0.75v0.75h-0.75zM384.1,301.2h0.75v0.75h-0.75zM385.9,304.6h0.75v0.75h-0.75zM389.1,298.9h0.75v0.75h-0.75zM385.7,304.4h0.75v0.75h-0.75zM387.7,305.8h0.75v0.75h-0.75zM389.1,299.0h0.75v0.75h-0.75zM390.7,303.7h0.75v0.75h-0.75zM388.9,301.2h0.75v0.75h-0.75zM390.8,304.5h0.75v0.75h-0.75zM385.6,305.0h0.75v0.75h-0.75zM390.4,299.0h0.75v0.75h-0.75zM385.6,300.1h0.75v0.75h-0.75zM389.2,301.1h0.75v0.75h-0.75zM383.9,301.7h0.75v0.75h-0.75zM385.5,302.8h0.75v0.75h-0.75zM391.2,303.8h0.75v0.75h-0.75zM384.6,300.7h0.75v0.75h-0.75zM388.2,305.6h0.75v0.75h-0.75zM385.3,301.4h0.75v0.75h-0.75zM389.6,306.8h0.75v0.75h-0.75zM384.2,301.4h0.75v0.75h-0.75zM385.2,303.4h0.75v0.75h-0.75zM385.4,297.9h0.75v0.75h-0.75zM389.1,300.8h0.75v0.75h-0.75zM386.8,305.4h0.75v0.75h-0.75zM384.9,303.1h0.75v0.75h-0.75zM388.9,300.5h0.75v0.75h-0.75zM390.9,304.6h0.75v0.75h-0.75z" fill="#b8240f"/>
<path d="M451.2,303.9h0.9v0.9h-0.9zM462.1,301.1h1.1v1.1h-1.1z" fill="#b8240f" stroke="#b8240f" stroke-width="0.6" stroke-linejoin="round"/></g>
<g id="pd"><defs><filter id="hb" x="-2%" y="-2%" width="104%" height="104%"><feGaussianBlur stdDeviation="0.55 0.4"/></filter></defs><g filter="url(#hb)">
<rect x="92.60" y="374.80" width="3.67" height="15.58" fill="#f8aaf4"/>
<rect x="95.97" y="374.80" width="3.67" height="15.58" fill="#f8c0f7"/>
<rect x="99.33" y="374.80" width="3.67" height="15.58" fill="#f8adf4"/>
<rect x="102.70" y="374.80" width="3.67" height="15.58" fill="#f9c8f8"/>
<rect x="106.06" y="374.80" width="3.67" height="15.58" fill="#f9c3f7"/>
<rect x="109.43" y="374.80" width="3.67" height="15.58" fill="#f8c0f7"/>
<rect x="112.80" y="374.80" width="3.67" height="15.58" fill="#facef8"/>
<rect x="116.16" y="374.80" width="3.67" height="15.58" fill="#f9c7f8"/>
<rect x="119.53" y="374.80" width="3.67" height="15.58" fill="#f8bff6"/>
<rect x="122.89" y="374.80" width="3.67" height="15.58" fill="#f9c4f7"/>
<rect x="126.26" y="374.80" width="3.67" height="15.58" fill="#cacbfa"/>
<rect x="129.63" y="374.80" width="3.67" height="15.58" fill="#afc7f9"/>
<rect x="132.99" y="374.80" width="3.67" height="15.58" fill="#8ac8f7"/>
<rect x="136.36" y="374.80" width="3.67" height="15.58" fill="#e6e7fd"/>
<rect x="139.72" y="374.80" width="3.67" height="15.58" fill="#c5c7fa"/>
<rect x="143.09" y="374.80" width="3.67" height="15.58" fill="#e8e8fd"/>
<rect x="146.46" y="374.80" width="3.67" height="15.58" fill="#eaebfd"/>
<rect x="149.82" y="374.80" width="3.67" height="15.58" fill="#e6e7fd"/>
<rect x="153.19" y="374.80" width="3.67" height="15.58" fill="#c0c6fa"/>
<rect x="156.55" y="374.80" width="3.67" height="15.58" fill="#d6d7fc"/>
<rect x="159.92" y="374.80" width="3.67" height="15.58" fill="#dfe0fc"/>
<rect x="163.29" y="374.80" width="3.67" height="15.58" fill="#d7d8fc"/>
<rect x="166.65" y="374.80" width="3.67" height="15.58" fill="#e4e5fd"/>
<rect x="170.02" y="374.80" width="3.67" height="15.58" fill="#e6e7fd"/>
<rect x="173.38" y="374.80" width="3.67" height="15.58" fill="#ededfd"/>
<rect x="176.75" y="374.80" width="3.67" height="15.58" fill="#eff0fe"/>
<rect x="180.12" y="374.80" width="3.67" height="15.58" fill="#f1f2fe"/>
<rect x="183.48" y="374.80" width="3.67" height="15.58" fill="#f5f5fe"/>
<rect x="186.85" y="374.80" width="3.67" height="15.58" fill="#f2f2fe"/>
<rect x="190.21" y="374.80" width="3.67" height="15.58" fill="#f7f7fe"/>
<rect x="193.58" y="374.80" width="3.67" height="15.58" fill="#cbcdfb"/>
<rect x="196.95" y="374.80" width="3.67" height="15.58" fill="#c9cbfa"/>
<rect x="200.31" y="374.80" width="3.67" height="15.58" fill="#c0c6fa"/>
<rect x="203.68" y="374.80" width="3.67" height="15.58" fill="#cbccfb"/>
<rect x="207.04" y="374.80" width="3.67" height="15.58" fill="#c4c6fa"/>
<rect x="210.41" y="374.80" width="3.67" height="15.58" fill="#c7c9fa"/>
<rect x="213.78" y="374.80" width="3.67" height="15.58" fill="#bfc6fa"/>
<rect x="217.14" y="374.80" width="3.67" height="15.58" fill="#caccfb"/>
<rect x="220.51" y="374.80" width="3.67" height="15.58" fill="#c7c9fa"/>
<rect x="223.87" y="374.80" width="3.67" height="15.58" fill="#cbccfb"/>
<rect x="227.24" y="374.80" width="3.67" height="15.58" fill="#cacbfa"/>
<rect x="230.61" y="374.80" width="3.67" height="15.58" fill="#c1c6fa"/>
<rect x="233.97" y="374.80" width="3.67" height="15.58" fill="#c2c6fa"/>
<rect x="237.34" y="374.80" width="3.67" height="15.58" fill="#bec6fa"/>
<rect x="240.70" y="374.80" width="3.67" height="15.58" fill="#bec6fa"/>
<rect x="244.07" y="374.80" width="3.67" height="15.58" fill="#bdc6fa"/>
<rect x="247.44" y="374.80" width="3.67" height="15.58" fill="#c1c6fa"/>
<rect x="250.80" y="374.80" width="3.67" height="15.58" fill="#c5c7fa"/>
<rect x="254.17" y="374.80" width="3.67" height="15.58" fill="#bbc6fa"/>
<rect x="257.53" y="374.80" width="3.67" height="15.58" fill="#c7c9fa"/>
<rect x="260.90" y="374.80" width="3.67" height="15.58" fill="#c1c6fa"/>
<rect x="264.27" y="374.80" width="3.67" height="15.58" fill="#c1c6fa"/>
<rect x="267.63" y="374.80" width="3.67" height="15.58" fill="#c8cafa"/>
<rect x="271.00" y="374.80" width="3.67" height="15.58" fill="#ecedfd"/>
<rect x="274.36" y="374.80" width="3.67" height="15.58" fill="#c1c6fa"/>
<rect x="277.73" y="374.80" width="3.67" height="15.58" fill="#ecedfd"/>
<rect x="281.10" y="374.80" width="3.67" height="15.58" fill="#e8e9fd"/>
<rect x="284.46" y="374.80" width="3.67" height="15.58" fill="#b4c6f9"/>
<rect x="287.83" y="374.80" width="3.67" height="15.58" fill="#bec6fa"/>
<rect x="291.19" y="374.80" width="3.67" height="15.58" fill="#adc7f9"/>
<rect x="294.56" y="374.80" width="3.67" height="15.58" fill="#c0c6fa"/>
<rect x="297.93" y="374.80" width="3.67" height="15.58" fill="#c1c6fa"/>
<rect x="301.29" y="374.80" width="3.67" height="15.58" fill="#b3c6f9"/>
<rect x="304.66" y="374.80" width="3.67" height="15.58" fill="#c0c6fa"/>
<rect x="308.02" y="374.80" width="3.67" height="15.58" fill="#b9c6f9"/>
<rect x="311.39" y="374.80" width="3.67" height="15.58" fill="#bdc6fa"/>
<rect x="314.76" y="374.80" width="3.67" height="15.58" fill="#b3c6f9"/>
<rect x="318.12" y="374.80" width="3.67" height="15.58" fill="#b4c6f9"/>
<rect x="321.49" y="374.80" width="3.67" height="15.58" fill="#b6c6f9"/>
<rect x="324.85" y="374.80" width="3.67" height="15.58" fill="#c3c6fa"/>
<rect x="328.22" y="374.80" width="3.67" height="15.58" fill="#b6c6f9"/>
<rect x="331.59" y="374.80" width="3.67" height="15.58" fill="#c0c6fa"/>
<rect x="334.95" y="374.80" width="3.67" height="15.58" fill="#c3c6fa"/>
<rect x="338.32" y="374.80" width="3.67" height="15.58" fill="#c3c6fa"/>
<rect x="341.68" y="374.80" width="7.03" height="15.58" fill="#b9c6f9"/>
<rect x="348.42" y="374.80" width="3.67" height="15.58" fill="#bcc6fa"/>
<rect x="351.78" y="374.80" width="3.67" height="15.58" fill="#c0c6fa"/>
<rect x="355.15" y="374.80" width="3.67" height="15.58" fill="#b4c6f9"/>
<rect x="358.51" y="374.80" width="3.67" height="15.58" fill="#d3d5fb"/>
<rect x="361.88" y="374.80" width="3.67" height="15.58" fill="#9ec7f8"/>
<rect x="365.25" y="374.80" width="3.67" height="15.58" fill="#9fc7f8"/>
<rect x="368.61" y="374.80" width="3.67" height="15.58" fill="#8bc8f7"/>
<rect x="371.98" y="374.80" width="3.67" height="15.58" fill="#a1c7f8"/>
<rect x="375.34" y="374.80" width="3.67" height="15.58" fill="#92c7f7"/>
<rect x="378.71" y="374.80" width="3.67" height="15.58" fill="#90c7f7"/>
<rect x="382.08" y="374.80" width="3.67" height="15.58" fill="#9bc7f8"/>
<rect x="385.44" y="374.80" width="3.67" height="15.58" fill="#a0c7f8"/>
<rect x="388.81" y="374.80" width="3.67" height="15.58" fill="#90c7f7"/>
<rect x="392.17" y="374.80" width="3.67" height="15.58" fill="#89c8f7"/>
<rect x="395.54" y="374.80" width="3.67" height="15.58" fill="#b6c6f9"/>
<rect x="398.91" y="374.80" width="3.67" height="15.58" fill="#b2c6f9"/>
<rect x="402.27" y="374.80" width="3.67" height="15.58" fill="#c1c6fa"/>
<rect x="405.64" y="374.80" width="3.67" height="15.58" fill="#b0c7f9"/>
<rect x="409.00" y="374.80" width="3.67" height="15.58" fill="#bdc6fa"/>
<rect x="412.37" y="374.80" width="3.67" height="15.58" fill="#b0c7f9"/>
<rect x="415.74" y="374.80" width="3.67" height="15.58" fill="#b9c6f9"/>
<rect x="419.10" y="374.80" width="3.67" height="15.58" fill="#cbcdfb"/>
<rect x="422.47" y="374.80" width="3.67" height="15.58" fill="#bec6fa"/>
<rect x="425.83" y="374.80" width="3.67" height="15.58" fill="#bcc6fa"/>
<rect x="92.60" y="390.18" width="3.67" height="15.58" fill="#eaeafd"/>
<rect x="95.97" y="390.18" width="3.67" height="15.58" fill="#f3f4fe"/>
<rect x="99.33" y="390.18" width="3.67" height="15.58" fill="#ced0fb"/>
<rect x="102.70" y="390.18" width="3.67" height="15.58" fill="#f7f7fe"/>
<rect x="106.06" y="390.18" width="3.67" height="15.58" fill="#f4f4fe"/>
<rect x="109.43" y="390.18" width="3.67" height="15.58" fill="#d5d6fb"/>
<rect x="112.80" y="390.18" width="3.67" height="15.58" fill="#e7e8fd"/>
<rect x="116.16" y="390.18" width="3.67" height="15.58" fill="#dadcfc"/>
<rect x="119.53" y="390.18" width="3.67" height="15.58" fill="#e6e6fd"/>
<rect x="122.89" y="390.18" width="3.67" height="15.58" fill="#e2e2fc"/>
<rect x="126.26" y="390.18" width="3.67" height="15.58" fill="#e6e6fd"/>
<rect x="129.63" y="390.18" width="3.67" height="15.58" fill="#c4c6fa"/>
<rect x="132.99" y="390.18" width="3.67" height="15.58" fill="#e9eafd"/>
<rect x="136.36" y="390.18" width="3.67" height="15.58" fill="#cbccfb"/>
<rect x="139.72" y="390.18" width="3.67" height="15.58" fill="#d3d5fb"/>
<rect x="143.09" y="390.18" width="3.67" height="15.58" fill="#caccfb"/>
<rect x="146.46" y="390.18" width="3.67" height="15.58" fill="#d2d3fb"/>
<rect x="149.82" y="390.18" width="3.67" height="15.58" fill="#c8cafa"/>
<rect x="153.19" y="390.18" width="3.67" height="15.58" fill="#caccfb"/>
<rect x="156.55" y="390.18" width="3.67" height="15.58" fill="#e7e8fd"/>
<rect x="159.92" y="390.18" width="3.67" height="15.58" fill="#f8a3f3"/>
<rect x="163.29" y="390.18" width="3.67" height="15.58" fill="#f8a5f4"/>
<rect x="166.65" y="390.18" width="3.67" height="15.58" fill="#f8b0f5"/>
<rect x="170.02" y="390.18" width="3.67" height="15.58" fill="#f8bdf6"/>
<rect x="173.38" y="390.18" width="3.67" height="15.58" fill="#f8b2f5"/>
<rect x="176.75" y="390.18" width="3.67" height="15.58" fill="#f8b5f5"/>
<rect x="180.12" y="390.18" width="3.67" height="15.58" fill="#f8b3f5"/>
<rect x="183.48" y="390.18" width="3.67" height="15.58" fill="#f8bdf6"/>
<rect x="186.85" y="390.18" width="3.67" height="15.58" fill="#f8bcf6"/>
<rect x="190.21" y="390.18" width="3.67" height="15.58" fill="#f8b8f6"/>
<rect x="193.58" y="390.18" width="3.67" height="15.58" fill="#f8f8fe"/>
<rect x="196.95" y="390.18" width="3.67" height="15.58" fill="#f9faff"/>
<rect x="200.31" y="390.18" width="3.67" height="15.58" fill="#ececfd"/>
<rect x="203.68" y="390.18" width="3.67" height="15.58" fill="#f2f2fe"/>
<rect x="207.04" y="390.18" width="3.67" height="15.58" fill="#e7e8fd"/>
<rect x="210.41" y="390.18" width="3.67" height="15.58" fill="#eaeafd"/>
<rect x="213.78" y="390.18" width="3.67" height="15.58" fill="#e5e5fd"/>
<rect x="217.14" y="390.18" width="3.67" height="15.58" fill="#f4f4fe"/>
<rect x="220.51" y="390.18" width="3.67" height="15.58" fill="#f8f8fe"/>
<rect x="223.87" y="390.18" width="3.67" height="15.58" fill="#e7e8fd"/>
<rect x="227.24" y="390.18" width="3.67" height="15.58" fill="#e1e2fc"/>
<rect x="230.61" y="390.18" width="3.67" height="15.58" fill="#e2e3fd"/>
<rect x="233.97" y="390.18" width="3.67" height="15.58" fill="#e9e9fd"/>
<rect x="237.34" y="390.18" width="3.67" height="15.58" fill="#e4e5fd"/>
<rect x="240.70" y="390.18" width="3.67" height="15.58" fill="#f3f3fe"/>
<rect x="244.07" y="390.18" width="7.03" height="15.58" fill="#fefeff"/>
<rect x="250.80" y="390.18" width="3.67" height="15.58" fill="#f9f9fe"/>
<rect x="254.17" y="390.18" width="3.67" height="15.58" fill="#fdfdff"/>
<rect x="257.53" y="390.18" width="3.67" height="15.58" fill="#e9e9fd"/>
<rect x="260.90" y="390.18" width="3.67" height="15.58" fill="#e7e8fd"/>
<rect x="264.27" y="390.18" width="3.67" height="15.58" fill="#edeefd"/>
<rect x="267.63" y="390.18" width="3.67" height="15.58" fill="#e2e3fd"/>
<rect x="271.00" y="390.18" width="3.67" height="15.58" fill="#ecedfd"/>
<rect x="274.36" y="390.18" width="3.67" height="15.58" fill="#e4e5fd"/>
<rect x="277.73" y="390.18" width="3.67" height="15.58" fill="#e8e9fd"/>
<rect x="281.10" y="390.18" width="3.67" height="15.58" fill="#e6e7fd"/>
<rect x="284.46" y="390.18" width="3.67" height="15.58" fill="#e9eafd"/>
<rect x="287.83" y="390.18" width="3.67" height="15.58" fill="#e8e9fd"/>
<rect x="291.19" y="390.18" width="3.67" height="15.58" fill="#ecedfd"/>
<rect x="294.56" y="390.18" width="3.67" height="15.58" fill="#f1f2fe"/>
<rect x="297.93" y="390.18" width="3.67" height="15.58" fill="#f3f4fe"/>
<rect x="301.29" y="390.18" width="3.67" height="15.58" fill="#eeeefe"/>
<rect x="304.66" y="390.18" width="3.67" height="15.58" fill="#f4f4fe"/>
<rect x="308.02" y="390.18" width="3.67" height="15.58" fill="#f8f8fe"/>
<rect x="311.39" y="390.18" width="3.67" height="15.58" fill="#fefeff"/>
<rect x="314.76" y="390.18" width="3.67" height="15.58" fill="#ededfd"/>
<rect x="318.12" y="390.18" width="3.67" height="15.58" fill="#f4f5fe"/>
<rect x="321.49" y="390.18" width="3.67" height="15.58" fill="#ebecfd"/>
<rect x="324.85" y="390.18" width="3.67" height="15.58" fill="#e3e4fd"/>
<rect x="328.22" y="390.18" width="3.67" height="15.58" fill="#e8e9fd"/>
<rect x="331.59" y="390.18" width="3.67" height="15.58" fill="#e9eafd"/>
<rect x="334.95" y="390.18" width="3.67" height="15.58" fill="#f2f3fe"/>
<rect x="338.32" y="390.18" width="3.67" height="15.58" fill="#f5f5fe"/>
<rect x="341.68" y="390.18" width="3.67" height="15.58" fill="#e1e2fc"/>
<rect x="345.05" y="390.18" width="3.67" height="15.58" fill="#e8e9fd"/>
<rect x="348.42" y="390.18" width="3.67" height="15.58" fill="#eeeffe"/>
<rect x="351.78" y="390.18" width="3.67" height="15.58" fill="#eeeffe"/>
<rect x="355.15" y="390.18" width="3.67" height="15.58" fill="#e7e8fd"/>
<rect x="358.51" y="390.18" width="3.67" height="15.58" fill="#f3f4fe"/>
<rect x="361.88" y="390.18" width="3.67" height="15.58" fill="#a1c7f8"/>
<rect x="365.25" y="390.18" width="3.67" height="15.58" fill="#adc7f9"/>
<rect x="368.61" y="390.18" width="3.67" height="15.58" fill="#a6c7f8"/>
<rect x="371.98" y="390.18" width="3.67" height="15.58" fill="#a7c7f8"/>
<rect x="375.34" y="390.18" width="3.67" height="15.58" fill="#aac7f9"/>
<rect x="378.71" y="390.18" width="3.67" height="15.58" fill="#abc7f9"/>
<rect x="382.08" y="390.18" width="3.67" height="15.58" fill="#abc7f9"/>
<rect x="385.44" y="390.18" width="3.67" height="15.58" fill="#99c7f8"/>
<rect x="388.81" y="390.18" width="3.67" height="15.58" fill="#acc7f9"/>
<rect x="392.17" y="390.18" width="3.67" height="15.58" fill="#a9c7f8"/>
<rect x="395.54" y="390.18" width="3.67" height="15.58" fill="#b8c6f9"/>
<rect x="398.91" y="390.18" width="3.67" height="15.58" fill="#c3c6fa"/>
<rect x="402.27" y="390.18" width="3.67" height="15.58" fill="#c6c8fa"/>
<rect x="405.64" y="390.18" width="3.67" height="15.58" fill="#d4d5fb"/>
<rect x="409.00" y="390.18" width="3.67" height="15.58" fill="#d6d8fc"/>
<rect x="412.37" y="390.18" width="3.67" height="15.58" fill="#d3d4fb"/>
<rect x="415.74" y="390.18" width="3.67" height="15.58" fill="#bcc6fa"/>
<rect x="419.10" y="390.18" width="3.67" height="15.58" fill="#cbcdfb"/>
<rect x="422.47" y="390.18" width="3.67" height="15.58" fill="#d4d5fb"/>
<rect x="425.83" y="390.18" width="3.67" height="15.58" fill="#dedffc"/>
<rect x="92.60" y="405.56" width="3.67" height="15.58" fill="#cccefb"/>
<rect x="95.97" y="405.56" width="3.67" height="15.58" fill="#f4f4fe"/>
<rect x="99.33" y="405.56" width="3.67" height="15.58" fill="#e8e9fd"/>
<rect x="102.70" y="405.56" width="3.67" height="15.58" fill="#f6f6fe"/>
<rect x="106.06" y="405.56" width="3.67" height="15.58" fill="#ffffff"/>
<rect x="109.43" y="405.56" width="3.67" height="15.58" fill="#fefeff"/>
<rect x="112.80" y="405.56" width="3.67" height="15.58" fill="#e6e6fd"/>
<rect x="116.16" y="405.56" width="3.67" height="15.58" fill="#cbccfb"/>
<rect x="119.53" y="405.56" width="3.67" height="15.58" fill="#f2f3fe"/>
<rect x="122.89" y="405.56" width="3.67" height="15.58" fill="#cbcdfb"/>
<rect x="126.26" y="405.56" width="3.67" height="15.58" fill="#f892f2"/>
<rect x="129.63" y="405.56" width="3.67" height="15.58" fill="#f895f2"/>
<rect x="132.99" y="405.56" width="3.67" height="15.58" fill="#f88df1"/>
<rect x="136.36" y="405.56" width="3.67" height="15.58" fill="#f89ef3"/>
<rect x="139.72" y="405.56" width="3.67" height="15.58" fill="#f8aaf4"/>
<rect x="143.09" y="405.56" width="3.67" height="15.58" fill="#f89af3"/>
<rect x="146.46" y="405.56" width="3.67" height="15.58" fill="#f8a1f3"/>
<rect x="149.82" y="405.56" width="3.67" height="15.58" fill="#f8a4f4"/>
<rect x="153.19" y="405.56" width="3.67" height="15.58" fill="#f896f2"/>
<rect x="156.55" y="405.56" width="3.67" height="15.58" fill="#facbf8"/>
<rect x="159.92" y="405.56" width="3.67" height="15.58" fill="#c0c6fa"/>
<rect x="163.29" y="405.56" width="3.67" height="15.58" fill="#c3c6fa"/>
<rect x="166.65" y="405.56" width="3.67" height="15.58" fill="#c6c8fa"/>
<rect x="170.02" y="405.56" width="3.67" height="15.58" fill="#e0e1fc"/>
<rect x="173.38" y="405.56" width="3.67" height="15.58" fill="#dadbfc"/>
<rect x="176.75" y="405.56" width="3.67" height="15.58" fill="#d5d6fb"/>
<rect x="180.12" y="405.56" width="3.67" height="15.58" fill="#d6d8fc"/>
<rect x="183.48" y="405.56" width="3.67" height="15.58" fill="#cfd0fb"/>
<rect x="186.85" y="405.56" width="3.67" height="15.58" fill="#d5d7fb"/>
<rect x="190.21" y="405.56" width="3.67" height="15.58" fill="#cdcffb"/>
<rect x="193.58" y="405.56" width="3.67" height="15.58" fill="#c5c7fa"/>
<rect x="196.95" y="405.56" width="3.67" height="15.58" fill="#caccfb"/>
<rect x="200.31" y="405.56" width="3.67" height="15.58" fill="#c8cafa"/>
<rect x="203.68" y="405.56" width="3.67" height="15.58" fill="#c3c6fa"/>
<rect x="207.04" y="405.56" width="3.67" height="15.58" fill="#c8cafa"/>
<rect x="210.41" y="405.56" width="3.67" height="15.58" fill="#c6c8fa"/>
<rect x="213.78" y="405.56" width="3.67" height="15.58" fill="#c2c6fa"/>
<rect x="217.14" y="405.56" width="3.67" height="15.58" fill="#bec6fa"/>
<rect x="220.51" y="405.56" width="3.67" height="15.58" fill="#c5c7fa"/>
<rect x="223.87" y="405.56" width="3.67" height="15.58" fill="#c5c7fa"/>
<rect x="227.24" y="405.56" width="3.67" height="15.58" fill="#caccfb"/>
<rect x="230.61" y="405.56" width="3.67" height="15.58" fill="#cbccfb"/>
<rect x="233.97" y="405.56" width="3.67" height="15.58" fill="#c6c8fa"/>
<rect x="237.34" y="405.56" width="3.67" height="15.58" fill="#c1c6fa"/>
<rect x="240.70" y="405.56" width="3.67" height="15.58" fill="#cacbfa"/>
<rect x="244.07" y="405.56" width="3.67" height="15.58" fill="#bbc6fa"/>
<rect x="247.44" y="405.56" width="3.67" height="15.58" fill="#bdc6fa"/>
<rect x="250.80" y="405.56" width="3.67" height="15.58" fill="#c5c7fa"/>
<rect x="254.17" y="405.56" width="3.67" height="15.58" fill="#c6c8fa"/>
<rect x="257.53" y="405.56" width="3.67" height="15.58" fill="#bec6fa"/>
<rect x="260.90" y="405.56" width="3.67" height="15.58" fill="#c6c8fa"/>
<rect x="264.27" y="405.56" width="3.67" height="15.58" fill="#c9cbfa"/>
<rect x="267.63" y="405.56" width="3.67" height="15.58" fill="#c2c6fa"/>
<rect x="271.00" y="405.56" width="3.67" height="15.58" fill="#c3c6fa"/>
<rect x="274.36" y="405.56" width="3.67" height="15.58" fill="#bfc6fa"/>
<rect x="277.73" y="405.56" width="3.67" height="15.58" fill="#f7f7fe"/>
<rect x="281.10" y="405.56" width="3.67" height="15.58" fill="#e2e3fd"/>
<rect x="284.46" y="405.56" width="3.67" height="15.58" fill="#b9c6f9"/>
<rect x="287.83" y="405.56" width="3.67" height="15.58" fill="#c3c6fa"/>
<rect x="291.19" y="405.56" width="3.67" height="15.58" fill="#c3c6fa"/>
<rect x="294.56" y="405.56" width="3.67" height="15.58" fill="#bdc6fa"/>
<rect x="297.93" y="405.56" width="3.67" height="15.58" fill="#b7c6f9"/>
<rect x="301.29" y="405.56" width="3.67" height="15.58" fill="#c4c6fa"/>
<rect x="304.66" y="405.56" width="3.67" height="15.58" fill="#bbc6fa"/>
<rect x="308.02" y="405.56" width="3.67" height="15.58" fill="#bac6f9"/>
<rect x="311.39" y="405.56" width="3.67" height="15.58" fill="#b8c6f9"/>
<rect x="314.76" y="405.56" width="3.67" height="15.58" fill="#c4c6fa"/>
<rect x="318.12" y="405.56" width="3.67" height="15.58" fill="#bbc6fa"/>
<rect x="321.49" y="405.56" width="3.67" height="15.58" fill="#b8c6f9"/>
<rect x="324.85" y="405.56" width="3.67" height="15.58" fill="#bbc6fa"/>
<rect x="328.22" y="405.56" width="3.67" height="15.58" fill="#b5c6f9"/>
<rect x="331.59" y="405.56" width="3.67" height="15.58" fill="#bdc6fa"/>
<rect x="334.95" y="405.56" width="3.67" height="15.58" fill="#bac6f9"/>
<rect x="338.32" y="405.56" width="3.67" height="15.58" fill="#b8c6f9"/>
<rect x="341.68" y="405.56" width="3.67" height="15.58" fill="#c0c6fa"/>
<rect x="345.05" y="405.56" width="3.67" height="15.58" fill="#c1c6fa"/>
<rect x="348.42" y="405.56" width="3.67" height="15.58" fill="#b3c6f9"/>
<rect x="351.78" y="405.56" width="3.67" height="15.58" fill="#dcddfc"/>
<rect x="355.15" y="405.56" width="3.67" height="15.58" fill="#c0c6fa"/>
<rect x="358.51" y="405.56" width="3.67" height="15.58" fill="#bdc6fa"/>
<rect x="361.88" y="405.56" width="3.67" height="15.58" fill="#8fc7f7"/>
<rect x="365.25" y="405.56" width="3.67" height="15.58" fill="#7dc8f6"/>
<rect x="368.61" y="405.56" width="3.67" height="15.58" fill="#79c4f6"/>
<rect x="371.98" y="405.56" width="3.67" height="15.58" fill="#77c1f6"/>
<rect x="375.34" y="405.56" width="3.67" height="15.58" fill="#8ac8f7"/>
<rect x="378.71" y="405.56" width="3.67" height="15.58" fill="#87c8f7"/>
<rect x="382.08" y="405.56" width="3.67" height="15.58" fill="#8cc8f7"/>
<rect x="385.44" y="405.56" width="3.67" height="15.58" fill="#98c7f8"/>
<rect x="388.81" y="405.56" width="3.67" height="15.58" fill="#9bc7f8"/>
<rect x="392.17" y="405.56" width="3.67" height="15.58" fill="#9bc7f8"/>
<rect x="395.54" y="405.56" width="3.67" height="15.58" fill="#bac6f9"/>
<rect x="398.91" y="405.56" width="3.67" height="15.58" fill="#afc7f9"/>
<rect x="402.27" y="405.56" width="3.67" height="15.58" fill="#bac6f9"/>
<rect x="405.64" y="405.56" width="3.67" height="15.58" fill="#b8c6f9"/>
<rect x="409.00" y="405.56" width="3.67" height="15.58" fill="#bcc6fa"/>
<rect x="412.37" y="405.56" width="3.67" height="15.58" fill="#b8c6f9"/>
<rect x="415.74" y="405.56" width="3.67" height="15.58" fill="#b8c6f9"/>
<rect x="419.10" y="405.56" width="3.67" height="15.58" fill="#c4c6fa"/>
<rect x="422.47" y="405.56" width="3.67" height="15.58" fill="#c3c6fa"/>
<rect x="425.83" y="405.56" width="3.67" height="15.58" fill="#dadbfc"/>
<rect x="92.60" y="420.94" width="3.67" height="15.58" fill="#acc7f9"/>
<rect x="95.97" y="420.94" width="3.67" height="15.58" fill="#a9c7f8"/>
<rect x="99.33" y="420.94" width="3.67" height="15.58" fill="#aec7f9"/>
<rect x="102.70" y="420.94" width="3.67" height="15.58" fill="#b1c7f9"/>
<rect x="106.06" y="420.94" width="3.67" height="15.58" fill="#b5c6f9"/>
<rect x="109.43" y="420.94" width="3.67" height="15.58" fill="#bdc6fa"/>
<rect x="112.80" y="420.94" width="3.67" height="15.58" fill="#c9cbfa"/>
<rect x="116.16" y="420.94" width="3.67" height="15.58" fill="#a8c7f8"/>
<rect x="119.53" y="420.94" width="3.67" height="15.58" fill="#adc7f9"/>
<rect x="122.89" y="420.94" width="3.67" height="15.58" fill="#bac6f9"/>
<rect x="126.26" y="420.94" width="3.67" height="15.58" fill="#b4c6f9"/>
<rect x="129.63" y="420.94" width="3.67" height="15.58" fill="#9ac7f8"/>
<rect x="132.99" y="420.94" width="3.67" height="15.58" fill="#9cc7f8"/>
<rect x="136.36" y="420.94" width="3.67" height="15.58" fill="#b8c6f9"/>
<rect x="139.72" y="420.94" width="3.67" height="15.58" fill="#b5c6f9"/>
<rect x="143.09" y="420.94" width="3.67" height="15.58" fill="#aec7f9"/>
<rect x="146.46" y="420.94" width="3.67" height="15.58" fill="#97c7f7"/>
<rect x="149.82" y="420.94" width="3.67" height="15.58" fill="#a5c7f8"/>
<rect x="153.19" y="420.94" width="3.67" height="15.58" fill="#bcc6fa"/>
<rect x="156.55" y="420.94" width="3.67" height="15.58" fill="#b0c7f9"/>
<rect x="159.92" y="420.94" width="3.67" height="15.58" fill="#f2f3fe"/>
<rect x="163.29" y="420.94" width="3.67" height="15.58" fill="#f9faff"/>
<rect x="166.65" y="420.94" width="3.67" height="15.58" fill="#f6f6fe"/>
<rect x="170.02" y="420.94" width="3.67" height="15.58" fill="#fffdff"/>
<rect x="173.38" y="420.94" width="3.67" height="15.58" fill="#fef9fe"/>
<rect x="176.75" y="420.94" width="3.67" height="15.58" fill="#fefafe"/>
<rect x="180.12" y="420.94" width="3.67" height="15.58" fill="#fffdff"/>
<rect x="183.48" y="420.94" width="3.67" height="15.58" fill="#fffeff"/>
<rect x="186.85" y="420.94" width="3.67" height="15.58" fill="#fffdff"/>
<rect x="190.21" y="420.94" width="3.67" height="15.58" fill="#f9f9fe"/>
<rect x="193.58" y="420.94" width="3.67" height="15.58" fill="#d4d6fb"/>
<rect x="196.95" y="420.94" width="3.67" height="15.58" fill="#d1d2fb"/>
<rect x="200.31" y="420.94" width="3.67" height="15.58" fill="#d0d1fb"/>
<rect x="203.68" y="420.94" width="3.67" height="15.58" fill="#cdcffb"/>
<rect x="207.04" y="420.94" width="3.67" height="15.58" fill="#c6c8fa"/>
<rect x="210.41" y="420.94" width="3.67" height="15.58" fill="#d1d3fb"/>
<rect x="213.78" y="420.94" width="3.67" height="15.58" fill="#f5f5fe"/>
<rect x="217.14" y="420.94" width="3.67" height="15.58" fill="#cacbfa"/>
<rect x="220.51" y="420.94" width="3.67" height="15.58" fill="#d8d9fc"/>
<rect x="223.87" y="420.94" width="3.67" height="15.58" fill="#d4d6fb"/>
<rect x="227.24" y="420.94" width="3.67" height="15.58" fill="#f876ef"/>
<rect x="230.61" y="420.94" width="3.67" height="15.58" fill="#f889f1"/>
<rect x="233.97" y="420.94" width="3.67" height="15.58" fill="#f885f0"/>
<rect x="237.34" y="420.94" width="3.67" height="15.58" fill="#f888f1"/>
<rect x="240.70" y="420.94" width="3.67" height="15.58" fill="#f873ef"/>
<rect x="244.07" y="420.94" width="3.67" height="15.58" fill="#f872ef"/>
<rect x="247.44" y="420.94" width="3.67" height="15.58" fill="#f888f1"/>
<rect x="250.80" y="420.94" width="3.67" height="15.58" fill="#f895f2"/>
<rect x="254.17" y="420.94" width="3.67" height="15.58" fill="#f885f1"/>
<rect x="257.53" y="420.94" width="3.67" height="15.58" fill="#f891f2"/>
<rect x="260.90" y="420.94" width="3.67" height="15.58" fill="#c6c8fa"/>
<rect x="264.27" y="420.94" width="3.67" height="15.58" fill="#caccfb"/>
<rect x="267.63" y="420.94" width="3.67" height="15.58" fill="#b9c6f9"/>
<rect x="271.00" y="420.94" width="3.67" height="15.58" fill="#e6e7fd"/>
<rect x="274.36" y="420.94" width="3.67" height="15.58" fill="#fef8fe"/>
<rect x="277.73" y="420.94" width="3.67" height="15.58" fill="#f5f5fe"/>
<rect x="281.10" y="420.94" width="3.67" height="15.58" fill="#bec6fa"/>
<rect x="284.46" y="420.94" width="3.67" height="15.58" fill="#e8e9fd"/>
<rect x="287.83" y="420.94" width="3.67" height="15.58" fill="#fef2fd"/>
<rect x="291.19" y="420.94" width="3.67" height="15.58" fill="#b0c7f9"/>
<rect x="294.56" y="420.94" width="3.67" height="15.58" fill="#b8c6f9"/>
<rect x="297.93" y="420.94" width="3.67" height="15.58" fill="#aec7f9"/>
<rect x="301.29" y="420.94" width="3.67" height="15.58" fill="#afc7f9"/>
<rect x="304.66" y="420.94" width="3.67" height="15.58" fill="#b4c6f9"/>
<rect x="308.02" y="420.94" width="3.67" height="15.58" fill="#aec7f9"/>
<rect x="311.39" y="420.94" width="3.67" height="15.58" fill="#aec7f9"/>
<rect x="314.76" y="420.94" width="3.67" height="15.58" fill="#b7c6f9"/>
<rect x="318.12" y="420.94" width="3.67" height="15.58" fill="#bac6f9"/>
<rect x="321.49" y="420.94" width="3.67" height="15.58" fill="#bcc6fa"/>
<rect x="324.85" y="420.94" width="3.67" height="15.58" fill="#afc7f9"/>
<rect x="328.22" y="420.94" width="3.67" height="15.58" fill="#b4c6f9"/>
<rect x="331.59" y="420.94" width="3.67" height="15.58" fill="#b2c6f9"/>
<rect x="334.95" y="420.94" width="3.67" height="15.58" fill="#b7c6f9"/>
<rect x="338.32" y="420.94" width="3.67" height="15.58" fill="#b5c6f9"/>
<rect x="341.68" y="420.94" width="3.67" height="15.58" fill="#bdc6fa"/>
<rect x="345.05" y="420.94" width="3.67" height="15.58" fill="#b3c6f9"/>
<rect x="348.42" y="420.94" width="3.67" height="15.58" fill="#aec7f9"/>
<rect x="351.78" y="420.94" width="3.67" height="15.58" fill="#b9c6f9"/>
<rect x="355.15" y="420.94" width="3.67" height="15.58" fill="#b0c7f9"/>
<rect x="358.51" y="420.94" width="3.67" height="15.58" fill="#aac7f9"/>
<rect x="361.88" y="420.94" width="3.67" height="15.58" fill="#8ac8f7"/>
<rect x="365.25" y="420.94" width="3.67" height="15.58" fill="#92c7f7"/>
<rect x="368.61" y="420.94" width="3.67" height="15.58" fill="#83c8f6"/>
<rect x="371.98" y="420.94" width="3.67" height="15.58" fill="#84c8f6"/>
<rect x="375.34" y="420.94" width="3.67" height="15.58" fill="#86c8f7"/>
<rect x="378.71" y="420.94" width="3.67" height="15.58" fill="#8bc8f7"/>
<rect x="382.08" y="420.94" width="3.67" height="15.58" fill="#86c8f7"/>
<rect x="385.44" y="420.94" width="3.67" height="15.58" fill="#8fc7f7"/>
<rect x="388.81" y="420.94" width="3.67" height="15.58" fill="#93c7f7"/>
<rect x="392.17" y="420.94" width="3.67" height="15.58" fill="#84c8f6"/>
<rect x="395.54" y="420.94" width="3.67" height="15.58" fill="#b1c7f9"/>
<rect x="398.91" y="420.94" width="3.67" height="15.58" fill="#b3c6f9"/>
<rect x="402.27" y="420.94" width="3.67" height="15.58" fill="#bfc6fa"/>
<rect x="405.64" y="420.94" width="3.67" height="15.58" fill="#bfc6fa"/>
<rect x="409.00" y="420.94" width="3.67" height="15.58" fill="#c7c9fa"/>
<rect x="412.37" y="420.94" width="3.67" height="15.58" fill="#bec6fa"/>
<rect x="415.74" y="420.94" width="3.67" height="15.58" fill="#b4c6f9"/>
<rect x="419.10" y="420.94" width="3.67" height="15.58" fill="#bec6fa"/>
<rect x="422.47" y="420.94" width="3.67" height="15.58" fill="#bdc6fa"/>
<rect x="425.83" y="420.94" width="3.67" height="15.58" fill="#fef3fd"/>
<rect x="92.60" y="436.32" width="3.67" height="15.58" fill="#a9c7f8"/>
<rect x="95.97" y="436.32" width="3.67" height="15.58" fill="#b1c7f9"/>
<rect x="99.33" y="436.32" width="3.67" height="15.58" fill="#bcc6fa"/>
<rect x="102.70" y="436.32" width="3.67" height="15.58" fill="#b5c6f9"/>
<rect x="106.06" y="436.32" width="3.67" height="15.58" fill="#b2c6f9"/>
<rect x="109.43" y="436.32" width="3.67" height="15.58" fill="#bbc6f9"/>
<rect x="112.80" y="436.32" width="3.67" height="15.58" fill="#bcc6fa"/>
<rect x="116.16" y="436.32" width="3.67" height="15.58" fill="#f4f5fe"/>
<rect x="119.53" y="436.32" width="3.67" height="15.58" fill="#bcc6fa"/>
<rect x="122.89" y="436.32" width="3.67" height="15.58" fill="#bec6fa"/>
<rect x="126.26" y="436.32" width="3.67" height="15.58" fill="#caccfb"/>
<rect x="129.63" y="436.32" width="3.67" height="15.58" fill="#9cc7f8"/>
<rect x="132.99" y="436.32" width="3.67" height="15.58" fill="#94c7f7"/>
<rect x="136.36" y="436.32" width="3.67" height="15.58" fill="#bdc6fa"/>
<rect x="139.72" y="436.32" width="3.67" height="15.58" fill="#d6d8fc"/>
<rect x="143.09" y="436.32" width="3.67" height="15.58" fill="#b8c6f9"/>
<rect x="146.46" y="436.32" width="3.67" height="15.58" fill="#adc7f9"/>
<rect x="149.82" y="436.32" width="3.67" height="15.58" fill="#a1c7f8"/>
<rect x="153.19" y="436.32" width="3.67" height="15.58" fill="#c6c8fa"/>
<rect x="156.55" y="436.32" width="3.67" height="15.58" fill="#c1c6fa"/>
<rect x="159.92" y="436.32" width="3.67" height="15.58" fill="#f7f7fe"/>
<rect x="163.29" y="436.32" width="3.67" height="15.58" fill="#fafaff"/>
<rect x="166.65" y="436.32" width="3.67" height="15.58" fill="#fffeff"/>
<rect x="170.02" y="436.32" width="3.67" height="15.58" fill="#fef8fe"/>
<rect x="173.38" y="436.32" width="3.67" height="15.58" fill="#fef5fe"/>
<rect x="176.75" y="436.32" width="3.67" height="15.58" fill="#fef6fe"/>
<rect x="180.12" y="436.32" width="3.67" height="15.58" fill="#fef3fd"/>
<rect x="183.48" y="436.32" width="3.67" height="15.58" fill="#fef6fe"/>
<rect x="186.85" y="436.32" width="3.67" height="15.58" fill="#fef8fe"/>
<rect x="190.21" y="436.32" width="3.67" height="15.58" fill="#fefafe"/>
<rect x="193.58" y="436.32" width="3.67" height="15.58" fill="#f665d2"/>
<rect x="196.95" y="436.32" width="3.67" height="15.58" fill="#f767da"/>
<rect x="200.31" y="436.32" width="3.67" height="15.58" fill="#f86bec"/>
<rect x="203.68" y="436.32" width="3.67" height="15.58" fill="#f86cec"/>
<rect x="207.04" y="436.32" width="3.67" height="15.58" fill="#f86be9"/>
<rect x="210.41" y="436.32" width="3.67" height="15.58" fill="#f86eee"/>
<rect x="213.78" y="436.32" width="3.67" height="15.58" fill="#f76ae4"/>
<rect x="217.14" y="436.32" width="3.67" height="15.58" fill="#f875ef"/>
<rect x="220.51" y="436.32" width="3.67" height="15.58" fill="#f872ef"/>
<rect x="223.87" y="436.32" width="3.67" height="15.58" fill="#f875ef"/>
<rect x="227.24" y="436.32" width="3.67" height="15.58" fill="#aec7f9"/>
<rect x="230.61" y="436.32" width="3.67" height="15.58" fill="#a7c7f8"/>
<rect x="233.97" y="436.32" width="3.67" height="15.58" fill="#acc7f9"/>
<rect x="237.34" y="436.32" width="3.67" height="15.58" fill="#9fc7f8"/>
<rect x="240.70" y="436.32" width="3.67" height="15.58" fill="#a7c7f8"/>
<rect x="244.07" y="436.32" width="3.67" height="15.58" fill="#c9cbfa"/>
<rect x="247.44" y="436.32" width="3.67" height="15.58" fill="#d1d3fb"/>
<rect x="250.80" y="436.32" width="3.67" height="15.58" fill="#cfd0fb"/>
<rect x="254.17" y="436.32" width="3.67" height="15.58" fill="#cfd1fb"/>
<rect x="257.53" y="436.32" width="3.67" height="15.58" fill="#bdc6fa"/>
<rect x="260.90" y="436.32" width="3.67" height="15.58" fill="#b0c7f9"/>
<rect x="264.27" y="436.32" width="3.67" height="15.58" fill="#b0c7f9"/>
<rect x="267.63" y="436.32" width="3.67" height="15.58" fill="#b3c6f9"/>
<rect x="271.00" y="436.32" width="3.67" height="15.58" fill="#ced0fb"/>
<rect x="274.36" y="436.32" width="3.67" height="15.58" fill="#d5d7fb"/>
<rect x="277.73" y="436.32" width="3.67" height="15.58" fill="#a1c7f8"/>
<rect x="281.10" y="436.32" width="3.67" height="15.58" fill="#a3c7f8"/>
<rect x="284.46" y="436.32" width="3.67" height="15.58" fill="#c0c6fa"/>
<rect x="287.83" y="436.32" width="3.67" height="15.58" fill="#f2f2fe"/>
<rect x="291.19" y="436.32" width="3.67" height="15.58" fill="#c0c6fa"/>
<rect x="294.56" y="436.32" width="3.67" height="15.58" fill="#bfc6fa"/>
<rect x="297.93" y="436.32" width="3.67" height="15.58" fill="#d0d1fb"/>
<rect x="301.29" y="436.32" width="3.67" height="15.58" fill="#e1e2fc"/>
<rect x="304.66" y="436.32" width="3.67" height="15.58" fill="#e2e2fc"/>
<rect x="308.02" y="436.32" width="3.67" height="15.58" fill="#ced0fb"/>
<rect x="311.39" y="436.32" width="3.67" height="15.58" fill="#caccfb"/>
<rect x="314.76" y="436.32" width="3.67" height="15.58" fill="#dedffc"/>
<rect x="318.12" y="436.32" width="3.67" height="15.58" fill="#f9f9fe"/>
<rect x="321.49" y="436.32" width="3.67" height="15.58" fill="#ecedfd"/>
<rect x="324.85" y="436.32" width="3.67" height="15.58" fill="#d6d8fc"/>
<rect x="328.22" y="436.32" width="3.67" height="15.58" fill="#e1e2fc"/>
<rect x="331.59" y="436.32" width="3.67" height="15.58" fill="#cdcffb"/>
<rect x="334.95" y="436.32" width="3.67" height="15.58" fill="#c0c6fa"/>
<rect x="338.32" y="436.32" width="3.67" height="15.58" fill="#c6c8fa"/>
<rect x="341.68" y="436.32" width="3.67" height="15.58" fill="#ced0fb"/>
<rect x="345.05" y="436.32" width="3.67" height="15.58" fill="#bec6fa"/>
<rect x="348.42" y="436.32" width="3.67" height="15.58" fill="#bfc6fa"/>
<rect x="351.78" y="436.32" width="3.67" height="15.58" fill="#bcc6fa"/>
<rect x="355.15" y="436.32" width="3.67" height="15.58" fill="#fdebfc"/>
<rect x="358.51" y="436.32" width="3.67" height="15.58" fill="#fef4fd"/>
<rect x="361.88" y="436.32" width="3.67" height="15.58" fill="#b4c6f9"/>
<rect x="365.25" y="436.32" width="3.67" height="15.58" fill="#bec6fa"/>
<rect x="368.61" y="436.32" width="3.67" height="15.58" fill="#b9c6f9"/>
<rect x="371.98" y="436.32" width="3.67" height="15.58" fill="#b8c6f9"/>
<rect x="375.34" y="436.32" width="3.67" height="15.58" fill="#b5c6f9"/>
<rect x="378.71" y="436.32" width="3.67" height="15.58" fill="#b8c6f9"/>
<rect x="382.08" y="436.32" width="3.67" height="15.58" fill="#bac6f9"/>
<rect x="385.44" y="436.32" width="3.67" height="15.58" fill="#bfc6fa"/>
<rect x="388.81" y="436.32" width="3.67" height="15.58" fill="#b0c7f9"/>
<rect x="392.17" y="436.32" width="3.67" height="15.58" fill="#b1c7f9"/>
<rect x="395.54" y="436.32" width="3.67" height="15.58" fill="#bec6fa"/>
<rect x="398.91" y="436.32" width="3.67" height="15.58" fill="#caccfb"/>
<rect x="402.27" y="436.32" width="3.67" height="15.58" fill="#d2d3fb"/>
<rect x="405.64" y="436.32" width="3.67" height="15.58" fill="#f3f3fe"/>
<rect x="409.00" y="436.32" width="3.67" height="15.58" fill="#d2d3fb"/>
<rect x="412.37" y="436.32" width="3.67" height="15.58" fill="#e1e2fc"/>
<rect x="415.74" y="436.32" width="3.67" height="15.58" fill="#f1f2fe"/>
<rect x="419.10" y="436.32" width="3.67" height="15.58" fill="#c8cafa"/>
<rect x="422.47" y="436.32" width="3.67" height="15.58" fill="#ececfd"/>
<rect x="425.83" y="436.32" width="3.67" height="15.58" fill="#c9cbfa"/>
<rect x="92.60" y="451.70" width="3.67" height="15.58" fill="#c5c7fa"/>
<rect x="95.97" y="451.70" width="3.67" height="15.58" fill="#cbcdfb"/>
<rect x="99.33" y="451.70" width="3.67" height="15.58" fill="#c4c6fa"/>
<rect x="102.70" y="451.70" width="3.67" height="15.58" fill="#c1c6fa"/>
<rect x="106.06" y="451.70" width="3.67" height="15.58" fill="#caccfb"/>
<rect x="109.43" y="451.70" width="3.67" height="15.58" fill="#bdc6fa"/>
<rect x="112.80" y="451.70" width="3.67" height="15.58" fill="#d5d7fb"/>
<rect x="116.16" y="451.70" width="3.67" height="15.58" fill="#d0d1fb"/>
<rect x="119.53" y="451.70" width="3.67" height="15.58" fill="#fafaff"/>
<rect x="122.89" y="451.70" width="3.67" height="15.58" fill="#c9cbfa"/>
<rect x="126.26" y="451.70" width="3.67" height="15.58" fill="#94c7f7"/>
<rect x="129.63" y="451.70" width="3.67" height="15.58" fill="#91c7f7"/>
<rect x="132.99" y="451.70" width="3.67" height="15.58" fill="#b4c6f9"/>
<rect x="136.36" y="451.70" width="3.67" height="15.58" fill="#bdc6fa"/>
<rect x="139.72" y="451.70" width="3.67" height="15.58" fill="#c0c6fa"/>
<rect x="143.09" y="451.70" width="3.67" height="15.58" fill="#c2c6fa"/>
<rect x="146.46" y="451.70" width="3.67" height="15.58" fill="#cdcffb"/>
<rect x="149.82" y="451.70" width="3.67" height="15.58" fill="#d5d7fb"/>
<rect x="153.19" y="451.70" width="3.67" height="15.58" fill="#e6e6fd"/>
<rect x="156.55" y="451.70" width="3.67" height="15.58" fill="#e2e3fd"/>
<rect x="159.92" y="451.70" width="3.67" height="15.58" fill="#f2f2fe"/>
<rect x="163.29" y="451.70" width="3.67" height="15.58" fill="#f8f8fe"/>
<rect x="166.65" y="451.70" width="3.67" height="15.58" fill="#fafaff"/>
<rect x="170.02" y="451.70" width="3.67" height="15.58" fill="#fdfdff"/>
<rect x="173.38" y="451.70" width="3.67" height="15.58" fill="#fdfdff"/>
<rect x="176.75" y="451.70" width="3.67" height="15.58" fill="#f7f7fe"/>
<rect x="180.12" y="451.70" width="3.67" height="15.58" fill="#fbfbff"/>
<rect x="183.48" y="451.70" width="3.67" height="15.58" fill="#ffffff"/>
<rect x="186.85" y="451.70" width="3.67" height="15.58" fill="#fafaff"/>
<rect x="190.21" y="451.70" width="3.67" height="15.58" fill="#f4f4fe"/>
<rect x="193.58" y="451.70" width="3.67" height="15.58" fill="#e1e2fc"/>
<rect x="196.95" y="451.70" width="3.67" height="15.58" fill="#cccefb"/>
<rect x="200.31" y="451.70" width="3.67" height="15.58" fill="#c9cbfa"/>
<rect x="203.68" y="451.70" width="3.67" height="15.58" fill="#d0d2fb"/>
<rect x="207.04" y="451.70" width="3.67" height="15.58" fill="#d0d1fb"/>
<rect x="210.41" y="451.70" width="3.67" height="15.58" fill="#d1d2fb"/>
<rect x="213.78" y="451.70" width="3.67" height="15.58" fill="#dadbfc"/>
<rect x="217.14" y="451.70" width="3.67" height="15.58" fill="#d2d3fb"/>
<rect x="220.51" y="451.70" width="3.67" height="15.58" fill="#d3d5fb"/>
<rect x="223.87" y="451.70" width="3.67" height="15.58" fill="#fef5fe"/>
<rect x="227.24" y="451.70" width="3.67" height="15.58" fill="#e7e8fd"/>
<rect x="230.61" y="451.70" width="3.67" height="15.58" fill="#f3f3fe"/>
<rect x="233.97" y="451.70" width="3.67" height="15.58" fill="#fffdff"/>
<rect x="237.34" y="451.70" width="3.67" height="15.58" fill="#fefeff"/>
<rect x="240.70" y="451.70" width="3.67" height="15.58" fill="#fef3fd"/>
<rect x="244.07" y="451.70" width="3.67" height="15.58" fill="#cdcffb"/>
<rect x="247.44" y="451.70" width="3.67" height="15.58" fill="#d6d7fc"/>
<rect x="250.80" y="451.70" width="3.67" height="15.58" fill="#fffeff"/>
<rect x="254.17" y="451.70" width="3.67" height="15.58" fill="#f9faff"/>
<rect x="257.53" y="451.70" width="3.67" height="15.58" fill="#d9dafc"/>
<rect x="260.90" y="451.70" width="3.67" height="15.58" fill="#f883f0"/>
<rect x="264.27" y="451.70" width="3.67" height="15.58" fill="#f884f0"/>
<rect x="267.63" y="451.70" width="3.67" height="15.58" fill="#f8a1f3"/>
<rect x="271.00" y="451.70" width="3.67" height="15.58" fill="#f894f2"/>
<rect x="274.36" y="451.70" width="3.67" height="15.58" fill="#f89df3"/>
<rect x="277.73" y="451.70" width="3.67" height="15.58" fill="#f89af3"/>
<rect x="281.10" y="451.70" width="3.67" height="15.58" fill="#f8b1f5"/>
<rect x="284.46" y="451.70" width="3.67" height="15.58" fill="#f8a4f4"/>
<rect x="287.83" y="451.70" width="3.67" height="15.58" fill="#f8b8f6"/>
<rect x="291.19" y="451.70" width="3.67" height="15.58" fill="#bcc6fa"/>
<rect x="294.56" y="451.70" width="3.67" height="15.58" fill="#bfc6fa"/>
<rect x="297.93" y="451.70" width="3.67" height="15.58" fill="#cdcefb"/>
<rect x="301.29" y="451.70" width="3.67" height="15.58" fill="#c2c6fa"/>
<rect x="304.66" y="451.70" width="3.67" height="15.58" fill="#bdc6fa"/>
<rect x="308.02" y="451.70" width="3.67" height="15.58" fill="#cfd0fb"/>
<rect x="311.39" y="451.70" width="3.67" height="15.58" fill="#cdcffb"/>
<rect x="314.76" y="451.70" width="3.67" height="15.58" fill="#dfe0fc"/>
<rect x="318.12" y="451.70" width="3.67" height="15.58" fill="#d1d2fb"/>
<rect x="321.49" y="451.70" width="3.67" height="15.58" fill="#d5d7fb"/>
<rect x="324.85" y="451.70" width="3.67" height="15.58" fill="#dedffc"/>
<rect x="328.22" y="451.70" width="3.67" height="15.58" fill="#fffeff"/>
<rect x="331.59" y="451.70" width="3.67" height="15.58" fill="#fbfbff"/>
<rect x="334.95" y="451.70" width="3.67" height="15.58" fill="#c3c6fa"/>
<rect x="338.32" y="451.70" width="3.67" height="15.58" fill="#d4d6fb"/>
<rect x="341.68" y="451.70" width="3.67" height="15.58" fill="#c6c8fa"/>
<rect x="345.05" y="451.70" width="3.67" height="15.58" fill="#caccfb"/>
<rect x="348.42" y="451.70" width="3.67" height="15.58" fill="#c7c9fa"/>
<rect x="351.78" y="451.70" width="3.67" height="15.58" fill="#d3d4fb"/>
<rect x="355.15" y="451.70" width="3.67" height="15.58" fill="#cccefb"/>
<rect x="358.51" y="451.70" width="3.67" height="15.58" fill="#fad2f9"/>
<rect x="361.88" y="451.70" width="3.67" height="15.58" fill="#e2e3fd"/>
<rect x="365.25" y="451.70" width="3.67" height="15.58" fill="#d6d8fc"/>
<rect x="368.61" y="451.70" width="3.67" height="15.58" fill="#e1e2fc"/>
<rect x="371.98" y="451.70" width="3.67" height="15.58" fill="#e6e7fd"/>
<rect x="375.34" y="451.70" width="3.67" height="15.58" fill="#e2e3fd"/>
<rect x="378.71" y="451.70" width="3.67" height="15.58" fill="#e8e9fd"/>
<rect x="382.08" y="451.70" width="3.67" height="15.58" fill="#ebecfd"/>
<rect x="385.44" y="451.70" width="3.67" height="15.58" fill="#eaebfd"/>
<rect x="388.81" y="451.70" width="3.67" height="15.58" fill="#e4e5fd"/>
<rect x="392.17" y="451.70" width="3.67" height="15.58" fill="#dcddfc"/>
<rect x="395.54" y="451.70" width="3.67" height="15.58" fill="#bcc6fa"/>
<rect x="398.91" y="451.70" width="3.67" height="15.58" fill="#c9cbfa"/>
<rect x="402.27" y="451.70" width="3.67" height="15.58" fill="#d6d8fc"/>
<rect x="405.64" y="451.70" width="3.67" height="15.58" fill="#e2e3fd"/>
<rect x="409.00" y="451.70" width="3.67" height="15.58" fill="#d5d6fb"/>
<rect x="412.37" y="451.70" width="3.67" height="15.58" fill="#e5e5fd"/>
<rect x="415.74" y="451.70" width="3.67" height="15.58" fill="#dddefc"/>
<rect x="419.10" y="451.70" width="3.67" height="15.58" fill="#d8d9fc"/>
<rect x="422.47" y="451.70" width="3.67" height="15.58" fill="#e2e3fd"/>
<rect x="425.83" y="451.70" width="3.67" height="15.58" fill="#dadbfc"/>
<rect x="92.60" y="467.08" width="3.67" height="15.58" fill="#a4c7f8"/>
<rect x="95.97" y="467.08" width="3.67" height="15.58" fill="#adc7f9"/>
<rect x="99.33" y="467.08" width="3.67" height="15.58" fill="#a9c7f8"/>
<rect x="102.70" y="467.08" width="3.67" height="15.58" fill="#bbc6fa"/>
<rect x="106.06" y="467.08" width="3.67" height="15.58" fill="#bac6f9"/>
<rect x="109.43" y="467.08" width="3.67" height="15.58" fill="#afc7f9"/>
<rect x="112.80" y="467.08" width="3.67" height="15.58" fill="#a8c7f8"/>
<rect x="116.16" y="467.08" width="3.67" height="15.58" fill="#b0c7f9"/>
<rect x="119.53" y="467.08" width="3.67" height="15.58" fill="#b9c6f9"/>
<rect x="122.89" y="467.08" width="3.67" height="15.58" fill="#a6c7f8"/>
<rect x="126.26" y="467.08" width="3.67" height="15.58" fill="#6bb0f7"/>
<rect x="129.63" y="467.08" width="3.67" height="15.58" fill="#75bef6"/>
<rect x="132.99" y="467.08" width="3.67" height="15.58" fill="#77c1f6"/>
<rect x="136.36" y="467.08" width="3.67" height="15.58" fill="#b2c6f9"/>
<rect x="139.72" y="467.08" width="3.67" height="15.58" fill="#bdc6fa"/>
<rect x="143.09" y="467.08" width="3.67" height="15.58" fill="#b5c6f9"/>
<rect x="146.46" y="467.08" width="3.67" height="15.58" fill="#c3c6fa"/>
<rect x="149.82" y="467.08" width="3.67" height="15.58" fill="#dbdcfc"/>
<rect x="153.19" y="467.08" width="3.67" height="15.58" fill="#e9e9fd"/>
<rect x="156.55" y="467.08" width="3.67" height="15.58" fill="#f5f5fe"/>
<rect x="159.92" y="467.08" width="3.67" height="15.58" fill="#fbfbff"/>
<rect x="163.29" y="467.08" width="3.67" height="15.58" fill="#fce2fb"/>
<rect x="166.65" y="467.08" width="3.67" height="15.58" fill="#fce4fb"/>
<rect x="170.02" y="467.08" width="3.67" height="15.58" fill="#fef3fd"/>
<rect x="173.38" y="467.08" width="3.67" height="15.58" fill="#f9faff"/>
<rect x="176.75" y="467.08" width="3.67" height="15.58" fill="#f3f3fe"/>
<rect x="180.12" y="467.08" width="3.67" height="15.58" fill="#fffcff"/>
<rect x="183.48" y="467.08" width="3.67" height="15.58" fill="#fffdff"/>
<rect x="186.85" y="467.08" width="3.67" height="15.58" fill="#fdfdff"/>
<rect x="190.21" y="467.08" width="3.67" height="15.58" fill="#f3f4fe"/>
<rect x="193.58" y="467.08" width="3.67" height="15.58" fill="#d0d1fb"/>
<rect x="196.95" y="467.08" width="3.67" height="15.58" fill="#d5d7fb"/>
<rect x="200.31" y="467.08" width="3.67" height="15.58" fill="#cacbfa"/>
<rect x="203.68" y="467.08" width="3.67" height="15.58" fill="#bfc6fa"/>
<rect x="207.04" y="467.08" width="3.67" height="15.58" fill="#cdcefb"/>
<rect x="210.41" y="467.08" width="3.67" height="15.58" fill="#bfc6fa"/>
<rect x="213.78" y="467.08" width="3.67" height="15.58" fill="#c5c7fa"/>
<rect x="217.14" y="467.08" width="3.67" height="15.58" fill="#cecffb"/>
<rect x="220.51" y="467.08" width="3.67" height="15.58" fill="#c8c9fa"/>
<rect x="223.87" y="467.08" width="3.67" height="15.58" fill="#bfc6fa"/>
<rect x="227.24" y="467.08" width="3.67" height="15.58" fill="#96c7f7"/>
<rect x="230.61" y="467.08" width="3.67" height="15.58" fill="#a3c7f8"/>
<rect x="233.97" y="467.08" width="3.67" height="15.58" fill="#bec6fa"/>
<rect x="237.34" y="467.08" width="3.67" height="15.58" fill="#bbc6fa"/>
<rect x="240.70" y="467.08" width="3.67" height="15.58" fill="#bcc6fa"/>
<rect x="244.07" y="467.08" width="3.67" height="15.58" fill="#b8c6f9"/>
<rect x="247.44" y="467.08" width="3.67" height="15.58" fill="#b4c6f9"/>
<rect x="250.80" y="467.08" width="3.67" height="15.58" fill="#b0c7f9"/>
<rect x="254.17" y="467.08" width="3.67" height="15.58" fill="#bbc6fa"/>
<rect x="257.53" y="467.08" width="3.67" height="15.58" fill="#b5c6f9"/>
<rect x="260.90" y="467.08" width="3.67" height="15.58" fill="#9fc7f8"/>
<rect x="264.27" y="467.08" width="3.67" height="15.58" fill="#b0c7f9"/>
<rect x="267.63" y="467.08" width="3.67" height="15.58" fill="#afc7f9"/>
<rect x="271.00" y="467.08" width="3.67" height="15.58" fill="#abc7f9"/>
<rect x="274.36" y="467.08" width="3.67" height="15.58" fill="#bdc6fa"/>
<rect x="277.73" y="467.08" width="3.67" height="15.58" fill="#b0c7f9"/>
<rect x="281.10" y="467.08" width="3.67" height="15.58" fill="#c8cafa"/>
<rect x="284.46" y="467.08" width="3.67" height="15.58" fill="#c1c6fa"/>
<rect x="287.83" y="467.08" width="3.67" height="15.58" fill="#e8e9fd"/>
<rect x="291.19" y="467.08" width="3.67" height="15.58" fill="#e9eafd"/>
<rect x="294.56" y="467.08" width="3.67" height="15.58" fill="#d1d3fb"/>
<rect x="297.93" y="467.08" width="3.67" height="15.58" fill="#c8cafa"/>
<rect x="301.29" y="467.08" width="3.67" height="15.58" fill="#c2c6fa"/>
<rect x="304.66" y="467.08" width="3.67" height="15.58" fill="#adc7f9"/>
<rect x="308.02" y="467.08" width="3.67" height="15.58" fill="#b6c6f9"/>
<rect x="311.39" y="467.08" width="3.67" height="15.58" fill="#b7c6f9"/>
<rect x="314.76" y="467.08" width="3.67" height="15.58" fill="#cbcdfb"/>
<rect x="318.12" y="467.08" width="3.67" height="15.58" fill="#fafaff"/>
<rect x="321.49" y="467.08" width="3.67" height="15.58" fill="#f2f3fe"/>
<rect x="324.85" y="467.08" width="3.67" height="15.58" fill="#aec7f9"/>
<rect x="328.22" y="467.08" width="3.67" height="15.58" fill="#c1c6fa"/>
<rect x="331.59" y="467.08" width="3.67" height="15.58" fill="#c9cbfa"/>
<rect x="334.95" y="467.08" width="3.67" height="15.58" fill="#c4c6fa"/>
<rect x="338.32" y="467.08" width="3.67" height="15.58" fill="#c7c9fa"/>
<rect x="341.68" y="467.08" width="3.67" height="15.58" fill="#c2c6fa"/>
<rect x="345.05" y="467.08" width="3.67" height="15.58" fill="#cbcdfb"/>
<rect x="348.42" y="467.08" width="3.67" height="15.58" fill="#c8cafa"/>
<rect x="351.78" y="467.08" width="3.67" height="15.58" fill="#caccfa"/>
<rect x="355.15" y="467.08" width="3.67" height="15.58" fill="#d3d4fb"/>
<rect x="358.51" y="467.08" width="3.67" height="15.58" fill="#dedffc"/>
<rect x="361.88" y="467.08" width="3.67" height="15.58" fill="#f2548b"/>
<rect x="365.25" y="467.08" width="3.67" height="15.58" fill="#f2548d"/>
<rect x="368.61" y="467.08" width="3.67" height="15.58" fill="#f2548b"/>
<rect x="371.98" y="467.08" width="3.67" height="15.58" fill="#f2548e"/>
<rect x="375.34" y="467.08" width="3.67" height="15.58" fill="#f25693"/>
<rect x="378.71" y="467.08" width="3.67" height="15.58" fill="#f25590"/>
<rect x="382.08" y="467.08" width="3.67" height="15.58" fill="#f25591"/>
<rect x="385.44" y="467.08" width="3.67" height="15.58" fill="#f25592"/>
<rect x="388.81" y="467.08" width="3.67" height="15.58" fill="#f35696"/>
<rect x="392.17" y="467.08" width="3.67" height="15.58" fill="#f25083"/>
<rect x="395.54" y="467.08" width="3.67" height="15.58" fill="#fbd5f9"/>
<rect x="398.91" y="467.08" width="3.67" height="15.58" fill="#fad3f9"/>
<rect x="402.27" y="467.08" width="3.67" height="15.58" fill="#f9c6f7"/>
<rect x="405.64" y="467.08" width="3.67" height="15.58" fill="#fbdafa"/>
<rect x="409.00" y="467.08" width="3.67" height="15.58" fill="#fce2fb"/>
<rect x="412.37" y="467.08" width="3.67" height="15.58" fill="#f890f2"/>
<rect x="415.74" y="467.08" width="3.67" height="15.58" fill="#f878ef"/>
<rect x="419.10" y="467.08" width="3.67" height="15.58" fill="#f894f2"/>
<rect x="422.47" y="467.08" width="3.67" height="15.58" fill="#fad3f9"/>
<rect x="425.83" y="467.08" width="3.67" height="15.58" fill="#fef1fd"/>
<rect x="92.60" y="482.46" width="3.67" height="15.58" fill="#caccfb"/>
<rect x="95.97" y="482.46" width="3.67" height="15.58" fill="#cacbfa"/>
<rect x="99.33" y="482.46" width="3.67" height="15.58" fill="#c7c9fa"/>
<rect x="102.70" y="482.46" width="3.67" height="15.58" fill="#c9cbfa"/>
<rect x="106.06" y="482.46" width="3.67" height="15.58" fill="#d3d5fb"/>
<rect x="109.43" y="482.46" width="3.67" height="15.58" fill="#d1d3fb"/>
<rect x="112.80" y="482.46" width="3.67" height="15.58" fill="#bfc6fa"/>
<rect x="116.16" y="482.46" width="3.67" height="15.58" fill="#f8f8fe"/>
<rect x="119.53" y="482.46" width="3.67" height="15.58" fill="#fffdff"/>
<rect x="122.89" y="482.46" width="3.67" height="15.58" fill="#cccefb"/>
<rect x="126.26" y="482.46" width="3.67" height="15.58" fill="#bec6fa"/>
<rect x="129.63" y="482.46" width="3.67" height="15.58" fill="#b6c6f9"/>
<rect x="132.99" y="482.46" width="3.67" height="15.58" fill="#c2c6fa"/>
<rect x="136.36" y="482.46" width="3.67" height="15.58" fill="#adc7f9"/>
<rect x="139.72" y="482.46" width="3.67" height="15.58" fill="#c2c6fa"/>
<rect x="143.09" y="482.46" width="3.67" height="15.58" fill="#bfc6fa"/>
<rect x="146.46" y="482.46" width="3.67" height="15.58" fill="#c6c8fa"/>
<rect x="149.82" y="482.46" width="3.67" height="15.58" fill="#d5d7fb"/>
<rect x="153.19" y="482.46" width="3.67" height="15.58" fill="#caccfa"/>
<rect x="156.55" y="482.46" width="3.67" height="15.58" fill="#dddefc"/>
<rect x="159.92" y="482.46" width="3.67" height="15.58" fill="#ffffff"/>
<rect x="163.29" y="482.46" width="3.67" height="15.58" fill="#fdfdff"/>
<rect x="166.65" y="482.46" width="3.67" height="15.58" fill="#fffeff"/>
<rect x="170.02" y="482.46" width="3.67" height="15.58" fill="#ffffff"/>
<rect x="173.38" y="482.46" width="3.67" height="15.58" fill="#fffeff"/>
<rect x="176.75" y="482.46" width="3.67" height="15.58" fill="#ffffff"/>
<rect x="180.12" y="482.46" width="3.67" height="15.58" fill="#fffdff"/>
<rect x="183.48" y="482.46" width="3.67" height="15.58" fill="#fefeff"/>
<rect x="186.85" y="482.46" width="3.67" height="15.58" fill="#fefeff"/>
<rect x="190.21" y="482.46" width="3.67" height="15.58" fill="#fefeff"/>
<rect x="193.58" y="482.46" width="3.67" height="15.58" fill="#fbfbff"/>
<rect x="196.95" y="482.46" width="3.67" height="15.58" fill="#fffdff"/>
<rect x="200.31" y="482.46" width="3.67" height="15.58" fill="#fefeff"/>
<rect x="203.68" y="482.46" width="3.67" height="15.58" fill="#fffeff"/>
<rect x="207.04" y="482.46" width="3.67" height="15.58" fill="#fefeff"/>
<rect x="210.41" y="482.46" width="3.67" height="15.58" fill="#f9f9fe"/>
<rect x="213.78" y="482.46" width="3.67" height="15.58" fill="#f6f6fe"/>
<rect x="217.14" y="482.46" width="3.67" height="15.58" fill="#f3f4fe"/>
<rect x="220.51" y="482.46" width="3.67" height="15.58" fill="#fad1f9"/>
<rect x="223.87" y="482.46" width="3.67" height="15.58" fill="#fffdff"/>
<rect x="227.24" y="482.46" width="3.67" height="15.58" fill="#c7c9fa"/>
<rect x="230.61" y="482.46" width="3.67" height="15.58" fill="#c3c6fa"/>
<rect x="233.97" y="482.46" width="3.67" height="15.58" fill="#cfd0fb"/>
<rect x="237.34" y="482.46" width="3.67" height="15.58" fill="#c4c6fa"/>
<rect x="240.70" y="482.46" width="3.67" height="15.58" fill="#d5d7fb"/>
<rect x="244.07" y="482.46" width="3.67" height="15.58" fill="#cdcffb"/>
<rect x="247.44" y="482.46" width="3.67" height="15.58" fill="#cdcefb"/>
<rect x="250.80" y="482.46" width="3.67" height="15.58" fill="#d1d3fb"/>
<rect x="254.17" y="482.46" width="3.67" height="15.58" fill="#e2e3fd"/>
<rect x="257.53" y="482.46" width="3.67" height="15.58" fill="#f2f2fe"/>
<rect x="260.90" y="482.46" width="3.67" height="15.58" fill="#f1f2fe"/>
<rect x="264.27" y="482.46" width="3.67" height="15.58" fill="#bdc6fa"/>
<rect x="267.63" y="482.46" width="3.67" height="15.58" fill="#f8f8fe"/>
<rect x="271.00" y="482.46" width="3.67" height="15.58" fill="#d1d3fb"/>
<rect x="274.36" y="482.46" width="3.67" height="15.58" fill="#f9f9fe"/>
<rect x="277.73" y="482.46" width="3.67" height="15.58" fill="#bfc6fa"/>
<rect x="281.10" y="482.46" width="3.67" height="15.58" fill="#f4f4fe"/>
<rect x="284.46" y="482.46" width="3.67" height="15.58" fill="#d2d3fb"/>
<rect x="287.83" y="482.46" width="3.67" height="15.58" fill="#fef6fe"/>
<rect x="291.19" y="482.46" width="3.67" height="15.58" fill="#f45cae"/>
<rect x="294.56" y="482.46" width="3.67" height="15.58" fill="#f665d1"/>
<rect x="297.93" y="482.46" width="3.67" height="15.58" fill="#f662c7"/>
<rect x="301.29" y="482.46" width="3.67" height="15.58" fill="#f665d3"/>
<rect x="304.66" y="482.46" width="3.67" height="15.58" fill="#f665d0"/>
<rect x="308.02" y="482.46" width="3.67" height="15.58" fill="#f768df"/>
<rect x="311.39" y="482.46" width="3.67" height="15.58" fill="#f560bf"/>
<rect x="314.76" y="482.46" width="3.67" height="15.58" fill="#f766d7"/>
<rect x="318.12" y="482.46" width="3.67" height="15.58" fill="#f560bd"/>
<rect x="321.49" y="482.46" width="3.67" height="15.58" fill="#f769e1"/>
<rect x="324.85" y="482.46" width="3.67" height="15.58" fill="#edeefd"/>
<rect x="328.22" y="482.46" width="3.67" height="15.58" fill="#f9faff"/>
<rect x="331.59" y="482.46" width="3.67" height="15.58" fill="#ecedfd"/>
<rect x="334.95" y="482.46" width="3.67" height="15.58" fill="#e6e7fd"/>
<rect x="338.32" y="482.46" width="3.67" height="15.58" fill="#fef9fe"/>
<rect x="341.68" y="482.46" width="3.67" height="15.58" fill="#cbcdfb"/>
<rect x="345.05" y="482.46" width="3.67" height="15.58" fill="#c5c7fa"/>
<rect x="348.42" y="482.46" width="3.67" height="15.58" fill="#cbcdfb"/>
<rect x="351.78" y="482.46" width="3.67" height="15.58" fill="#dddefc"/>
<rect x="355.15" y="482.46" width="3.67" height="15.58" fill="#e6e7fd"/>
<rect x="358.51" y="482.46" width="3.67" height="15.58" fill="#fffeff"/>
<rect x="361.88" y="482.46" width="3.67" height="15.58" fill="#c7c9fa"/>
<rect x="365.25" y="482.46" width="3.67" height="15.58" fill="#c8cafa"/>
<rect x="368.61" y="482.46" width="3.67" height="15.58" fill="#c1c6fa"/>
<rect x="371.98" y="482.46" width="3.67" height="15.58" fill="#c7c9fa"/>
<rect x="375.34" y="482.46" width="3.67" height="15.58" fill="#caccfa"/>
<rect x="378.71" y="482.46" width="3.67" height="15.58" fill="#caccfb"/>
<rect x="382.08" y="482.46" width="3.67" height="15.58" fill="#c6c8fa"/>
<rect x="385.44" y="482.46" width="3.67" height="15.58" fill="#c3c6fa"/>
<rect x="388.81" y="482.46" width="3.67" height="15.58" fill="#b4c6f9"/>
<rect x="392.17" y="482.46" width="3.67" height="15.58" fill="#bdc6fa"/>
<rect x="395.54" y="482.46" width="3.67" height="15.58" fill="#d5d7fb"/>
<rect x="398.91" y="482.46" width="3.67" height="15.58" fill="#e2e2fc"/>
<rect x="402.27" y="482.46" width="3.67" height="15.58" fill="#e2e3fd"/>
<rect x="405.64" y="482.46" width="3.67" height="15.58" fill="#e7e8fd"/>
<rect x="409.00" y="482.46" width="3.67" height="15.58" fill="#e3e4fd"/>
<rect x="412.37" y="482.46" width="3.67" height="15.58" fill="#e4e5fd"/>
<rect x="415.74" y="482.46" width="3.67" height="15.58" fill="#e6e7fd"/>
<rect x="419.10" y="482.46" width="3.67" height="15.58" fill="#e2e3fd"/>
<rect x="422.47" y="482.46" width="3.67" height="15.58" fill="#e8e8fd"/>
<rect x="425.83" y="482.46" width="3.67" height="15.58" fill="#fce5fb"/>
<rect x="92.60" y="497.84" width="3.67" height="15.58" fill="#92c7f7"/>
<rect x="95.97" y="497.84" width="3.67" height="15.58" fill="#a9c7f8"/>
<rect x="99.33" y="497.84" width="3.67" height="15.58" fill="#a5c7f8"/>
<rect x="102.70" y="497.84" width="3.67" height="15.58" fill="#b9c6f9"/>
<rect x="106.06" y="497.84" width="3.67" height="15.58" fill="#a7c7f8"/>
<rect x="109.43" y="497.84" width="3.67" height="15.58" fill="#bec6fa"/>
<rect x="112.80" y="497.84" width="3.67" height="15.58" fill="#afc7f9"/>
<rect x="116.16" y="497.84" width="3.67" height="15.58" fill="#bdc6fa"/>
<rect x="119.53" y="497.84" width="3.67" height="15.58" fill="#bac6f9"/>
<rect x="122.89" y="497.84" width="3.67" height="15.58" fill="#c7c9fa"/>
<rect x="126.26" y="497.84" width="3.67" height="15.58" fill="#a4c7f8"/>
<rect x="129.63" y="497.84" width="3.67" height="15.58" fill="#84c8f6"/>
<rect x="132.99" y="497.84" width="3.67" height="15.58" fill="#8ac8f7"/>
<rect x="136.36" y="497.84" width="3.67" height="15.58" fill="#b3c6f9"/>
<rect x="139.72" y="497.84" width="3.67" height="15.58" fill="#c7c9fa"/>
<rect x="143.09" y="497.84" width="3.67" height="15.58" fill="#caccfa"/>
<rect x="146.46" y="497.84" width="3.67" height="15.58" fill="#c2c6fa"/>
<rect x="149.82" y="497.84" width="3.67" height="15.58" fill="#c0c6fa"/>
<rect x="153.19" y="497.84" width="3.67" height="15.58" fill="#e7e8fd"/>
<rect x="156.55" y="497.84" width="3.67" height="15.58" fill="#d3d4fb"/>
<rect x="159.92" y="497.84" width="3.67" height="15.58" fill="#f4f5fe"/>
<rect x="163.29" y="497.84" width="3.67" height="15.58" fill="#fef7fe"/>
<rect x="166.65" y="497.84" width="3.67" height="15.58" fill="#fef8fe"/>
<rect x="170.02" y="497.84" width="3.67" height="15.58" fill="#fffafe"/>
<rect x="173.38" y="497.84" width="3.67" height="15.58" fill="#fef5fe"/>
<rect x="176.75" y="497.84" width="3.67" height="15.58" fill="#fef2fd"/>
<rect x="180.12" y="497.84" width="3.67" height="15.58" fill="#fef9fe"/>
<rect x="183.48" y="497.84" width="3.67" height="15.58" fill="#fefafe"/>
<rect x="186.85" y="497.84" width="3.67" height="15.58" fill="#fffbfe"/>
<rect x="190.21" y="497.84" width="3.67" height="15.58" fill="#fffeff"/>
<rect x="193.58" y="497.84" width="3.67" height="15.58" fill="#e6e6fd"/>
<rect x="196.95" y="497.84" width="3.67" height="15.58" fill="#d8dafc"/>
<rect x="200.31" y="497.84" width="3.67" height="15.58" fill="#d6d7fc"/>
<rect x="203.68" y="497.84" width="3.67" height="15.58" fill="#dbddfc"/>
<rect x="207.04" y="497.84" width="3.67" height="15.58" fill="#d7d8fc"/>
<rect x="210.41" y="497.84" width="3.67" height="15.58" fill="#e8e8fd"/>
<rect x="213.78" y="497.84" width="3.67" height="15.58" fill="#dadbfc"/>
<rect x="217.14" y="497.84" width="3.67" height="15.58" fill="#d6d7fc"/>
<rect x="220.51" y="497.84" width="3.67" height="15.58" fill="#caccfb"/>
<rect x="223.87" y="497.84" width="3.67" height="15.58" fill="#f2f3fe"/>
<rect x="227.24" y="497.84" width="3.67" height="15.58" fill="#adc7f9"/>
<rect x="230.61" y="497.84" width="3.67" height="15.58" fill="#9fc7f8"/>
<rect x="233.97" y="497.84" width="3.67" height="15.58" fill="#acc7f9"/>
<rect x="237.34" y="497.84" width="3.67" height="15.58" fill="#a5c7f8"/>
<rect x="240.70" y="497.84" width="3.67" height="15.58" fill="#adc7f9"/>
<rect x="244.07" y="497.84" width="3.67" height="15.58" fill="#b1c7f9"/>
<rect x="247.44" y="497.84" width="3.67" height="15.58" fill="#b5c6f9"/>
<rect x="250.80" y="497.84" width="3.67" height="15.58" fill="#b4c6f9"/>
<rect x="254.17" y="497.84" width="3.67" height="15.58" fill="#c4c6fa"/>
<rect x="257.53" y="497.84" width="3.67" height="15.58" fill="#bcc6fa"/>
<rect x="260.90" y="497.84" width="3.67" height="15.58" fill="#94c7f7"/>
<rect x="264.27" y="497.84" width="3.67" height="15.58" fill="#afc7f9"/>
<rect x="267.63" y="497.84" width="3.67" height="15.58" fill="#b5c6f9"/>
<rect x="271.00" y="497.84" width="3.67" height="15.58" fill="#a7c7f8"/>
<rect x="274.36" y="497.84" width="3.67" height="15.58" fill="#a0c7f8"/>
<rect x="277.73" y="497.84" width="3.67" height="15.58" fill="#b2c7f9"/>
<rect x="281.10" y="497.84" width="3.67" height="15.58" fill="#bdc6fa"/>
<rect x="284.46" y="497.84" width="3.67" height="15.58" fill="#b9c6f9"/>
<rect x="287.83" y="497.84" width="3.67" height="15.58" fill="#d0d1fb"/>
<rect x="291.19" y="497.84" width="3.67" height="15.58" fill="#bcc6fa"/>
<rect x="294.56" y="497.84" width="3.67" height="15.58" fill="#c2c6fa"/>
<rect x="297.93" y="497.84" width="3.67" height="15.58" fill="#bac6f9"/>
<rect x="301.29" y="497.84" width="3.67" height="15.58" fill="#9dc7f8"/>
<rect x="304.66" y="497.84" width="3.67" height="15.58" fill="#bdc6fa"/>
<rect x="308.02" y="497.84" width="3.67" height="15.58" fill="#cacbfa"/>
<rect x="311.39" y="497.84" width="3.67" height="15.58" fill="#b8c6f9"/>
<rect x="314.76" y="497.84" width="3.67" height="15.58" fill="#bec6fa"/>
<rect x="318.12" y="497.84" width="3.67" height="15.58" fill="#bcc6fa"/>
<rect x="321.49" y="497.84" width="3.67" height="15.58" fill="#adc7f9"/>
<rect x="324.85" y="497.84" width="3.67" height="15.58" fill="#c8cafa"/>
<rect x="328.22" y="497.84" width="3.67" height="15.58" fill="#c3c6fa"/>
<rect x="331.59" y="497.84" width="3.67" height="15.58" fill="#c9cbfa"/>
<rect x="334.95" y="497.84" width="3.67" height="15.58" fill="#c1c6fa"/>
<rect x="338.32" y="497.84" width="3.67" height="15.58" fill="#b7c6f9"/>
<rect x="341.68" y="497.84" width="3.67" height="15.58" fill="#b4c6f9"/>
<rect x="345.05" y="497.84" width="3.67" height="15.58" fill="#bec6fa"/>
<rect x="348.42" y="497.84" width="3.67" height="15.58" fill="#bac6f9"/>
<rect x="351.78" y="497.84" width="3.67" height="15.58" fill="#fafaff"/>
<rect x="355.15" y="497.84" width="3.67" height="15.58" fill="#fdebfc"/>
<rect x="358.51" y="497.84" width="3.67" height="15.58" fill="#fde8fc"/>
<rect x="361.88" y="497.84" width="3.67" height="15.58" fill="#fef2fd"/>
<rect x="365.25" y="497.84" width="3.67" height="15.58" fill="#fde7fc"/>
<rect x="368.61" y="497.84" width="3.67" height="15.58" fill="#fce2fb"/>
<rect x="371.98" y="497.84" width="3.67" height="15.58" fill="#fdebfc"/>
<rect x="375.34" y="497.84" width="3.67" height="15.58" fill="#fce4fb"/>
<rect x="378.71" y="497.84" width="3.67" height="15.58" fill="#fbdbfa"/>
<rect x="382.08" y="497.84" width="3.67" height="15.58" fill="#f9caf8"/>
<rect x="385.44" y="497.84" width="3.67" height="15.58" fill="#fce5fc"/>
<rect x="388.81" y="497.84" width="3.67" height="15.58" fill="#fbd4f9"/>
<rect x="392.17" y="497.84" width="3.67" height="15.58" fill="#fbddfa"/>
<rect x="395.54" y="497.84" width="3.67" height="15.58" fill="#f24e7f"/>
<rect x="398.91" y="497.84" width="3.67" height="15.58" fill="#f34b78"/>
<rect x="402.27" y="497.84" width="3.67" height="15.58" fill="#f2538a"/>
<rect x="405.64" y="497.84" width="3.67" height="15.58" fill="#f34b7a"/>
<rect x="409.00" y="497.84" width="3.67" height="15.58" fill="#f24d7e"/>
<rect x="412.37" y="497.84" width="3.67" height="15.58" fill="#f875ef"/>
<rect x="415.74" y="497.84" width="3.67" height="15.58" fill="#f87ff0"/>
<rect x="419.10" y="497.84" width="3.67" height="15.58" fill="#f885f1"/>
<rect x="422.47" y="497.84" width="3.67" height="15.58" fill="#f879ef"/>
<rect x="425.83" y="497.84" width="3.67" height="15.58" fill="#f873ef"/>
<rect x="92.60" y="513.22" width="3.67" height="15.58" fill="#dddefc"/>
<rect x="95.97" y="513.22" width="3.67" height="15.58" fill="#d6d8fc"/>
<rect x="99.33" y="513.22" width="3.67" height="15.58" fill="#d8d9fc"/>
<rect x="102.70" y="513.22" width="3.67" height="15.58" fill="#e2e2fc"/>
<rect x="106.06" y="513.22" width="3.67" height="15.58" fill="#e2e3fd"/>
<rect x="109.43" y="513.22" width="3.67" height="15.58" fill="#c9cbfa"/>
<rect x="112.80" y="513.22" width="3.67" height="15.58" fill="#d7d8fc"/>
<rect x="116.16" y="513.22" width="3.67" height="15.58" fill="#f8f8fe"/>
<rect x="119.53" y="513.22" width="3.67" height="15.58" fill="#f2f3fe"/>
<rect x="122.89" y="513.22" width="3.67" height="15.58" fill="#f89af3"/>
<rect x="126.26" y="513.22" width="3.67" height="15.58" fill="#b3c6f9"/>
<rect x="129.63" y="513.22" width="3.67" height="15.58" fill="#bac6f9"/>
<rect x="132.99" y="513.22" width="3.67" height="15.58" fill="#b0c7f9"/>
<rect x="136.36" y="513.22" width="3.67" height="15.58" fill="#b6c6f9"/>
<rect x="139.72" y="513.22" width="3.67" height="15.58" fill="#cbccfb"/>
<rect x="143.09" y="513.22" width="3.67" height="15.58" fill="#c7c9fa"/>
<rect x="146.46" y="513.22" width="3.67" height="15.58" fill="#bdc6fa"/>
<rect x="149.82" y="513.22" width="3.67" height="15.58" fill="#bdc6fa"/>
<rect x="153.19" y="513.22" width="3.67" height="15.58" fill="#d2d3fb"/>
<rect x="156.55" y="513.22" width="3.67" height="15.58" fill="#ced0fb"/>
<rect x="159.92" y="513.22" width="3.67" height="15.58" fill="#f3f3fe"/>
<rect x="163.29" y="513.22" width="3.67" height="15.58" fill="#f3f4fe"/>
<rect x="166.65" y="513.22" width="3.67" height="15.58" fill="#f8f8fe"/>
<rect x="170.02" y="513.22" width="3.67" height="15.58" fill="#fafaff"/>
<rect x="173.38" y="513.22" width="3.67" height="15.58" fill="#fbfcff"/>
<rect x="176.75" y="513.22" width="3.67" height="15.58" fill="#ffffff"/>
<rect x="180.12" y="513.22" width="3.67" height="15.58" fill="#fefeff"/>
<rect x="183.48" y="513.22" width="3.67" height="15.58" fill="#fbfbff"/>
<rect x="186.85" y="513.22" width="3.67" height="15.58" fill="#f9f9fe"/>
<rect x="190.21" y="513.22" width="3.67" height="15.58" fill="#f2f2fe"/>
<rect x="193.58" y="513.22" width="3.67" height="15.58" fill="#d0d1fb"/>
<rect x="196.95" y="513.22" width="3.67" height="15.58" fill="#d3d4fb"/>
<rect x="200.31" y="513.22" width="3.67" height="15.58" fill="#c9cbfa"/>
<rect x="203.68" y="513.22" width="3.67" height="15.58" fill="#d4d5fb"/>
<rect x="207.04" y="513.22" width="3.67" height="15.58" fill="#dadcfc"/>
<rect x="210.41" y="513.22" width="3.67" height="15.58" fill="#dcddfc"/>
<rect x="213.78" y="513.22" width="3.67" height="15.58" fill="#dddefc"/>
<rect x="217.14" y="513.22" width="3.67" height="15.58" fill="#e9e9fd"/>
<rect x="220.51" y="513.22" width="3.67" height="15.58" fill="#f1f2fe"/>
<rect x="223.87" y="513.22" width="3.67" height="15.58" fill="#fafaff"/>
<rect x="227.24" y="513.22" width="3.67" height="15.58" fill="#bcc6fa"/>
<rect x="230.61" y="513.22" width="3.67" height="15.58" fill="#ced0fb"/>
<rect x="233.97" y="513.22" width="3.67" height="15.58" fill="#c1c6fa"/>
<rect x="237.34" y="513.22" width="3.67" height="15.58" fill="#d5d6fb"/>
<rect x="240.70" y="513.22" width="3.67" height="15.58" fill="#cdcffb"/>
<rect x="244.07" y="513.22" width="3.67" height="15.58" fill="#c3c6fa"/>
<rect x="247.44" y="513.22" width="3.67" height="15.58" fill="#c6c8fa"/>
<rect x="250.80" y="513.22" width="3.67" height="15.58" fill="#caccfa"/>
<rect x="254.17" y="513.22" width="3.67" height="15.58" fill="#ced0fb"/>
<rect x="257.53" y="513.22" width="3.67" height="15.58" fill="#f8abf4"/>
<rect x="260.90" y="513.22" width="3.67" height="15.58" fill="#d3d4fb"/>
<rect x="264.27" y="513.22" width="3.67" height="15.58" fill="#d6d7fc"/>
<rect x="267.63" y="513.22" width="3.67" height="15.58" fill="#e2e3fd"/>
<rect x="271.00" y="513.22" width="3.67" height="15.58" fill="#e2e3fd"/>
<rect x="274.36" y="513.22" width="3.67" height="15.58" fill="#cdcffb"/>
<rect x="277.73" y="513.22" width="3.67" height="15.58" fill="#cbcdfb"/>
<rect x="281.10" y="513.22" width="3.67" height="15.58" fill="#e2e3fd"/>
<rect x="284.46" y="513.22" width="3.67" height="15.58" fill="#fad0f9"/>
<rect x="287.83" y="513.22" width="3.67" height="15.58" fill="#f8adf4"/>
<rect x="291.19" y="513.22" width="3.67" height="15.58" fill="#c7c9fa"/>
<rect x="294.56" y="513.22" width="3.67" height="15.58" fill="#c4c6fa"/>
<rect x="297.93" y="513.22" width="3.67" height="15.58" fill="#c2c6fa"/>
<rect x="301.29" y="513.22" width="3.67" height="15.58" fill="#caccfa"/>
<rect x="304.66" y="513.22" width="3.67" height="15.58" fill="#c1c6fa"/>
<rect x="308.02" y="513.22" width="3.67" height="15.58" fill="#c5c7fa"/>
<rect x="311.39" y="513.22" width="3.67" height="15.58" fill="#c9cbfa"/>
<rect x="314.76" y="513.22" width="3.67" height="15.58" fill="#cbccfb"/>
<rect x="318.12" y="513.22" width="3.67" height="15.58" fill="#cecffb"/>
<rect x="321.49" y="513.22" width="3.67" height="15.58" fill="#fce4fb"/>
<rect x="324.85" y="513.22" width="3.67" height="15.58" fill="#f4354b"/>
<rect x="328.22" y="513.22" width="3.67" height="15.58" fill="#f43a54"/>
<rect x="331.59" y="513.22" width="3.67" height="15.58" fill="#f42d38"/>
<rect x="334.95" y="513.22" width="3.67" height="15.58" fill="#f43142"/>
<rect x="338.32" y="513.22" width="3.67" height="15.58" fill="#f5272d"/>
<rect x="341.68" y="513.22" width="3.67" height="15.58" fill="#f52426"/>
<rect x="345.05" y="513.22" width="3.67" height="15.58" fill="#f43040"/>
<rect x="348.42" y="513.22" width="3.67" height="15.58" fill="#f43041"/>
<rect x="351.78" y="513.22" width="3.67" height="15.58" fill="#f43952"/>
<rect x="355.15" y="513.22" width="3.67" height="15.58" fill="#f43952"/>
<rect x="358.51" y="513.22" width="3.67" height="15.58" fill="#c8cafa"/>
<rect x="361.88" y="513.22" width="3.67" height="15.58" fill="#bac6f9"/>
<rect x="365.25" y="513.22" width="3.67" height="15.58" fill="#b2c7f9"/>
<rect x="368.61" y="513.22" width="3.67" height="15.58" fill="#bbc6fa"/>
<rect x="371.98" y="513.22" width="3.67" height="15.58" fill="#b8c6f9"/>
<rect x="375.34" y="513.22" width="3.67" height="15.58" fill="#b4c6f9"/>
<rect x="378.71" y="513.22" width="3.67" height="15.58" fill="#b8c6f9"/>
<rect x="382.08" y="513.22" width="3.67" height="15.58" fill="#b1c7f9"/>
<rect x="385.44" y="513.22" width="3.67" height="15.58" fill="#b7c6f9"/>
<rect x="388.81" y="513.22" width="3.67" height="15.58" fill="#bcc6fa"/>
<rect x="392.17" y="513.22" width="3.67" height="15.58" fill="#89c8f7"/>
<rect x="395.54" y="513.22" width="3.67" height="15.58" fill="#d5d7fb"/>
<rect x="398.91" y="513.22" width="3.67" height="15.58" fill="#cbcdfb"/>
<rect x="402.27" y="513.22" width="3.67" height="15.58" fill="#bec6fa"/>
<rect x="405.64" y="513.22" width="3.67" height="15.58" fill="#c9cbfa"/>
<rect x="409.00" y="513.22" width="3.67" height="15.58" fill="#dfe0fc"/>
<rect x="412.37" y="513.22" width="3.67" height="15.58" fill="#d1d2fb"/>
<rect x="415.74" y="513.22" width="3.67" height="15.58" fill="#c9cbfa"/>
<rect x="419.10" y="513.22" width="3.67" height="15.58" fill="#c9cbfa"/>
<rect x="422.47" y="513.22" width="3.67" height="15.58" fill="#e0e1fc"/>
<rect x="425.83" y="513.22" width="3.67" height="15.58" fill="#f9c9f8"/>
</g>
<text x="88.1" y="384.5" font-size="5.8" text-anchor="end" fill="#3a3a3a" stroke="#3a3a3a" stroke-width="0.1">Renal corpusle cell</text>
<path d="M89.2,382.5H92.2" stroke="#333" stroke-width="0.7"/>
<text x="88.1" y="399.9" font-size="5.8" text-anchor="end" fill="#3a3a3a" stroke="#3a3a3a" stroke-width="0.1">PT cell</text>
<path d="M89.2,397.9H92.2" stroke="#333" stroke-width="0.7"/>
<text x="88.1" y="415.2" font-size="5.8" text-anchor="end" fill="#3a3a3a" stroke="#3a3a3a" stroke-width="0.1">GPC cell</text>
<path d="M89.2,413.2H92.2" stroke="#333" stroke-width="0.7"/>
<text x="88.1" y="430.6" font-size="5.8" text-anchor="end" fill="#3a3a3a" stroke="#3a3a3a" stroke-width="0.1">Loop of Henle cell</text>
<path d="M89.2,428.6H92.2" stroke="#333" stroke-width="0.7"/>
<text x="88.1" y="446.0" font-size="5.8" text-anchor="end" fill="#3a3a3a" stroke="#3a3a3a" stroke-width="0.1">Endothelial cell</text>
<path d="M89.2,444.0H92.2" stroke="#333" stroke-width="0.7"/>
<text x="88.1" y="461.4" font-size="5.8" text-anchor="end" fill="#3a3a3a" stroke="#3a3a3a" stroke-width="0.1">Proliferative cell</text>
<path d="M89.2,459.4H92.2" stroke="#333" stroke-width="0.7"/>
<text x="88.1" y="476.8" font-size="5.8" text-anchor="end" fill="#3a3a3a" stroke="#3a3a3a" stroke-width="0.1">MP cell</text>
<path d="M89.2,474.8H92.2" stroke="#333" stroke-width="0.7"/>
<text x="88.1" y="492.2" font-size="5.8" text-anchor="end" fill="#3a3a3a" stroke="#3a3a3a" stroke-width="0.1">Smooth muscle cell</text>
<path d="M89.2,490.2H92.2" stroke="#333" stroke-width="0.7"/>
<text x="88.1" y="507.5" font-size="5.8" text-anchor="end" fill="#3a3a3a" stroke="#3a3a3a" stroke-width="0.1">CDC cell</text>
<path d="M89.2,505.5H92.2" stroke="#333" stroke-width="0.7"/>
<text x="88.1" y="522.9" font-size="5.8" text-anchor="end" fill="#3a3a3a" stroke="#3a3a3a" stroke-width="0.1">Podocyte</text>
<path d="M89.2,520.9H92.2" stroke="#333" stroke-width="0.7"/>
<defs><linearGradient id="cb" x1="0" y1="0" x2="0" y2="1"><stop offset="0.000" stop-color="#f52222"/><stop offset="0.125" stop-color="#f2548c"/><stop offset="0.250" stop-color="#f86cee"/><stop offset="0.375" stop-color="#f8bcf6"/><stop offset="0.500" stop-color="#ffffff"/><stop offset="0.625" stop-color="#c4c6fa"/><stop offset="0.750" stop-color="#7cc8f6"/><stop offset="0.875" stop-color="#4478f8"/><stop offset="1.000" stop-color="#1a10f0"/></linearGradient></defs>
<rect x="441" y="379.7" width="16.6" height="143.4" fill="url(#cb)" stroke="#8a8a8a" stroke-width="0.6"/>
<path d="M457.6,379.7h1.2" stroke="#555" stroke-width="0.4"/><text x="459.3" y="381.4" font-size="5" fill="#333">10</text>
<path d="M457.6,415.6h1.2" stroke="#555" stroke-width="0.4"/><text x="459.3" y="417.3" font-size="5" fill="#333">5</text>
<path d="M457.6,451.4h1.2" stroke="#555" stroke-width="0.4"/><text x="459.3" y="453.1" font-size="5" fill="#333">0</text>
<path d="M457.6,487.2h1.2" stroke="#555" stroke-width="0.4"/><text x="459.3" y="489.0" font-size="5" fill="#333">-5</text>
<path d="M457.6,523.1h1.2" stroke="#555" stroke-width="0.4"/><text x="459.3" y="524.9" font-size="5" fill="#333">-10</text></g>
<g id="pe"><path d="M587.43,385.82A61,61 0 0 1 616.29,395.20L594.32,429.81A20,20 0 0 0 584.86,426.74Z" fill="#eeeeee"/>
<path d="M624.40,397.39A64,64 0 0 1 643.11,423.14L609.63,436.39A28,28 0 0 0 601.45,425.13Z" fill="#eeeeee"/>
<path d="M640.75,432.03A59,59 0 0 1 640.75,461.37L605.88,452.42A23,23 0 0 0 605.88,440.98Z" fill="#eeeeee"/>
<path d="M645.90,471.36A67,67 0 0 1 626.31,498.32L595.71,461.34A19,19 0 0 0 601.27,453.69Z" fill="#eeeeee"/>
<path d="M622.72,508.34A73,73 0 0 1 588.18,519.56L584.79,465.66A19,19 0 0 0 593.78,462.74Z" fill="#eeeeee"/>
<path d="M579.08,518.56A72,72 0 0 1 545.02,507.49L569.67,468.65A26,26 0 0 0 581.97,472.65Z" fill="#eeeeee"/>
<path d="M539.62,499.87A69,69 0 0 1 519.45,472.10L563.14,454.80A22,22 0 0 0 569.58,463.65Z" fill="#eeeeee"/>
<path d="M507.08,466.35A79,79 0 0 1 507.08,427.05L557.45,439.99A27,27 0 0 0 557.45,453.41Z" fill="#eeeeee"/>
<path d="M508.29,416.88A81,81 0 0 1 531.97,384.29L572.13,432.83A18,18 0 0 0 566.86,440.07Z" fill="#eeeeee"/>
<path d="M532.16,365.64A96,96 0 0 1 577.57,350.89L580.46,396.80A50,50 0 0 0 556.81,404.48Z" fill="#eeeeee"/>
<g stroke-linecap="round" stroke-width="2.9" fill="none">
<path stroke="#a3a3a3" d="M591.8,394.7h0M590.1,393.1h0M597.0,394.9h0M599.7,397.7h0M598.0,397.3h0M590.2,395.5h0M607.3,399.2h0M593.3,395.8h0M610.3,399.8h0M597.8,394.9h0M589.6,391.6h0M595.5,393.1h0M590.9,395.3h0M606.8,399.5h0M601.5,397.8h0M597.3,394.5h0M589.8,393.5h0M592.9,396.0h0M598.6,394.7h0M601.8,397.3h0M595.4,394.8h0M605.1,396.5h0M601.4,397.5h0M608.5,399.3h0M595.3,393.6h0M591.3,391.8h0M605.8,398.5h0M599.4,397.2h0M603.2,399.1h0M602.2,395.4h0M596.1,393.2h0M602.6,395.9h0M599.2,395.3h0M610.7,399.0h0M603.8,397.4h0M603.9,399.3h0M611.3,400.3h0M595.3,393.2h0M603.7,397.8h0M598.6,397.6h0M590.9,395.2h0M605.3,400.0h0M593.9,395.9h0M608.2,399.8h0M598.4,397.2h0M608.7,399.4h0M608.9,398.1h0M597.9,396.2h0M608.4,400.1h0M592.2,392.0h0M593.6,395.6h0M599.4,396.9h0M594.6,394.1h0M597.7,397.3h0M601.4,396.9h0M605.2,395.8h0M602.8,396.8h0M589.6,392.9h0M607.1,396.9h0M607.5,397.2h0M597.6,395.6h0M602.5,398.6h0M589.7,395.5h0M592.0,395.2h0M589.5,394.3h0M591.6,396.0h0M596.5,396.6h0M607.5,401.2h0M591.9,393.5h0M596.3,395.9h0M591.1,394.4h0M611.7,399.6h0M599.7,395.9h0M590.5,395.5h0M594.5,395.1h0M592.3,392.6h0M609.0,402.0h0M591.8,393.8h0M588.9,393.4h0M610.7,400.6h0M605.2,396.2h0M596.8,396.0h0M605.6,399.6h0M606.4,398.3h0M593.5,395.0h0M607.6,405.9h0M604.4,403.7h0M603.0,403.4h0M596.7,407.5h0M588.1,404.3h0M592.1,408.3h0M599.8,408.3h0M597.6,399.9h0M608.3,404.8h0M595.8,399.4h0M591.6,406.2h0M591.1,406.4h0M605.1,406.7h0M597.9,401.2h0M603.4,405.5h0M598.6,409.7h0M604.2,403.0h0M597.6,402.1h0M601.0,409.8h0M601.9,408.4h0M596.5,399.4h0M604.7,409.1h0M591.3,400.9h0M590.1,406.9h0M604.7,403.2h0M601.5,410.4h0M602.0,401.2h0M597.6,406.5h0M587.7,406.6h0M601.8,401.2h0M605.2,407.9h0M603.6,408.1h0M592.3,400.0h0M592.8,406.1h0M597.9,407.8h0M595.1,406.6h0M602.7,411.2h0M596.0,405.9h0M604.9,407.1h0M604.3,408.6h0M597.8,404.9h0M588.1,402.5h0M591.1,403.8h0M600.4,411.5h0M595.7,407.8h0M599.1,402.9h0M597.0,406.5h0M602.7,406.2h0M597.0,408.9h0M592.5,406.1h0M598.3,402.1h0M602.3,406.0h0M597.4,400.3h0M597.7,403.6h0M600.8,405.9h0M597.7,405.4h0M605.0,408.4h0M605.0,405.8h0M593.6,399.0h0M605.5,407.7h0M590.8,399.6h0M595.1,408.1h0M591.5,407.8h0M598.6,409.9h0M605.8,405.2h0M599.7,409.5h0M590.7,401.4h0M607.7,405.1h0M603.8,410.7h0M596.7,405.6h0M605.6,402.7h0M595.0,407.7h0M594.3,403.7h0M593.1,406.8h0M588.2,400.5h0M596.3,403.8h0M592.9,408.6h0M597.9,403.6h0M603.5,412.4h0M607.2,405.9h0M592.0,407.5h0M600.2,411.0h0M589.9,405.4h0M604.2,408.6h0M593.3,400.3h0M603.0,411.1h0M601.2,405.4h0M588.4,407.1h0M596.4,402.4h0M602.9,411.9h0M603.3,405.7h0M601.6,411.2h0M601.7,411.4h0M594.1,404.3h0M605.2,407.6h0M589.9,405.4h0M592.3,403.1h0M590.2,407.1h0M590.8,407.8h0M593.2,405.6h0M593.8,401.0h0M591.1,403.2h0M587.9,404.3h0M587.8,405.3h0M599.0,402.8h0M595.8,407.6h0M590.3,398.5h0M596.9,401.2h0M603.3,407.2h0M597.0,405.8h0M606.9,406.9h0M602.5,408.6h0M600.5,403.6h0M594.1,404.8h0M589.6,407.6h0M599.8,410.4h0M590.5,405.6h0M601.4,411.0h0M601.9,402.3h0M592.0,405.6h0M595.9,406.5h0M595.2,407.8h0M604.2,410.4h0M599.7,400.4h0M604.2,410.6h0M594.1,405.8h0M593.7,409.0h0M597.2,405.0h0M596.4,407.7h0M591.8,408.5h0M594.3,408.2h0M587.8,407.5h0M591.8,405.4h0M598.1,404.1h0M601.1,403.4h0M605.2,405.6h0M593.7,404.9h0M591.3,398.2h0M600.7,403.5h0M601.1,411.4h0M601.1,401.8h0M604.0,404.8h0M596.5,408.4h0M603.3,407.2h0M604.6,404.3h0M604.7,407.0h0M601.5,404.3h0M588.1,405.6h0M593.7,407.6h0M601.4,410.8h0M622.2,411.3h0M631.6,418.2h0M618.6,407.2h0M629.4,418.7h0M623.0,410.8h0M633.0,423.8h0M618.6,407.7h0M625.2,414.1h0M622.9,408.9h0M631.4,419.4h0M622.4,409.6h0M625.8,410.1h0M623.9,409.1h0M629.3,421.1h0M631.6,425.0h0M622.1,409.4h0M624.8,414.4h0M633.2,424.3h0M624.1,414.2h0M631.5,425.7h0M618.6,408.3h0M623.8,414.4h0M633.5,422.4h0M634.0,425.3h0M626.0,410.6h0M631.0,424.9h0M620.1,405.8h0M625.8,412.3h0M624.0,412.3h0M617.9,407.5h0M624.0,413.0h0M622.5,406.7h0M624.0,408.2h0M630.5,422.1h0M627.2,412.9h0M624.9,415.9h0M631.6,424.2h0M623.9,413.5h0M620.6,405.3h0M630.6,421.8h0M620.4,405.9h0M618.5,408.9h0M624.7,409.2h0M633.0,423.0h0M623.0,411.4h0M630.4,416.4h0M628.9,420.1h0M622.9,411.5h0M628.3,421.5h0M630.5,416.8h0M620.6,405.0h0M625.6,415.4h0M634.5,423.9h0M622.8,410.8h0M626.6,415.2h0M623.5,407.8h0M631.4,419.3h0M631.9,420.1h0M624.8,411.5h0M624.3,413.1h0M621.1,406.5h0M629.1,421.0h0M619.2,408.2h0M625.9,417.5h0M632.0,425.6h0M634.5,424.8h0M619.6,408.4h0M625.4,416.3h0M627.0,413.5h0M624.8,414.3h0M629.8,418.4h0M632.5,421.9h0M621.5,407.6h0M625.1,410.2h0M625.4,412.5h0M623.1,408.8h0M622.2,411.2h0M630.3,423.9h0M624.7,411.6h0M632.5,425.8h0M622.9,410.1h0M630.3,417.5h0M622.2,406.2h0M631.0,421.8h0M633.6,423.2h0M613.3,420.8h0M612.6,418.9h0M624.3,419.4h0M621.2,415.9h0M621.7,417.7h0M620.1,426.5h0M617.4,411.6h0M621.5,422.2h0M615.5,420.6h0M613.0,418.9h0M618.3,423.7h0M616.7,415.2h0M613.4,421.4h0M616.7,414.7h0M614.2,417.6h0M622.4,419.8h0M611.2,418.2h0M619.0,422.2h0M615.0,413.7h0M618.4,425.7h0M616.0,418.1h0M622.0,429.2h0M618.5,422.9h0M617.2,420.4h0M627.6,427.8h0M614.5,417.2h0M617.3,414.6h0M618.7,429.6h0M621.9,426.4h0M622.3,427.6h0M614.8,416.0h0M615.8,424.4h0M624.7,427.0h0M617.1,425.0h0M618.3,421.6h0M614.0,419.9h0M623.8,427.8h0M616.0,423.0h0M626.8,427.4h0M612.4,417.5h0M628.2,427.1h0M613.4,414.4h0M621.4,416.2h0M624.2,420.5h0M617.4,413.3h0M618.0,414.5h0M622.0,426.9h0M617.7,413.6h0M615.9,421.0h0M618.1,418.8h0M613.4,419.6h0M625.4,426.4h0M616.1,424.4h0M615.0,412.0h0M616.8,412.5h0M620.7,421.0h0M617.9,416.9h0M619.6,422.5h0M620.4,423.7h0M618.2,420.1h0M616.5,425.3h0M616.0,416.8h0M624.7,424.1h0M615.0,416.3h0M614.1,415.2h0M615.5,422.0h0M615.3,422.4h0M613.4,414.0h0M614.9,413.6h0M624.4,424.2h0M613.6,414.2h0M617.9,418.8h0M617.9,412.0h0M627.5,427.8h0M624.7,424.9h0M621.1,430.1h0M623.7,428.5h0M618.1,412.7h0M626.3,426.8h0M614.1,421.3h0M616.8,413.8h0M619.6,414.6h0M617.0,413.1h0M623.5,427.8h0M614.2,419.2h0M617.2,417.9h0M612.0,419.4h0M620.4,429.5h0M625.0,426.6h0M619.3,427.0h0M616.4,423.5h0M618.7,417.7h0M623.1,419.5h0M623.9,426.8h0M620.3,430.6h0M619.1,418.3h0M618.7,415.1h0M624.4,419.2h0M620.8,425.8h0M614.8,416.3h0M615.1,412.3h0M618.7,414.8h0M625.4,428.4h0M621.9,422.9h0M611.5,415.0h0M611.5,419.0h0M619.5,419.0h0M623.4,427.3h0M613.2,419.3h0M614.1,412.6h0M613.7,421.8h0M614.5,421.2h0M617.9,423.7h0M616.3,415.7h0M620.1,419.6h0M620.2,429.6h0M613.0,417.4h0M617.3,425.2h0M625.7,423.6h0M615.7,417.9h0M616.6,425.8h0M618.0,418.0h0M619.8,419.0h0M625.7,422.4h0M621.0,428.6h0M615.8,424.0h0M615.4,417.4h0M618.2,427.5h0M615.8,424.4h0M617.9,412.1h0M617.9,424.2h0M620.9,423.0h0M617.5,413.6h0M615.4,419.0h0M619.0,429.2h0M624.2,422.8h0M618.3,428.7h0M620.9,418.7h0M620.7,418.5h0M612.3,417.0h0M611.5,416.1h0M620.5,425.7h0M624.7,425.6h0M618.0,415.7h0M619.0,419.4h0M622.0,419.4h0M618.8,424.3h0M619.2,413.1h0M615.5,410.7h0M614.3,418.5h0M637.2,440.6h0M636.7,445.6h0M637.5,444.5h0M636.7,457.2h0M635.5,450.3h0M638.1,443.9h0M635.7,458.1h0M635.1,447.7h0M635.2,453.3h0M638.8,447.2h0M635.3,448.4h0M636.9,452.0h0M636.9,450.1h0M638.4,447.2h0M635.5,457.4h0M635.6,451.0h0M636.2,453.0h0M634.2,458.0h0M635.3,436.2h0M636.0,444.3h0M634.9,444.8h0M636.5,451.5h0M636.1,441.1h0M635.5,452.4h0M638.8,447.4h0M635.3,453.8h0M636.1,439.8h0M635.0,453.2h0M638.2,450.0h0M636.8,448.2h0M634.7,457.6h0M636.3,450.0h0M637.8,454.5h0M636.6,441.7h0M636.4,437.6h0M638.3,443.1h0M638.2,440.9h0M636.2,440.8h0M636.2,439.2h0M634.7,451.8h0M635.7,440.7h0M636.2,446.2h0M636.6,450.0h0M637.6,443.3h0M638.1,455.6h0M634.6,454.3h0M638.2,453.8h0M634.9,454.4h0M636.3,434.9h0M633.9,457.1h0M637.3,440.6h0M634.7,438.4h0M635.5,453.2h0M635.7,438.4h0M638.2,454.0h0M634.8,455.9h0M637.0,453.6h0M636.8,456.3h0M637.6,455.1h0M635.5,451.2h0M636.8,452.6h0M635.9,455.9h0M636.9,441.0h0M635.2,438.2h0M635.9,436.1h0M636.2,438.1h0M637.0,446.7h0M636.4,455.5h0M634.3,454.6h0M636.8,448.2h0M637.0,455.0h0M636.4,444.8h0M637.9,436.1h0M637.5,450.0h0M635.0,449.2h0M636.7,457.3h0M635.0,458.1h0M637.0,446.3h0M637.4,435.1h0M637.8,449.8h0M635.6,455.3h0M636.4,446.1h0M636.7,453.3h0M635.8,445.2h0M636.7,448.0h0M630.9,442.3h0M631.1,444.7h0M627.6,442.2h0M626.8,455.9h0M629.0,452.6h0M625.9,443.3h0M625.7,448.3h0M628.8,452.4h0M622.8,450.5h0M631.7,447.7h0M623.0,443.3h0M622.3,441.4h0M632.0,449.1h0M629.0,452.6h0M631.9,449.1h0M628.9,449.3h0M629.7,448.7h0M629.2,440.8h0M629.5,445.8h0M629.7,438.4h0M623.6,438.5h0M629.8,455.3h0M629.3,444.0h0M630.7,452.8h0M628.1,441.9h0M625.7,445.2h0M625.9,445.4h0M628.4,455.5h0M623.1,447.9h0M622.5,440.2h0M630.9,448.3h0M632.0,445.5h0M622.7,444.8h0M627.8,455.4h0M632.7,446.2h0M626.2,439.1h0M628.9,440.9h0M623.3,438.2h0M622.5,449.8h0M623.0,454.9h0M623.0,453.1h0M623.0,438.3h0M629.7,441.4h0M629.7,440.2h0M622.8,451.4h0M629.4,454.0h0M629.3,438.1h0M628.9,450.9h0M626.5,455.0h0M624.4,455.1h0M628.9,436.7h0M622.7,449.3h0M630.2,437.8h0M625.6,451.0h0M623.8,453.1h0M626.8,438.2h0M626.4,448.1h0M627.0,450.1h0M623.7,452.0h0M626.3,449.4h0M629.1,445.0h0M626.2,452.1h0M631.9,452.9h0M628.2,442.6h0M622.4,454.8h0M629.4,453.4h0M626.0,448.7h0M632.1,454.0h0M628.6,442.9h0M626.4,454.1h0M626.3,450.2h0M628.1,454.6h0M630.7,442.1h0M622.4,442.7h0M626.9,448.4h0M630.3,454.9h0M622.6,452.4h0M630.3,454.4h0M628.3,442.2h0M630.9,453.2h0M628.9,455.1h0M625.5,439.0h0M627.9,452.6h0M624.4,451.2h0M631.9,440.9h0M628.7,450.3h0M627.0,441.0h0M625.0,451.3h0M630.7,445.9h0M623.1,452.0h0M630.2,441.1h0M627.9,454.6h0M631.7,447.2h0M627.5,448.4h0M624.2,441.2h0M624.3,450.3h0M626.3,447.9h0M626.7,447.0h0M623.3,438.7h0M632.8,443.9h0M623.6,449.0h0M630.2,439.5h0M628.6,443.6h0M627.0,437.3h0M622.0,455.1h0M631.5,446.4h0M628.2,442.0h0M630.6,445.1h0M632.0,452.5h0M630.0,456.5h0M624.4,438.3h0M624.3,441.0h0M622.7,438.9h0M627.7,454.0h0M626.5,455.3h0M631.1,437.3h0M628.7,444.6h0M623.0,454.7h0M625.2,447.9h0M628.3,455.9h0M629.4,444.5h0M626.7,440.2h0M631.4,457.4h0M624.0,438.4h0M625.1,444.0h0M631.1,455.4h0M630.2,437.1h0M630.5,451.1h0M628.2,456.5h0M622.7,440.6h0M629.5,455.8h0M629.4,442.6h0M628.4,451.9h0M623.6,443.6h0M624.7,439.8h0M627.1,440.3h0M624.5,440.2h0M628.5,436.8h0M629.6,440.4h0M622.3,454.0h0M624.1,454.5h0M630.8,455.0h0M624.0,445.8h0M622.9,454.2h0M631.2,449.4h0M627.1,443.6h0M631.1,446.2h0M628.5,439.5h0M624.1,438.7h0M629.9,447.8h0M629.6,472.5h0M625.8,477.7h0M625.3,479.6h0M627.1,474.1h0M631.9,473.7h0M627.3,478.2h0M618.4,486.2h0M622.1,482.7h0M630.9,468.5h0M629.3,478.0h0M626.8,474.9h0M623.2,482.5h0M629.0,471.7h0M624.9,484.2h0M627.8,474.1h0M623.8,481.1h0M621.8,485.1h0M628.0,479.5h0M624.1,483.6h0M628.4,478.5h0M624.8,483.1h0M633.5,471.3h0M634.6,468.4h0M626.7,480.7h0M619.5,486.6h0M628.4,476.8h0M622.0,486.1h0M629.1,476.1h0M627.4,477.3h0M630.7,474.5h0M625.8,479.0h0M628.9,474.4h0M622.4,485.7h0M627.8,477.1h0M628.4,473.5h0M624.6,478.7h0M632.5,469.8h0M631.1,475.7h0M622.8,485.7h0M632.7,473.1h0M620.2,485.5h0M630.4,467.8h0M627.3,478.4h0M624.2,484.7h0M618.9,487.3h0M626.8,478.6h0M629.3,476.5h0M625.1,479.7h0M619.3,485.8h0M627.3,479.2h0M627.1,474.7h0M625.7,479.1h0M621.2,485.5h0M629.0,479.2h0M624.9,480.5h0M631.1,476.3h0M622.2,484.2h0M628.1,473.8h0M623.5,485.9h0M631.9,470.1h0M625.5,483.1h0M619.9,488.2h0M629.6,477.7h0M628.4,473.2h0M627.0,478.4h0M629.8,471.0h0M626.0,480.6h0M618.5,486.6h0M633.2,468.9h0M622.2,483.3h0M623.4,481.3h0M627.6,473.1h0M627.0,480.9h0M631.6,472.3h0M626.2,479.3h0M624.0,480.3h0M618.9,487.3h0M628.5,476.7h0M629.8,470.3h0M633.0,470.5h0M629.5,470.6h0M622.0,484.3h0M622.6,484.3h0M631.0,467.2h0M630.5,475.3h0M622.8,471.5h0M618.8,467.2h0M611.3,475.5h0M621.7,470.6h0M620.2,470.5h0M611.2,475.0h0M613.9,480.0h0M617.4,474.1h0M621.4,463.9h0M617.9,481.1h0M612.9,477.1h0M624.2,471.1h0M614.0,480.1h0M613.4,479.2h0M618.3,469.4h0M624.2,469.1h0M613.2,476.8h0M615.5,476.9h0M620.3,466.0h0M621.3,466.8h0M625.8,471.7h0M623.8,466.5h0M620.9,471.0h0M622.7,464.9h0M612.5,474.8h0M620.7,467.7h0M618.9,467.5h0M621.4,463.7h0M622.5,471.0h0M614.2,473.4h0M618.1,466.8h0M626.2,467.9h0M614.7,477.3h0M625.6,468.4h0M615.5,475.0h0M612.5,478.4h0M611.5,477.0h0M622.2,468.2h0M622.6,466.3h0M623.7,469.8h0M621.5,476.6h0M620.8,467.8h0M623.3,468.4h0M626.6,468.0h0M618.9,473.4h0M614.2,475.1h0M616.5,474.3h0M622.0,469.9h0M622.4,465.2h0M612.6,475.5h0M616.0,474.0h0M615.4,471.2h0M618.2,471.8h0M621.7,464.5h0M620.5,467.2h0M613.8,473.4h0M618.5,469.9h0M618.9,479.7h0M617.4,480.9h0M618.4,467.1h0M613.5,472.2h0M622.4,471.1h0M616.7,474.5h0M623.8,469.5h0M624.0,472.1h0M623.8,468.0h0M611.3,475.8h0M618.5,477.5h0M619.5,463.0h0M619.4,466.1h0M618.9,469.6h0M617.3,467.2h0M623.9,468.0h0M621.2,475.9h0M623.9,469.7h0M616.6,475.0h0M622.7,463.6h0M618.4,479.2h0M621.8,464.1h0M620.9,476.6h0M617.9,466.2h0M612.8,474.2h0M612.0,476.5h0M625.8,466.7h0M622.2,472.0h0M617.0,479.4h0M621.4,464.8h0M624.0,474.0h0M620.3,478.5h0M616.9,479.3h0M620.9,472.6h0M613.5,472.6h0M618.6,472.4h0M627.1,468.3h0M626.3,466.0h0M617.0,478.7h0M616.8,471.9h0M621.4,477.9h0M622.4,468.8h0M617.0,468.0h0M621.6,467.3h0M621.3,465.7h0M618.9,476.7h0M619.7,467.1h0M620.1,471.9h0M624.8,472.6h0M613.0,476.8h0M615.7,471.4h0M614.1,476.2h0M616.5,476.9h0M614.7,473.0h0M620.6,472.6h0M617.1,479.6h0M618.1,467.2h0M621.1,467.1h0M617.7,466.8h0M614.5,473.7h0M622.7,465.9h0M618.2,471.1h0M621.5,466.5h0M620.0,462.7h0M619.9,479.9h0M613.5,473.1h0M622.5,476.7h0M616.2,470.1h0M621.9,467.2h0M624.5,464.5h0M620.9,477.7h0M614.5,480.0h0M623.3,469.3h0M620.6,465.5h0M612.4,473.4h0M624.5,471.1h0M615.2,472.7h0M616.2,481.6h0M613.3,474.6h0M618.8,478.7h0M621.0,466.6h0M624.1,471.4h0M617.6,472.6h0M614.2,476.6h0M621.3,463.9h0M618.3,475.1h0M619.3,478.0h0M616.3,482.3h0M619.3,472.6h0M618.4,467.6h0M624.3,465.9h0M624.5,467.9h0M612.8,479.0h0M588.6,500.5h0M593.6,498.7h0M591.4,499.4h0M599.9,495.7h0M606.1,497.5h0M610.2,492.0h0M604.8,494.3h0M607.0,496.1h0M606.7,494.6h0M591.6,500.2h0M607.3,495.6h0M589.3,501.2h0M609.8,494.1h0M591.5,501.2h0M608.0,493.7h0M598.9,496.6h0M597.3,500.4h0M607.6,496.9h0M594.2,498.5h0M602.6,497.6h0M604.2,497.1h0M601.4,495.1h0M596.7,496.5h0M600.1,496.9h0M605.9,496.0h0M610.9,492.7h0M599.2,500.1h0M611.2,495.3h0M595.0,499.7h0M608.9,493.1h0M607.4,493.0h0M610.0,494.9h0M602.5,498.5h0M598.2,498.5h0M596.6,499.0h0M604.2,496.7h0M606.2,496.6h0M594.2,500.3h0M605.0,497.3h0M588.9,501.4h0M605.1,495.6h0M589.7,500.1h0M610.1,491.3h0M596.5,498.7h0M603.8,497.8h0M607.3,497.4h0M609.9,494.8h0M607.3,492.3h0M599.5,495.8h0M607.5,495.0h0M604.0,498.5h0M606.7,493.3h0M590.3,501.1h0M609.8,491.7h0M606.6,496.6h0M600.9,499.9h0M604.0,497.0h0M601.6,498.7h0M590.5,499.1h0M594.3,497.4h0M596.3,496.7h0M591.5,499.3h0M598.1,496.2h0M590.2,499.5h0M597.7,500.6h0M605.3,494.4h0M601.3,496.2h0M606.3,493.9h0M597.1,499.9h0M588.3,499.2h0M595.1,486.3h0M589.9,486.8h0M603.1,490.5h0M591.5,492.8h0M599.5,485.5h0M589.8,490.3h0M593.0,486.3h0M598.4,489.3h0M590.1,491.2h0M589.6,487.4h0M591.7,488.6h0M604.7,489.7h0M588.0,494.4h0M604.6,483.1h0M587.9,486.6h0M588.9,485.4h0M592.1,486.4h0M601.3,482.6h0M605.5,487.2h0M589.1,488.8h0M590.2,492.6h0M608.2,489.2h0M591.3,487.4h0M606.5,486.7h0M602.2,486.8h0M604.0,485.0h0M587.5,485.7h0M589.8,488.5h0M596.2,484.9h0M597.3,484.7h0M593.0,486.4h0M592.0,486.3h0M604.2,485.7h0M596.8,487.2h0M601.7,491.7h0M588.1,487.7h0M593.6,493.7h0M602.0,484.2h0M603.7,483.2h0M595.6,484.3h0M595.9,488.1h0M605.2,483.6h0M594.8,491.4h0M596.5,489.4h0M588.2,492.6h0M593.9,493.6h0M600.2,486.5h0M588.1,489.8h0M598.9,486.9h0M603.3,485.2h0M608.8,489.1h0M589.2,491.6h0M594.5,486.9h0M601.4,485.7h0M602.6,483.1h0M592.5,493.6h0M607.5,488.8h0M601.3,489.3h0M596.8,490.4h0M588.1,488.7h0M591.6,484.9h0M598.2,492.2h0M587.8,491.6h0M594.1,486.8h0M600.4,490.2h0M600.0,490.0h0M595.2,489.6h0M601.2,489.2h0M596.8,490.2h0M594.4,486.6h0M589.2,488.1h0M593.0,489.6h0M597.8,488.8h0M602.3,483.5h0M598.0,493.1h0M596.8,489.1h0M603.4,489.7h0M590.6,486.9h0M594.5,489.1h0M590.1,493.8h0M607.4,488.3h0M590.8,489.0h0M605.6,488.7h0M600.3,483.7h0M598.3,483.9h0M597.8,491.8h0M604.4,485.1h0M587.7,489.6h0M598.9,490.3h0M591.6,489.9h0M604.8,488.4h0M600.4,489.5h0M602.1,487.0h0M599.7,486.4h0M605.2,483.8h0M595.1,486.1h0M601.0,482.3h0M602.3,489.2h0M601.2,485.2h0M606.3,488.5h0M590.6,491.7h0M597.6,485.3h0M595.8,492.3h0M604.7,484.0h0M599.5,487.3h0M601.9,489.3h0M594.2,488.6h0M601.2,490.7h0M595.4,488.0h0M604.8,490.3h0M594.2,494.5h0M593.8,488.3h0M604.1,483.8h0M600.4,490.4h0M597.4,488.9h0M593.1,494.0h0M594.2,484.5h0M597.8,488.1h0M600.0,491.4h0M589.8,490.1h0M597.2,488.0h0M591.1,490.3h0M593.0,491.6h0M604.9,484.2h0M596.8,490.8h0M592.6,492.7h0M600.6,483.1h0M590.5,485.9h0M602.6,482.0h0M596.8,491.6h0M559.5,497.1h0M560.0,493.6h0M574.4,498.3h0M573.3,499.1h0M557.9,493.8h0M561.9,496.7h0M560.8,494.7h0M562.3,497.4h0M558.7,496.6h0M576.9,499.5h0M559.1,495.2h0M565.1,496.3h0M559.7,496.5h0M568.0,495.6h0M576.5,497.6h0M568.5,499.7h0M567.9,498.5h0M573.9,498.7h0M559.6,493.9h0M571.8,499.6h0M572.8,497.3h0M568.1,499.1h0M559.8,495.6h0M563.6,494.5h0M560.7,492.8h0M572.7,497.7h0M569.7,500.7h0M558.9,492.9h0M558.0,494.4h0M567.2,497.3h0M566.2,499.7h0M574.0,501.8h0M574.8,501.2h0M578.9,500.3h0M557.9,492.1h0M560.1,494.7h0M570.8,497.6h0M566.4,495.5h0M566.2,499.2h0M557.8,493.1h0M562.5,498.0h0M564.9,494.9h0M557.0,493.0h0M563.6,495.8h0M569.8,499.2h0M562.9,496.3h0M566.5,499.6h0M556.8,492.4h0M560.5,492.8h0M565.4,498.1h0M561.4,495.3h0M561.1,497.4h0M578.0,501.2h0M575.7,498.9h0M557.2,495.8h0M565.6,495.5h0M577.8,500.4h0M561.6,495.1h0M572.0,499.8h0M571.7,500.3h0M568.8,498.5h0M562.8,498.6h0M562.4,497.6h0M557.0,492.7h0M562.3,497.0h0M575.2,498.6h0M559.5,495.0h0M570.3,500.1h0M567.2,496.0h0M574.8,501.4h0M575.8,492.9h0M578.6,489.3h0M572.5,488.0h0M559.2,489.2h0M574.1,487.3h0M575.0,494.7h0M571.4,487.9h0M575.1,486.8h0M572.2,488.9h0M573.4,494.6h0M563.7,483.6h0M563.8,486.2h0M564.1,488.3h0M576.7,489.1h0M569.7,491.6h0M566.4,488.5h0M573.6,492.6h0M562.9,484.8h0M573.8,490.5h0M574.2,491.6h0M578.5,493.6h0M567.5,491.6h0M562.5,484.5h0M575.1,488.3h0M570.2,485.1h0M565.6,490.1h0M564.5,486.2h0M574.3,486.7h0M560.6,486.6h0M565.7,489.0h0M571.1,492.2h0M563.6,491.1h0M572.2,488.4h0M572.0,492.8h0M564.4,483.8h0M569.3,489.3h0M561.7,487.4h0M573.7,486.7h0M572.5,485.8h0M563.4,486.5h0M567.8,490.1h0M568.7,487.8h0M564.5,484.7h0M562.4,489.0h0M567.9,485.0h0M569.1,491.4h0M560.7,489.3h0M562.9,488.8h0M562.2,487.5h0M567.4,484.6h0M567.0,490.2h0M578.4,488.9h0M563.4,487.6h0M575.7,488.5h0M577.9,488.4h0M560.4,486.7h0M571.8,492.7h0M577.9,492.9h0M572.4,493.2h0M569.1,484.0h0M574.8,487.0h0M572.0,485.6h0M563.9,487.3h0M565.8,482.9h0M575.7,487.0h0M572.6,491.2h0M569.1,487.2h0M565.6,484.7h0M564.8,484.2h0M568.2,491.6h0M566.6,483.2h0M571.1,485.0h0M578.3,490.3h0M565.1,488.7h0M571.5,490.5h0M568.1,488.7h0M564.3,484.1h0M562.1,491.0h0M572.1,494.3h0M577.6,495.5h0M576.9,490.6h0M566.6,487.5h0M570.1,491.3h0M576.0,489.2h0M574.1,489.4h0M566.6,484.9h0M570.9,489.7h0M567.2,485.2h0M574.8,487.6h0M565.8,488.3h0M563.4,491.4h0M560.1,489.5h0M564.9,489.5h0M576.1,486.6h0M565.3,482.4h0M566.6,490.2h0M573.1,487.8h0M568.5,485.4h0M572.5,494.7h0M576.7,486.5h0M563.2,484.9h0M569.8,492.1h0M577.8,487.2h0M566.1,484.3h0M561.1,485.0h0M562.7,490.4h0M564.0,486.6h0M577.8,487.5h0M569.5,489.7h0M575.1,487.8h0M564.6,482.1h0M560.7,487.3h0M569.8,493.8h0M571.5,491.9h0M562.2,489.2h0M579.5,487.7h0M569.1,486.1h0M579.4,490.0h0M563.2,489.8h0M578.7,490.7h0M536.1,469.3h0M545.6,481.2h0M533.4,468.3h0M542.3,478.5h0M536.9,474.8h0M535.9,473.6h0M544.8,482.0h0M539.5,473.2h0M544.9,481.8h0M536.4,476.5h0M537.7,475.3h0M537.2,474.5h0M547.9,485.5h0M549.4,485.4h0M546.3,484.4h0M541.8,477.3h0M535.8,475.6h0M537.6,472.2h0M547.6,484.4h0M542.3,479.4h0M540.3,479.9h0M546.0,486.4h0M541.0,482.6h0M546.8,487.9h0M543.3,484.4h0M534.8,472.8h0M543.0,483.0h0M546.7,482.4h0M544.3,485.9h0M538.4,476.9h0M544.7,484.7h0M547.8,484.4h0M540.2,481.9h0M538.6,477.2h0M548.1,485.2h0M537.8,469.9h0M536.2,467.8h0M537.8,473.4h0M538.0,471.5h0M543.1,480.1h0M546.3,485.4h0M537.4,471.6h0M542.7,479.9h0M543.6,484.3h0M545.6,482.5h0M542.6,480.5h0M540.1,479.2h0M546.3,487.7h0M535.2,471.6h0M548.7,485.8h0M546.5,485.1h0M537.5,473.8h0M547.6,483.9h0M545.4,484.2h0M542.1,478.6h0M548.4,484.7h0M541.2,478.4h0M537.7,478.3h0M546.0,482.0h0M538.4,477.6h0M533.0,469.2h0M545.3,486.6h0M538.1,478.9h0M546.2,483.5h0M543.4,484.8h0M545.2,481.3h0M539.2,480.2h0M546.3,486.8h0M543.1,481.6h0M539.2,474.2h0M553.7,477.2h0M544.1,475.9h0M556.4,477.2h0M546.4,473.3h0M552.1,470.2h0M545.4,473.5h0M550.1,471.1h0M545.3,470.8h0M548.0,465.9h0M541.3,470.9h0M546.6,477.1h0M549.0,480.4h0M549.1,469.5h0M550.5,481.9h0M555.8,477.2h0M552.9,477.5h0M548.0,467.0h0M542.7,465.6h0M546.8,469.2h0M548.1,463.1h0M550.4,471.4h0M543.4,465.1h0M543.2,464.3h0M550.5,477.8h0M549.2,479.5h0M544.3,476.4h0M546.0,463.8h0M550.4,473.0h0M547.4,469.1h0M553.2,471.5h0M547.6,465.6h0M551.0,468.1h0M550.4,471.9h0M545.1,469.5h0M553.8,474.0h0M547.0,463.4h0M555.0,475.4h0M546.8,471.5h0M551.0,482.1h0M554.0,475.7h0M547.7,473.9h0M544.8,465.8h0M542.7,467.4h0M547.3,479.4h0M545.4,476.9h0M548.0,463.8h0M556.8,476.5h0M552.1,474.4h0M539.8,468.5h0M548.2,471.7h0M541.5,469.2h0M546.5,473.4h0M553.9,473.8h0M545.6,472.2h0M541.1,467.3h0M548.4,480.6h0M547.9,464.2h0M551.4,477.9h0M549.5,477.7h0M551.6,473.0h0M545.7,469.9h0M549.2,466.6h0M547.2,473.9h0M543.2,468.5h0M552.2,470.0h0M544.0,470.1h0M550.8,478.5h0M540.7,470.1h0M550.9,472.0h0M548.2,480.4h0M544.2,464.5h0M548.2,479.5h0M547.7,476.4h0M543.6,469.1h0M554.1,474.2h0M552.9,474.2h0M555.8,474.6h0M549.6,473.3h0M550.6,468.9h0M543.2,474.0h0M547.0,468.6h0M552.4,477.0h0M554.3,479.5h0M550.9,479.0h0M544.6,464.3h0M542.0,468.3h0M545.2,471.3h0M541.4,465.6h0M547.8,466.8h0M552.4,475.0h0M544.0,472.8h0M540.8,467.9h0M551.0,477.8h0M551.6,469.2h0M549.0,477.7h0M557.2,476.4h0M548.7,467.8h0M554.9,473.2h0M547.7,468.0h0M550.9,483.5h0M547.2,463.7h0M549.0,481.4h0M549.0,471.3h0M550.3,472.8h0M551.0,476.2h0M556.3,475.4h0M555.5,476.1h0M544.7,470.1h0M547.0,466.7h0M548.0,476.6h0M551.9,477.3h0M543.5,474.2h0M555.5,474.5h0M547.7,475.7h0M549.6,478.3h0M542.0,469.1h0M550.4,469.0h0M548.4,467.7h0M542.1,469.3h0M555.0,476.6h0M529.5,449.6h0M528.6,435.8h0M531.2,451.4h0M530.4,441.1h0M531.1,445.6h0M529.1,442.5h0M532.5,436.0h0M525.6,445.1h0M527.6,454.9h0M526.2,445.4h0M528.0,437.3h0M530.9,436.4h0M532.1,458.0h0M529.8,436.8h0M527.5,434.9h0M529.9,436.0h0M529.3,455.6h0M528.6,439.1h0M529.5,444.2h0M530.8,452.1h0M529.5,446.4h0M530.1,456.7h0M532.4,450.4h0M527.9,440.4h0M531.0,452.5h0M529.4,454.8h0M529.2,436.6h0M531.0,444.7h0M527.8,440.3h0M527.8,441.3h0M531.1,438.6h0M527.3,458.4h0M526.0,448.2h0M532.7,456.7h0M527.1,442.1h0M531.4,447.6h0M529.4,434.2h0M530.4,440.2h0M531.1,453.9h0M531.3,448.8h0M528.4,451.7h0M531.6,453.4h0M532.2,453.9h0M530.2,446.6h0M531.1,447.2h0M530.6,435.1h0M530.2,435.7h0M529.7,454.2h0M529.1,455.6h0M532.1,456.8h0M528.9,434.9h0M529.7,450.3h0M529.6,450.3h0M527.7,449.5h0M532.0,438.1h0M529.8,459.0h0M526.9,440.8h0M530.0,443.5h0M526.2,449.3h0M529.6,451.7h0M528.7,442.6h0M528.6,435.3h0M531.4,449.9h0M527.1,439.1h0M528.5,442.2h0M531.1,436.0h0M528.7,449.1h0M531.9,455.8h0M526.8,438.9h0M532.3,450.8h0M542.3,446.8h0M544.6,439.9h0M544.3,446.2h0M535.5,443.7h0M542.4,449.7h0M543.7,444.8h0M537.8,451.6h0M544.0,448.6h0M544.7,439.6h0M541.6,450.9h0M544.9,441.2h0M547.3,443.7h0M549.6,451.2h0M549.0,442.2h0M547.6,450.9h0M548.9,450.2h0M538.6,442.3h0M536.6,437.2h0M541.9,438.9h0M548.8,440.3h0M543.3,452.2h0M538.7,439.5h0M544.3,453.8h0M536.5,441.3h0M541.4,437.7h0M549.6,453.2h0M548.5,454.0h0M538.8,444.1h0M548.3,451.9h0M546.9,445.0h0M540.3,437.5h0M544.9,438.5h0M543.0,448.6h0M546.0,451.1h0M535.9,435.9h0M539.3,453.1h0M547.3,452.2h0M544.4,442.6h0M548.7,446.2h0M540.1,455.8h0M543.2,441.5h0M540.8,447.6h0M536.2,444.6h0M544.5,448.5h0M535.8,438.9h0M535.6,445.4h0M547.8,451.7h0M543.9,443.4h0M549.8,442.3h0M537.6,446.4h0M549.8,442.4h0M543.4,443.7h0M541.1,442.4h0M544.2,438.7h0M535.9,437.4h0M540.3,450.2h0M544.0,450.7h0M536.2,440.5h0M538.0,440.1h0M534.6,442.6h0M545.0,442.4h0M545.6,444.9h0M547.6,441.1h0M542.3,450.8h0M536.3,455.6h0M535.7,441.2h0M547.5,442.6h0M541.5,439.1h0M540.6,448.1h0M536.1,455.6h0M538.4,454.8h0M545.9,453.1h0M536.3,447.9h0M538.8,451.6h0M538.5,443.7h0M548.1,446.8h0M538.9,452.4h0M539.8,451.0h0M544.6,439.5h0M536.4,436.0h0M543.1,445.4h0M537.5,441.4h0M543.1,440.2h0M544.2,438.8h0M542.9,453.6h0M538.7,453.9h0M540.1,455.4h0M534.5,445.8h0M538.9,454.1h0M539.9,449.1h0M546.1,441.6h0M549.1,447.0h0M548.7,441.4h0M537.0,456.6h0M542.5,447.3h0M538.8,442.1h0M545.0,439.3h0M547.2,452.5h0M537.8,454.5h0M546.8,446.7h0M544.9,452.4h0M535.4,447.3h0M537.9,451.8h0M536.0,452.7h0M535.8,444.3h0M535.1,440.8h0M540.0,446.1h0M536.5,447.9h0M548.7,440.4h0M537.4,442.9h0M538.5,452.1h0M542.9,440.9h0M535.8,437.5h0M547.3,443.8h0M541.2,448.5h0M547.5,452.4h0M542.4,446.8h0M545.6,448.9h0M541.4,441.8h0M541.1,453.1h0M536.1,449.5h0M536.0,436.3h0M547.5,445.4h0M534.9,449.2h0M541.4,450.2h0M549.4,451.0h0M547.9,450.0h0M540.0,445.5h0M535.3,442.7h0M544.8,439.0h0M539.9,445.9h0M536.5,443.1h0M544.1,444.9h0M545.8,438.9h0M546.7,439.0h0M549.4,454.0h0M541.5,452.2h0M542.4,453.7h0M536.9,443.2h0M539.9,438.3h0M534.6,442.8h0M539.8,456.6h0M548.9,447.8h0M534.9,450.8h0M541.9,455.9h0M543.9,439.6h0M541.0,440.6h0M549.7,451.0h0M547.2,441.5h0M548.7,440.1h0M533.8,417.8h0M538.3,406.8h0M535.0,410.8h0M546.7,407.0h0M535.4,415.7h0M538.0,416.6h0M541.0,405.0h0M541.3,408.6h0M539.4,416.0h0M536.0,418.2h0M542.8,409.1h0M530.9,418.3h0M544.3,409.6h0M538.9,408.3h0M539.3,408.1h0M534.0,424.0h0M532.8,424.3h0M533.4,409.4h0M544.2,402.6h0M530.4,417.4h0M533.9,422.7h0M538.7,406.0h0M535.6,416.0h0M539.4,414.9h0M542.5,403.5h0M540.8,402.9h0M536.8,415.2h0M547.1,405.6h0M536.0,422.3h0M546.4,406.8h0M531.4,414.6h0M541.3,402.4h0M533.9,420.3h0M532.8,414.1h0M547.3,408.5h0M536.4,415.7h0M532.9,417.9h0M540.5,418.5h0M532.4,424.7h0M542.8,408.9h0M541.7,410.7h0M531.8,419.3h0M544.4,413.2h0M533.3,417.0h0M545.8,408.6h0M529.4,416.7h0M537.7,410.9h0M533.3,424.4h0M541.2,411.5h0M536.6,412.2h0M537.3,421.5h0M538.0,416.1h0M545.4,406.4h0M548.8,407.2h0M545.5,408.2h0M541.1,413.2h0M532.7,424.1h0M540.1,404.5h0M543.9,409.4h0M546.1,403.9h0M540.0,418.5h0M541.8,412.6h0M540.9,404.0h0M535.2,415.2h0M528.9,420.5h0M543.6,409.9h0M546.5,404.2h0M540.7,416.7h0M534.1,425.6h0M536.3,424.2h0M537.6,415.4h0M534.3,417.7h0M535.7,411.4h0M527.8,417.9h0M537.2,413.2h0M544.5,407.1h0M546.1,408.2h0M536.4,417.5h0M537.3,411.0h0M534.2,423.5h0M530.9,413.1h0M543.3,412.8h0M534.5,416.7h0M544.6,407.7h0M537.7,415.9h0M530.8,413.3h0M533.8,421.1h0M538.6,408.5h0M536.5,415.5h0M544.4,409.5h0M543.3,406.9h0M542.3,409.4h0M538.3,421.9h0M536.3,405.8h0M535.7,412.0h0M533.5,419.9h0M542.6,412.6h0M532.0,417.3h0M530.9,420.5h0M531.7,419.8h0M534.6,417.1h0M531.9,421.0h0M539.4,410.8h0M538.3,419.4h0M536.4,410.9h0M541.0,406.5h0M532.7,418.8h0M543.4,407.0h0M541.0,407.5h0M537.9,415.1h0M538.9,402.8h0M530.5,421.2h0M530.1,423.2h0M542.3,400.1h0M531.7,416.9h0M529.3,418.4h0M534.6,410.4h0M547.9,409.6h0M543.4,407.0h0M536.1,411.1h0M529.5,417.7h0M531.0,414.2h0M539.7,419.5h0M536.4,424.8h0M531.0,421.0h0M537.8,419.6h0M546.4,406.8h0M540.4,402.4h0M531.7,411.2h0M531.2,416.2h0M539.0,403.4h0M531.2,417.8h0M547.9,408.4h0M538.7,410.4h0M528.7,419.2h0M534.9,412.5h0M533.9,412.1h0M547.6,407.0h0M543.3,409.9h0M530.4,416.8h0M549.9,424.5h0M560.5,433.6h0M543.2,420.9h0M555.3,426.1h0M568.0,432.9h0M554.3,416.9h0M557.0,431.9h0M561.0,426.7h0M550.9,424.9h0M552.2,430.4h0M545.3,419.6h0M558.1,422.9h0M564.2,429.7h0M561.6,425.8h0M564.1,435.0h0M552.2,424.2h0M559.1,427.6h0M561.9,431.7h0M568.8,433.2h0M563.8,427.7h0M555.3,424.2h0M549.3,429.5h0M546.8,424.8h0M550.6,415.6h0M554.9,419.1h0M558.6,425.5h0M541.3,424.2h0M564.6,433.9h0M552.6,430.6h0M564.7,428.1h0M555.8,432.2h0M563.6,431.2h0M562.8,431.9h0M554.1,426.4h0M558.7,422.4h0M569.2,432.2h0M560.3,435.6h0M550.0,420.7h0M552.3,429.3h0M546.9,424.5h0M547.5,426.6h0M555.3,423.2h0M558.5,428.8h0M566.6,432.9h0M547.8,428.2h0M556.6,422.6h0M567.0,430.9h0M542.2,427.8h0M559.1,434.6h0M559.0,434.5h0M553.8,429.6h0M560.0,430.1h0M561.0,425.7h0M546.7,428.5h0M559.5,435.6h0M557.1,433.4h0M554.0,419.1h0M540.4,423.2h0M567.8,432.7h0M561.5,423.5h0M556.7,430.2h0M568.2,430.8h0M554.8,426.8h0M559.4,424.5h0M547.5,421.0h0M562.7,432.6h0M545.2,421.2h0M552.4,422.7h0M557.1,426.1h0M562.0,430.2h0M542.6,427.3h0M561.9,424.9h0M539.0,427.3h0M553.9,422.4h0M547.1,420.9h0M563.3,434.2h0M553.1,419.5h0M563.5,430.2h0M553.5,421.5h0M566.6,434.9h0M560.4,428.4h0M557.0,433.1h0M549.5,426.5h0M546.6,424.4h0M557.5,421.9h0M566.0,431.3h0M568.2,431.0h0M567.9,433.1h0M556.5,432.1h0M558.1,428.1h0M554.9,432.2h0M553.4,428.5h0M543.1,420.4h0M555.1,430.6h0M542.3,421.5h0M555.7,419.5h0M560.2,425.6h0M558.5,434.0h0M566.2,434.6h0M543.5,425.0h0M559.3,424.5h0M558.8,433.6h0M554.5,426.9h0M550.7,412.4h0M562.2,430.3h0M554.4,433.2h0M560.7,422.9h0M560.9,428.9h0M546.6,429.4h0M541.3,426.1h0M561.9,427.7h0M566.4,435.4h0M564.3,433.0h0M565.6,436.9h0M559.8,434.9h0M563.8,435.6h0M552.3,430.7h0M547.0,422.1h0M559.9,433.0h0M543.0,428.2h0M546.0,428.5h0M543.9,420.3h0M557.1,420.2h0M563.0,436.5h0M551.9,421.8h0M548.1,425.9h0M553.2,430.3h0M555.4,429.9h0M551.8,427.5h0M561.9,428.9h0M567.1,431.4h0M553.5,429.8h0M564.7,432.9h0M557.5,423.7h0M557.9,429.4h0M543.7,423.5h0M549.8,411.6h0M550.4,410.6h0M563.6,427.8h0M550.3,428.5h0M545.8,415.2h0M548.9,420.1h0M567.5,431.2h0M561.9,433.9h0M550.1,428.6h0M558.4,424.6h0M566.0,432.2h0M564.8,433.3h0M554.0,421.3h0M565.1,436.3h0M543.3,420.3h0M556.4,429.0h0M553.6,419.7h0M551.1,425.1h0M554.1,424.9h0M566.0,428.3h0M548.4,413.7h0M543.5,418.5h0M544.8,424.8h0M552.3,419.1h0M549.7,413.4h0M544.0,423.8h0M548.5,421.8h0M559.1,430.9h0M552.7,416.2h0M549.5,417.7h0M561.6,434.9h0M551.5,429.0h0M556.9,433.4h0M565.1,430.6h0M564.5,428.2h0M562.4,426.0h0M558.7,432.0h0M554.8,433.7h0M556.2,428.8h0M568.9,432.6h0M555.3,434.1h0M541.5,423.3h0M558.7,435.2h0M566.2,431.8h0M553.7,424.9h0M560.3,432.7h0M542.9,420.5h0M549.5,411.5h0M566.5,430.3h0M567.9,433.3h0M550.6,418.0h0M557.5,421.7h0M564.0,432.0h0M560.5,431.3h0M577.7,388.2h0M567.3,388.7h0M554.2,397.3h0M560.9,396.2h0M555.2,396.2h0M562.9,393.5h0M563.8,393.7h0M572.7,395.5h0M567.7,389.0h0M569.6,396.1h0M578.1,386.3h0M554.0,395.2h0M569.3,387.7h0M576.9,392.9h0M575.6,387.1h0M568.7,394.8h0M561.7,395.9h0M568.3,389.3h0M567.7,394.2h0M566.5,387.9h0M566.5,388.1h0M552.2,393.3h0M567.5,392.8h0M577.7,387.9h0M565.1,391.8h0M566.5,391.2h0M577.2,388.2h0M563.8,399.2h0M553.6,393.9h0M553.4,395.1h0M573.4,389.4h0M564.2,396.5h0M571.8,394.3h0M568.6,391.7h0M568.7,394.0h0M572.2,386.2h0M557.9,390.8h0M563.2,393.6h0M574.0,392.5h0M568.5,395.7h0M576.8,387.5h0M562.7,399.6h0M577.1,390.5h0M575.2,394.3h0M567.6,393.5h0M553.5,393.4h0M558.7,397.8h0M562.9,398.2h0M567.5,390.1h0M574.3,394.9h0M557.6,396.3h0M573.6,387.5h0M577.5,393.4h0M558.1,392.4h0M576.0,396.0h0M554.8,393.9h0M572.4,388.3h0M574.2,389.4h0M559.9,389.6h0M576.3,386.9h0M571.1,393.5h0M574.6,388.8h0M560.4,394.2h0M567.9,395.0h0M575.7,394.6h0M558.1,391.5h0M569.9,389.6h0M573.8,395.0h0M560.3,392.0h0M562.6,398.7h0M564.3,390.3h0M556.4,393.2h0M564.0,398.1h0M556.1,392.6h0M573.3,395.7h0M571.3,395.9h0M561.9,399.2h0M575.3,388.9h0M565.2,394.2h0M564.2,398.9h0M573.8,393.7h0M572.8,388.8h0M571.0,391.1h0M564.7,397.5h0M561.7,396.8h0M558.1,393.3h0M561.6,396.5h0M568.6,388.0h0M563.2,394.1h0M576.8,385.9h0M567.9,392.8h0M558.6,391.6h0M557.9,399.1h0M572.8,391.1h0M565.7,396.8h0M564.0,388.0h0M574.8,392.0h0M561.5,390.0h0M570.5,395.7h0M576.5,387.9h0M560.8,393.0h0M560.9,394.6h0M565.5,393.6h0M575.8,386.1h0M564.1,388.7h0M555.1,392.1h0M568.5,387.4h0M562.6,389.8h0M552.2,393.4h0M573.5,387.2h0M574.5,392.1h0M573.0,394.2h0M564.0,393.9h0M574.1,394.1h0M555.1,394.9h0M557.2,390.9h0M564.5,394.8h0M575.8,389.8h0M568.2,387.2h0M557.5,398.1h0M567.9,397.1h0M564.5,392.4h0M562.2,388.7h0M564.6,395.0h0M577.5,393.9h0M566.9,391.6h0M560.4,395.9h0M566.6,394.8h0M578.2,390.9h0M558.8,395.0h0M560.2,400.4h0M573.4,392.6h0M558.0,391.6h0M563.7,390.5h0M566.8,392.2h0M558.3,401.5h0M570.4,389.8h0M576.8,391.8h0M559.9,391.5h0M568.7,396.9h0M558.8,394.0h0M567.3,397.6h0M573.0,396.1h0M560.2,393.6h0M559.9,395.9h0M560.0,398.9h0M563.8,390.0h0M561.5,392.0h0M567.6,388.9h0M562.9,392.2h0M558.4,395.2h0M569.2,386.7h0M569.5,391.5h0M563.7,398.2h0M575.1,393.6h0M566.5,398.2h0M572.5,387.1h0M560.3,392.5h0M571.8,394.2h0M572.1,393.4h0M572.9,392.7h0M573.9,390.1h0M561.2,389.0h0M551.8,393.6h0M552.9,394.3h0M563.2,393.3h0M560.5,391.8h0M573.7,394.1h0M572.4,390.6h0M555.2,397.8h0"/>
<path stroke="#2f9b35" stroke-opacity="0.95" d="M595.7,415.0h0M596.8,414.2h0M587.4,414.2h0M598.9,412.1h0M594.2,415.5h0M588.5,411.4h0M591.4,410.7h0M589.2,423.0h0M590.7,410.6h0M601.6,414.4h0M592.3,415.1h0M595.9,416.6h0M596.8,411.8h0M588.7,411.7h0M589.4,421.2h0M592.2,410.7h0M587.6,412.9h0M589.1,423.3h0M597.3,413.6h0M591.8,411.8h0M593.4,415.0h0M588.9,414.8h0M591.0,408.0h0M603.0,410.9h0M590.3,425.0h0M602.1,413.3h0M590.7,415.5h0M596.3,422.4h0M592.9,420.8h0M591.8,422.1h0M590.1,406.9h0M595.5,410.4h0M598.8,410.5h0M596.1,421.8h0M587.7,414.3h0M590.4,425.6h0M591.1,415.5h0M590.2,421.6h0M596.3,420.0h0M592.2,426.3h0M589.6,408.7h0M599.2,410.0h0M592.5,408.2h0M591.8,417.2h0M597.7,408.2h0M592.2,417.5h0M587.7,418.2h0M594.2,424.0h0M597.0,421.0h0M589.9,419.2h0M589.9,414.2h0M598.1,419.7h0M600.4,411.3h0M599.9,415.5h0M596.8,408.8h0M588.4,410.4h0M594.3,411.5h0M597.1,412.1h0M587.7,418.0h0M589.9,407.3h0M591.7,415.3h0M595.1,419.9h0M592.2,407.0h0M591.8,412.1h0M592.7,414.0h0M588.6,420.6h0M595.9,422.2h0M590.2,414.5h0M603.3,412.4h0M589.1,415.1h0M587.9,420.0h0M588.3,417.0h0M589.8,419.3h0M599.0,416.3h0M593.8,411.0h0M593.6,416.9h0M591.2,417.0h0M589.2,423.3h0M590.0,406.7h0M595.4,415.9h0M591.2,408.6h0M589.8,418.7h0M592.6,416.9h0M601.5,410.6h0M588.1,407.9h0M592.4,425.2h0M595.4,409.1h0M587.5,412.5h0M597.9,419.2h0M600.6,412.4h0M592.0,407.0h0M588.3,421.9h0M596.2,415.9h0M599.5,409.9h0M598.1,414.4h0M594.2,416.3h0M593.0,425.2h0M596.3,421.8h0M591.8,412.3h0M589.3,421.7h0M618.5,430.1h0M613.2,421.8h0M614.2,421.0h0M613.5,431.6h0M615.7,427.1h0M618.1,430.8h0M615.4,429.7h0M617.5,429.0h0M614.2,428.4h0M611.8,422.7h0M611.4,428.5h0M611.7,432.5h0M605.8,423.2h0M612.1,432.6h0M608.5,422.5h0M604.8,424.6h0M615.7,426.0h0M616.6,427.3h0M609.5,429.2h0M614.2,430.0h0M618.8,429.0h0M611.3,432.1h0M619.9,429.4h0M607.0,425.1h0M605.6,423.6h0M618.4,427.7h0M616.7,428.8h0M612.0,422.0h0M606.0,424.2h0M612.0,420.2h0M610.8,425.6h0M606.5,426.5h0M612.7,429.2h0M610.3,424.2h0M616.5,422.8h0M616.8,425.0h0M607.8,427.8h0M614.6,429.0h0M613.3,428.7h0M610.6,421.9h0M611.4,418.2h0M612.0,419.4h0M605.7,426.4h0M618.9,430.5h0M607.9,428.9h0M615.3,429.1h0M610.1,427.3h0M614.2,430.2h0M614.0,432.0h0M608.7,423.7h0M614.5,424.2h0M610.4,429.4h0M611.0,431.2h0M617.0,428.0h0M612.6,422.9h0M611.2,424.8h0M611.5,418.0h0M610.7,417.3h0M608.4,424.8h0M616.1,423.1h0M614.8,430.7h0M610.3,426.6h0M615.3,428.3h0M616.3,425.8h0M610.2,424.4h0M612.2,431.3h0M616.3,427.6h0M609.5,426.9h0M615.8,424.8h0M609.3,427.4h0M613.2,419.8h0M608.6,425.3h0M617.4,428.8h0M607.0,424.2h0M609.4,425.1h0M609.9,421.4h0M608.8,423.1h0M618.7,426.0h0M612.3,433.0h0M608.4,426.9h0M619.4,426.9h0M614.2,423.2h0M611.3,428.8h0M607.0,425.1h0M607.7,421.1h0M611.9,450.7h0M614.5,445.6h0M612.3,444.2h0M623.3,444.0h0M612.7,446.6h0M615.0,451.7h0M611.1,451.7h0M610.0,450.6h0M620.7,442.3h0M617.9,443.8h0M614.1,443.1h0M615.6,453.0h0M624.9,454.1h0M611.2,444.5h0M623.5,439.3h0M621.6,443.5h0M624.5,438.3h0M622.8,444.1h0M611.6,441.3h0M623.3,447.1h0M613.0,446.0h0M624.1,441.9h0M619.1,441.5h0M612.8,449.7h0M621.3,442.0h0M610.5,442.5h0M620.0,446.6h0M614.4,443.1h0M620.0,449.8h0M623.0,448.1h0M612.9,441.7h0M621.8,445.3h0M621.1,439.8h0M622.9,444.0h0M623.0,452.7h0M617.6,440.0h0M624.4,446.3h0M623.6,442.8h0M612.8,450.4h0M615.9,442.4h0M616.3,447.9h0M608.8,446.9h0M617.5,446.9h0M611.6,449.0h0M622.6,452.6h0M615.3,449.3h0M616.3,450.0h0M610.2,450.4h0M625.0,446.6h0M618.6,447.1h0M618.3,439.9h0M624.9,441.9h0M612.6,442.2h0M614.0,450.5h0M609.3,442.8h0M621.1,442.0h0M609.3,447.6h0M619.5,447.0h0M620.9,440.6h0M623.6,450.3h0M609.8,443.0h0M618.3,446.7h0M614.4,442.1h0M616.5,441.9h0M619.4,452.0h0M612.3,447.5h0M621.7,441.4h0M622.5,453.8h0M616.6,445.7h0M623.4,447.1h0M616.2,452.5h0M622.4,444.1h0M614.0,444.8h0M616.7,453.1h0M622.3,453.4h0M622.6,452.4h0M610.2,446.9h0M624.3,454.2h0M614.2,445.8h0M620.3,444.7h0M618.3,440.6h0M617.3,446.8h0M609.1,443.3h0M624.9,451.5h0M624.7,449.0h0M622.5,452.9h0M623.3,438.9h0M620.4,443.2h0M620.9,443.2h0M618.5,452.7h0M620.0,443.0h0M618.7,445.8h0M624.8,443.0h0M615.1,448.5h0M611.7,447.7h0M625.0,446.9h0M614.5,446.3h0M618.5,441.7h0M611.5,442.8h0M615.0,445.6h0M605.0,457.4h0M611.0,461.9h0M616.8,461.8h0M611.1,473.6h0M614.6,467.8h0M605.4,464.7h0M610.7,465.1h0M607.8,463.4h0M609.3,471.1h0M618.4,465.2h0M607.1,463.0h0M612.0,464.8h0M607.1,458.8h0M607.4,463.5h0M611.9,475.7h0M610.0,475.2h0M615.0,472.0h0M617.8,463.1h0M611.5,468.9h0M606.3,464.1h0M616.3,470.1h0M613.6,465.0h0M604.7,467.4h0M602.8,457.7h0M612.9,467.0h0M602.0,461.8h0M607.4,465.1h0M608.4,465.2h0M611.6,465.3h0M605.0,458.7h0M614.9,470.4h0M601.4,463.5h0M608.2,459.4h0M612.1,463.4h0M609.3,466.2h0M605.1,463.2h0M603.3,461.2h0M614.1,461.8h0M611.1,460.4h0M606.1,468.5h0M608.9,468.6h0M616.6,463.5h0M614.3,473.7h0M601.4,463.2h0M610.3,461.3h0M615.6,471.3h0M616.7,463.9h0M617.3,462.8h0M606.4,461.7h0M600.7,460.0h0M606.4,460.8h0M613.5,467.1h0M614.1,471.3h0M614.5,470.4h0M611.7,474.7h0M603.0,463.7h0M605.6,466.3h0M609.5,471.3h0M604.3,460.3h0M608.9,473.3h0M616.5,462.3h0M614.3,462.2h0M608.0,469.4h0M601.0,464.0h0M614.3,464.7h0M605.2,461.8h0M613.9,470.3h0M605.6,457.5h0M601.7,463.1h0M604.5,462.5h0M605.4,465.0h0M610.3,460.9h0M614.8,470.1h0M609.8,471.2h0M620.2,463.3h0M609.6,460.7h0M606.8,469.5h0M617.8,462.7h0M602.8,464.4h0M613.4,466.4h0M611.8,461.9h0M615.7,467.9h0M614.0,471.0h0M603.4,459.4h0M602.8,465.5h0M614.4,461.4h0M605.3,460.8h0M608.8,466.2h0M609.1,463.1h0M600.5,459.7h0M610.1,459.3h0M605.3,469.9h0M603.5,457.7h0M614.1,464.9h0M606.3,463.2h0M605.7,463.7h0M606.4,470.6h0M620.7,463.9h0M608.5,469.3h0M612.3,473.0h0M589.3,468.9h0M595.0,481.1h0M589.2,469.0h0M592.2,476.4h0M591.0,487.0h0M600.9,481.6h0M592.5,474.7h0M586.8,467.8h0M594.7,472.5h0M595.1,473.2h0M594.7,483.8h0M594.7,477.5h0M592.1,467.9h0M590.9,484.8h0M599.2,482.1h0M595.9,470.3h0M595.4,477.7h0M593.6,476.9h0M595.8,478.4h0M599.6,480.9h0M595.0,484.7h0M592.1,467.9h0M595.0,477.8h0M596.2,477.9h0M589.2,474.2h0M590.2,474.4h0M593.9,483.0h0M588.1,478.0h0M588.8,477.7h0M591.2,468.4h0M600.2,477.5h0M601.9,480.9h0M598.2,477.6h0M594.9,484.8h0M595.3,482.6h0M592.2,481.2h0M595.3,472.7h0M600.6,481.1h0M600.3,482.7h0M594.3,468.4h0M588.4,483.9h0M591.3,476.6h0M588.1,474.1h0M599.3,478.9h0M589.2,469.0h0M588.0,468.8h0M595.1,472.8h0M596.4,478.2h0M598.3,476.9h0M598.5,483.4h0M600.6,481.2h0M588.0,484.2h0M598.1,473.5h0M591.4,475.9h0M591.5,472.5h0M591.3,469.4h0M595.9,481.1h0M599.8,478.5h0M600.9,480.8h0M587.9,486.2h0M595.6,484.9h0M593.9,473.2h0M595.1,481.8h0M602.1,482.0h0M589.1,478.4h0M570.5,485.3h0M576.4,475.5h0M566.5,480.2h0M570.6,480.1h0M576.8,477.9h0M572.9,486.2h0M573.2,475.2h0M577.6,476.8h0M571.5,480.0h0M568.9,481.5h0M578.7,481.6h0M578.6,485.2h0M574.0,481.0h0M568.7,481.9h0M571.8,476.9h0M572.2,483.4h0M569.5,474.2h0M578.6,483.7h0M567.9,475.1h0M574.9,477.8h0M566.4,482.4h0M568.5,481.2h0M579.0,475.4h0M565.8,484.4h0M579.5,475.4h0M568.5,475.4h0M571.6,476.5h0M568.6,485.1h0M574.8,486.8h0M579.7,477.6h0M577.7,485.5h0M567.3,485.1h0M570.3,475.4h0M573.8,476.4h0M571.1,474.3h0M564.5,482.7h0M571.4,472.0h0M567.8,479.9h0M570.8,480.4h0M567.9,480.4h0M579.4,476.2h0M575.3,482.4h0M553.7,467.2h0M563.4,465.3h0M558.9,471.5h0M557.0,470.7h0M560.0,464.9h0M554.2,464.3h0M562.2,459.7h0M561.5,465.6h0M553.0,465.5h0M551.9,462.7h0M561.6,465.2h0M556.5,470.7h0M562.9,465.3h0M550.3,464.6h0M550.1,462.5h0M554.6,471.5h0M557.3,462.6h0M562.2,461.0h0M565.1,465.6h0M559.2,470.3h0M547.9,464.9h0M559.3,469.3h0M561.6,462.6h0M557.2,468.2h0M553.4,468.1h0M556.9,473.6h0M563.2,462.9h0M558.6,469.0h0M556.8,471.2h0M558.8,465.0h0M551.5,465.0h0M558.3,465.9h0M547.5,464.0h0M558.5,471.9h0M555.8,464.7h0M562.8,468.5h0M547.0,464.7h0M561.7,463.0h0M556.6,469.9h0M561.3,460.0h0M553.6,469.7h0M562.9,463.0h0M559.8,458.4h0M564.1,463.3h0M556.7,473.2h0M564.7,465.7h0M560.7,462.9h0M555.7,473.5h0M559.2,460.9h0M558.5,467.5h0M563.2,464.7h0M555.0,475.5h0M558.0,461.9h0M548.2,464.3h0M553.5,461.1h0M556.9,469.8h0M555.2,463.8h0M557.1,472.9h0M557.9,459.2h0M560.2,459.8h0M560.3,467.4h0M559.8,464.4h0M553.5,442.2h0M551.6,448.9h0M548.8,448.0h0M550.8,452.4h0M550.2,440.2h0M554.5,443.9h0M553.4,450.8h0M552.5,444.7h0M549.5,439.8h0M548.7,445.0h0M550.9,451.1h0M550.2,446.0h0M552.9,441.9h0"/>
<path stroke="#f23535" stroke-opacity="0.95" d="M606.2,393.9h0M590.0,393.3h0M603.1,393.5h0M594.0,392.0h0M588.8,389.7h0M599.7,394.0h0M605.8,391.3h0M601.3,390.2h0M634.3,419.3h0M632.3,411.3h0M631.3,410.8h0M629.8,416.4h0M633.7,418.2h0M632.7,408.6h0M635.1,417.6h0M625.8,407.2h0M638.0,420.2h0M636.0,415.5h0M636.3,414.7h0M631.2,410.6h0M631.4,416.1h0M626.8,412.8h0M636.3,415.8h0M637.7,440.4h0M637.0,447.8h0M640.7,449.6h0M639.3,450.5h0M637.4,451.9h0M638.9,447.9h0M639.7,445.9h0M630.1,485.1h0M633.0,475.6h0M627.0,491.4h0M632.2,488.6h0M625.1,485.2h0M633.3,483.1h0M634.8,478.8h0M633.1,479.5h0M629.8,475.3h0M621.1,489.4h0M633.0,478.2h0M632.6,473.9h0M634.7,472.2h0M621.4,485.3h0M631.6,479.8h0M634.8,477.2h0M633.8,469.8h0M632.1,475.8h0M632.5,484.0h0M638.2,480.5h0M633.9,486.3h0M631.9,472.0h0M601.0,504.0h0M608.9,495.6h0M591.1,502.0h0M611.7,506.3h0M618.2,505.6h0M589.6,506.3h0M589.9,502.7h0M614.0,499.7h0M602.2,499.8h0M594.9,501.2h0M593.7,501.1h0M611.0,495.6h0M612.0,498.7h0M594.3,504.8h0M603.1,503.3h0M600.3,499.1h0M597.1,500.1h0M598.8,499.7h0M604.1,499.3h0M611.3,501.3h0M589.8,501.6h0M592.5,502.3h0M604.8,510.0h0M610.0,495.2h0M615.2,505.7h0M600.7,502.3h0M601.4,498.9h0M599.8,499.5h0M605.0,501.0h0M603.0,498.6h0M609.4,495.7h0M591.6,501.7h0M591.5,504.4h0M589.8,501.4h0M594.1,503.8h0M597.0,504.6h0M594.6,501.1h0M606.2,497.1h0M603.1,498.1h0M606.9,500.4h0M616.3,505.5h0M608.8,500.7h0M594.5,505.5h0M614.3,500.9h0M598.4,500.3h0M619.0,507.5h0M597.1,505.5h0M608.1,506.9h0M604.7,508.0h0M618.8,505.2h0M607.5,511.3h0M611.1,496.7h0M595.1,501.1h0M611.7,501.5h0M609.5,496.8h0M607.3,496.8h0M589.1,502.7h0M596.2,516.5h0M601.6,501.8h0M591.6,510.2h0M599.3,508.0h0M597.7,500.3h0M595.5,511.5h0M595.4,500.5h0M609.1,497.0h0M599.8,514.6h0M612.9,502.6h0M590.9,511.7h0M597.1,513.1h0M595.0,511.2h0M603.7,503.0h0M595.5,510.9h0M610.0,507.9h0M604.1,513.2h0M616.3,507.6h0M578.6,502.4h0M577.8,507.2h0M555.8,503.2h0M575.6,502.5h0M573.1,504.6h0M576.0,502.3h0M561.2,510.9h0M576.4,501.8h0M556.0,500.5h0M575.3,509.7h0M571.2,501.0h0M574.3,507.2h0M554.1,496.8h0M578.2,507.8h0M576.0,501.2h0M562.6,502.5h0M567.1,501.2h0M563.6,499.0h0M555.1,498.2h0M557.3,501.2h0M553.9,505.2h0M577.7,506.6h0M556.4,499.6h0M557.4,496.3h0M556.4,494.6h0M561.3,498.3h0M571.4,500.6h0M570.7,500.8h0M568.0,499.4h0M557.9,509.9h0M555.6,506.8h0M551.0,500.8h0M570.9,506.3h0M568.6,499.9h0M573.1,500.7h0M552.1,503.2h0M560.1,497.0h0M554.5,500.9h0M563.6,505.4h0M559.1,495.9h0M563.5,498.3h0M565.5,499.4h0M573.0,513.5h0M562.3,499.7h0M555.5,496.5h0M556.6,495.7h0M553.5,498.2h0M573.6,500.8h0M536.0,494.9h0M534.5,489.0h0M535.3,474.1h0M542.8,486.3h0M532.4,473.4h0M529.7,483.0h0M535.6,473.5h0M529.2,472.6h0M532.8,490.2h0M526.3,476.6h0M540.2,482.5h0M539.7,483.4h0M544.0,488.0h0M533.1,470.6h0M535.0,477.6h0M526.5,478.7h0M532.8,470.4h0M524.9,471.6h0M529.2,477.2h0M536.5,489.9h0M536.2,485.3h0M538.6,492.9h0M538.4,485.0h0M534.6,488.0h0M526.0,475.8h0M537.9,493.3h0M525.7,479.5h0M531.5,479.2h0M534.3,471.1h0M536.3,482.6h0M533.7,473.9h0M526.8,474.7h0M541.0,482.7h0M545.0,487.3h0M545.9,489.1h0M537.2,490.3h0M546.2,487.2h0M538.6,490.1h0M538.1,483.0h0M525.4,472.6h0M535.9,477.1h0M531.0,486.0h0M526.5,479.4h0M532.8,471.7h0M542.3,490.0h0M530.3,474.3h0M536.1,481.7h0M531.8,472.0h0M539.3,489.0h0M539.6,483.1h0M526.0,481.0h0M533.6,470.2h0M537.8,477.2h0M533.6,475.9h0M543.9,488.8h0M531.3,474.0h0M534.8,487.3h0M535.0,474.3h0M537.3,490.5h0M523.4,472.2h0M524.7,456.5h0M526.0,456.0h0M517.8,437.5h0M525.3,446.6h0M517.5,444.8h0M521.0,445.4h0M527.7,458.1h0M521.3,454.3h0M513.3,455.2h0M511.4,455.5h0M526.0,447.3h0M521.7,451.4h0M513.1,455.9h0M515.9,436.1h0M520.2,446.6h0M508.0,443.0h0M526.1,458.2h0M526.3,451.1h0M526.2,442.8h0M521.1,452.2h0M520.2,433.7h0M524.8,456.1h0M523.3,451.6h0M508.7,439.5h0M521.4,456.3h0M527.2,456.5h0M510.4,441.6h0M525.4,443.4h0M526.3,446.5h0M523.5,457.8h0M513.5,439.6h0M519.7,456.6h0M515.1,448.8h0M516.5,459.6h0M510.6,464.0h0M524.5,449.5h0M525.8,457.7h0M516.4,431.0h0M522.9,453.3h0M515.6,455.5h0M521.5,441.3h0M521.5,456.6h0M526.2,445.6h0M507.4,431.5h0M525.9,446.6h0M520.1,455.7h0M515.1,446.8h0M511.7,453.7h0M508.5,435.6h0M520.6,457.2h0M520.5,457.7h0M515.0,440.4h0M519.0,432.2h0M526.7,441.1h0M512.7,459.6h0M524.0,459.1h0M517.6,439.9h0M522.5,441.2h0M522.2,440.7h0M525.0,433.6h0M522.2,461.0h0M526.3,440.8h0M509.9,442.0h0M526.2,436.8h0M515.0,459.1h0M521.9,441.8h0M527.8,458.5h0M523.1,436.2h0M506.0,453.3h0M509.1,436.7h0M509.8,443.7h0M506.7,441.5h0M507.3,444.3h0M524.8,446.2h0M519.7,451.5h0M521.8,446.4h0M517.7,455.2h0M523.5,446.6h0M519.1,449.1h0M516.0,456.7h0M536.9,405.4h0M533.6,399.4h0M528.9,403.0h0M528.1,392.4h0M525.0,411.0h0M518.0,404.8h0M531.2,414.5h0M535.0,393.7h0M529.9,401.1h0M526.9,392.9h0M529.4,408.7h0M520.9,408.8h0M535.9,407.8h0M518.6,410.3h0M534.5,395.0h0M528.3,419.3h0M526.4,411.5h0M532.5,387.1h0M535.8,400.9h0M521.3,414.6h0M513.2,410.5h0M533.2,411.8h0M533.9,411.3h0M539.7,397.9h0M537.4,400.1h0M525.7,401.0h0M529.6,414.4h0M527.5,409.9h0M526.7,405.2h0M533.7,406.5h0M513.1,409.2h0M524.4,421.5h0M527.6,421.4h0M537.0,400.2h0M549.3,375.2h0M549.4,390.4h0M569.3,387.6h0M564.1,370.2h0M570.3,383.1h0M551.4,380.2h0M565.5,381.0h0M549.7,377.6h0M560.3,389.5h0M561.4,391.8h0M562.5,372.7h0M571.3,388.2h0M571.9,388.6h0M555.1,394.4h0M565.2,388.8h0M575.2,386.3h0M547.0,364.1h0M566.4,370.5h0M554.9,383.8h0M574.7,356.0h0M561.1,392.2h0M556.5,391.0h0M575.2,382.6h0M574.2,388.4h0M552.0,393.7h0M547.8,366.8h0M555.3,393.6h0M554.0,391.1h0M558.7,392.3h0M560.4,380.9h0M565.3,387.9h0M567.1,368.9h0M576.0,384.7h0M561.0,369.4h0M558.3,385.7h0M575.5,387.8h0M549.5,384.4h0M571.9,358.1h0M570.6,389.1h0M565.8,388.8h0M552.4,369.6h0M567.9,381.8h0M568.4,388.7h0M577.7,382.5h0M570.7,388.2h0M559.7,392.7h0M556.5,393.9h0M553.2,386.1h0M544.6,376.0h0M573.2,375.8h0M558.1,393.1h0M558.2,371.9h0M549.4,363.6h0M577.0,383.3h0M577.4,384.6h0M545.3,368.6h0M576.1,378.6h0M574.5,388.1h0M568.0,368.7h0M549.7,384.6h0M539.4,366.3h0M567.0,368.4h0M569.5,386.4h0M571.0,383.9h0M576.8,388.1h0M572.6,384.3h0M572.5,381.8h0M565.8,387.8h0M565.1,390.7h0M574.8,388.2h0M558.2,376.9h0M574.1,354.2h0M538.7,366.8h0M568.0,372.7h0M547.1,385.8h0M553.6,362.7h0M571.8,377.2h0M552.7,394.0h0M547.0,365.3h0M556.3,394.4h0M564.8,354.0h0M556.0,393.2h0M563.1,361.7h0M550.9,384.8h0M576.7,382.9h0M563.3,391.3h0M578.5,387.9h0M577.3,387.8h0M566.6,364.8h0M570.5,389.1h0M562.8,383.4h0M565.5,390.0h0M545.6,375.0h0M554.0,366.1h0M558.0,391.4h0M567.7,383.2h0M574.4,377.9h0M563.2,382.6h0M542.7,361.9h0M561.0,392.2h0M554.7,392.1h0M551.1,391.2h0M555.5,362.2h0M564.7,362.7h0M568.8,371.1h0M570.8,386.5h0M566.5,389.1h0M570.6,377.4h0M561.1,391.4h0M569.6,365.4h0M539.3,364.6h0M555.0,393.8h0M568.4,371.5h0M570.3,375.1h0M564.6,382.0h0"/></g>
<circle cx="583.6" cy="446.7" r="50.3" stroke="#3a3a3a" stroke-width="3.4" fill="none"/>
<path d="M583.60,396.40A50.3,50.3 0 0 1 613.17,406.01" stroke="#a9d9ec" stroke-width="2.4" fill="none"/>
<path d="M613.17,406.01A50.3,50.3 0 0 1 631.44,431.16" stroke="#3b7ec2" stroke-width="2.4" fill="none"/>
<path d="M631.44,431.16A50.3,50.3 0 0 1 631.44,462.24" stroke="#90da82" stroke-width="2.4" fill="none"/>
<path d="M631.44,462.24A50.3,50.3 0 0 1 613.17,487.39" stroke="#4cb04a" stroke-width="2.4" fill="none"/>
<path d="M613.17,487.39A50.3,50.3 0 0 1 583.60,497.00" stroke="#f2a3b3" stroke-width="2.4" fill="none"/>
<path d="M583.60,497.00A50.3,50.3 0 0 1 554.03,487.39" stroke="#f648f2" stroke-width="2.4" fill="none"/>
<path d="M554.03,487.39A50.3,50.3 0 0 1 535.76,462.24" stroke="#efbd70" stroke-width="2.4" fill="none"/>
<path d="M535.76,462.24A50.3,50.3 0 0 1 535.76,431.16" stroke="#f0832a" stroke-width="2.4" fill="none"/>
<path d="M535.76,431.16A50.3,50.3 0 0 1 554.03,406.01" stroke="#d2b3e3" stroke-width="2.4" fill="none"/>
<path d="M554.03,406.01A50.3,50.3 0 0 1 583.60,396.40" stroke="#e7211d" stroke-width="2.4" fill="none"/>
<circle cx="594" cy="355.8" r="3.5" fill="#f23535"/><text x="599.6" y="357.6" font-size="5.3" font-weight="bold" fill="#111">up</text>
<circle cx="594" cy="364.4" r="3.5" fill="#2f9b35"/><text x="599.6" y="366.2" font-size="5.3" font-weight="bold" fill="#111">down</text>
<circle cx="594" cy="372.8" r="3.5" fill="#a3a3a3"/><text x="599.6" y="374.6" font-size="5.3" font-weight="bold" fill="#111">NS</text>
<rect x="507.5" y="527.8" width="7.2" height="7.2" fill="#4cb04a"/><text x="515.9" y="533.3" font-size="5.45" font-weight="bold" fill="#111">Loop of Henle cell</text>
<rect x="567.4" y="527.8" width="7.2" height="7.2" fill="#f2a3b3"/><text x="575.8" y="533.3" font-size="5.45" font-weight="bold" fill="#111">Endothelial cell</text>
<rect x="507.5" y="537.1" width="7.2" height="7.2" fill="#a9d9ec"/><text x="515.9" y="542.6" font-size="5.45" font-weight="bold" fill="#111">Renal corpusle cell</text>
<rect x="569.2" y="537.1" width="7.2" height="7.2" fill="#3b7ec2"/><text x="577.6" y="542.6" font-size="5.45" font-weight="bold" fill="#111">PT cell</text>
<rect x="602.1" y="537.1" width="7.2" height="7.2" fill="#90da82"/><text x="610.5" y="542.6" font-size="5.45" font-weight="bold" fill="#111">GPC cell</text>
<rect x="507.5" y="545.8" width="7.2" height="7.2" fill="#d2b3e3"/><text x="515.9" y="551.3" font-size="5.45" font-weight="bold" fill="#111">CDC cell</text>
<rect x="545" y="545.8" width="7.2" height="7.2" fill="#e7211d"/><text x="553.4" y="551.3" font-size="5.45" font-weight="bold" fill="#111">Podocyte</text>
<rect x="507.5" y="556.3" width="7.2" height="7.2" fill="#f648f2"/><text x="515.9" y="561.8" font-size="5.45" font-weight="bold" fill="#111">Proliferative cell</text>
<rect x="561.7" y="556.3" width="7.2" height="7.2" fill="#efbd70"/><text x="570.1" y="561.8" font-size="5.45" font-weight="bold" fill="#111">MP cell</text>
<rect x="595.2" y="556.3" width="7.2" height="7.2" fill="#f0832a"/><text x="603.6" y="561.8" font-size="5.45" font-weight="bold" fill="#111">Smooth muscle cell</text></g>
<g id="pf"><rect x="103.8" y="548.0" width="105.50000000000001" height="169.10999999999999" fill="#efefef"/>
<text x="103.8" y="723.8" font-size="4.4" text-anchor="middle" fill="#222" stroke="#222" stroke-width="0.1">0</text>
<path d="M121.4,548.3V716.81" stroke="#fafafa" stroke-width="0.6"/>
<text x="121.4" y="723.8" font-size="4.4" text-anchor="middle" fill="#222" stroke="#222" stroke-width="0.1">0.02</text>
<path d="M139.0,548.3V716.81" stroke="#fafafa" stroke-width="0.6"/>
<text x="139.0" y="723.8" font-size="4.4" text-anchor="middle" fill="#222" stroke="#222" stroke-width="0.1">0.04</text>
<path d="M156.6,548.3V716.81" stroke="#fafafa" stroke-width="0.6"/>
<text x="156.6" y="723.8" font-size="4.4" text-anchor="middle" fill="#222" stroke="#222" stroke-width="0.1">0.06</text>
<path d="M174.1,548.3V716.81" stroke="#fafafa" stroke-width="0.6"/>
<text x="174.1" y="723.8" font-size="4.4" text-anchor="middle" fill="#222" stroke="#222" stroke-width="0.1">0.08</text>
<path d="M191.7,548.3V716.81" stroke="#fafafa" stroke-width="0.6"/>
<text x="191.7" y="723.8" font-size="4.4" text-anchor="middle" fill="#222" stroke="#222" stroke-width="0.1">0.1</text>
<text x="209.3" y="723.8" font-size="4.4" text-anchor="middle" fill="#222" stroke="#222" stroke-width="0.1">0.12</text>
<rect x="94.3" y="548.30" width="9.6" height="16.95" fill="#a9a9a9"/>
<path d="M103.8,551.11H143.5" stroke="#a9a9a9" stroke-width="1"/><circle cx="143.5" cy="551.11" r="1.72" fill="#a9a9a9"/>
<text x="92.2" y="552.71" font-size="4.68" text-anchor="end" fill="#1c1c1c" stroke="#1c1c1c" stroke-width="0.12">Vasopressin-regulated water reabsorption</text>
<path d="M103.8,556.73H150.9" stroke="#a9a9a9" stroke-width="1"/><circle cx="150.9" cy="556.73" r="1.84" fill="#a9a9a9"/>
<text x="92.2" y="558.33" font-size="4.68" text-anchor="end" fill="#1c1c1c" stroke="#1c1c1c" stroke-width="0.12">Renin-angiotensin system</text>
<path d="M103.8,562.34H154.4" stroke="#a9a9a9" stroke-width="1"/><circle cx="154.4" cy="562.34" r="1.95" fill="#a9a9a9"/>
<text x="92.2" y="563.94" font-size="4.68" text-anchor="end" fill="#1c1c1c" stroke="#1c1c1c" stroke-width="0.12">cAMP signaling pathway</text>
<rect x="94.3" y="565.15" width="9.6" height="16.95" fill="#8fcb4a"/>
<path d="M103.8,567.96H143.5" stroke="#8fcb4a" stroke-width="1"/><circle cx="143.5" cy="567.96" r="1.95" fill="#8fcb4a"/>
<text x="92.2" y="569.56" font-size="4.68" text-anchor="end" fill="#1c1c1c" stroke="#1c1c1c" stroke-width="0.12">Vasopressin-regulated water reabsorption.</text>
<path d="M103.8,573.58H127.9" stroke="#8fcb4a" stroke-width="1"/><circle cx="127.9" cy="573.58" r="1.49" fill="#8fcb4a"/>
<text x="92.2" y="575.18" font-size="4.68" text-anchor="end" fill="#1c1c1c" stroke="#1c1c1c" stroke-width="0.12">Protein digestion and absorption</text>
<path d="M103.8,579.19H121.0" stroke="#8fcb4a" stroke-width="1"/><circle cx="121.0" cy="579.19" r="1.26" fill="#8fcb4a"/>
<text x="92.2" y="580.79" font-size="4.68" text-anchor="end" fill="#1c1c1c" stroke="#1c1c1c" stroke-width="0.12">Carbohydrate digestion and absorption</text>
<rect x="94.3" y="582.00" width="9.6" height="16.95" fill="#72aac6"/>
<path d="M103.8,584.81H135.7" stroke="#72aac6" stroke-width="1"/><circle cx="135.7" cy="584.81" r="1.61" fill="#72aac6"/>
<text x="92.2" y="586.41" font-size="4.68" text-anchor="end" fill="#1c1c1c" stroke="#1c1c1c" stroke-width="0.12">Mineral absorption</text>
<path d="M103.8,590.43H143.5" stroke="#72aac6" stroke-width="1"/><circle cx="143.5" cy="590.43" r="1.95" fill="#72aac6"/>
<text x="92.2" y="592.03" font-size="4.68" text-anchor="end" fill="#1c1c1c" stroke="#1c1c1c" stroke-width="0.12">Vasopressin-regulated water reabsorption..</text>
<path d="M103.8,596.04H110.7" stroke="#72aac6" stroke-width="1"/><circle cx="110.7" cy="596.04" r="0.63" fill="#72aac6"/>
<text x="92.2" y="597.64" font-size="4.68" text-anchor="end" fill="#1c1c1c" stroke="#1c1c1c" stroke-width="0.12">Carbon metabolism</text>
<rect x="94.3" y="598.85" width="9.6" height="16.95" fill="#579a5a"/>
<path d="M103.8,601.66H126.5" stroke="#579a5a" stroke-width="1"/><circle cx="126.5" cy="601.66" r="1.49" fill="#579a5a"/>
<text x="92.2" y="603.26" font-size="4.68" text-anchor="end" fill="#1c1c1c" stroke="#1c1c1c" stroke-width="0.12">Aldosterone-regulated sodium reabsorption</text>
<path d="M103.8,607.28H154.4" stroke="#579a5a" stroke-width="1"/><circle cx="154.4" cy="607.28" r="2.07" fill="#579a5a"/>
<text x="92.2" y="608.88" font-size="4.68" text-anchor="end" fill="#1c1c1c" stroke="#1c1c1c" stroke-width="0.12">cAMP signaling pathway.</text>
<path d="M103.8,612.90H150.9" stroke="#579a5a" stroke-width="1"/><circle cx="150.9" cy="612.90" r="2.07" fill="#579a5a"/>
<text x="92.2" y="614.50" font-size="4.68" text-anchor="end" fill="#1c1c1c" stroke="#1c1c1c" stroke-width="0.12">Renin-angiotensin system.</text>
<rect x="94.3" y="615.70" width="9.6" height="16.95" fill="#c8616f"/>
<path d="M103.8,618.51H194.5" stroke="#c8616f" stroke-width="1"/><circle cx="194.5" cy="618.51" r="2.42" fill="#c8616f"/>
<text x="92.2" y="620.11" font-size="4.68" text-anchor="end" fill="#1c1c1c" stroke="#1c1c1c" stroke-width="0.12">VEGF signaling pathway</text>
<path d="M103.8,624.13H144.5" stroke="#c8616f" stroke-width="1"/><circle cx="144.5" cy="624.13" r="1.95" fill="#c8616f"/>
<text x="92.2" y="625.73" font-size="4.68" text-anchor="end" fill="#1c1c1c" stroke="#1c1c1c" stroke-width="0.12">Fluid shear stress and atherosclerosis</text>
<path d="M103.8,629.75H162.6" stroke="#c8616f" stroke-width="1"/><circle cx="162.6" cy="629.75" r="2.18" fill="#c8616f"/>
<text x="92.2" y="631.35" font-size="4.68" text-anchor="end" fill="#1c1c1c" stroke="#1c1c1c" stroke-width="0.12">Leukocyte transendothelial migration</text>
<rect x="94.3" y="632.55" width="9.6" height="16.95" fill="#bdc867"/>
<path d="M103.8,635.36H119.9" stroke="#bdc867" stroke-width="1"/><circle cx="119.9" cy="635.36" r="1.26" fill="#bdc867"/>
<text x="92.2" y="636.96" font-size="4.68" text-anchor="end" fill="#1c1c1c" stroke="#1c1c1c" stroke-width="0.12">Cell cycle</text>
<path d="M103.8,640.98H132.1" stroke="#bdc867" stroke-width="1"/><circle cx="132.1" cy="640.98" r="1.61" fill="#bdc867"/>
<text x="92.2" y="642.58" font-size="4.68" text-anchor="end" fill="#1c1c1c" stroke="#1c1c1c" stroke-width="0.12">PI3K-Akt signaling pathway</text>
<path d="M103.8,646.60H136.0" stroke="#bdc867" stroke-width="1"/><circle cx="136.0" cy="646.60" r="1.72" fill="#bdc867"/>
<text x="92.2" y="648.20" font-size="4.68" text-anchor="end" fill="#1c1c1c" stroke="#1c1c1c" stroke-width="0.12">MAPK signaling pathway</text>
<rect x="94.3" y="649.41" width="9.6" height="16.95" fill="#3d5bf3"/>
<path d="M103.8,652.21H178.2" stroke="#3d5bf3" stroke-width="1"/><circle cx="178.2" cy="652.21" r="2.30" fill="#3d5bf3"/>
<text x="92.2" y="653.81" font-size="4.68" text-anchor="end" fill="#1c1c1c" stroke="#1c1c1c" stroke-width="0.12">Fc gamma R-mediated phagocytosis</text>
<path d="M103.8,657.83H153.2" stroke="#3d5bf3" stroke-width="1"/><circle cx="153.2" cy="657.83" r="2.07" fill="#3d5bf3"/>
<text x="92.2" y="659.43" font-size="4.68" text-anchor="end" fill="#1c1c1c" stroke="#1c1c1c" stroke-width="0.12">Chemokine signaling pathway</text>
<path d="M103.8,663.45H128.8" stroke="#3d5bf3" stroke-width="1"/><circle cx="128.8" cy="663.45" r="1.61" fill="#3d5bf3"/>
<text x="92.2" y="665.05" font-size="4.68" text-anchor="end" fill="#1c1c1c" stroke="#1c1c1c" stroke-width="0.12">Toll-like receptor signaling pathway</text>
<rect x="94.3" y="666.26" width="9.6" height="16.95" fill="#fa3af6"/>
<path d="M103.8,669.07H176.8" stroke="#fa3af6" stroke-width="1"/><circle cx="176.8" cy="669.07" r="2.30" fill="#fa3af6"/>
<text x="92.2" y="670.67" font-size="4.68" text-anchor="end" fill="#1c1c1c" stroke="#1c1c1c" stroke-width="0.12">Vascular smooth muscle contraction</text>
<path d="M103.8,674.68H154.6" stroke="#fa3af6" stroke-width="1"/><circle cx="154.6" cy="674.68" r="2.18" fill="#fa3af6"/>
<text x="92.2" y="676.28" font-size="4.68" text-anchor="end" fill="#1c1c1c" stroke="#1c1c1c" stroke-width="0.12">cGMP-PKG signaling pathway</text>
<path d="M103.8,680.30H141.3" stroke="#fa3af6" stroke-width="1"/><circle cx="141.3" cy="680.30" r="1.84" fill="#fa3af6"/>
<text x="92.2" y="681.90" font-size="4.68" text-anchor="end" fill="#1c1c1c" stroke="#1c1c1c" stroke-width="0.12">Calcium signaling pathway</text>
<rect x="94.3" y="683.11" width="9.6" height="16.95" fill="#50f883"/>
<path d="M103.8,685.92H113.5" stroke="#50f883" stroke-width="1"/><circle cx="113.5" cy="685.92" r="0.69" fill="#50f883"/>
<text x="92.2" y="687.52" font-size="4.68" text-anchor="end" fill="#1c1c1c" stroke="#1c1c1c" stroke-width="0.12">Antigen processing and presentation</text>
<path d="M103.8,691.53H128.8" stroke="#50f883" stroke-width="1"/><circle cx="128.8" cy="691.53" r="1.61" fill="#50f883"/>
<text x="92.2" y="693.13" font-size="4.68" text-anchor="end" fill="#1c1c1c" stroke="#1c1c1c" stroke-width="0.12">Toll-like receptor signaling pathway.</text>
<path d="M103.8,697.15H128.3" stroke="#50f883" stroke-width="1"/><circle cx="128.3" cy="697.15" r="1.49" fill="#50f883"/>
<text x="92.2" y="698.75" font-size="4.68" text-anchor="end" fill="#1c1c1c" stroke="#1c1c1c" stroke-width="0.12">NF-kappa B signaling pathway</text>
<rect x="94.3" y="699.96" width="9.6" height="16.95" fill="#f6291b"/>
<path d="M103.8,702.77H138.4" stroke="#f6291b" stroke-width="1"/><circle cx="138.4" cy="702.77" r="1.95" fill="#f6291b"/>
<text x="92.2" y="704.37" font-size="4.68" text-anchor="end" fill="#1c1c1c" stroke="#1c1c1c" stroke-width="0.12">Glycerophospholipid metabolism</text>
<path d="M103.8,708.38H136.0" stroke="#f6291b" stroke-width="1"/><circle cx="136.0" cy="708.38" r="1.84" fill="#f6291b"/>
<text x="92.2" y="709.98" font-size="4.68" text-anchor="end" fill="#1c1c1c" stroke="#1c1c1c" stroke-width="0.12">MAPK signaling pathway.</text>
<path d="M103.8,714.00H115.7" stroke="#f6291b" stroke-width="1"/><circle cx="115.7" cy="714.00" r="1.03" fill="#f6291b"/>
<text x="92.2" y="715.60" font-size="4.68" text-anchor="end" fill="#1c1c1c" stroke="#1c1c1c" stroke-width="0.12">Glutathione metabolism</text>
<text x="216.6" y="594" font-size="4.6" fill="#222" stroke="#222" stroke-width="0.12">log10</text>
<circle cx="219" cy="597.9" r="1.0" fill="#111"/><text x="222.6" y="599.7" font-size="4.6" fill="#222" stroke="#222" stroke-width="0.12">-2.89</text>
<circle cx="218.8" cy="604" r="2.0" fill="#111"/><text x="222.6" y="605.7" font-size="4.6" fill="#222" stroke="#222" stroke-width="0.12">-0.99</text>
<rect x="216.8" y="607.7" width="4.4" height="5.05" fill="#a9a9a9"/><text x="222.6" y="611.9" font-size="5.05" fill="#2a2a34" stroke="#2a2a34" stroke-width="0.12">Renal corpusle cell</text>
<rect x="216.8" y="612.7" width="4.4" height="5.05" fill="#8fcb4a"/><text x="222.6" y="616.9" font-size="5.05" fill="#2a2a34" stroke="#2a2a34" stroke-width="0.12">PT cell</text>
<rect x="216.8" y="617.7" width="4.4" height="5.05" fill="#72aac6"/><text x="222.6" y="621.9" font-size="5.05" fill="#2a2a34" stroke="#2a2a34" stroke-width="0.12">GPC cell</text>
<rect x="216.8" y="622.7" width="4.4" height="5.05" fill="#579a5a"/><text x="222.6" y="626.9" font-size="5.05" fill="#2a2a34" stroke="#2a2a34" stroke-width="0.12">Loop of Henle cell</text>
<rect x="216.8" y="627.7" width="4.4" height="5.05" fill="#c8616f"/><text x="222.6" y="631.9" font-size="5.05" fill="#2a2a34" stroke="#2a2a34" stroke-width="0.12">Endothelial cell</text>
<rect x="216.8" y="632.7" width="4.4" height="5.05" fill="#bdc867"/><text x="222.6" y="636.9" font-size="5.05" fill="#2a2a34" stroke="#2a2a34" stroke-width="0.12">Proliferative cell</text>
<rect x="216.8" y="637.7" width="4.4" height="5.05" fill="#3d5bf3"/><text x="222.6" y="641.9" font-size="5.05" fill="#2a2a34" stroke="#2a2a34" stroke-width="0.12">MP cell</text>
<rect x="216.8" y="642.7" width="4.4" height="5.05" fill="#fa3af6"/><text x="222.6" y="646.9" font-size="5.05" fill="#2a2a34" stroke="#2a2a34" stroke-width="0.12">Smooth muscle cell</text>
<rect x="216.8" y="647.7" width="4.4" height="5.05" fill="#50f883"/><text x="222.6" y="651.9" font-size="5.05" fill="#2a2a34" stroke="#2a2a34" stroke-width="0.12">CDC cell</text>
<rect x="216.8" y="652.7" width="4.4" height="5.05" fill="#f6291b"/><text x="222.6" y="656.9" font-size="5.05" fill="#2a2a34" stroke="#2a2a34" stroke-width="0.12">Podocyte</text></g>
<g id="pg"><path d="M277.5,582.6H683.5" stroke="#ececec" stroke-width="0.6"/>
<path d="M277.5,615.0H683.5" stroke="#ececec" stroke-width="0.6"/>
<path d="M277.5,647.4H683.5" stroke="#ececec" stroke-width="0.6"/>
<path d="M277.5,679.8H683.5" stroke="#ececec" stroke-width="0.6"/>
<path d="M277.5,712.2H683.5" stroke="#9a9a9a" stroke-width="0.7"/>
<text x="276" y="584.2" font-size="4.9" text-anchor="end" fill="#333">8</text>
<text x="276" y="616.6" font-size="4.9" text-anchor="end" fill="#333">6</text>
<text x="276" y="649.0" font-size="4.9" text-anchor="end" fill="#333">4</text>
<text x="276" y="681.4" font-size="4.9" text-anchor="end" fill="#333">2</text>
<text x="276" y="713.8" font-size="4.9" text-anchor="end" fill="#333">0</text>
<path d="M296.9,585.0C296.9,588.2 297.1,619.0 297.2,623.1C297.2,627.2 297.4,632.9 297.5,634.4C297.6,635.9 297.8,639.8 297.9,641.1C298.0,642.4 298.8,648.7 299.1,650.2C299.3,651.7 300.6,657.6 300.9,659.1C301.2,660.5 302.2,666.1 302.4,667.2C302.6,668.2 303.3,671.1 303.5,671.7C303.7,672.3 305.1,674.3 305.1,674.8C305.1,675.2 303.3,676.7 303.4,677.0C303.5,677.4 306.2,678.9 306.2,679.5C306.2,680.0 302.8,682.7 302.9,683.4C303.0,684.0 307.6,686.4 307.3,687.1C307.0,687.8 299.6,690.7 299.5,691.5C299.4,692.2 305.7,694.9 305.6,695.7C305.5,696.4 298.6,700.0 297.9,700.5C297.2,701.1 297.3,701.8 297.3,702.5C297.2,703.1 297.0,707.5 297.3,708.3C297.6,709.1 300.9,711.9 301.2,712.2L292.6,712.2C292.9,711.9 296.2,709.1 296.5,708.3C296.8,707.5 296.6,703.1 296.5,702.5C296.4,701.8 296.6,701.1 295.9,700.5C295.2,700.0 288.3,696.4 288.2,695.7C288.1,694.9 294.4,692.2 294.3,691.5C294.2,690.7 286.8,687.8 286.5,687.1C286.2,686.4 290.8,684.0 290.9,683.4C291.0,682.7 287.6,680.0 287.6,679.5C287.6,678.9 290.3,677.4 290.4,677.0C290.5,676.7 288.7,675.2 288.7,674.8C288.7,674.3 290.1,672.3 290.3,671.7C290.5,671.1 291.2,668.2 291.4,667.2C291.6,666.1 292.6,660.5 292.9,659.1C293.2,657.6 294.4,651.7 294.7,650.2C294.9,648.7 295.8,642.4 295.9,641.1C296.0,639.8 296.2,635.9 296.3,634.4C296.4,632.9 296.5,627.2 296.6,623.1C296.6,619.0 296.9,588.2 296.9,585.0Z" fill="#2a0f4f" stroke="#000" stroke-opacity="0.55" stroke-width="0.35" stroke-linejoin="round"/>
<path d="M296.9,585.0V712.2" stroke="#3a3a3a" stroke-opacity="0.75" stroke-width="0.45"/>
<rect x="294.3" y="667.2" width="5.2" height="22.5" fill="#000" fill-opacity="0.3" stroke="#000" stroke-opacity="0.45" stroke-width="0.3"/>
<path d="M294.3,679.8h5.2" stroke="#000" stroke-opacity="0.5" stroke-width="0.5"/>
<text x="300.0" y="721.8" font-size="5.5" text-anchor="middle" fill="#222">Renal corpusle cell</text>
<path d="M337.5,616.6C337.6,619.2 337.8,643.5 337.8,647.4C337.8,651.3 338.0,661.7 338.0,663.6C338.1,665.5 338.3,669.0 338.3,670.1C338.4,671.2 338.7,675.8 338.7,676.6C338.8,677.4 339.4,679.4 339.4,679.8C339.5,680.2 338.8,681.4 338.8,681.7C338.9,682.1 339.8,684.0 339.8,684.3C339.9,684.7 338.9,686.0 338.9,686.3C339.0,686.6 340.2,687.8 340.2,688.2C340.3,688.6 339.0,690.5 339.3,691.1C339.7,691.8 344.4,695.3 344.4,696.0C344.4,696.7 339.8,698.7 339.3,699.2C338.9,699.8 339.1,701.8 339.0,702.5C339.0,703.2 338.8,707.2 339.1,707.8C339.5,708.5 342.8,709.9 343.5,710.3C344.2,710.6 347.2,712.0 347.5,712.2L327.5,712.2C327.9,712.0 330.8,710.6 331.5,710.3C332.2,709.9 335.6,708.5 335.9,707.8C336.3,707.2 336.1,703.2 336.0,702.5C336.0,701.8 336.2,699.8 335.7,699.2C335.3,698.7 330.6,696.7 330.6,696.0C330.6,695.3 335.4,691.8 335.7,691.1C336.1,690.5 334.8,688.6 334.8,688.2C334.9,687.8 336.1,686.6 336.1,686.3C336.2,686.0 335.2,684.7 335.2,684.3C335.3,684.0 336.2,682.1 336.2,681.7C336.3,681.4 335.6,680.2 335.6,679.8C335.7,679.4 336.3,677.4 336.3,676.6C336.4,675.8 336.7,671.2 336.7,670.1C336.8,669.0 337.0,665.5 337.0,663.6C337.1,661.7 337.3,651.3 337.3,647.4C337.3,643.5 337.5,619.2 337.5,616.6Z" fill="#b9f23e" stroke="#000" stroke-opacity="0.55" stroke-width="0.35" stroke-linejoin="round"/>
<path d="M337.5,616.6V712.2" stroke="#3a3a3a" stroke-opacity="0.75" stroke-width="0.45"/>
<rect x="334.9" y="687.1" width="5.2" height="25.1" fill="#000" fill-opacity="0.3" stroke="#000" stroke-opacity="0.45" stroke-width="0.3"/>
<path d="M334.9,696.8h5.2" stroke="#000" stroke-opacity="0.5" stroke-width="0.5"/>
<text x="336.1" y="721.8" font-size="5.5" text-anchor="middle" fill="#222">PT cell</text>
<path d="M378.2,567.0C378.2,570.4 378.4,602.2 378.5,606.9C378.6,611.6 378.8,620.8 378.9,623.1C379.0,625.4 379.5,632.9 379.6,634.4C379.7,635.9 380.2,639.8 380.4,641.1C380.6,642.4 381.5,648.7 381.8,650.2C382.1,651.6 383.3,657.5 383.5,658.7C383.7,659.9 384.4,663.6 384.7,664.6C385.0,665.5 386.3,669.3 386.6,670.1C386.9,670.9 388.1,673.8 388.2,674.5C388.3,675.1 388.3,676.9 388.4,677.4C388.4,677.8 388.9,679.4 388.8,679.8C388.7,680.2 387.3,681.9 387.3,682.6C387.3,683.2 388.8,686.4 388.6,687.1C388.4,687.8 385.4,690.0 385.2,690.7C385.0,691.3 386.8,694.4 386.4,695.2C386.0,696.0 381.0,699.8 380.4,700.5C379.8,701.3 378.8,703.5 378.7,704.1C378.6,704.7 378.8,707.2 379.1,707.8C379.4,708.5 382.5,711.8 382.8,712.2L373.6,712.2C373.9,711.8 377.0,708.5 377.3,707.8C377.6,707.2 377.8,704.7 377.7,704.1C377.6,703.5 376.6,701.3 376.0,700.5C375.4,699.8 370.4,696.0 370.0,695.2C369.6,694.4 371.4,691.3 371.2,690.7C371.0,690.0 368.0,687.8 367.8,687.1C367.6,686.4 369.1,683.2 369.1,682.6C369.1,681.9 367.7,680.2 367.6,679.8C367.5,679.4 367.9,677.8 368.0,677.4C368.1,676.9 368.1,675.1 368.2,674.5C368.3,673.8 369.5,670.9 369.8,670.1C370.1,669.3 371.4,665.5 371.7,664.6C372.0,663.6 372.7,659.9 372.9,658.7C373.1,657.5 374.3,651.6 374.6,650.2C374.9,648.7 375.8,642.4 376.0,641.1C376.2,639.8 376.7,635.9 376.8,634.4C376.9,632.9 377.4,625.4 377.5,623.1C377.6,620.8 377.8,611.6 377.9,606.9C378.0,602.2 378.2,570.4 378.2,567.0Z" fill="#4259d9" stroke="#000" stroke-opacity="0.55" stroke-width="0.35" stroke-linejoin="round"/>
<path d="M378.2,567.0V712.2" stroke="#3a3a3a" stroke-opacity="0.75" stroke-width="0.45"/>
<rect x="375.6" y="664.1" width="5.2" height="22.4" fill="#000" fill-opacity="0.3" stroke="#000" stroke-opacity="0.45" stroke-width="0.3"/>
<path d="M375.6,674.8h5.2" stroke="#000" stroke-opacity="0.5" stroke-width="0.5"/>
<text x="378.5" y="721.8" font-size="5.5" text-anchor="middle" fill="#222">GPC cell</text>
<path d="M418.8,605.3C418.9,607.0 419.1,623.6 419.1,626.3C419.2,629.0 419.5,635.9 419.6,637.7C419.8,639.4 421.0,645.6 421.3,647.4C421.7,649.2 423.9,658.0 424.3,659.7C424.8,661.5 426.0,667.2 426.2,668.5C426.5,669.7 427.5,674.2 427.7,675.1C428.0,676.0 428.9,679.2 428.7,679.8C428.6,680.4 426.2,682.0 426.2,682.6C426.2,683.1 429.2,685.7 428.7,686.4C428.3,687.2 421.5,690.7 421.3,691.5C421.2,692.3 427.1,695.2 427.0,696.0C427.0,696.8 421.0,699.9 420.3,700.5C419.7,701.2 419.3,703.5 419.2,704.1C419.2,704.7 419.0,707.3 419.3,708.0C419.7,708.7 423.0,711.8 423.3,712.2L414.3,712.2C414.7,711.8 418.0,708.7 418.3,708.0C418.7,707.3 418.5,704.7 418.4,704.1C418.4,703.5 418.0,701.2 417.3,700.5C416.7,699.9 410.7,696.8 410.6,696.0C410.6,695.2 416.5,692.3 416.3,691.5C416.2,690.7 409.4,687.2 408.9,686.4C408.5,685.7 411.4,683.1 411.4,682.6C411.4,682.0 409.1,680.4 408.9,679.8C408.8,679.2 409.7,676.0 409.9,675.1C410.2,674.2 411.2,669.7 411.4,668.5C411.7,667.2 412.9,661.5 413.3,659.7C413.8,658.0 416.0,649.2 416.3,647.4C416.7,645.6 417.9,639.4 418.0,637.7C418.2,635.9 418.5,629.0 418.5,626.3C418.6,623.6 418.8,607.0 418.8,605.3Z" fill="#e6b83a" stroke="#000" stroke-opacity="0.55" stroke-width="0.35" stroke-linejoin="round"/>
<path d="M418.8,605.3V712.2" stroke="#3a3a3a" stroke-opacity="0.75" stroke-width="0.45"/>
<rect x="416.2" y="666.7" width="5.2" height="19.6" fill="#000" fill-opacity="0.3" stroke="#000" stroke-opacity="0.45" stroke-width="0.3"/>
<path d="M416.2,678.8h5.2" stroke="#000" stroke-opacity="0.5" stroke-width="0.5"/>
<text x="418.4" y="721.8" font-size="5.5" text-anchor="middle" fill="#222">Loop of Henle cell</text>
<path d="M459.5,600.4C459.5,603.0 459.7,627.3 459.8,631.2C459.9,635.1 460.1,645.0 460.3,647.4C460.5,649.8 461.6,657.9 462.0,659.7C462.4,661.6 464.1,668.1 464.5,669.6C464.9,671.0 466.0,676.1 466.2,677.0C466.4,678.0 467.4,680.2 467.4,680.8C467.4,681.3 465.6,683.1 465.7,683.5C465.8,684.0 468.8,685.8 468.7,686.4C468.6,687.0 464.9,689.9 465.0,690.7C465.1,691.4 470.2,694.9 469.9,695.7C469.6,696.5 462.3,699.8 461.5,700.5C460.7,701.2 460.1,703.5 460.0,704.1C459.9,704.7 459.6,707.3 460.0,708.0C460.4,708.7 464.1,711.8 464.5,712.2L454.5,712.2C454.9,711.8 458.6,708.7 459.0,708.0C459.4,707.3 459.1,704.7 459.0,704.1C458.9,703.5 458.3,701.2 457.5,700.5C456.7,699.8 449.4,696.5 449.1,695.7C448.8,694.9 453.9,691.4 454.0,690.7C454.1,689.9 450.4,687.0 450.3,686.4C450.2,685.8 453.2,684.0 453.3,683.5C453.4,683.1 451.6,681.3 451.6,680.8C451.6,680.2 452.6,678.0 452.8,677.0C453.0,676.1 454.1,671.0 454.5,669.6C454.9,668.1 456.6,661.6 457.0,659.7C457.4,657.9 458.5,649.8 458.7,647.4C458.9,645.0 459.1,635.1 459.2,631.2C459.3,627.3 459.5,603.0 459.5,600.4Z" fill="#55a4f7" stroke="#000" stroke-opacity="0.55" stroke-width="0.35" stroke-linejoin="round"/>
<path d="M459.5,600.4V712.2" stroke="#3a3a3a" stroke-opacity="0.75" stroke-width="0.45"/>
<rect x="456.9" y="674.6" width="5.2" height="20.6" fill="#000" fill-opacity="0.3" stroke="#000" stroke-opacity="0.45" stroke-width="0.3"/>
<path d="M456.9,686.3h5.2" stroke="#000" stroke-opacity="0.5" stroke-width="0.5"/>
<text x="461.2" y="721.8" font-size="5.5" text-anchor="middle" fill="#222">Endothelial cell</text>
<path d="M500.1,598.0C500.2,599.7 500.4,615.7 500.4,618.2C500.5,620.7 500.8,626.2 500.9,628.0C501.1,629.8 502.2,637.9 502.6,639.9C503.1,642.0 505.8,650.4 506.3,652.3C506.9,654.1 509.0,660.8 509.3,662.3C509.7,663.9 510.4,669.7 510.5,670.9C510.6,672.1 510.6,676.2 510.5,677.0C510.5,677.9 510.3,680.2 510.1,680.8C510.0,681.3 508.9,683.1 508.8,683.5C508.8,684.0 509.8,685.8 509.3,686.4C508.9,687.1 503.4,690.7 503.1,691.5C502.9,692.3 506.8,695.2 506.6,696.0C506.5,696.8 502.0,699.9 501.4,700.5C500.9,701.2 500.6,703.5 500.5,704.1C500.5,704.7 500.3,707.3 500.6,708.0C500.9,708.7 503.9,711.8 504.1,712.2L496.1,712.2C496.4,711.8 499.3,708.7 499.6,708.0C499.9,707.3 499.8,704.7 499.8,704.1C499.7,703.5 499.4,701.2 498.8,700.5C498.3,699.9 493.8,696.8 493.6,696.0C493.5,695.2 497.4,692.3 497.1,691.5C496.9,690.7 491.4,687.1 490.9,686.4C490.5,685.8 491.5,684.0 491.4,683.5C491.4,683.1 490.3,681.3 490.1,680.8C490.0,680.2 489.8,677.9 489.8,677.0C489.7,676.2 489.6,672.1 489.8,670.9C489.9,669.7 490.6,663.9 490.9,662.3C491.3,660.8 493.4,654.1 493.9,652.3C494.5,650.4 497.2,642.0 497.6,639.9C498.1,637.9 499.2,629.8 499.3,628.0C499.5,626.2 499.8,620.7 499.8,618.2C499.9,615.7 500.1,599.7 500.1,598.0Z" fill="#f0823a" stroke="#000" stroke-opacity="0.55" stroke-width="0.35" stroke-linejoin="round"/>
<path d="M500.1,598.0V712.2" stroke="#3a3a3a" stroke-opacity="0.75" stroke-width="0.45"/>
<rect x="497.5" y="663.6" width="5.2" height="22.7" fill="#000" fill-opacity="0.3" stroke="#000" stroke-opacity="0.45" stroke-width="0.3"/>
<path d="M497.5,674.1h5.2" stroke="#000" stroke-opacity="0.5" stroke-width="0.5"/>
<text x="502.6" y="721.8" font-size="5.5" text-anchor="middle" fill="#222">Proliferative cell</text>
<path d="M540.8,599.3C540.8,601.7 541.0,624.6 541.1,628.0C541.2,631.3 541.5,637.7 541.6,639.9C541.7,642.2 542.5,652.6 542.8,654.9C543.1,657.1 544.7,665.4 545.0,667.2C545.3,668.9 546.6,674.8 546.8,675.9C547.0,677.0 547.8,680.1 547.8,680.8C547.8,681.4 546.7,683.1 546.8,683.5C546.9,684.0 549.0,685.8 549.0,686.4C549.0,687.0 546.2,689.9 546.3,690.7C546.4,691.4 550.4,694.9 550.2,695.7C549.9,696.5 544.0,699.8 543.3,700.5C542.6,701.3 542.0,703.6 542.0,704.3C542.0,704.9 543.3,707.3 543.8,708.0C544.3,708.6 547.8,711.8 548.2,712.2L533.4,712.2C533.8,711.8 537.3,708.6 537.8,708.0C538.3,707.3 539.6,704.9 539.6,704.3C539.6,703.6 539.0,701.3 538.3,700.5C537.6,699.8 531.6,696.5 531.4,695.7C531.1,694.9 535.2,691.4 535.3,690.7C535.4,689.9 532.6,687.0 532.6,686.4C532.6,685.8 534.7,684.0 534.8,683.5C534.9,683.1 533.8,681.4 533.8,680.8C533.8,680.1 534.6,677.0 534.8,675.9C535.0,674.8 536.3,668.9 536.6,667.2C536.9,665.4 538.5,657.1 538.8,654.9C539.1,652.6 539.9,642.2 540.0,639.9C540.1,637.7 540.4,631.3 540.5,628.0C540.6,624.6 540.8,601.7 540.8,599.3Z" fill="#6fe9d6" stroke="#000" stroke-opacity="0.55" stroke-width="0.35" stroke-linejoin="round"/>
<path d="M540.8,599.3V712.2" stroke="#3a3a3a" stroke-opacity="0.75" stroke-width="0.45"/>
<rect x="538.2" y="675.1" width="5.2" height="20.4" fill="#000" fill-opacity="0.3" stroke="#000" stroke-opacity="0.45" stroke-width="0.3"/>
<path d="M538.2,686.9h5.2" stroke="#000" stroke-opacity="0.5" stroke-width="0.5"/>
<text x="542.6" y="721.8" font-size="5.5" text-anchor="middle" fill="#222">MP cell</text>
<path d="M581.5,588.1C581.5,590.6 581.7,614.8 581.8,618.2C581.8,621.7 582.1,627.7 582.2,629.6C582.4,631.5 583.2,639.0 583.5,640.9C583.7,642.8 585.3,650.6 585.7,652.3C586.0,653.9 587.3,659.2 587.7,660.4C588.0,661.5 589.2,665.0 589.5,666.0C589.7,667.1 590.5,672.3 590.7,673.3C590.8,674.3 591.2,677.0 591.2,677.7C591.1,678.4 590.1,680.7 590.1,681.4C590.0,682.1 590.9,685.1 590.7,685.8C590.4,686.5 587.4,688.7 587.2,689.5C587.1,690.4 589.7,695.0 589.5,696.0C589.2,697.0 584.4,700.9 583.8,701.7C583.1,702.5 582.3,705.2 582.2,705.7C582.0,706.3 581.9,707.8 582.2,708.3C582.6,708.9 586.1,711.9 586.5,712.2L576.5,712.2C576.8,711.9 580.3,708.9 580.7,708.3C581.0,707.8 580.9,706.3 580.8,705.7C580.6,705.2 579.8,702.5 579.2,701.7C578.5,700.9 573.7,697.0 573.5,696.0C573.2,695.0 575.8,690.4 575.7,689.5C575.6,688.7 572.5,686.5 572.2,685.8C572.0,685.1 572.9,682.1 572.9,681.4C572.8,680.7 571.8,678.4 571.8,677.7C571.7,677.0 572.1,674.3 572.2,673.3C572.4,672.3 573.2,667.1 573.5,666.0C573.7,665.0 574.9,661.5 575.2,660.4C575.6,659.2 576.9,653.9 577.2,652.3C577.6,650.6 579.2,642.8 579.5,640.9C579.7,639.0 580.5,631.5 580.7,629.6C580.8,627.7 581.1,621.7 581.2,618.2C581.2,614.8 581.4,590.6 581.5,588.1Z" fill="#e2431c" stroke="#000" stroke-opacity="0.55" stroke-width="0.35" stroke-linejoin="round"/>
<path d="M581.5,588.1V712.2" stroke="#3a3a3a" stroke-opacity="0.75" stroke-width="0.45"/>
<rect x="578.9" y="666.5" width="5.2" height="19.8" fill="#000" fill-opacity="0.3" stroke="#000" stroke-opacity="0.45" stroke-width="0.3"/>
<path d="M578.9,678.8h5.2" stroke="#000" stroke-opacity="0.5" stroke-width="0.5"/>
<text x="579.6" y="721.8" font-size="5.5" text-anchor="middle" fill="#222">Smooth muscle cell</text>
<path d="M622.1,628.8C622.1,630.3 622.3,644.8 622.3,647.4C622.4,650.0 622.6,657.6 622.7,659.4C622.8,661.1 623.5,667.1 623.7,668.5C623.9,669.8 624.7,674.4 624.9,675.4C625.1,676.4 625.9,679.8 626.1,680.6C626.3,681.4 627.2,683.9 627.1,684.7C627.0,685.4 625.0,688.3 625.3,689.2C625.6,690.1 631.0,695.0 630.9,696.0C630.8,697.0 625.0,700.4 624.4,701.2C623.8,702.0 623.9,704.7 624.0,705.2C624.1,705.8 624.9,707.4 625.3,707.8C625.7,708.2 628.5,709.6 629.1,709.9C629.7,710.3 632.2,712.0 632.5,712.2L611.7,712.2C612.0,712.0 614.5,710.3 615.1,709.9C615.7,709.6 618.5,708.2 618.9,707.8C619.3,707.4 620.1,705.8 620.2,705.2C620.3,704.7 620.4,702.0 619.8,701.2C619.2,700.4 613.4,697.0 613.3,696.0C613.2,695.0 618.6,690.1 618.9,689.2C619.2,688.3 617.2,685.4 617.1,684.7C617.0,683.9 617.9,681.4 618.1,680.6C618.3,679.8 619.1,676.4 619.3,675.4C619.5,674.4 620.3,669.8 620.5,668.5C620.7,667.1 621.4,661.1 621.5,659.4C621.6,657.6 621.8,650.0 621.8,647.4C621.9,644.8 622.1,630.3 622.1,628.8Z" fill="#62f29e" stroke="#000" stroke-opacity="0.55" stroke-width="0.35" stroke-linejoin="round"/>
<path d="M622.1,628.8V712.2" stroke="#3a3a3a" stroke-opacity="0.75" stroke-width="0.45"/>
<rect x="619.5" y="686.4" width="5.2" height="25.8" fill="#000" fill-opacity="0.3" stroke="#000" stroke-opacity="0.45" stroke-width="0.3"/>
<path d="M619.5,696.0h5.2" stroke="#000" stroke-opacity="0.5" stroke-width="0.5"/>
<text x="623.2" y="721.8" font-size="5.5" text-anchor="middle" fill="#222">CDC cell</text>
<path d="M662.8,583.1C662.8,583.6 663.2,588.1 663.4,589.1C663.5,590.1 664.3,594.0 664.5,594.9C664.8,595.9 666.0,599.5 666.4,600.4C666.7,601.4 668.1,605.0 668.5,606.3C669.0,607.5 671.2,614.1 671.5,615.5C671.9,616.8 672.6,621.2 672.6,622.3C672.6,623.4 672.0,627.8 671.5,629.1C671.1,630.4 668.3,636.8 667.8,638.3C667.2,639.9 664.9,646.1 664.5,647.4C664.2,648.7 663.4,652.9 663.2,654.2C663.1,655.6 663.0,661.0 663.0,663.6C663.0,666.2 662.8,683.8 662.8,685.6L662.8,685.6C662.7,683.8 662.5,666.2 662.5,663.6C662.5,661.0 662.4,655.6 662.2,654.2C662.1,652.9 661.3,648.7 661.0,647.4C660.6,646.1 658.3,639.9 657.8,638.3C657.2,636.8 654.4,630.4 654.0,629.1C653.5,627.8 652.9,623.4 652.9,622.3C652.9,621.2 653.6,616.8 654.0,615.5C654.3,614.1 656.5,607.5 657.0,606.3C657.4,605.0 658.8,601.4 659.1,600.4C659.5,599.5 660.7,595.9 661.0,594.9C661.2,594.0 662.0,590.1 662.1,589.1C662.3,588.1 662.7,583.6 662.8,583.1Z" fill="#b8240f" stroke="#000" stroke-opacity="0.55" stroke-width="0.35" stroke-linejoin="round"/>
<path d="M662.8,583.1V685.6" stroke="#3a3a3a" stroke-opacity="0.75" stroke-width="0.45"/>
<rect x="660.1" y="615.5" width="5.2" height="16.4" fill="#000" fill-opacity="0.3" stroke="#000" stroke-opacity="0.45" stroke-width="0.3"/>
<path d="M660.1,622.8h5.2" stroke="#000" stroke-opacity="0.5" stroke-width="0.5"/>
<text x="663.4" y="721.8" font-size="5.5" text-anchor="middle" fill="#222">Podocyte</text></g>
<g id="labels"><text x="11.5" y="18.7" font-size="27.5" font-weight="bold" fill="#000">a</text><text x="10" y="242.2" font-size="27.5" font-weight="bold" fill="#000">b</text><text x="253.7" y="18.4" font-size="27.5" font-weight="bold" fill="#000">c</text><text x="9.8" y="377.7" font-size="27.5" font-weight="bold" fill="#000">d</text><text x="486.3" y="374.5" font-size="27.5" font-weight="bold" fill="#000">e</text><text x="13.6" y="536.8" font-size="27.5" font-weight="bold" fill="#000">f</text><text x="258.2" y="556.6" font-size="27.5" font-weight="bold" fill="#000">g</text></g>
</svg></body></html>
